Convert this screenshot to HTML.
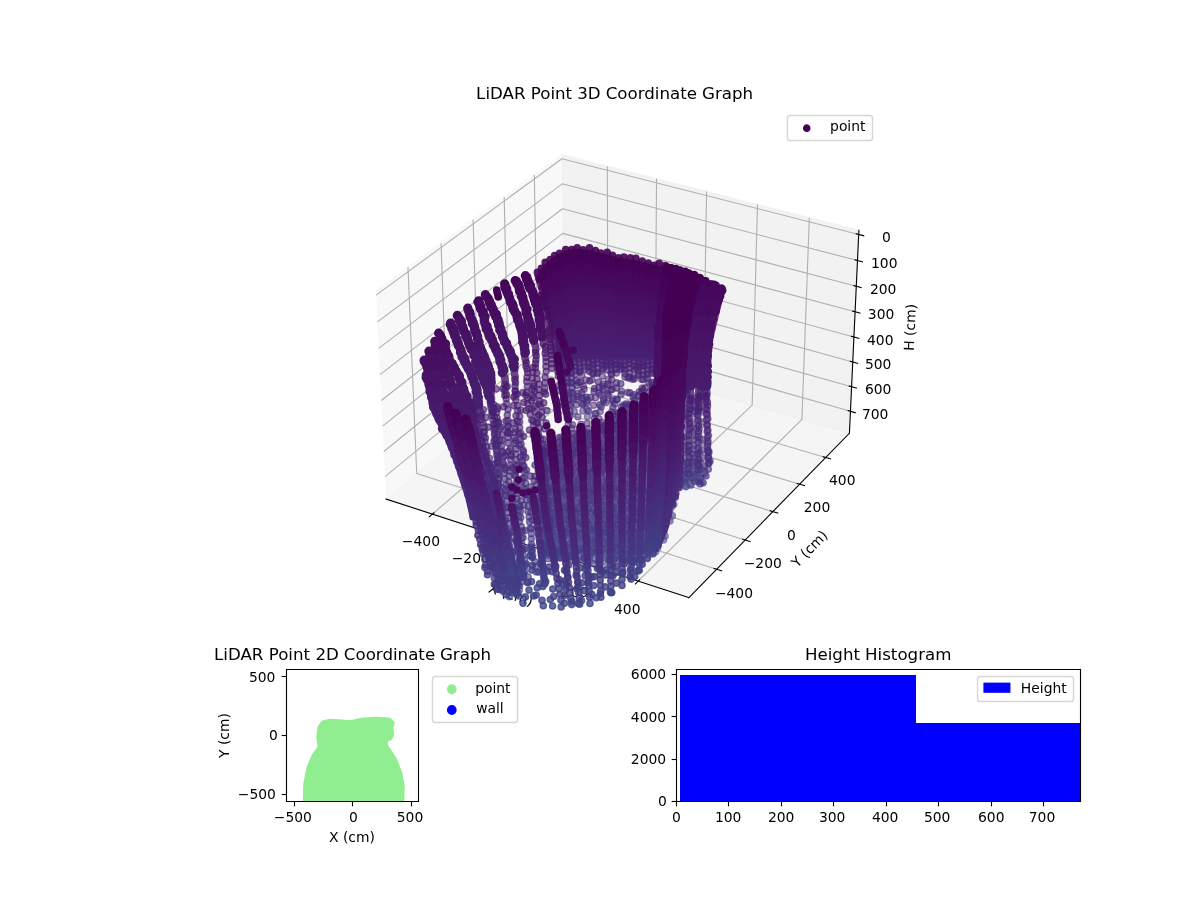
<!DOCTYPE html>
<html lang="en"><head><meta charset="utf-8"><title>LiDAR Point Coordinate Graphs</title>
<style>html,body{margin:0;padding:0;background:#fff;overflow:hidden}svg{display:block;will-change:transform}</style></head>
<body>
<svg width="1200" height="900" viewBox="0 0 864 648">
<defs>
<style type="text/css">*{stroke-linejoin: round; stroke-linecap: butt}</style>
</defs>
<g id="figure_1">
<g id="patch_1">
<path d="M 0 648 L 864 648 L 864 0 L 0 0 z
" style="fill: #ffffff"/>
</g>
<g id="patch_2">
<path d="M 252.72 457.92 L 632.88 457.92 L 632.88 77.76 L 252.72 77.76 z
" style="fill: #ffffff"/>
</g>
<g id="pane3d_1">
<g id="patch_3">
<path d="M 270.649807 209.421571 L 404.544158 111.363139 L 406.194684 252.500276 L 278.005556 359.306246 
" style="fill: #f2f2f2; opacity: 0.5; stroke: #f2f2f2; stroke-linejoin: miter"/>
</g>
</g>
<g id="pane3d_2">
<g id="patch_4">
<path d="M 404.544158 111.363139 L 618.399445 165.797632 L 611.588289 311.885587 L 406.194684 252.500276 
" style="fill: #e6e6e6; opacity: 0.5; stroke: #e6e6e6; stroke-linejoin: miter"/>
</g>
</g>
<g id="pane3d_3">
<g id="patch_5">
<path d="M 278.005556 359.306246 L 495.989588 430.291702 L 611.588289 311.885587 L 406.194684 252.500276 
" style="fill: #ececec; opacity: 0.5; stroke: #ececec; stroke-linejoin: miter"/>
</g>
</g>
<g id="grid3d_1">
<g id="Line3DCollection_1">
<path d="M 311.305483 370.150208 L 437.69361 261.607538 L 437.285307 119.697035 
" style="fill: none; stroke: #b0b0b0; stroke-width: 0.8"/>
<path d="M 347.354485 381.889393 L 471.743036 271.452225 L 472.700105 128.71148 
" style="fill: none; stroke: #b0b0b0; stroke-width: 0.8"/>
<path d="M 384.063623 393.843548 L 506.362798 281.461813 L 508.732165 137.883041 
" style="fill: none; stroke: #b0b0b0; stroke-width: 0.8"/>
<path d="M 421.451198 406.018632 L 541.567347 291.64048 L 545.397769 147.215864 
" style="fill: none; stroke: #b0b0b0; stroke-width: 0.8"/>
<path d="M 459.536194 418.420828 L 577.371627 301.992547 L 582.713773 156.714239 
" style="fill: none; stroke: #b0b0b0; stroke-width: 0.8"/>
</g>
</g>
<g id="grid3d_2">
<g id="Line3DCollection_2">
<path d="M 293.732912 192.516503 L 300.039382 340.94787 L 515.935031 409.861867 
" style="fill: none; stroke: #b0b0b0; stroke-width: 0.8"/>
<path d="M 317.54512 175.077472 L 322.797789 321.98578 L 536.503276 388.794104 
" style="fill: none; stroke: #b0b0b0; stroke-width: 0.8"/>
<path d="M 340.624724 158.174968 L 344.883804 303.583922 L 556.431751 368.381648 
" style="fill: none; stroke: #b0b0b0; stroke-width: 0.8"/>
<path d="M 363.005022 141.784605 L 366.32679 285.717829 L 575.74985 348.594392 
" style="fill: none; stroke: #b0b0b0; stroke-width: 0.8"/>
<path d="M 384.717322 125.883456 L 387.154427 268.364438 L 594.485192 329.404047 
" style="fill: none; stroke: #b0b0b0; stroke-width: 0.8"/>
</g>
</g>
<g id="grid3d_3">
<g id="Line3DCollection_3">
<path d="M 618.258725 168.815845 L 404.578192 114.273366 L 270.802017 212.523078 
" style="fill: none; stroke: #b0b0b0; stroke-width: 0.8"/>
<path d="M 617.38446 187.56736 L 404.789698 132.359366 L 271.747438 231.787481 
" style="fill: none; stroke: #b0b0b0; stroke-width: 0.8"/>
<path d="M 616.519125 206.127355 L 404.999151 150.269774 L 272.68282 250.847337 
" style="fill: none; stroke: #b0b0b0; stroke-width: 0.8"/>
<path d="M 615.662584 224.498747 L 405.20658 168.007136 L 273.608324 269.705887 
" style="fill: none; stroke: #b0b0b0; stroke-width: 0.8"/>
<path d="M 614.814702 242.684398 L 405.412015 185.573947 L 274.524103 288.366302 
" style="fill: none; stroke: #b0b0b0; stroke-width: 0.8"/>
<path d="M 613.975349 260.68711 L 405.615484 202.972656 L 275.430311 306.831689 
" style="fill: none; stroke: #b0b0b0; stroke-width: 0.8"/>
<path d="M 613.144398 278.50963 L 405.817016 220.205665 L 276.327098 325.105089 
" style="fill: none; stroke: #b0b0b0; stroke-width: 0.8"/>
<path d="M 612.321723 296.15465 L 406.016636 237.275328 L 277.214608 343.189482 
" style="fill: none; stroke: #b0b0b0; stroke-width: 0.8"/>
</g>
</g>
<g id="axis3d_1">
<g id="line2d_1">
<path d="M 278.005556 359.306246 L 495.989588 430.291702 
" style="fill: none; stroke: #000000; stroke-width: 0.8; stroke-linecap: square"/>
</g>
<g id="xtick_1">
<g id="line2d_2">
<path d="M 312.40837 369.203044 L 309.094854 372.048706 
" style="fill: none; stroke: #000000; stroke-width: 0.8; stroke-linecap: square"/>
</g>
<g id="text_1">
<g transform="translate(-0.54 0)"><text style="font-size: 10px; font-family: 'DejaVu Sans', 'Liberation Sans', sans-serif; text-anchor: middle" x="303.602334" y="393.062828">−400</text></g>
</g>
</g>
<g id="xtick_2">
<g id="line2d_3">
<path d="M 348.440742 380.92497 L 345.177145 383.822523 
" style="fill: none; stroke: #000000; stroke-width: 0.8; stroke-linecap: square"/>
</g>
<g id="text_2">
<g transform="translate(-0.72 0.72)"><text style="font-size: 10px; font-family: 'DejaVu Sans', 'Liberation Sans', sans-serif; text-anchor: middle" x="339.686619" y="404.975681">−200</text></g>
</g>
</g>
<g id="xtick_3">
<g id="line2d_4">
<path d="M 385.132454 392.86139 L 381.92117 395.812266 
" style="fill: none; stroke: #000000; stroke-width: 0.8; stroke-linecap: square"/>
</g>
<g id="text_3">
<g transform="translate(0.36 0.72)"><text style="font-size: 10px; font-family: 'DejaVu Sans', 'Liberation Sans', sans-serif; text-anchor: middle" x="376.433636" y="417.107327">0</text></g>
</g>
</g>
<g id="xtick_4">
<g id="line2d_5">
<path d="M 422.501771 405.018246 L 419.3453 408.023931 
" style="fill: none; stroke: #000000; stroke-width: 0.8; stroke-linecap: square"/>
</g>
<g id="text_4">
<g transform="translate(0.18 0.72)"><text style="font-size: 10px; font-family: 'DejaVu Sans', 'Liberation Sans', sans-serif; text-anchor: middle" x="413.861812" y="429.463852">200</text></g>
</g>
</g>
<g id="xtick_5">
<g id="line2d_6">
<path d="M 460.567638 417.401701 L 457.468595 420.463737 
" style="fill: none; stroke: #000000; stroke-width: 0.8; stroke-linecap: square"/>
</g>
<g id="text_5">
<g transform="translate(-0.36 0)"><text style="font-size: 10px; font-family: 'DejaVu Sans', 'Liberation Sans', sans-serif; text-anchor: middle" x="451.990263" y="442.051565">400</text></g>
</g>
</g>
<g id="text_6">
<g transform="translate(0.18 0.72)"><text style="font-size: 10px; font-family: 'DejaVu Sans', 'Liberation Sans', sans-serif; text-anchor: middle" x="366.564638" y="430.640746" transform="rotate(-341.962409 366.564638 430.640746)">X (cm)</text></g>
</g>
</g>
<g id="axis3d_2">
<g id="line2d_7">
<path d="M 611.588289 311.885587 L 495.989588 430.291702 
" style="fill: none; stroke: #000000; stroke-width: 0.8; stroke-linecap: square"/>
</g>
<g id="xtick_6">
<g id="line2d_8">
<path d="M 514.114542 409.280766 L 519.580775 411.02559 
" style="fill: none; stroke: #000000; stroke-width: 0.8; stroke-linecap: square"/>
</g>
<g id="text_7">
<g transform="translate(-0.54 0)"><text style="font-size: 10px; font-family: 'DejaVu Sans', 'Liberation Sans', sans-serif; text-anchor: middle" x="528.996032" y="430.235826">−400</text></g>
</g>
</g>
<g id="xtick_7">
<g id="line2d_9">
<path d="M 534.702714 388.231215 L 540.109039 389.921333 
" style="fill: none; stroke: #000000; stroke-width: 0.8; stroke-linecap: square"/>
</g>
<g id="text_8">
<g transform="translate(-0.18 0)"><text style="font-size: 10px; font-family: 'DejaVu Sans', 'Liberation Sans', sans-serif; text-anchor: middle" x="549.371177" y="408.952405">−200</text></g>
</g>
</g>
<g id="xtick_8">
<g id="line2d_10">
<path d="M 554.650767 367.836128 L 559.998239 369.474073 
" style="fill: none; stroke: #000000; stroke-width: 0.8; stroke-linecap: square"/>
</g>
<g id="text_9">
<g transform="translate(0.72 0.72)"><text style="font-size: 10px; font-family: 'DejaVu Sans', 'Liberation Sans', sans-serif; text-anchor: middle" x="569.112155" y="388.331423">0</text></g>
</g>
</g>
<g id="xtick_9">
<g id="line2d_11">
<path d="M 573.988097 348.065449 L 579.277757 349.653601 
" style="fill: none; stroke: #000000; stroke-width: 0.8; stroke-linecap: square"/>
</g>
<g id="text_10">
<text style="font-size: 10px; font-family: 'DejaVu Sans', 'Liberation Sans', sans-serif; text-anchor: middle" x="588.248117" y="368.342426">200</text>
</g>
</g>
<g id="xtick_10">
<g id="line2d_12">
<path d="M 592.742329 328.890936 L 597.975205 330.43153 
" style="fill: none; stroke: #000000; stroke-width: 0.8; stroke-linecap: square"/>
</g>
<g id="text_11">
<g transform="translate(-0.36 0)"><text style="font-size: 10px; font-family: 'DejaVu Sans', 'Liberation Sans', sans-serif; text-anchor: middle" x="606.806458" y="348.956799">400</text></g>
</g>
</g>
<g id="text_12">
<g transform="translate(-0.72 0.36)"><text style="font-size: 10px; font-family: 'DejaVu Sans', 'Liberation Sans', sans-serif; text-anchor: middle" x="585.993013" y="397.180198" transform="rotate(-45.687359 585.993013 397.180198)">Y (cm)</text></g>
</g>
</g>
<g id="axis3d_3">
<g id="line2d_13">
<path d="M 611.588289 311.885587 L 618.399445 165.797632 
" style="fill: none; stroke: #000000; stroke-width: 0.8; stroke-linecap: square"/>
</g>
<g id="xtick_11">
<g id="line2d_14">
<path d="M 616.460211 168.35677 L 621.860293 169.735155 
" style="fill: none; stroke: #000000; stroke-width: 0.8; stroke-linecap: square"/>
</g>
<g id="text_13">
<g transform="translate(0.54 0)"><text style="font-size: 10px; font-family: 'DejaVu Sans', 'Liberation Sans', sans-serif; text-anchor: middle" x="637.61975" y="173.978823">0</text></g>
</g>
</g>
<g id="xtick_12">
<g id="line2d_15">
<path d="M 615.59554 187.102802 L 620.966794 188.497644 
" style="fill: none; stroke: #000000; stroke-width: 0.8; stroke-linecap: square"/>
</g>
<g id="text_14">
<text style="font-size: 10px; font-family: 'DejaVu Sans', 'Liberation Sans', sans-serif; text-anchor: middle" x="636.648264" y="192.701225">100</text>
</g>
</g>
<g id="xtick_13">
<g id="line2d_16">
<path d="M 614.739696 205.657448 L 620.082429 207.068341 
" style="fill: none; stroke: #000000; stroke-width: 0.8; stroke-linecap: square"/>
</g>
<g id="text_15">
<g transform="translate(0.18 0.72)"><text style="font-size: 10px; font-family: 'DejaVu Sans', 'Liberation Sans', sans-serif; text-anchor: middle" x="635.686679" y="211.232825">200</text></g>
</g>
</g>
<g id="xtick_14">
<g id="line2d_17">
<path d="M 613.892546 224.023625 L 619.207058 225.450172 
" style="fill: none; stroke: #000000; stroke-width: 0.8; stroke-linecap: square"/>
</g>
<g id="text_16">
<g transform="translate(-0.36 0)"><text style="font-size: 10px; font-family: 'DejaVu Sans', 'Liberation Sans', sans-serif; text-anchor: middle" x="634.734844" y="229.576525">300</text></g>
</g>
</g>
<g id="xtick_15">
<g id="line2d_18">
<path d="M 613.053958 242.20419 L 618.340544 243.646002 
" style="fill: none; stroke: #000000; stroke-width: 0.8; stroke-linecap: square"/>
</g>
<g id="text_17">
<g transform="translate(0 0.72)"><text style="font-size: 10px; font-family: 'DejaVu Sans', 'Liberation Sans', sans-serif; text-anchor: middle" x="633.792611" y="247.735169">400</text></g>
</g>
</g>
<g id="xtick_16">
<g id="line2d_19">
<path d="M 612.223802 260.201942 L 617.482755 261.658641 
" style="fill: none; stroke: #000000; stroke-width: 0.8; stroke-linecap: square"/>
</g>
<g id="text_18">
<g transform="translate(-0.54 0)"><text style="font-size: 10px; font-family: 'DejaVu Sans', 'Liberation Sans', sans-serif; text-anchor: middle" x="632.859836" y="265.711542">500</text></g>
</g>
</g>
<g id="xtick_17">
<g id="line2d_20">
<path d="M 611.401951 278.019625 L 616.633558 279.490841 
" style="fill: none; stroke: #000000; stroke-width: 0.8; stroke-linecap: square"/>
</g>
<g id="text_19">
<g transform="translate(0.36 0)"><text style="font-size: 10px; font-family: 'DejaVu Sans', 'Liberation Sans', sans-serif; text-anchor: middle" x="631.936377" y="283.508377">600</text></g>
</g>
</g>
<g id="xtick_18">
<g id="line2d_21">
<path d="M 610.588283 295.659927 L 615.792825 297.1453 
" style="fill: none; stroke: #000000; stroke-width: 0.8; stroke-linecap: square"/>
</g>
<g id="text_20">
<g transform="translate(-0.9 0.72)"><text style="font-size: 10px; font-family: 'DejaVu Sans', 'Liberation Sans', sans-serif; text-anchor: middle" x="631.022095" y="301.128348">700</text></g>
</g>
</g>
<g id="text_21">
<g transform="translate(-0.18 0.9)"><text style="font-size: 10px; font-family: 'DejaVu Sans', 'Liberation Sans', sans-serif; text-anchor: middle" x="658.858044" y="234.942478" transform="rotate(-87.330594 658.858044 234.942478)">H (cm)</text></g>
</g>
</g>
<g id="axes_1">
<defs>
<path id="mafe2799c75" d="M 0 2.236068 C 0.593012 2.236068 1.161816 2.000462 1.581139 1.581139 C 2.000462 1.161816 2.236068 0.593012 2.236068 0 C 2.236068 -0.593012 2.000462 -1.161816 1.581139 -1.581139 C 1.161816 -2.000462 0.593012 -2.236068 0 -2.236068 C -0.593012 -2.236068 -1.161816 -2.000462 -1.581139 -1.581139 C -2.000462 -1.161816 -2.236068 -0.593012 -2.236068 0 C -2.236068 0.593012 -2.000462 1.161816 -1.581139 1.581139 C -1.161816 2.000462 -0.593012 2.236068 0 2.236068 z
" style="stroke: #440154"/>
</defs><g id="pts3d" transform="scale(0.72)"><style>#pts3d path.d{fill:none;stroke-linecap:round;stroke-width:7.59px}#pts3d path.w{stroke-width:9.4px}</style><linearGradient id="gA" gradientUnits="userSpaceOnUse" x1="0" y1="258" x2="0" y2="357"><stop offset="0" stop-color="#440154"/><stop offset=".2" stop-color="#460a5d"/><stop offset=".5" stop-color="#471365"/><stop offset=".8" stop-color="#481b6d"/><stop offset="1" stop-color="#482475"/></linearGradient><path d="M540.5 274L545.7 267.3L554.8 259.1L565.8 253L575 251.3L589.7 252.8L604.3 256.5L617.2 260.3L633.7 262.4L648.3 265.9L659.3 268.5L666.7 270.9L675.8 273.5L685 276.1L694.2 279.5L705.2 284.8L714.3 288.4L718.5 292L708 318L703 345L700 357L562 357L557 340L551 318L545 296Z" fill="url(#gA)" stroke="url(#gA)" stroke-width="5" stroke-linejoin="round"/><linearGradient id="gC" gradientUnits="userSpaceOnUse" x1="0" y1="270" x2="0" y2="550"><stop offset="0" stop-color="#440154"/><stop offset=".2" stop-color="#460b5e"/><stop offset=".5" stop-color="#481668"/><stop offset=".8" stop-color="#482071"/><stop offset="1" stop-color="#482979"/></linearGradient><path d="M668 275L697 284L696 318L694 350L690 380L683 400L679 440L677 478L672 500L666 528L659 545L652 543L656 480L663 420L668 360L669 310Z" fill="url(#gC)" stroke="url(#gC)" stroke-width="5" stroke-linejoin="round"/><linearGradient id="gB" gradientUnits="userSpaceOnUse" x1="0" y1="395" x2="0" y2="520"><stop offset="0" stop-color="#471063"/><stop offset=".2" stop-color="#48186a"/><stop offset=".5" stop-color="#482173"/><stop offset=".8" stop-color="#482979"/><stop offset="1" stop-color="#46307e"/></linearGradient><path d="M431 400L436 413L454 455L467.5 497L471 512L472 518L488 518L488 505L486 493L476 463L462 422L452 400Z" fill="url(#gB)" stroke="url(#gB)" stroke-width="5" stroke-linejoin="round"/><linearGradient id="gE" gradientUnits="userSpaceOnUse" x1="0" y1="400" x2="0" y2="555"><stop offset="0" stop-color="#482878"/><stop offset=".2" stop-color="#472e7c"/><stop offset=".5" stop-color="#463480"/><stop offset=".8" stop-color="#443a83"/><stop offset="1" stop-color="#424086"/></linearGradient><path d="M542 450L560 440L600 430L640 410L660 392L672 402L672 490L668 520L658 540L640 552L600 552L548 545L540 500Z" fill="url(#gE)" stroke="url(#gE)" stroke-width="5" stroke-linejoin="round" opacity=".6"/><path class="d" d="M657.9 388.8h0m1.9 4.2h0m-6.9 3.3h0m13.8-.1h0m-11.8 4.9h0m14.5 1.1h0m-25.2 3.8h0m15.8-1.6h0m12 .8h0m-31.9 2.3h0m14 1.8h0m17.1-.4h0" stroke="#482475" stroke-opacity=".6"/><path class="d" d="M662.9 390.3h0m2.4 2.1h0m-6.9 6.2h0m-12.9 3.7h0m14.4-1.1h0m14.1-.6h0m-25.1 3h0m14 1.5h0m-29.4 4.6h0m12.5-.6h0m13.4-.3h0" stroke="#482475" stroke-opacity=".6"/><path class="d" d="M656.3 392.4h0m-7.6 5.8h0m13.4-2.2h0m-10.8 4h0m14.8 .7h0m-26.2 4.5h0m12.4-1.4h0m13.7-.3h0m-28.6 4.9h0m13.3 .2h0m15.7-.5h0" stroke="#482475" stroke-opacity=".6"/><path class="d" d="M671.7 410.2h0m-37.8 2.4h0m15-.9h0m14.9 2.4h0m-44.8 2.3h0m13.4 1.4h0m12.5-1.1h0m14.5-.9h0m16.2 1.6h0m-55.8 4.4h0m14.9-.1h0m13.2-.5h0m14.6 .1h0m-62.2 3.8h0m12.9 0h0m15.2-.4h0m13.8-.3h0m13.6 2.1h0m14.7-1.8h0m-75.5 3.6h0m12.2-1h0m14.2 .5h0m13.5 .7h0m12.5 .9h0m15.3-1.5h0" stroke="#482878" stroke-opacity=".6"/><path class="d" d="M624.6 413.9h0m14.2-.5h0m15.3-1.1h0m14.1 .9h0m-44.9 4.3h0m14.6 .7h0m12.4-1.5h0m13 .3h0m-52.3 4.1h0m14.4-.6h0m14.6 .3h0m13.7-.5h0m13.3 .9h0m-62.5 4.6h0m13.3-.4h0m15 .6h0m13.6-.7h0m13.9-1h0m13.7 .6h0m-75.9 3.8h0m13.7 1.2h0m13.6-1.2h0m14 1.2h0m14.3-.8h0m13.8-.7h0" stroke="#482878" stroke-opacity=".6"/><path class="d" d="M630.1 413h0m14-.1h0m12.4 .8h0m15.7 0h0m-43.3 1.6h0m12.9 1.4h0m15 .5h0m12.3-.1h0m-53.5 3.1h0m13.8 1.6h0m15.3-2.3h0m12.8 .2h0m13.2 2h0m-60.3 2.7h0m13.1-1.1h0m12.3 1.2h0m14.3 .8h0m14.5-1.8h0m-76.1 5.4h0m12.7 .8h0m14.1-.9h0m14.2-.1h0m15 .4h0m13.3-.1h0m13.9-2.3h0" stroke="#482878" stroke-opacity=".6"/><path class="d" d="M568.5 434.1h0m13.4-1.8h0m12.8 1.4h0m15.2-1.1h0m13 2.7h0m14.5-2.9h0m12 1h0m16-.7h0m-106.7 5.1h0m12.3 .3h0m13.8-2h0m12.2 1.5h0m14.2 .6h0m14-1.7h0m15 .6h0m12.6-1.1h0m14.2 .9h0m-108 4.2h0m15.3-.2h0m12.5-.1h0m12 1.6h0m16-2.8h0m14.6 1.3h0m13.1-1h0m13.8 .8h0m12.3-.2h0m-125.2 4.4h0m14.1-.1h0m13.6-.1h0m13.8 .5h0m12.7-.7h0m15.1 0h0m13.5 1.5h0m12.9-1.8h0m15.8 .2h0m11.8-.3h0m-122 5.2h0m14.7-1.4h0m14.1 1.3h0m12.7-1.4h0m15 1h0m12.8-.8h0m14.2 .1h0" stroke="#472a7a" stroke-opacity=".6"/><path class="d" d="M573 433.7h0m13.5-1.5h0m15 1h0m11.8 0h0m14.8-1.1h0m13.4-.1h0m13.3 1h0m13.8-.7h0m-108.1 4.9h0m14.8-2.1h0m12.7 .9h0m15.2 1h0m12.1 .5h0m14.2-.6h0m15.2 0h0m14-1.6h0m13 1.3h0m-107.7 3.5h0m13 1.2h0m12.1-1h0m14.9 1.1h0m14.9-1.5h0m13.6 .6h0m13.1 .3h0m13.9 .6h0m13.5 .5h0m-124.2 2.1h0m13.7 .3h0m12 .6h0m15.6 .5h0m13.9-1.6h0m12.1-.6h0m13.7 .1h0m12.9 2.1h0m16.7-1.2h0m11.2-.3h0m-121.5 5h0m15.3-1.3h0m14.2 1.5h0m12.7-1.4h0m14 .2h0m14 .5h0m15.6 1.4h0" stroke="#472a7a" stroke-opacity=".6"/><path class="d" d="M577.4 433h0m13.4 1h0m14.7-1.7h0m13.8 .8h0m12.8 .5h0m13.2-1.7h0m14.4 .7h0m14.8 .4h0m-108.6 3.9h0m14.7-.3h0m11.7 .2h0m14.5-1.5h0m14 1.9h0m13.5-1.1h0m15.4-.1h0m12.3 1.8h0m-108.3 3.4h0m14.4 .2h0m14.2-1.1h0m13.7-1.4h0m14.1 1.9h0m14.7 1.2h0m12.5-2.8h0m13.9 1.1h0m13 1.6h0m-126.1 4h0m13.8-1.5h0m14.2 0h0m13.5-.2h0m12.7 .5h0m15.5-1.3h0m13.3 .7h0m13.9 2.6h0m13.3-2.7h0m13.2 .6h0m-120.3 4.6h0m14.2-1.2h0m11.8-.1h0m17.2 1h0m11.2-.3h0m14.9 1.1h0m12.1-2.6h0m14.5 .6h0" stroke="#472a7a" stroke-opacity=".6"/><path class="d" d="M642 450.9h0" stroke="#472e7c" stroke-opacity=".6"/><path class="d" d="M646.4 448.4h0m5.5-1h0m5.4 1.6h0" stroke="#472a7a" stroke-opacity=".6"/><path class="d" d="M660.4 450h0m4.8 .1h0" stroke="#472e7c" stroke-opacity=".6"/><path class="d" d="M669 449.5h0m3.7-.3h0" stroke="#472a7a" stroke-opacity=".6"/><path class="d" d="M539.1 451.6h0m11.5-.2h0m14.5 1.6h0m15.6 .9h0m12.4 0h0m15.1-1.3h0" stroke="#472e7c" stroke-opacity=".6"/><path class="d" d="M543.5 452.3h0m13.9 .9h0m14 .2h0m13.8 .4h0m14-.6h0" stroke="#472e7c" stroke-opacity=".6"/><path class="d" d="M548.4 453.5h0m13.3-1.3h0m15-.5h0m10.2 .4h0m14.9 .2h0" stroke="#472e7c" stroke-opacity=".6"/><path class="d" d="M610.5 450h0" stroke="#472a7a" stroke-opacity=".6"/><path class="d" d="M616.9 452.4h0m13.4 .9h0m13.3-.6h0m14.2 .1h0m14.8-.9h0m-122.1 4.9h0m13.4 .9h0m12.3-.2h0m15.1-.1h0m13.9-.2h0m13.9 .7h0m13-.9h0m13.7-1.5h0m13.2 2.4h0m15.2-.1h0m-128.2 1.2h0m15.2 1.7h0m15.1-.3h0m12.4 0h0m14.4 0h0m12.8 .2h0m14.8-.1h0m14.7 1h0m13.4-1.1h0m13.1 .7h0m-127.4 3.6h0m15.3 .6h0m12.8-1.1h0m14.9-.6h0m13.2 1.1h0m13.2 1.4h0m13.9-2.6h0m14.6-.2h0m13.5 1.9h0m14.4 .1h0m-126.2 3.7h0m12.7-.5h0m13.9 .4h0m13 .2h0m12.6-.1h0m15.9 .7h0m12.8-1.2h0m16.5-1h0m11.8 1.3h0m14.7 .4h0" stroke="#472e7c" stroke-opacity=".6"/><path class="d" d="M621.5 454.5h0m14.4-2.6h0m13.5 .2h0m12.9-1.2h0m-120.6 6.4h0m13.7 .6h0m13.6-2.4h0m12.6 2h0m15.2-.5h0m13.5 .8h0m11.5-.9h0m14.6-.2h0m12.8 1.3h0m15.1-1.3h0m-126.5 4.3h0m14.4 .8h0m13.4-1.5h0m15 1.9h0m10.9-1h0m15.1-.6h0m14.2 .1h0m13.6-.4h0m15.2 .7h0m14.9 .1h0m-126.2 3.9h0m12-.4h0m12.3 .5h0m14.2 1.4h0m17.3-1.8h0m11.1-.5h0m14.2 .3h0m13.7-.8h0m13.4 1.3h0m14.6 .7h0m13 .1h0m-127 2.1h0m14.2 1.6h0m14.8-2.2h0m14.1 1.8h0m13.1 0h0m13.2-1.5h0m14.5 2.3h0m13.5-1.5h0m14.2 .4h0m12.9-1.7h0" stroke="#472e7c" stroke-opacity=".6"/><path class="d" d="M625 452h0m15.3 1.2h0m12-.6h0m14.2-.1h0m-120.1 5.3h0m13.4-.9h0m13.1-1.2h0m14.3-.2h0m14.4 1.4h0m13.3 .2h0m14.8-.4h0m13.3-1h0m12.7 3h0m13.8-.6h0m-127.1 2.3h0m14.2 .9h0m14.3-.8h0m14.8 .2h0m11.6 0h0m14.4 .7h0m13.4-.6h0m14.5-.3h0m13.8 2.5h0m14.8-1.7h0m-126.4 3h0m12.4 .3h0m14.2 .1h0m13.4 .8h0m14.2 .1h0m11.5-.1h0m15.9-1.2h0m14.5 2.2h0m13-2.3h0m13.5 .4h0m-126.3 4.9h0m11.7-.5h0m16.7 .5h0m13.8-1.5h0m13.4 1.2h0m14.4-.2h0m12.6-1h0m13.5 1.1h0m14.9-1.1h0m12.8-.7h0" stroke="#472e7c" stroke-opacity=".6"/><path class="d" d="M539.2 472.8h0m14.9-.7h0m14.2 .4h0m13.1 .4h0m14.1-.9h0m14.1 .6h0m15.4 1.1h0m11.5-.8h0m14.7-.9h0m13.7-.1h0m-126.4 7.1h0m13.7-3.6h0m12.3 2h0m15.6-1.4h0m12.6 1.4h0m14.8 1.1h0m13.6-2h0m14.1-.5h0m15.3 .8h0m10.7-.8h0m-120.5 5.2h0m14.4-.4h0m13.1-.1h0m13.2-1.3h0m13.7 1h0m14.7 .5h0m13.2 0h0m13.5-.1h0m15-.3h0m14.4-1.8h0m-129 5.4h0m15 3.3h0m13.9-.9h0m13.2-2h0m14.2 1.1h0m14.1-1.3h0m13.7 .4h0m15.3-.2h0m14.7-.5h0m9.7 .5h0m-118.9 3.9h0m13.2 .8h0m12.8-2.1h0m13.1 .9h0m12.3 1.1h0m17.4-1.2h0m11.2 1.6h0m15.3-.9h0m14.5-.7h0m13.1 1.8h0" stroke="#46307e" stroke-opacity=".6"/><path class="d" d="M544.3 472.4h0m16.2-.6h0m11.4 .3h0m14.8 .8h0m14.3 .1h0m13.7 .6h0m13.4-.8h0m13.5-1.9h0m13.6 2.6h0m13.9-1.8h0m-126.7 4.7h0m15.5 1.2h0m12.7-3.1h0m14.7 2.3h0m12-1.4h0m15.1 1.8h0m12.5-1.3h0m13.1 1.3h0m14.4 0h0m14.4-1.8h0m-120.9 5.4h0m12.4-.5h0m15.5-.2h0m13 1.5h0m11.5-.8h0m14.9-.6h0m14.2-.5h0m14.1-.5h0m14.2 .2h0m15.1-.2h0m-127.6 5.7h0m14.2 .3h0m13.4-2.2h0m13.1 .3h0m12.5 1.7h0m15.1 1.3h0m13.1-2.1h0m15.3 1.6h0m14.1-1.3h0m13.3-1.1h0m-120.4 5.5h0m11.5-.4h0m14.9-.7h0m12.5 .4h0m15.5-.2h0m13.7 .3h0m13-1.1h0m14.3 1h0m12.1 .1h0m12.7 0h0" stroke="#46307e" stroke-opacity=".6"/><path class="d" d="M548.8 471.5h0m13.8 1.5h0m16.6-1.6h0m11.5 1.1h0m15.3-1.9h0m12.7 2.6h0m13.5 .1h0m14.2-.8h0m14.8 1.7h0m13.6-2.3h0m-127.2 4.8h0m13.6-.2h0m15-1.8h0m12.5 1.2h0m12.5-.3h0m14.5 .7h0m15 0h0m13.7 .7h0m14.2 .3h0m13-2.4h0m-121.6 5.6h0m13.8 .2h0m13.3-.2h0m14.5-.2h0m11.2 .9h0m17.9 1h0m12.8-3h0m13.4 1.4h0m13.7-.9h0m12.1 .8h0m-124.6 4.7h0m12.8 1.1h0m14.1-2h0m12.7 .9h0m15.2-1h0m13-.4h0m13 .5h0m14.7-.1h0m15.4 .4h0m13.5-1.4h0m-122.2 6.7h0m13.3-1.1h0m14.1-.2h0m13 .3h0m15.1-2.2h0m12.4 .7h0m15.3 2.2h0m13.2 0h0m14.2-2.2h0m10.9 1.8h0" stroke="#46307e" stroke-opacity=".6"/><path class="d" d="M537.9 492.7h0m14.7-.2h0m11.8 .6h0m14.3-.1h0m15.7 1.6h0m11.9-1.8h0m15.2-.3h0m15.8 .7h0m12.1-.4h0m14-.8h0m-121.6 5.1h0m13.9-.6h0m12.9-1.3h0m14.7 .5h0m10.9-1.7h0m16.7 1.8h0m12.4 .5h0m14.6 0h0m12.3-.1h0m13.1 .9h0m-125.9 3.8h0m15-.3h0m14.5-3.2h0m14.4 3.1h0m11-.1h0m14.5 1.4h0m13.9 .2h0m13.6-1.6h0m14.4-.4h0m14.2-1h0m-123.7 4.8h0m15.4 0h0m14-.2h0m12.8 1.6h0m14.9-.5h0m13.5-1.6h0m11.7 1.6h0m14.4 1.8h0m15.2-1.9h0m14.2 .2h0m-126.8 3.8h0m12.8-.5h0m13.8-1h0m12.6 1.3h0m16.1 .6h0m12.9 .4h0m15.2-.7h0m13 0h0m13.8-.8h0m13.9-.2h0" stroke="#463480" stroke-opacity=".6"/><path class="d" d="M543.1 492h0m13.8 1.9h0m13.8-2.4h0m13.1 .4h0m13 .5h0m15.2 .2h0m13.2-.7h0m14.2 .5h0m14.1-.8h0m14.3 2h0m-123.1 1.8h0m13.4 1.4h0m14.9-1.2h0m13.8 0h0m13.4 1.6h0m13.7-1h0m14.5 0h0m12.8 2.9h0m13.2-3.1h0m14 .7h0m-125.2 3.6h0m13.3-.9h0m14.2 1.3h0m12.1-.3h0m15.5 1.1h0m12.3-2.2h0m16.4 1.4h0m12.8-.1h0m14.1-.3h0m10.8 .9h0m-118.7 4.8h0m12.3-2.8h0m13 1.3h0m15.3 0h0m13.6-.1h0m13.2 2.7h0m13.5-2h0m14.2 .1h0m14.4 .8h0m12.7-1.3h0m-125.4 5.1h0m14.6-2h0m11.4 1.1h0m14.7-.5h0m15.4 .5h0m14.2-1.7h0m11.4 .5h0m15.3 1.6h0m14.3-1.3h0m14 1.2h0" stroke="#463480" stroke-opacity=".6"/><path class="d" d="M548.1 495.7h0m14-3.4h0m12.8 .3h0m16.2 .4h0m11.3-1.6h0m12.5 .7h0m14.3 0h0m14.5 .4h0m13.5 0h0m14.8 1.3h0m-122.3 3.7h0m14-2.3h0m12.6-.4h0m15 2.1h0m13.4-.6h0m13.4-.8h0m14.8 2.3h0m14-.1h0m13.9-1.2h0m12.7-.9h0m-124.2 3.2h0m11.9 .2h0m14.3 2.2h0m14.6 1.4h0m10.2-.9h0m17 .2h0m12.8-1.1h0m13.8-.5h0m13.7 .4h0m15.2-.1h0m-122.7 3.5h0m13.4 .2h0m13.2-1.2h0m14.8 .5h0m12.2 1.9h0m14.2-.2h0m13.8-1.1h0m15.9 0h0m12.3-.2h0m13.8 .6h0m-125.7 3.7h0m13.2-.5h0m13.8 .5h0m13.2 .4h0m13.6 .7h0m14.2-1.2h0m14.2 0h0m13.9 0h0m14.3 1.1h0m13.1-2.3h0" stroke="#463480" stroke-opacity=".6"/><path class="d" d="M542.4 512.8h0m13.3-.9h0m13.1-.1h0m12 1.4h0m15.1 0h0m13.8 1h0m12.6-2.3h0m13.5 .1h0m14.9 1.3h0m14.4-1.4h0m-122.8 4.9h0m13 .4h0m14.7-1.1h0m13.7-.3h0m14.7 .5h0m13.2 .1h0m12.9 .4h0m16.3-.9h0m12.9 2.1h0m11.7-1.8h0m-120 3.5h0m13.7 .4h0m15.1 1.5h0m13.4-.3h0m12.7-.7h0m15.4-.1h0m12.4 .1h0m14.7 .4h0m11.9 .4h0m15.2-.5h0m-116.3 3.9h0m13.6-.4h0m13.8-1.4h0m13.1 3.1h0m13.8-1.6h0m13.8 1h0m15.4-2.7h0m11.4 3.2h0m13.6-1.3h0m-112.6 4.6h0m14.4-.7h0" stroke="#453781" stroke-opacity=".6"/><path class="d" d="M544.2 513.5h0m15.8-1.7h0m13.8 .4h0m12.3 0h0m13.3 1.6h0m13.4-.7h0m16.8-2.4h0m12.7 2.5h0m12.9 .4h0m14.7-1h0m-122.9 4.1h0m14.6-2.3h0m13.2 2.3h0m13.4 .9h0m13.9-1.2h0m15.6 .5h0m12.2-.3h0m15.1-.8h0m13.5-.2h0m13.9 .2h0m-121.7 5.5h0m13.4-1.9h0m12.6 1.9h0m13.1-1.5h0m15.7 .6h0m12.7-.2h0m15.6 0h0m12.1 .2h0m15.3-.8h0m-118.6 5.4h0m15.7-1h0m11.6-.8h0m13.3 2h0m14.4-1.4h0m14.4 1.2h0m14-.7h0m14.7 1.1h0m12.8-.5h0m12.3 0h0m-111.6 2.8h0m13.2 .8h0" stroke="#453781" stroke-opacity=".6"/><path class="d" d="M551 513.1h0m13-.5h0m12.4 .6h0m14.1-.6h0m13.9 1.4h0m13.6-.2h0m14.3-2.8h0m14.4 2.4h0m13-1.6h0m-120.5 7.3h0m12.9-3h0m12.3-.4h0m15.1 1h0m15.3-.8h0m13.2 .5h0m12.5-.3h0m14.6-.7h0m16.1 1h0m12.7 .5h0m-124.3 3.7h0m15-2h0m13.4 .3h0m14.8 3h0m13.4-1.6h0m13 .9h0m14.3-1.3h0m13.6-1.1h0m14.4 1.4h0m13-.4h0m-118 4.8h0m14 .1h0m15.9-2.3h0m12.7 2.8h0m13.5-.7h0m15.4 .3h0m12.6-.6h0m12.4-.6h0m15.1 .3h0m-113.6 5h0m15.8-.3h0" stroke="#453781" stroke-opacity=".6"/><path class="d" d="M574.1 530.1h0" stroke="#443a83" stroke-opacity=".6"/><path class="d" d="M578 529.8h0m3.2-.4h0m5.3 .4h0m3.2-1h0" stroke="#453781" stroke-opacity=".6"/><path class="d" d="M595.2 530.2h0" stroke="#443a83" stroke-opacity=".6"/><path class="d" d="M600.3 528.9h0m3.5-.3h0" stroke="#453781" stroke-opacity=".6"/><path class="d" d="M610.9 530.7h0" stroke="#443a83" stroke-opacity=".6"/><path class="d" d="M613.4 527.7h0m15.7 2h0m13.1-1.7h0m12.3 1.5h0" stroke="#453781" stroke-opacity=".6"/><path class="d" d="M618.3 528.5h0m12.9 .1h0m15.3-1.1h0m14.1 0h0" stroke="#453781" stroke-opacity=".6"/><path class="d" d="M622.3 527.1h0m15.9 1.6h0m11.5-.2h0m14.9-1.2h0" stroke="#453781" stroke-opacity=".6"/><path class="d" d="M543.8 531.9h0m13.9 .4h0m12 .8h0m15.2-1.4h0m12.8 1.1h0m14.8 1h0m13.8 .2h0m12.7-.9h0m14.8-2.6h0m-108.8 7.3h0m13.5-.6h0m14.6 0h0m13.8-1h0m14.2-.5h0m14 1.4h0m15.1 .8h0m12-1.3h0m12.6 .6h0m-108.3 3h0m14.3 1.2h0m13.7-.5h0m16.5 .5h0m12.9 .2h0m13.1-.1h0m11.9-1.4h0m15.9-.4h0m12.3 3.9h0m-107.2 .8h0m14.6 .1h0m13-.7h0m13.5 .5h0m14.5-.8h0m11.6 1.1h0m15.5 0h0m13.2 .5h0m12.3-.8h0m-102.1 4h0m14-.4h0m13.9 1.6h0m14.6 .4h0m13.5-.6h0m14.2-.9h0m12.7 0h0m16.3 .8h0" stroke="#443a83" stroke-opacity=".6"/><path class="d" d="M547.3 534.1h0m14.3-2.3h0m14.3 1.5h0m13.9-.1h0m13.8-1.1h0m11.8 .7h0m13.9-.7h0m13.9-.3h0m14-.5h0m-107.7 5.6h0m14.2-.8h0m14.6 2.3h0m12.6-1.7h0m14 .9h0m12.9-.3h0m13.6-.6h0m16.6-1.4h0m12.8 1.4h0m-109.1 4.1h0m12-1.3h0m16.8-1.8h0m12.7 3.3h0m13.6-.4h0m13.5-1.8h0m14.3 .8h0m13.8 3.1h0m15.1-2.8h0m-110.2 3.7h0m15.1 1.2h0m15.3-.7h0m12.8 .7h0m13.5-2.4h0m12.5 3.3h0m13.7-.6h0m15.2-.2h0m-103.5 5h0m15.4-.7h0m11.8 0h0m13.1-.4h0m13.9-.1h0m14.2-1.1h0m13.8 1.1h0m14.7-.3h0m12.7-.3h0" stroke="#443a83" stroke-opacity=".6"/><path class="d" d="M551.4 532.1h0m14 0h0m15 1h0m13.6-1.6h0m11.7 .7h0m15.8 .6h0m12.8-.6h0m16.4 .5h0m13.5-1.7h0m-110.3 4.3h0m14.4 .1h0m12.5 1.1h0m15.2 .9h0m14.8-2.3h0m13.2 .9h0m13.2 1.7h0m13.9-3.2h0m14 1.5h0m-108.1 3.5h0m14.6 .5h0m14.4 .6h0m10.6 .4h0m15-.7h0m13.9-.2h0m14.5 .1h0m11.5 1h0m-106.2 3.1h0m15 1.5h0m12.5 .4h0m14.4-1.2h0m12.3-1.3h0m14.9 .2h0m13.3-.4h0m15.5-.6h0m12.4-.3h0m-103.3 6.8h0m12.7-.2h0m15.3-.1h0m13.9-.6h0m13.3-.4h0m13.5 .4h0m13.4-.9h0m15.3 .3h0" stroke="#443a83" stroke-opacity=".6"/><path class="d" d="M545.9 552.6h0m13.1-.7h0m12.8 .5h0m14.3 1h0m11.8-1.4h0m15.7-.1h0m14.3 1.9h0m12.8-2.2h0m14.9 .1h0m-89.4 5.4h0m13-2h0m13.2 1.6h0m15.4 .8h0m13.7-.9h0m14.7-.3h0m13-1.7h0m-69 6.1h0m16.3-.7h0m12-.1h0m15.6-.2h0m17.7 .4h0" stroke="#433e85" stroke-opacity=".6"/><path class="d" d="M549.2 554h0m14.2-.9h0m13.5-1.4h0m14.9 .8h0m12.8 1h0m14.8 .7h0m12.6-2.3h0m12.9-.8h0m-96.6 4.4h0m22.6 .6h0m12.7 1.2h0m15-.2h0m13.4-.6h0m13.7-1.8h0m13.3 2.3h0m-70.7 1.9h0m19.6 2.9h0m12.4-2.4h0m13.4 .6h0m14.3 .8h0m-34.5 3h0" stroke="#433e85" stroke-opacity=".6"/><path class="d" d="M554.6 551.7h0m12.4 2.1h0m14.5-3.1h0m14 .7h0m14.2 .5h0m12 1h0m16 .1h0m13.1-.3h0m-90.8 4.7h0m15.2 0h0m15-2.2h0m10.7-.7h0m15.5 .8h0m13.7 .6h0m14.1 .1h0m-67.3 4.3h0m12.8 .1h0m14.6-.7h0m14.9-.7h0m13.3 .5h0m-26.4 2.8h0" stroke="#433e85" stroke-opacity=".6"/><g fill="#481769" stroke="#481769" fill-opacity=".6" stroke-opacity=".6" stroke-width="1.39"><circle cx="507.2" cy="386.6" r="3.1"/><circle cx="533.6" cy="386" r="3.1"/></g><g fill="#481a6c" stroke="#481a6c" fill-opacity=".6" stroke-opacity=".6" stroke-width="1.39"><circle cx="496.3" cy="389.1" r="3.1"/></g><g fill="#481769" stroke="#481769" fill-opacity=".6" stroke-opacity=".6" stroke-width="1.39"><circle cx="503.1" cy="388.7" r="3.1"/></g><g fill="#481a6c" stroke="#481a6c" fill-opacity=".6" stroke-opacity=".6" stroke-width="1.39"><circle cx="515.5" cy="391.4" r="3.1"/><circle cx="522.9" cy="392.5" r="3.1"/><circle cx="534.5" cy="391.1" r="3.1"/><circle cx="544.1" cy="392.3" r="3.1"/><circle cx="490.5" cy="397.9" r="3.1"/><circle cx="504.8" cy="395.4" r="3.1"/><circle cx="513.8" cy="397.1" r="3.1"/><circle cx="517.2" cy="394.4" r="3.1"/><circle cx="525.7" cy="395.3" r="3.1"/><circle cx="533.4" cy="397.9" r="3.1"/><circle cx="475.1" cy="404.3" r="3.1"/><circle cx="513.6" cy="405.6" r="3.1"/><circle cx="523.8" cy="402.5" r="3.1"/><circle cx="538.7" cy="404.2" r="3.1"/><circle cx="543.7" cy="402.9" r="3.1"/></g><g fill="#481d6f" stroke="#481d6f" fill-opacity=".6" stroke-opacity=".6" stroke-width="1.39"><circle cx="475.3" cy="408.9" r="3.1"/><circle cx="483.4" cy="409.7" r="3.1"/><circle cx="497.7" cy="409" r="3.1"/></g><g fill="#481a6c" stroke="#481a6c" fill-opacity=".6" stroke-opacity=".6" stroke-width="1.39"><circle cx="503.7" cy="406.8" r="3.1"/></g><g fill="#481d6f" stroke="#481d6f" fill-opacity=".6" stroke-opacity=".6" stroke-width="1.39"><circle cx="520.8" cy="410" r="3.1"/><circle cx="526.2" cy="410.5" r="3.1"/><circle cx="532.2" cy="408.7" r="3.1"/><circle cx="546.8" cy="410.6" r="3.1"/><circle cx="474.7" cy="415.2" r="3.1"/><circle cx="480.5" cy="415.5" r="3.1"/><circle cx="485.9" cy="417.4" r="3.1"/><circle cx="492.3" cy="412.6" r="3.1"/><circle cx="516" cy="415.8" r="3.1"/><circle cx="538.8" cy="415.1" r="3.1"/><circle cx="498.3" cy="421.8" r="3.1"/><circle cx="505.9" cy="421.1" r="3.1"/><circle cx="513.3" cy="422.9" r="3.1"/><circle cx="517.3" cy="421.4" r="3.1"/><circle cx="533.3" cy="421.2" r="3.1"/><circle cx="537.9" cy="423.3" r="3.1"/><circle cx="546" cy="423.1" r="3.1"/></g><g fill="#482173" stroke="#482173" fill-opacity=".6" stroke-opacity=".6" stroke-width="1.39"><circle cx="488.5" cy="427.1" r="3.1"/><circle cx="494.3" cy="425.1" r="3.1"/><circle cx="501.3" cy="427.2" r="3.1"/><circle cx="508.6" cy="426.7" r="3.1"/><circle cx="515.5" cy="428.8" r="3.1"/><circle cx="529.5" cy="430.1" r="3.1"/><circle cx="544.3" cy="428.9" r="3.1"/><circle cx="484.1" cy="432.5" r="3.1"/><circle cx="497.6" cy="434.3" r="3.1"/><circle cx="507.4" cy="432.8" r="3.1"/><circle cx="509.5" cy="433.2" r="3.1"/><circle cx="518.8" cy="434.1" r="3.1"/><circle cx="533.3" cy="434.7" r="3.1"/><circle cx="538.9" cy="436.6" r="3.1"/><circle cx="485.4" cy="437.8" r="3.1"/><circle cx="494" cy="441.1" r="3.1"/><circle cx="499.8" cy="440.3" r="3.1"/><circle cx="515.5" cy="440.5" r="3.1"/><circle cx="523.5" cy="436.5" r="3.1"/><circle cx="543.3" cy="439.2" r="3.1"/></g><g fill="#482475" stroke="#482475" fill-opacity=".6" stroke-opacity=".6" stroke-width="1.39"><circle cx="483.1" cy="446.9" r="3.1"/><circle cx="491.4" cy="446.3" r="3.1"/><circle cx="497.9" cy="444.4" r="3.1"/><circle cx="519.3" cy="445.3" r="3.1"/><circle cx="503.1" cy="452.7" r="3.1"/><circle cx="508.6" cy="451.3" r="3.1"/><circle cx="523.5" cy="451.7" r="3.1"/><circle cx="538.7" cy="450.7" r="3.1"/><circle cx="544.4" cy="451.8" r="3.1"/><circle cx="498.6" cy="458.9" r="3.1"/><circle cx="505.1" cy="455.6" r="3.1"/><circle cx="511" cy="455.9" r="3.1"/><circle cx="520.3" cy="457.4" r="3.1"/><circle cx="525.8" cy="457.5" r="3.1"/><circle cx="539.4" cy="458.8" r="3.1"/></g><g fill="#482878" stroke="#482878" fill-opacity=".6" stroke-opacity=".6" stroke-width="1.39"><circle cx="488.1" cy="463.7" r="3.1"/><circle cx="494.6" cy="464.2" r="3.1"/><circle cx="503.5" cy="464.9" r="3.1"/><circle cx="516" cy="465" r="3.1"/><circle cx="522.8" cy="464.9" r="3.1"/><circle cx="535" cy="465" r="3.1"/><circle cx="505.3" cy="469.6" r="3.1"/><circle cx="512.1" cy="467.9" r="3.1"/><circle cx="516.9" cy="469.8" r="3.1"/><circle cx="526.5" cy="470.2" r="3.1"/><circle cx="496.2" cy="474.9" r="3.1"/><circle cx="514.6" cy="475" r="3.1"/><circle cx="522.6" cy="478.2" r="3.1"/><circle cx="530.4" cy="476.3" r="3.1"/><circle cx="535" cy="476.2" r="3.1"/></g><g fill="#472a7a" stroke="#472a7a" fill-opacity=".6" stroke-opacity=".6" stroke-width="1.39"><circle cx="499" cy="484.2" r="3.1"/><circle cx="521.5" cy="481.8" r="3.1"/><circle cx="534.2" cy="480.8" r="3.1"/><circle cx="503" cy="488.1" r="3.1"/><circle cx="512.9" cy="486.2" r="3.1"/><circle cx="523.1" cy="488" r="3.1"/><circle cx="530.9" cy="486.8" r="3.1"/><circle cx="496.7" cy="494.5" r="3.1"/><circle cx="505.3" cy="494.6" r="3.1"/><circle cx="512.3" cy="493.7" r="3.1"/><circle cx="525.1" cy="494.3" r="3.1"/></g><g fill="#472e7c" stroke="#472e7c" fill-opacity=".6" stroke-opacity=".6" stroke-width="1.39"><circle cx="494.1" cy="502" r="3.1"/><circle cx="501.1" cy="502.4" r="3.1"/><circle cx="521" cy="500.8" r="3.1"/><circle cx="530.6" cy="499.7" r="3.1"/><circle cx="493" cy="505.1" r="3.1"/><circle cx="507" cy="507.7" r="3.1"/><circle cx="514.3" cy="507.2" r="3.1"/><circle cx="520" cy="506.7" r="3.1"/><circle cx="523.9" cy="505.2" r="3.1"/><circle cx="532.6" cy="505.4" r="3.1"/><circle cx="520.5" cy="511.3" r="3.1"/><circle cx="530.9" cy="512.6" r="3.1"/></g><g fill="#46307e" stroke="#46307e" fill-opacity=".6" stroke-opacity=".6" stroke-width="1.39"><circle cx="499.3" cy="518.7" r="3.1"/><circle cx="505.7" cy="520.1" r="3.1"/><circle cx="520.8" cy="517.6" r="3.1"/><circle cx="532.2" cy="520.2" r="3.1"/><circle cx="502.2" cy="525" r="3.1"/><circle cx="514.3" cy="525" r="3.1"/><circle cx="512.1" cy="531.4" r="3.1"/><circle cx="522.4" cy="530.7" r="3.1"/><circle cx="525.1" cy="530.6" r="3.1"/><circle cx="531.3" cy="528.7" r="3.1"/></g><g fill="#463480" stroke="#463480" fill-opacity=".6" stroke-opacity=".6" stroke-width="1.39"><circle cx="502.2" cy="537.6" r="3.1"/><circle cx="508.2" cy="535.2" r="3.1"/><circle cx="523" cy="537.5" r="3.1"/></g><g fill="#443a83" stroke="#443a83" fill-opacity=".8" stroke-opacity=".8" stroke-width="1.39"><circle cx="496.2" cy="539.9" r="3.1"/><circle cx="486.8" cy="539.6" r="3.1"/><circle cx="495.8" cy="542.2" r="3.1"/><circle cx="502.5" cy="541.8" r="3.1"/><circle cx="516.3" cy="541.4" r="3.1"/><circle cx="482.4" cy="546.9" r="3.1"/><circle cx="488.6" cy="547.9" r="3.1"/><circle cx="497" cy="546.8" r="3.1"/><circle cx="501.8" cy="544.4" r="3.1"/></g><g fill="#433e85" stroke="#433e85" fill-opacity=".8" stroke-opacity=".8" stroke-width="1.39"><circle cx="507.8" cy="549.5" r="3.1"/></g><g fill="#443a83" stroke="#443a83" fill-opacity=".8" stroke-opacity=".8" stroke-width="1.39"><circle cx="517.5" cy="545.2" r="3.1"/></g><g fill="#433e85" stroke="#433e85" fill-opacity=".8" stroke-opacity=".8" stroke-width="1.39"><circle cx="525" cy="549" r="3.1"/></g><g fill="#443a83" stroke="#443a83" fill-opacity=".8" stroke-opacity=".8" stroke-width="1.39"><circle cx="531.4" cy="547" r="3.1"/><circle cx="543.2" cy="546" r="3.1"/></g><g fill="#433e85" stroke="#433e85" fill-opacity=".8" stroke-opacity=".8" stroke-width="1.39"><circle cx="554.7" cy="551.1" r="3.1"/><circle cx="560.7" cy="550.3" r="3.1"/><circle cx="491.9" cy="553.6" r="3.1"/><circle cx="498.6" cy="555.1" r="3.1"/><circle cx="509.2" cy="552.5" r="3.1"/><circle cx="513" cy="551.9" r="3.1"/><circle cx="522" cy="550" r="3.1"/><circle cx="529.9" cy="555.6" r="3.1"/><circle cx="531.6" cy="552.1" r="3.1"/><circle cx="543" cy="552.3" r="3.1"/><circle cx="549.8" cy="550.6" r="3.1"/><circle cx="554.6" cy="553.6" r="3.1"/><circle cx="562.2" cy="553.2" r="3.1"/><circle cx="570" cy="555" r="3.1"/><circle cx="488.8" cy="558.5" r="3.1"/><circle cx="511.4" cy="558.4" r="3.1"/><circle cx="519.4" cy="559.7" r="3.1"/><circle cx="532.2" cy="557.5" r="3.1"/><circle cx="554.7" cy="558.3" r="3.1"/><circle cx="560" cy="558" r="3.1"/><circle cx="566.6" cy="559.3" r="3.1"/><circle cx="575.1" cy="561.1" r="3.1"/><circle cx="584.1" cy="558.3" r="3.1"/><circle cx="598.6" cy="561.7" r="3.1"/><circle cx="609.7" cy="559.4" r="3.1"/><circle cx="614.5" cy="559" r="3.1"/><circle cx="622.4" cy="559.9" r="3.1"/><circle cx="629.6" cy="558.5" r="3.1"/><circle cx="638.6" cy="559.7" r="3.1"/><circle cx="641.6" cy="558.7" r="3.1"/></g><g fill="#424086" stroke="#424086" fill-opacity=".8" stroke-opacity=".8" stroke-width="1.39"><circle cx="484.9" cy="567.6" r="3.1"/><circle cx="492.3" cy="566.4" r="3.1"/><circle cx="501.4" cy="567" r="3.1"/></g><g fill="#433e85" stroke="#433e85" fill-opacity=".8" stroke-opacity=".8" stroke-width="1.39"><circle cx="513.5" cy="565.9" r="3.1"/></g><g fill="#424086" stroke="#424086" fill-opacity=".8" stroke-opacity=".8" stroke-width="1.39"><circle cx="521.7" cy="566.4" r="3.1"/></g><g fill="#433e85" stroke="#433e85" fill-opacity=".8" stroke-opacity=".8" stroke-width="1.39"><circle cx="526.2" cy="564" r="3.1"/><circle cx="532.3" cy="565.5" r="3.1"/><circle cx="540.3" cy="563.5" r="3.1"/></g><g fill="#424086" stroke="#424086" fill-opacity=".8" stroke-opacity=".8" stroke-width="1.39"><circle cx="549" cy="567" r="3.1"/><circle cx="555.8" cy="566.3" r="3.1"/></g><g fill="#433e85" stroke="#433e85" fill-opacity=".8" stroke-opacity=".8" stroke-width="1.39"><circle cx="568.5" cy="564.9" r="3.1"/></g><g fill="#424086" stroke="#424086" fill-opacity=".8" stroke-opacity=".8" stroke-width="1.39"><circle cx="580" cy="567.7" r="3.1"/></g><g fill="#433e85" stroke="#433e85" fill-opacity=".8" stroke-opacity=".8" stroke-width="1.39"><circle cx="586.1" cy="565.7" r="3.1"/></g><g fill="#424086" stroke="#424086" fill-opacity=".8" stroke-opacity=".8" stroke-width="1.39"><circle cx="599.2" cy="567.1" r="3.1"/><circle cx="612.7" cy="566.7" r="3.1"/></g><g fill="#433e85" stroke="#433e85" fill-opacity=".8" stroke-opacity=".8" stroke-width="1.39"><circle cx="616.5" cy="566.2" r="3.1"/><circle cx="624.3" cy="563.7" r="3.1"/><circle cx="633.1" cy="562.4" r="3.1"/><circle cx="642.2" cy="564.3" r="3.1"/></g><g fill="#424086" stroke="#424086" fill-opacity=".8" stroke-opacity=".8" stroke-width="1.39"><circle cx="487.5" cy="574.7" r="3.1"/><circle cx="493.4" cy="568.2" r="3.1"/><circle cx="504.2" cy="570.8" r="3.1"/><circle cx="514.4" cy="572" r="3.1"/><circle cx="517.7" cy="569.1" r="3.1"/><circle cx="531.9" cy="570" r="3.1"/><circle cx="538.6" cy="572" r="3.1"/><circle cx="547.3" cy="571.1" r="3.1"/><circle cx="552" cy="571.6" r="3.1"/><circle cx="564.5" cy="570.2" r="3.1"/><circle cx="566.2" cy="570.5" r="3.1"/><circle cx="585.7" cy="569.5" r="3.1"/><circle cx="597.4" cy="568.5" r="3.1"/><circle cx="602.2" cy="571.9" r="3.1"/><circle cx="605.9" cy="569.7" r="3.1"/><circle cx="615.9" cy="572.6" r="3.1"/><circle cx="622.9" cy="572.4" r="3.1"/><circle cx="630.4" cy="569.8" r="3.1"/><circle cx="637.8" cy="570.9" r="3.1"/><circle cx="498.9" cy="575.2" r="3.1"/><circle cx="515.7" cy="576.6" r="3.1"/><circle cx="520.4" cy="576.8" r="3.1"/><circle cx="543.9" cy="577.5" r="3.1"/><circle cx="559.5" cy="579.8" r="3.1"/><circle cx="565.3" cy="580.8" r="3.1"/><circle cx="567.7" cy="577" r="3.1"/><circle cx="576.1" cy="575.3" r="3.1"/><circle cx="585.1" cy="575.8" r="3.1"/><circle cx="591.9" cy="577.1" r="3.1"/><circle cx="594.4" cy="576.6" r="3.1"/><circle cx="605.9" cy="574.9" r="3.1"/><circle cx="612.9" cy="575.7" r="3.1"/><circle cx="630.2" cy="576.8" r="3.1"/><circle cx="634.7" cy="576.6" r="3.1"/></g><g fill="#414487" stroke="#414487" fill-opacity=".8" stroke-opacity=".8" stroke-width="1.39"><circle cx="494.3" cy="584.3" r="3.1"/></g><g fill="#424086" stroke="#424086" fill-opacity=".8" stroke-opacity=".8" stroke-width="1.39"><circle cx="502.9" cy="580.7" r="3.1"/><circle cx="509.1" cy="583.7" r="3.1"/><circle cx="517.2" cy="583.6" r="3.1"/><circle cx="527.8" cy="582.5" r="3.1"/><circle cx="531.5" cy="581.6" r="3.1"/><circle cx="539.6" cy="583.7" r="3.1"/><circle cx="545.7" cy="581.6" r="3.1"/><circle cx="562.1" cy="583.1" r="3.1"/></g><g fill="#414487" stroke="#414487" fill-opacity=".8" stroke-opacity=".8" stroke-width="1.39"><circle cx="566.4" cy="584.5" r="3.1"/></g><g fill="#424086" stroke="#424086" fill-opacity=".8" stroke-opacity=".8" stroke-width="1.39"><circle cx="578.1" cy="582.8" r="3.1"/><circle cx="581.7" cy="582.9" r="3.1"/><circle cx="587.8" cy="582.7" r="3.1"/></g><g fill="#414487" stroke="#414487" fill-opacity=".8" stroke-opacity=".8" stroke-width="1.39"><circle cx="593.7" cy="585.5" r="3.1"/></g><g fill="#424086" stroke="#424086" fill-opacity=".8" stroke-opacity=".8" stroke-width="1.39"><circle cx="616.4" cy="583.1" r="3.1"/></g><g fill="#414487" stroke="#414487" fill-opacity=".8" stroke-opacity=".8" stroke-width="1.39"><circle cx="497.1" cy="588.9" r="3.1"/><circle cx="507.7" cy="587" r="3.1"/><circle cx="516.8" cy="591.5" r="3.1"/><circle cx="529" cy="590.1" r="3.1"/><circle cx="537.3" cy="587.7" r="3.1"/><circle cx="542.8" cy="586.4" r="3.1"/><circle cx="552.8" cy="589.1" r="3.1"/><circle cx="565.5" cy="588.7" r="3.1"/><circle cx="576.8" cy="588.8" r="3.1"/><circle cx="584.8" cy="590.8" r="3.1"/><circle cx="605.1" cy="586.9" r="3.1"/><circle cx="611.8" cy="592.5" r="3.1"/><circle cx="506.2" cy="594.6" r="3.1"/><circle cx="516.8" cy="594.8" r="3.1"/><circle cx="525.4" cy="596.9" r="3.1"/><circle cx="533.7" cy="595.9" r="3.1"/><circle cx="536.2" cy="595" r="3.1"/><circle cx="553.6" cy="596.5" r="3.1"/><circle cx="564.4" cy="595.6" r="3.1"/><circle cx="591.8" cy="594.4" r="3.1"/><circle cx="596.2" cy="597.7" r="3.1"/><circle cx="600.3" cy="593.8" r="3.1"/><circle cx="610.5" cy="591.9" r="3.1"/></g><g fill="#404688" stroke="#404688" fill-opacity=".8" stroke-opacity=".8" stroke-width="1.39"><circle cx="523" cy="603.2" r="3.1"/></g><g fill="#414487" stroke="#414487" fill-opacity=".8" stroke-opacity=".8" stroke-width="1.39"><circle cx="542" cy="600.4" r="3.1"/><circle cx="550.3" cy="599.6" r="3.1"/></g><g fill="#404688" stroke="#404688" fill-opacity=".8" stroke-opacity=".8" stroke-width="1.39"><circle cx="552.6" cy="606" r="3.1"/><circle cx="564.5" cy="603.2" r="3.1"/><circle cx="571.7" cy="601.5" r="3.1"/><circle cx="578.1" cy="603.6" r="3.1"/></g><g fill="#414487" stroke="#414487" fill-opacity=".8" stroke-opacity=".8" stroke-width="1.39"><circle cx="581.5" cy="600.6" r="3.1"/></g><g fill="#404688" stroke="#404688" fill-opacity=".8" stroke-opacity=".8" stroke-width="1.39"><circle cx="543.3" cy="605.8" r="3.1"/><circle cx="561.2" cy="606.9" r="3.1"/></g><g fill="#481a6c" stroke="#481a6c" fill-opacity=".5" stroke-opacity=".5" stroke-width="1.39"><circle cx="604.7" cy="362.9" r="3.1"/><circle cx="611.1" cy="362.6" r="3.1"/><circle cx="617.9" cy="364.2" r="3.1"/><circle cx="640.1" cy="364.1" r="3.1"/><circle cx="570.7" cy="368" r="3.1"/><circle cx="579.6" cy="371" r="3.1"/><circle cx="585.4" cy="369.3" r="3.1"/><circle cx="591.7" cy="366.7" r="3.1"/><circle cx="602.9" cy="368.3" r="3.1"/><circle cx="609.7" cy="364.7" r="3.1"/><circle cx="615.5" cy="369.5" r="3.1"/><circle cx="622" cy="368.3" r="3.1"/><circle cx="635.7" cy="367.9" r="3.1"/><circle cx="643.8" cy="365.7" r="3.1"/><circle cx="652.3" cy="368.7" r="3.1"/><circle cx="657.1" cy="369.4" r="3.1"/></g><g fill="#481d6f" stroke="#481d6f" fill-opacity=".5" stroke-opacity=".5" stroke-width="1.39"><circle cx="562.1" cy="372" r="3.1"/><circle cx="568.1" cy="374.2" r="3.1"/><circle cx="575.1" cy="374.4" r="3.1"/><circle cx="581.9" cy="375" r="3.1"/><circle cx="592.1" cy="373.3" r="3.1"/><circle cx="596.9" cy="373.7" r="3.1"/><circle cx="602.3" cy="376.2" r="3.1"/><circle cx="611.4" cy="373.3" r="3.1"/><circle cx="616.5" cy="373.1" r="3.1"/><circle cx="624.9" cy="376.9" r="3.1"/><circle cx="632.8" cy="377.1" r="3.1"/><circle cx="638.6" cy="373.4" r="3.1"/><circle cx="646.9" cy="374.8" r="3.1"/><circle cx="654.6" cy="372.7" r="3.1"/><circle cx="658.8" cy="372.3" r="3.1"/><circle cx="564.1" cy="384.9" r="3.1"/><circle cx="570.8" cy="383" r="3.1"/><circle cx="578.6" cy="382.3" r="3.1"/><circle cx="585.9" cy="380.1" r="3.1"/><circle cx="592.1" cy="379.7" r="3.1"/><circle cx="608.4" cy="379.3" r="3.1"/><circle cx="611.7" cy="379.7" r="3.1"/><circle cx="628.2" cy="378.1" r="3.1"/><circle cx="632.3" cy="379.3" r="3.1"/><circle cx="641.5" cy="379.2" r="3.1"/><circle cx="648.6" cy="382.6" r="3.1"/><circle cx="657.6" cy="381.9" r="3.1"/><circle cx="566.4" cy="386.9" r="3.1"/><circle cx="583.3" cy="386.2" r="3.1"/><circle cx="584.1" cy="389.2" r="3.1"/><circle cx="602.8" cy="386.7" r="3.1"/><circle cx="610.1" cy="385.5" r="3.1"/><circle cx="642.2" cy="388.1" r="3.1"/><circle cx="645.2" cy="387.9" r="3.1"/><circle cx="652.2" cy="385" r="3.1"/><circle cx="565.1" cy="393.6" r="3.1"/><circle cx="571.2" cy="392.5" r="3.1"/><circle cx="578.3" cy="393.5" r="3.1"/><circle cx="594.1" cy="391.4" r="3.1"/></g><g fill="#482173" stroke="#482173" fill-opacity=".5" stroke-opacity=".5" stroke-width="1.39"><circle cx="600.6" cy="395.1" r="3.1"/></g><g fill="#481d6f" stroke="#481d6f" fill-opacity=".5" stroke-opacity=".5" stroke-width="1.39"><circle cx="607.3" cy="393.6" r="3.1"/><circle cx="610.5" cy="390" r="3.1"/><circle cx="621.4" cy="391" r="3.1"/><circle cx="627.7" cy="392.6" r="3.1"/><circle cx="639.2" cy="391.9" r="3.1"/><circle cx="641.5" cy="392.1" r="3.1"/><circle cx="649.6" cy="392.3" r="3.1"/></g><g fill="#482173" stroke="#482173" fill-opacity=".5" stroke-opacity=".5" stroke-width="1.39"><circle cx="563.5" cy="398.2" r="3.1"/><circle cx="569.5" cy="400" r="3.1"/><circle cx="576.7" cy="399.6" r="3.1"/><circle cx="583.7" cy="398.2" r="3.1"/><circle cx="587.9" cy="400.3" r="3.1"/><circle cx="595.4" cy="397.9" r="3.1"/><circle cx="603.5" cy="399.1" r="3.1"/><circle cx="612.5" cy="399.2" r="3.1"/><circle cx="617.1" cy="399.5" r="3.1"/><circle cx="633.1" cy="397.1" r="3.1"/><circle cx="639.9" cy="400.2" r="3.1"/><circle cx="646.5" cy="398.3" r="3.1"/><circle cx="563.5" cy="405.5" r="3.1"/><circle cx="570.9" cy="405.5" r="3.1"/><circle cx="576.2" cy="404.7" r="3.1"/><circle cx="583.3" cy="403.7" r="3.1"/><circle cx="593.6" cy="405.3" r="3.1"/><circle cx="601.2" cy="406.9" r="3.1"/><circle cx="606.1" cy="402.6" r="3.1"/><circle cx="614.8" cy="403.9" r="3.1"/><circle cx="623.5" cy="405" r="3.1"/><circle cx="626.1" cy="403.9" r="3.1"/><circle cx="635.6" cy="405.3" r="3.1"/><circle cx="588.7" cy="410.9" r="3.1"/><circle cx="594.9" cy="414" r="3.1"/><circle cx="611.8" cy="411.8" r="3.1"/><circle cx="618.3" cy="413.6" r="3.1"/><circle cx="625.7" cy="408.9" r="3.1"/></g><g fill="#482475" stroke="#482475" fill-opacity=".5" stroke-opacity=".5" stroke-width="1.39"><circle cx="567.2" cy="418.5" r="3.1"/></g><g fill="#482173" stroke="#482173" fill-opacity=".5" stroke-opacity=".5" stroke-width="1.39"><circle cx="570.2" cy="416" r="3.1"/><circle cx="577.9" cy="416.8" r="3.1"/></g><g fill="#482475" stroke="#482475" fill-opacity=".5" stroke-opacity=".5" stroke-width="1.39"><circle cx="594.4" cy="418.7" r="3.1"/><circle cx="599" cy="418.7" r="3.1"/><circle cx="608.7" cy="419.4" r="3.1"/></g><g fill="#482173" stroke="#482173" fill-opacity=".5" stroke-opacity=".5" stroke-width="1.39"><circle cx="612.9" cy="416.2" r="3.1"/></g><g fill="#482475" stroke="#482475" fill-opacity=".5" stroke-opacity=".5" stroke-width="1.39"><circle cx="568.4" cy="424.3" r="3.1"/><circle cx="572.5" cy="424.9" r="3.1"/><circle cx="581" cy="424.2" r="3.1"/><circle cx="587.1" cy="423.5" r="3.1"/><circle cx="601.3" cy="422.2" r="3.1"/><circle cx="571.9" cy="428.4" r="3.1"/></g><path class="d" d="M684.5 398.8h0m4 1h0m5.6-.6h0m3.6-.2h0" stroke="#482173" stroke-opacity=".5"/><path class="d" d="M680 403.3h0m12.8-1.7h0m-12.6 6.2h0m15.1-.9h0" stroke="#482475" stroke-opacity=".5"/><path class="d" d="M681.9 404.5h0m14.4-3.4h0m-12.1 5.9h0m13.4 1h0" stroke="#482475" stroke-opacity=".5"/><path class="d" d="M687.7 403.7h0m12.8-1.1h0m-11 6.9h0" stroke="#482475" stroke-opacity=".5"/><path class="d" d="M682.7 411.6h0m14.7-.4h0m-13.3 5.7h0m13-1.8h0" stroke="#482878" stroke-opacity=".5"/><path class="d" d="M687 412.1h0m13.4-.3h0m-12.3 3.9h0m-6 2.4h0" stroke="#482878" stroke-opacity=".5"/><path class="d" d="M692.2 411h0m-12.4 5h0m15.1-2.2h0m-8.7 5.6h0" stroke="#482878" stroke-opacity=".5"/><path class="d" d="M690.6 421.7h0m-11.4 2.7h0m14-.5h0m-5.2 4.6h0m11.4 0h0" stroke="#472a7a" stroke-opacity=".5"/><path class="d" d="M697.4 420.7h0m-12.3 4.2h0m13.3 .2h0m-7 2.6h0" stroke="#472a7a" stroke-opacity=".5"/><path class="d" d="M701 421.9h0m-11.3 1.2h0m-8.8 4.2h0m15.3 1.6h0" stroke="#472a7a" stroke-opacity=".5"/><path class="d" d="M679.6 433.5h0m13.2-1.9h0m-10.3 5.1h0m13.7 .6h0" stroke="#472e7c" stroke-opacity=".5"/><path class="d" d="M684 432.9h0m14.4 .1h0m-11.5 3h0m12.8 1.4h0" stroke="#472e7c" stroke-opacity=".5"/><path class="d" d="M689.4 434.3h0m-10.9 1.5h0m14.1-.8h0" stroke="#472e7c" stroke-opacity=".5"/><path class="d" d="M680.4 441.6h0m4.4 0h0m5.2-.7h0m3.4-.5h0" stroke="#46307e" stroke-opacity=".5"/><path class="d" d="M699.3 439.6h0m4.1 .1h0" stroke="#472e7c" stroke-opacity=".5"/><path class="d" d="M682.6 445.8h0m5.1 .1h0m5.7-1.1h0m.4 .7h0" stroke="#46307e" stroke-opacity=".6"/><path class="d" d="M701.5 443.2h0" stroke="#46307e" stroke-opacity=".5"/><path class="d" d="M684.6 446.1h0" stroke="#46307e" stroke-opacity=".6"/><path class="d" d="M688.9 450.5h0" stroke="#463480" stroke-opacity=".6"/><path class="d" d="M694 449h0m4.2 1h0" stroke="#46307e" stroke-opacity=".6"/><path class="d" d="M702.1 450.2h0" stroke="#463480" stroke-opacity=".6"/><path class="d" d="M681.9 453.8h0m14.2 .3h0m-11.9 4.2h0m14.4 .4h0" stroke="#463480" stroke-opacity=".6"/><path class="d" d="M687.2 452.7h0m12.5 .8h0m-8.8 4.2h0m12.1 0h0" stroke="#463480" stroke-opacity=".6"/><path class="d" d="M692.1 454h0m-13.4 3.7h0m16.2 2.2h0" stroke="#463480" stroke-opacity=".6"/><path class="d" d="M681.6 461.6h0m15.5 1.3h0m-13.5 2.2h0m15.6 .4h0" stroke="#453781" stroke-opacity=".7"/><path class="d" d="M686.5 462.7h0m14.7 .9h0m-10.9 2.3h0m13.9 .3h0" stroke="#453781" stroke-opacity=".7"/><path class="d" d="M691.3 461.7h0m-12.2 2.7h0m15.2 1.6h0" stroke="#453781" stroke-opacity=".7"/><path class="d" d="M678.7 468.5h0" stroke="#453781" stroke-opacity=".7"/><path class="d" d="M683.4 470.3h0m2.9 .2h0m5.8 1.5h0m4.2-1.8h0" stroke="#443a83" stroke-opacity=".7"/><path class="d" d="M701.2 469.6h0" stroke="#453781" stroke-opacity=".7"/><path class="d" d="M704.6 471.8h0m-26.1 1.9h0m7.4-.2h0m4.1 .2h0m2.9 .4h0m4.5-.3h0m6.8 .1h0" stroke="#443a83" stroke-opacity=".7"/><path class="d" d="M680.5 479h0m4.5-1.6h0m7.2 .9h0m2.5-.9h0m5.6 .5h0" stroke="#443a83" stroke-opacity=".8"/><path class="d" d="M682.2 481.9h0m12.9-.6h0m-14.4 2.8h0" stroke="#433e85" stroke-opacity=".8"/><path class="d" d="M684.8 481.6h0m14-.2h0m-12.9 5.2h0" stroke="#433e85" stroke-opacity=".8"/><path class="d" d="M689.5 481.5h0m13.5 1.2h0m-12.1 2.2h0" stroke="#433e85" stroke-opacity=".8"/><g fill="#481a6c" stroke="#481a6c" fill-opacity=".6" stroke-opacity=".6" stroke-width="1.39"><circle cx="704.5" cy="380" r="3.1"/><circle cx="704.8" cy="385.5" r="3.1"/></g><g fill="#481d6f" stroke="#481d6f" fill-opacity=".6" stroke-opacity=".6" stroke-width="1.39"><circle cx="705.1" cy="391" r="3.1"/><circle cx="705.3" cy="396.7" r="3.1"/></g><g fill="#482173" stroke="#482173" fill-opacity=".6" stroke-opacity=".6" stroke-width="1.39"><circle cx="705.6" cy="402.3" r="3.1"/><circle cx="705.9" cy="408.1" r="3.1"/><circle cx="706.2" cy="413.9" r="3.1"/></g><g fill="#482475" stroke="#482475" fill-opacity=".6" stroke-opacity=".6" stroke-width="1.39"><circle cx="706.5" cy="419.8" r="3.1"/><circle cx="706.8" cy="425.7" r="3.1"/></g><g fill="#482878" stroke="#482878" fill-opacity=".6" stroke-opacity=".6" stroke-width="1.39"><circle cx="707.1" cy="431.7" r="3.1"/><circle cx="707.4" cy="437.8" r="3.1"/><circle cx="707.7" cy="444" r="3.1"/></g><g fill="#472a7a" stroke="#472a7a" fill-opacity=".6" stroke-opacity=".6" stroke-width="1.39"><circle cx="708" cy="450.2" r="3.1"/><circle cx="708.4" cy="456.5" r="3.1"/></g><g fill="#472e7c" stroke="#472e7c" fill-opacity=".6" stroke-opacity=".6" stroke-width="1.39"><circle cx="708.7" cy="462.8" r="3.1"/></g><g fill="#46307e" stroke="#46307e" fill-opacity=".6" stroke-opacity=".6" stroke-width="1.39"><circle cx="709" cy="452" r="3.1"/><circle cx="710" cy="461" r="3.1"/><circle cx="706" cy="476" r="3.1"/><circle cx="700" cy="484" r="3.1"/></g><path class="d" d="M537.4 272.4h0m.4 1.5h0m.5 1.5h0m.4 1.6h0" stroke="#440154" stroke-opacity=".9"/><path class="d" d="M539.1 278.5h0m.5 1.6h0" stroke="#450457" stroke-opacity=".9"/><path class="d" d="M540 281.6h0m.5 1.6h0m.4 1.6h0m.4 1.6h0" stroke="#450457" stroke-opacity=".8"/><path class="d" d="M541.8 288h0m.4 1.6h0m.5 1.6h0m.5 1.6h0m.4 1.7h0m.5 1.7h0" stroke="#46085c" stroke-opacity=".8"/><path class="d" d="M544.6 297.9h0" stroke="#460b5e" stroke-opacity=".8"/><path class="d" d="M545.1 299.6h0m.5 1.7h0m.5 1.8h0m.5 1.8h0" stroke="#460b5e" stroke-opacity=".8"/><path class="d" d="M547.1 306.7h0m.5 1.9h0m.5 1.9h0m.6 2h0m.5 1.9h0" stroke="#471063" stroke-opacity=".8"/><path class="d" d="M549.8 316.5h0" stroke="#471365" stroke-opacity=".8"/><path class="d" d="M550.4 318.6h0m.6 2.1h0m.6 2.2h0" stroke="#471365" stroke-opacity=".8"/><path class="d" d="M552.3 325.1h0m.6 2.4h0m.7 2.3h0m.7 2.5h0" stroke="#481769" stroke-opacity=".8"/><path class="d" d="M554.7 334.9h0m.3 2.7h0m.2 2.8h0m.3 2.9h0" stroke="#481a6c" stroke-opacity=".7"/><path class="d" d="M555.7 346.4h0" stroke="#481d6f" stroke-opacity=".7"/><g fill="#481d6f" stroke="#481d6f" fill-opacity=".7" stroke-opacity=".7" stroke-width="1.39"><circle cx="556" cy="349.5" r="3.1"/><circle cx="556.3" cy="352.8" r="3.1"/></g><g fill="#482173" stroke="#482173" fill-opacity=".7" stroke-opacity=".7" stroke-width="1.39"><circle cx="556.6" cy="356.3" r="3.1"/><circle cx="556.9" cy="359.8" r="3.1"/><circle cx="557.2" cy="363.6" r="3.1"/></g><g fill="#482475" stroke="#482475" fill-opacity=".7" stroke-opacity=".7" stroke-width="1.39"><circle cx="557.6" cy="367.5" r="3.1"/><circle cx="558" cy="371.7" r="3.1"/></g><g fill="#482878" stroke="#482878" fill-opacity=".6" stroke-opacity=".6" stroke-width="1.39"><circle cx="558.3" cy="376" r="3.1"/></g><g fill="#472a7a" stroke="#472a7a" fill-opacity=".6" stroke-opacity=".6" stroke-width="1.39"><circle cx="559.2" cy="385.5" r="3.1"/></g><g fill="#472a7a" stroke="#472a7a" fill-opacity=".6" stroke-opacity=".6" stroke-width="1.39"><circle cx="559.6" cy="390.7" r="3.1"/></g><g fill="#472e7c" stroke="#472e7c" fill-opacity=".6" stroke-opacity=".6" stroke-width="1.39"><circle cx="560.6" cy="402.1" r="3.1"/></g><path class="d" d="M541.4 268.3h0m.4 1.5h0m.5 1.6h0m.4 1.5h0" stroke="#440154" stroke-opacity=".9"/><path class="d" d="M543.1 274.5h0m.5 1.5h0" stroke="#450457" stroke-opacity=".9"/><path class="d" d="M544 277.6h0m.4 1.5h0m.5 1.6h0m.4 1.6h0" stroke="#450457" stroke-opacity=".8"/><path class="d" d="M545.7 283.9h0m.5 1.6h0m.4 1.6h0m.5 1.6h0m.4 1.7h0m.5 1.7h0" stroke="#46085c" stroke-opacity=".8"/><path class="d" d="M548.5 293.8h0m.4 1.7h0" stroke="#460b5e" stroke-opacity=".8"/><path class="d" d="M549.4 297.2h0m.5 1.8h0m.5 1.8h0" stroke="#460b5e" stroke-opacity=".8"/><path class="d" d="M550.9 302.6h0m.5 1.8h0m.5 1.9h0m.6 1.9h0m.5 2h0m.6 2h0" stroke="#471063" stroke-opacity=".8"/><path class="d" d="M554.1 314.3h0m.6 2.1h0m.6 2.1h0m.6 2.2h0" stroke="#471365" stroke-opacity=".8"/><path class="d" d="M556.6 323h0m.6 2.3h0m.7 2.4h0m.6 2.5h0" stroke="#481769" stroke-opacity=".8"/><path class="d" d="M559 332.8h0m.2 2.7h0m.2 2.8h0m.3 3h0" stroke="#481a6c" stroke-opacity=".7"/><path class="d" d="M559.9 344.3h0" stroke="#481d6f" stroke-opacity=".7"/><g fill="#481d6f" stroke="#481d6f" fill-opacity=".7" stroke-opacity=".7" stroke-width="1.39"><circle cx="560.2" cy="347.4" r="3.1"/><circle cx="560.5" cy="350.7" r="3.1"/></g><g fill="#482173" stroke="#482173" fill-opacity=".7" stroke-opacity=".7" stroke-width="1.39"><circle cx="560.8" cy="354.1" r="3.1"/><circle cx="561.1" cy="357.7" r="3.1"/><circle cx="561.4" cy="361.4" r="3.1"/></g><g fill="#482475" stroke="#482475" fill-opacity=".7" stroke-opacity=".7" stroke-width="1.39"><circle cx="561.8" cy="365.3" r="3.1"/><circle cx="562.1" cy="369.5" r="3.1"/></g><g fill="#482878" stroke="#482878" fill-opacity=".6" stroke-opacity=".6" stroke-width="1.39"><circle cx="562.5" cy="373.8" r="3.1"/><circle cx="562.9" cy="378.3" r="3.1"/></g><g fill="#472a7a" stroke="#472a7a" fill-opacity=".6" stroke-opacity=".6" stroke-width="1.39"><circle cx="563.3" cy="383.1" r="3.1"/><circle cx="563.7" cy="388.2" r="3.1"/></g><g fill="#472e7c" stroke="#472e7c" fill-opacity=".6" stroke-opacity=".6" stroke-width="1.39"><circle cx="564.2" cy="393.6" r="3.1"/></g><path class="d" d="M545.2 262.4h0m.4 1.6h0m.4 1.5h0m.4 1.6h0" stroke="#440154" stroke-opacity=".9"/><path class="d" d="M546.9 268.6h0m.4 1.6h0m.4 1.5h0" stroke="#450457" stroke-opacity=".9"/><path class="d" d="M548.1 273.3h0m.5 1.6h0m.4 1.5h0" stroke="#450457" stroke-opacity=".8"/><path class="d" d="M549.4 278h0m.5 1.6h0m.4 1.6h0m.4 1.7h0m.5 1.6h0m.4 1.7h0m.5 1.7h0" stroke="#46085c" stroke-opacity=".8"/><path class="d" d="M552.6 289.6h0" stroke="#460b5e" stroke-opacity=".8"/><path class="d" d="M553 291.3h0m.5 1.7h0m.5 1.8h0m.5 1.8h0" stroke="#460b5e" stroke-opacity=".8"/><path class="d" d="M555 298.4h0m.5 1.9h0m.5 1.9h0m.5 1.9h0m.5 2h0m.6 2h0" stroke="#471063" stroke-opacity=".8"/><path class="d" d="M558.2 310.2h0m.5 2.1h0m.6 2.1h0m.6 2.2h0" stroke="#471365" stroke-opacity=".8"/><path class="d" d="M560.5 318.9h0m.7 2.3h0m.6 2.4h0m.7 2.4h0m.5 2.6h0" stroke="#481769" stroke-opacity=".8"/><path class="d" d="M563.2 331.3h0m.3 2.8h0m.2 2.9h0" stroke="#481a6c" stroke-opacity=".7"/><path class="d" d="M564 340h0" stroke="#481d6f" stroke-opacity=".7"/><g fill="#481d6f" stroke="#481d6f" fill-opacity=".7" stroke-opacity=".7" stroke-width="1.39"><circle cx="564.2" cy="343" r="3.1"/><circle cx="564.5" cy="346.3" r="3.1"/></g><g fill="#481d6f" stroke="#481d6f" fill-opacity=".7" stroke-opacity=".7" stroke-width="1.39"><circle cx="564.8" cy="349.6" r="3.1"/></g><g fill="#482173" stroke="#482173" fill-opacity=".7" stroke-opacity=".7" stroke-width="1.39"><circle cx="565.1" cy="353.1" r="3.1"/><circle cx="565.4" cy="356.7" r="3.1"/></g><g fill="#482475" stroke="#482475" fill-opacity=".7" stroke-opacity=".7" stroke-width="1.39"><circle cx="565.7" cy="360.5" r="3.1"/><circle cx="566" cy="364.5" r="3.1"/><circle cx="566.4" cy="368.6" r="3.1"/></g><g fill="#482878" stroke="#482878" fill-opacity=".6" stroke-opacity=".6" stroke-width="1.39"><circle cx="566.8" cy="373" r="3.1"/><circle cx="567.1" cy="377.6" r="3.1"/></g><g fill="#472a7a" stroke="#472a7a" fill-opacity=".6" stroke-opacity=".6" stroke-width="1.39"><circle cx="567.5" cy="382.4" r="3.1"/></g><g fill="#472e7c" stroke="#472e7c" fill-opacity=".6" stroke-opacity=".6" stroke-width="1.39"><circle cx="568.4" cy="393" r="3.1"/><circle cx="568.9" cy="398.7" r="3.1"/></g><g fill="#46307e" stroke="#46307e" fill-opacity=".6" stroke-opacity=".6" stroke-width="1.39"><circle cx="569.4" cy="404.9" r="3.1"/></g><g fill="#46307e" stroke="#46307e" fill-opacity=".5" stroke-opacity=".5" stroke-width="1.39"><circle cx="570" cy="411.4" r="3.1"/></g><path class="d" d="M550.2 259.5h0m.4 1.6h0m.4 1.5h0m.4 1.6h0" stroke="#440154" stroke-opacity=".9"/><path class="d" d="M551.8 265.7h0m.4 1.6h0m.4 1.5h0" stroke="#450457" stroke-opacity=".9"/><path class="d" d="M553 270.4h0m.4 1.6h0m.4 1.6h0" stroke="#450457" stroke-opacity=".8"/><path class="d" d="M554.3 275.2h0m.4 1.6h0m.4 1.6h0m.4 1.6h0m.4 1.7h0m.5 1.6h0m.4 1.7h0" stroke="#46085c" stroke-opacity=".8"/><path class="d" d="M557.2 286.7h0m.5 1.7h0" stroke="#460b5e" stroke-opacity=".8"/><path class="d" d="M558.1 290.2h0m.5 1.7h0m.5 1.8h0m.4 1.9h0" stroke="#460b5e" stroke-opacity=".8"/><path class="d" d="M560 297.4h0m.5 1.9h0m.5 1.9h0m.5 2h0m.5 2h0" stroke="#471063" stroke-opacity=".8"/><path class="d" d="M562.6 307.2h0" stroke="#471365" stroke-opacity=".8"/><path class="d" d="M563.1 309.3h0m.5 2.1h0m.6 2.2h0m.6 2.3h0" stroke="#471365" stroke-opacity=".8"/><path class="d" d="M565.4 318.2h0m.6 2.3h0m.6 2.4h0m.7 2.5h0" stroke="#481769" stroke-opacity=".8"/><path class="d" d="M567.6 328.1h0m.2 2.7h0m.2 2.8h0m.3 2.9h0" stroke="#481a6c" stroke-opacity=".7"/><path class="d" d="M568.5 339.6h0" stroke="#481d6f" stroke-opacity=".7"/><g fill="#481d6f" stroke="#481d6f" fill-opacity=".7" stroke-opacity=".7" stroke-width="1.39"><circle cx="568.8" cy="342.7" r="3.1"/><circle cx="569" cy="345.9" r="3.1"/></g><g fill="#482173" stroke="#482173" fill-opacity=".7" stroke-opacity=".7" stroke-width="1.39"><circle cx="569.3" cy="349.3" r="3.1"/><circle cx="569.6" cy="352.8" r="3.1"/><circle cx="569.9" cy="356.5" r="3.1"/></g><g fill="#482475" stroke="#482475" fill-opacity=".7" stroke-opacity=".7" stroke-width="1.39"><circle cx="570.2" cy="360.3" r="3.1"/><circle cx="570.5" cy="364.4" r="3.1"/></g><g fill="#482475" stroke="#482475" fill-opacity=".6" stroke-opacity=".6" stroke-width="1.39"><circle cx="570.8" cy="368.6" r="3.1"/></g><g fill="#482878" stroke="#482878" fill-opacity=".6" stroke-opacity=".6" stroke-width="1.39"><circle cx="571.2" cy="373" r="3.1"/><circle cx="571.6" cy="377.6" r="3.1"/></g><g fill="#472a7a" stroke="#472a7a" fill-opacity=".6" stroke-opacity=".6" stroke-width="1.39"><circle cx="572" cy="382.5" r="3.1"/><circle cx="572.4" cy="387.7" r="3.1"/></g><g fill="#472e7c" stroke="#472e7c" fill-opacity=".6" stroke-opacity=".6" stroke-width="1.39"><circle cx="572.8" cy="393.1" r="3.1"/><circle cx="573.3" cy="398.9" r="3.1"/></g><g fill="#46307e" stroke="#46307e" fill-opacity=".5" stroke-opacity=".5" stroke-width="1.39"><circle cx="574.3" cy="411.6" r="3.1"/></g><path class="d" d="M554.6 255.5h0m.4 1.6h0m.4 1.5h0m.4 1.6h0" stroke="#440154" stroke-opacity=".9"/><path class="d" d="M556.2 261.7h0m.4 1.6h0m.3 1.5h0" stroke="#450457" stroke-opacity=".9"/><path class="d" d="M557.3 266.4h0m.4 1.6h0m.4 1.6h0m.4 1.6h0" stroke="#450457" stroke-opacity=".8"/><path class="d" d="M558.9 272.8h0m.4 1.6h0m.5 1.6h0m.4 1.7h0m.4 1.6h0m.4 1.7h0" stroke="#46085c" stroke-opacity=".8"/><path class="d" d="M561.4 282.7h0m.5 1.7h0" stroke="#460b5e" stroke-opacity=".8"/><path class="d" d="M562.3 286.2h0m.4 1.7h0m.5 1.8h0m.5 1.8h0" stroke="#460b5e" stroke-opacity=".8"/><path class="d" d="M564.1 293.4h0m.5 1.9h0m.5 1.9h0m.4 1.9h0m.5 2h0m.6 2h0" stroke="#471063" stroke-opacity=".8"/><path class="d" d="M567.1 305.1h0" stroke="#471365" stroke-opacity=".8"/><path class="d" d="M567.6 307.3h0m.5 2.1h0m.6 2.2h0m.6 2.3h0" stroke="#471365" stroke-opacity=".8"/><path class="d" d="M569.8 316.2h0m.6 2.3h0m.6 2.5h0m.7 2.5h0" stroke="#481769" stroke-opacity=".8"/><path class="d" d="M571.9 326.2h0m.2 2.7h0m.3 2.8h0m.2 2.9h0" stroke="#481a6c" stroke-opacity=".7"/><path class="d" d="M572.8 337.7h0" stroke="#481d6f" stroke-opacity=".7"/><g fill="#481d6f" stroke="#481d6f" fill-opacity=".7" stroke-opacity=".7" stroke-width="1.39"><circle cx="573.1" cy="340.8" r="3.1"/><circle cx="573.3" cy="344.1" r="3.1"/></g><g fill="#482173" stroke="#482173" fill-opacity=".7" stroke-opacity=".7" stroke-width="1.39"><circle cx="573.6" cy="347.4" r="3.1"/><circle cx="573.9" cy="350.9" r="3.1"/><circle cx="574.1" cy="354.6" r="3.1"/></g><g fill="#482475" stroke="#482475" fill-opacity=".7" stroke-opacity=".7" stroke-width="1.39"><circle cx="574.4" cy="358.4" r="3.1"/><circle cx="574.8" cy="362.4" r="3.1"/><circle cx="575.1" cy="366.6" r="3.1"/></g><g fill="#482878" stroke="#482878" fill-opacity=".6" stroke-opacity=".6" stroke-width="1.39"><circle cx="575.4" cy="370.9" r="3.1"/></g><g fill="#472a7a" stroke="#472a7a" fill-opacity=".6" stroke-opacity=".6" stroke-width="1.39"><circle cx="576.2" cy="380.4" r="3.1"/><circle cx="576.6" cy="385.5" r="3.1"/></g><g fill="#472e7c" stroke="#472e7c" fill-opacity=".6" stroke-opacity=".6" stroke-width="1.39"><circle cx="577.4" cy="396.5" r="3.1"/></g><path class="d" d="M559.6 253.4h0m.4 1.5h0m.3 1.6h0m.4 1.6h0" stroke="#440154" stroke-opacity=".9"/><path class="d" d="M561.1 259.6h0m.4 1.6h0m.3 1.5h0" stroke="#450457" stroke-opacity=".9"/><path class="d" d="M562.2 264.3h0m.4 1.6h0m.4 1.6h0m.4 1.6h0" stroke="#450457" stroke-opacity=".8"/><path class="d" d="M563.7 270.7h0m.4 1.6h0m.4 1.7h0m.4 1.6h0m.4 1.7h0m.4 1.6h0" stroke="#46085c" stroke-opacity=".8"/><path class="d" d="M566.1 280.6h0m.5 1.8h0" stroke="#460b5e" stroke-opacity=".8"/><path class="d" d="M567 284.1h0m.4 1.8h0m.4 1.7h0m.5 1.9h0" stroke="#460b5e" stroke-opacity=".8"/><path class="d" d="M568.7 291.3h0m.5 1.9h0m.4 1.9h0m.5 1.9h0m.5 2h0m.4 2h0" stroke="#471063" stroke-opacity=".8"/><path class="d" d="M571.5 303h0" stroke="#471365" stroke-opacity=".8"/><path class="d" d="M572 305.1h0m.6 2.2h0m.5 2.1h0m.5 2.3h0" stroke="#471365" stroke-opacity=".8"/><path class="d" d="M574.2 314h0m.5 2.3h0m.6 2.5h0m.6 2.4h0" stroke="#481769" stroke-opacity=".8"/><path class="d" d="M576.3 323.8h0" stroke="#481a6c" stroke-opacity=".8"/><path class="d" d="M576.5 326.5h0m.2 2.8h0m.3 2.9h0" stroke="#481a6c" stroke-opacity=".7"/><path class="d" d="M577.2 335.2h0" stroke="#481d6f" stroke-opacity=".7"/><g fill="#481d6f" stroke="#481d6f" fill-opacity=".7" stroke-opacity=".7" stroke-width="1.39"><circle cx="577.4" cy="338.3" r="3.1"/><circle cx="577.6" cy="341.5" r="3.1"/><circle cx="577.9" cy="344.8" r="3.1"/></g><g fill="#482173" stroke="#482173" fill-opacity=".7" stroke-opacity=".7" stroke-width="1.39"><circle cx="578.1" cy="348.2" r="3.1"/><circle cx="578.4" cy="351.8" r="3.1"/><circle cx="578.7" cy="355.5" r="3.1"/></g><g fill="#482475" stroke="#482475" fill-opacity=".7" stroke-opacity=".7" stroke-width="1.39"><circle cx="579" cy="359.4" r="3.1"/><circle cx="579.3" cy="363.5" r="3.1"/></g><g fill="#482475" stroke="#482475" fill-opacity=".6" stroke-opacity=".6" stroke-width="1.39"><circle cx="579.6" cy="367.7" r="3.1"/></g><g fill="#482878" stroke="#482878" fill-opacity=".6" stroke-opacity=".6" stroke-width="1.39"><circle cx="579.9" cy="372.2" r="3.1"/></g><g fill="#472a7a" stroke="#472a7a" fill-opacity=".6" stroke-opacity=".6" stroke-width="1.39"><circle cx="580.7" cy="381.8" r="3.1"/></g><g fill="#472e7c" stroke="#472e7c" fill-opacity=".6" stroke-opacity=".6" stroke-width="1.39"><circle cx="581.5" cy="392.5" r="3.1"/><circle cx="581.9" cy="398.3" r="3.1"/></g><g fill="#46307e" stroke="#46307e" fill-opacity=".6" stroke-opacity=".6" stroke-width="1.39"><circle cx="582.4" cy="404.5" r="3.1"/></g><g fill="#46307e" stroke="#46307e" fill-opacity=".5" stroke-opacity=".5" stroke-width="1.39"><circle cx="582.8" cy="411" r="3.1"/></g><path class="d" d="M565.7 249.6h0m.4 1.6h0m.3 1.6h0m.4 1.5h0" stroke="#440154" stroke-opacity=".9"/><path class="d" d="M567.1 255.9h0m.3 1.6h0m.4 1.5h0" stroke="#450457" stroke-opacity=".9"/><path class="d" d="M568.1 260.6h0m.4 1.6h0m.3 1.6h0m.4 1.6h0" stroke="#450457" stroke-opacity=".8"/><path class="d" d="M569.5 267h0m.4 1.6h0m.3 1.7h0m.4 1.6h0m.3 1.7h0m.4 1.7h0m.4 1.7h0" stroke="#46085c" stroke-opacity=".8"/><path class="d" d="M572 278.7h0m.4 1.8h0" stroke="#460b5e" stroke-opacity=".8"/><path class="d" d="M572.8 282.2h0m.4 1.8h0m.4 1.8h0m.4 1.8h0" stroke="#460b5e" stroke-opacity=".8"/><path class="d" d="M574.4 289.5h0m.4 1.9h0m.4 1.9h0m.4 2h0m.5 2h0m.4 2h0" stroke="#471063" stroke-opacity=".8"/><path class="d" d="M577 301.4h0" stroke="#471365" stroke-opacity=".8"/><path class="d" d="M577.4 303.5h0m.5 2.2h0m.5 2.2h0m.5 2.3h0" stroke="#471365" stroke-opacity=".8"/><path class="d" d="M579.4 312.5h0m.5 2.4h0m.5 2.5h0m.6 2.5h0" stroke="#481769" stroke-opacity=".8"/><path class="d" d="M581.2 322.5h0m.2 2.7h0m.2 2.8h0m.2 2.9h0" stroke="#481a6c" stroke-opacity=".7"/><path class="d" d="M582 333.9h0" stroke="#481d6f" stroke-opacity=".7"/><g fill="#481d6f" stroke="#481d6f" fill-opacity=".7" stroke-opacity=".7" stroke-width="1.39"><circle cx="582.2" cy="337" r="3.1"/><circle cx="582.4" cy="340.2" r="3.1"/><circle cx="582.6" cy="343.6" r="3.1"/></g><g fill="#482173" stroke="#482173" fill-opacity=".7" stroke-opacity=".7" stroke-width="1.39"><circle cx="582.9" cy="347" r="3.1"/><circle cx="583.1" cy="350.6" r="3.1"/><circle cx="583.4" cy="354.4" r="3.1"/></g><g fill="#482475" stroke="#482475" fill-opacity=".7" stroke-opacity=".7" stroke-width="1.39"><circle cx="583.6" cy="358.3" r="3.1"/><circle cx="583.9" cy="362.3" r="3.1"/></g><g fill="#482475" stroke="#482475" fill-opacity=".6" stroke-opacity=".6" stroke-width="1.39"><circle cx="584.2" cy="366.6" r="3.1"/></g><g fill="#472e7c" stroke="#472e7c" fill-opacity=".6" stroke-opacity=".6" stroke-width="1.39"><circle cx="586.2" cy="397.1" r="3.1"/></g><g fill="#46307e" stroke="#46307e" fill-opacity=".6" stroke-opacity=".6" stroke-width="1.39"><circle cx="586.6" cy="403.2" r="3.1"/></g><g fill="#46307e" stroke="#46307e" fill-opacity=".5" stroke-opacity=".5" stroke-width="1.39"><circle cx="587.1" cy="409.7" r="3.1"/></g><g fill="#463480" stroke="#463480" fill-opacity=".5" stroke-opacity=".5" stroke-width="1.39"><circle cx="587.5" cy="416.6" r="3.1"/></g><path class="d" d="M571.7 249.5h0m.3 1.6h0m.3 1.5h0m.4 1.6h0" stroke="#440154" stroke-opacity=".9"/><path class="d" d="M573 255.8h0m.3 1.6h0m.3 1.5h0" stroke="#450457" stroke-opacity=".9"/><path class="d" d="M573.9 260.5h0m.3 1.6h0m.4 1.6h0m.3 1.6h0" stroke="#450457" stroke-opacity=".8"/><path class="d" d="M575.2 267h0m.3 1.6h0m.4 1.6h0m.3 1.7h0m.3 1.7h0m.4 1.7h0m.3 1.7h0" stroke="#46085c" stroke-opacity=".8"/><path class="d" d="M577.5 278.7h0m.4 1.7h0" stroke="#460b5e" stroke-opacity=".8"/><path class="d" d="M578.3 282.2h0m.3 1.8h0m.4 1.8h0m.3 1.9h0" stroke="#460b5e" stroke-opacity=".8"/><path class="d" d="M579.7 289.5h0m.4 1.9h0m.4 2h0m.4 1.9h0m.4 2h0m.4 2.1h0" stroke="#471063" stroke-opacity=".8"/><path class="d" d="M582.1 301.5h0" stroke="#471365" stroke-opacity=".8"/><path class="d" d="M582.5 303.6h0m.5 2.2h0m.4 2.2h0m.5 2.3h0" stroke="#471365" stroke-opacity=".8"/><path class="d" d="M584.3 312.6h0m.5 2.4h0m.5 2.5h0m.5 2.5h0" stroke="#481769" stroke-opacity=".8"/><path class="d" d="M586 322.7h0m.2 2.7h0m.1 2.8h0m.2 2.9h0" stroke="#481a6c" stroke-opacity=".7"/><path class="d" d="M586.7 334.1h0" stroke="#481d6f" stroke-opacity=".7"/><g fill="#481d6f" stroke="#481d6f" fill-opacity=".7" stroke-opacity=".7" stroke-width="1.39"><circle cx="586.9" cy="337.2" r="3.1"/><circle cx="587.1" cy="340.4" r="3.1"/></g><g fill="#481d6f" stroke="#481d6f" fill-opacity=".7" stroke-opacity=".7" stroke-width="1.39"><circle cx="587.3" cy="343.8" r="3.1"/></g><g fill="#482173" stroke="#482173" fill-opacity=".7" stroke-opacity=".7" stroke-width="1.39"><circle cx="587.5" cy="347.2" r="3.1"/><circle cx="587.7" cy="350.8" r="3.1"/><circle cx="588" cy="354.6" r="3.1"/></g><g fill="#482475" stroke="#482475" fill-opacity=".7" stroke-opacity=".7" stroke-width="1.39"><circle cx="588.2" cy="358.5" r="3.1"/><circle cx="588.5" cy="362.6" r="3.1"/></g><g fill="#482475" stroke="#482475" fill-opacity=".6" stroke-opacity=".6" stroke-width="1.39"><circle cx="588.7" cy="366.8" r="3.1"/></g><g fill="#482878" stroke="#482878" fill-opacity=".6" stroke-opacity=".6" stroke-width="1.39"><circle cx="589" cy="371.3" r="3.1"/></g><g fill="#472a7a" stroke="#472a7a" fill-opacity=".6" stroke-opacity=".6" stroke-width="1.39"><circle cx="589.6" cy="380.9" r="3.1"/></g><g fill="#472e7c" stroke="#472e7c" fill-opacity=".6" stroke-opacity=".6" stroke-width="1.39"><circle cx="590.6" cy="397.4" r="3.1"/></g><path class="d" d="M577.2 247.8h0m.3 1.6h0m.3 1.6h0m.3 1.5h0" stroke="#440154" stroke-opacity=".9"/><path class="d" d="M578.3 254.1h0m.3 1.6h0m.3 1.6h0" stroke="#450457" stroke-opacity=".9"/><path class="d" d="M579.2 258.9h0m.3 1.6h0m.3 1.6h0m.3 1.6h0" stroke="#450457" stroke-opacity=".8"/><path class="d" d="M580.4 265.3h0m.3 1.6h0m.3 1.7h0m.3 1.7h0m.4 1.6h0m.3 1.7h0m.3 1.7h0" stroke="#46085c" stroke-opacity=".8"/><path class="d" d="M582.6 277.1h0m.3 1.7h0" stroke="#460b5e" stroke-opacity=".8"/><path class="d" d="M583.3 280.6h0m.3 1.8h0m.3 1.8h0m.4 1.8h0" stroke="#460b5e" stroke-opacity=".8"/><path class="d" d="M584.6 287.9h0m.4 1.9h0m.3 1.9h0m.4 2h0m.4 2h0m.4 2h0" stroke="#471063" stroke-opacity=".8"/><path class="d" d="M586.9 299.8h0" stroke="#471365" stroke-opacity=".8"/><path class="d" d="M587.2 301.9h0m.5 2.2h0m.4 2.2h0m.4 2.3h0" stroke="#471365" stroke-opacity=".8"/><path class="d" d="M588.9 310.9h0m.5 2.4h0m.4 2.5h0m.5 2.5h0m.3 2.6h0" stroke="#481769" stroke-opacity=".8"/><path class="d" d="M590.7 323.6h0m.2 2.8h0m.2 2.8h0m.1 3h0" stroke="#481a6c" stroke-opacity=".7"/><path class="d" d="M591.4 335.3h0" stroke="#481d6f" stroke-opacity=".7"/><g fill="#481d6f" stroke="#481d6f" fill-opacity=".7" stroke-opacity=".7" stroke-width="1.39"><circle cx="591.6" cy="338.4" r="3.1"/><circle cx="591.8" cy="341.7" r="3.1"/></g><g fill="#482173" stroke="#482173" fill-opacity=".7" stroke-opacity=".7" stroke-width="1.39"><circle cx="592" cy="345.1" r="3.1"/><circle cx="592.2" cy="348.7" r="3.1"/><circle cx="592.4" cy="352.4" r="3.1"/></g><g fill="#482475" stroke="#482475" fill-opacity=".7" stroke-opacity=".7" stroke-width="1.39"><circle cx="592.6" cy="356.2" r="3.1"/><circle cx="592.8" cy="360.2" r="3.1"/><circle cx="593.1" cy="364.4" r="3.1"/></g><g fill="#482878" stroke="#482878" fill-opacity=".6" stroke-opacity=".6" stroke-width="1.39"><circle cx="593.3" cy="368.8" r="3.1"/><circle cx="593.6" cy="373.4" r="3.1"/></g><g fill="#472a7a" stroke="#472a7a" fill-opacity=".6" stroke-opacity=".6" stroke-width="1.39"><circle cx="594.5" cy="388.6" r="3.1"/></g><g fill="#463480" stroke="#463480" fill-opacity=".5" stroke-opacity=".5" stroke-width="1.39"><circle cx="595.9" cy="413.2" r="3.1"/></g><path class="d" d="M583.1 249.7h0m.3 1.6h0m.3 1.6h0m.3 1.5h0" stroke="#440154" stroke-opacity=".9"/><path class="d" d="M584.2 256h0m.3 1.6h0m.3 1.6h0" stroke="#450457" stroke-opacity=".9"/><path class="d" d="M585 260.8h0m.3 1.6h0m.3 1.6h0m.3 1.6h0" stroke="#450457" stroke-opacity=".8"/><path class="d" d="M586.2 267.2h0m.2 1.7h0m.3 1.6h0m.3 1.7h0m.3 1.7h0m.3 1.7h0m.3 1.7h0" stroke="#46085c" stroke-opacity=".8"/><path class="d" d="M588.2 279h0m.3 1.8h0" stroke="#460b5e" stroke-opacity=".8"/><path class="d" d="M588.8 282.6h0m.3 1.8h0m.3 1.8h0m.3 1.9h0" stroke="#460b5e" stroke-opacity=".8"/><path class="d" d="M590 289.9h0m.4 2h0m.3 1.9h0m.3 2h0m.4 2h0" stroke="#471063" stroke-opacity=".8"/><path class="d" d="M591.7 299.9h0" stroke="#471365" stroke-opacity=".8"/><path class="d" d="M592.1 302h0m.4 2.1h0m.3 2.2h0m.4 2.3h0m.4 2.3h0" stroke="#471365" stroke-opacity=".8"/><path class="d" d="M594 313.2h0m.4 2.4h0m.5 2.5h0m.4 2.6h0" stroke="#481769" stroke-opacity=".8"/><path class="d" d="M595.4 323.3h0m.2 2.8h0m.1 2.8h0m.2 2.9h0" stroke="#481a6c" stroke-opacity=".7"/><path class="d" d="M596 334.8h0" stroke="#481d6f" stroke-opacity=".7"/><g fill="#481d6f" stroke="#481d6f" fill-opacity=".7" stroke-opacity=".7" stroke-width="1.39"><circle cx="596.2" cy="338" r="3.1"/><circle cx="596.4" cy="341.2" r="3.1"/></g><g fill="#481d6f" stroke="#481d6f" fill-opacity=".7" stroke-opacity=".7" stroke-width="1.39"><circle cx="596.5" cy="344.5" r="3.1"/></g><g fill="#482173" stroke="#482173" fill-opacity=".7" stroke-opacity=".7" stroke-width="1.39"><circle cx="596.7" cy="348" r="3.1"/><circle cx="596.9" cy="351.7" r="3.1"/><circle cx="597.1" cy="355.4" r="3.1"/></g><g fill="#482475" stroke="#482475" fill-opacity=".7" stroke-opacity=".7" stroke-width="1.39"><circle cx="597.3" cy="359.4" r="3.1"/><circle cx="597.6" cy="363.5" r="3.1"/></g><g fill="#482878" stroke="#482878" fill-opacity=".6" stroke-opacity=".6" stroke-width="1.39"><circle cx="597.8" cy="367.8" r="3.1"/><circle cx="598" cy="372.3" r="3.1"/></g><g fill="#472a7a" stroke="#472a7a" fill-opacity=".6" stroke-opacity=".6" stroke-width="1.39"><circle cx="598.5" cy="382" r="3.1"/></g><g fill="#472a7a" stroke="#472a7a" fill-opacity=".6" stroke-opacity=".6" stroke-width="1.39"><circle cx="598.8" cy="387.3" r="3.1"/></g><g fill="#472e7c" stroke="#472e7c" fill-opacity=".6" stroke-opacity=".6" stroke-width="1.39"><circle cx="599.1" cy="392.8" r="3.1"/></g><g fill="#46307e" stroke="#46307e" fill-opacity=".6" stroke-opacity=".6" stroke-width="1.39"><circle cx="599.8" cy="404.9" r="3.1"/></g><g fill="#46307e" stroke="#46307e" fill-opacity=".5" stroke-opacity=".5" stroke-width="1.39"><circle cx="600.1" cy="411.5" r="3.1"/></g><path class="d" d="M589.5 247.7h0m.2 1.6h0m.2 1.6h0m.3 1.6h0" stroke="#440154" stroke-opacity=".9"/><path class="d" d="M590.4 254.1h0m.2 1.6h0m.3 1.6h0" stroke="#450457" stroke-opacity=".9"/><path class="d" d="M591.1 258.9h0m.3 1.6h0m.2 1.6h0m.2 1.6h0" stroke="#450457" stroke-opacity=".8"/><path class="d" d="M592.1 265.3h0m.2 1.7h0m.3 1.7h0m.2 1.6h0m.3 1.7h0m.2 1.7h0m.3 1.7h0" stroke="#46085c" stroke-opacity=".8"/><path class="d" d="M593.9 277.2h0m.2 1.7h0" stroke="#460b5e" stroke-opacity=".8"/><path class="d" d="M594.4 280.7h0m.3 1.8h0m.2 1.8h0m.3 1.9h0" stroke="#460b5e" stroke-opacity=".8"/><path class="d" d="M595.5 288.1h0m.3 1.9h0m.3 1.9h0m.3 2h0m.3 2h0m.3 2.1h0" stroke="#471063" stroke-opacity=".8"/><path class="d" d="M597.3 300.1h0" stroke="#471365" stroke-opacity=".8"/><path class="d" d="M597.6 302.2h0m.3 2.2h0m.4 2.3h0m.3 2.2h0" stroke="#471365" stroke-opacity=".8"/><path class="d" d="M599 311.3h0m.3 2.4h0m.4 2.5h0m.4 2.5h0" stroke="#481769" stroke-opacity=".8"/><path class="d" d="M600.2 321.3h0" stroke="#481a6c" stroke-opacity=".8"/><path class="d" d="M600.4 324h0m.1 2.8h0m.1 2.9h0" stroke="#481a6c" stroke-opacity=".7"/><path class="d" d="M600.8 332.7h0m.1 3.1h0" stroke="#481d6f" stroke-opacity=".7"/><g fill="#481d6f" stroke="#481d6f" fill-opacity=".7" stroke-opacity=".7" stroke-width="1.39"><circle cx="601.1" cy="338.9" r="3.1"/><circle cx="601.2" cy="342.3" r="3.1"/></g><g fill="#482173" stroke="#482173" fill-opacity=".7" stroke-opacity=".7" stroke-width="1.39"><circle cx="601.4" cy="345.7" r="3.1"/><circle cx="601.5" cy="349.2" r="3.1"/><circle cx="601.7" cy="352.9" r="3.1"/></g><g fill="#482475" stroke="#482475" fill-opacity=".7" stroke-opacity=".7" stroke-width="1.39"><circle cx="601.9" cy="356.8" r="3.1"/><circle cx="602.1" cy="360.8" r="3.1"/></g><g fill="#482475" stroke="#482475" fill-opacity=".6" stroke-opacity=".6" stroke-width="1.39"><circle cx="602.3" cy="365" r="3.1"/></g><g fill="#482878" stroke="#482878" fill-opacity=".6" stroke-opacity=".6" stroke-width="1.39"><circle cx="602.5" cy="369.4" r="3.1"/></g><g fill="#472a7a" stroke="#472a7a" fill-opacity=".6" stroke-opacity=".6" stroke-width="1.39"><circle cx="603.2" cy="384" r="3.1"/></g><g fill="#472a7a" stroke="#472a7a" fill-opacity=".6" stroke-opacity=".6" stroke-width="1.39"><circle cx="603.4" cy="389.4" r="3.1"/></g><g fill="#46307e" stroke="#46307e" fill-opacity=".6" stroke-opacity=".6" stroke-width="1.39"><circle cx="603.9" cy="401.1" r="3.1"/></g><path class="d" d="M595.4 250.5h0m.2 1.6h0m.2 1.6h0m.2 1.6h0" stroke="#440154" stroke-opacity=".9"/><path class="d" d="M596.2 256.9h0m.3 1.6h0m.2 1.6h0" stroke="#450457" stroke-opacity=".9"/><path class="d" d="M596.9 261.7h0m.2 1.6h0m.2 1.6h0m.2 1.6h0" stroke="#450457" stroke-opacity=".8"/><path class="d" d="M597.8 268.2h0m.2 1.6h0m.2 1.7h0m.2 1.7h0m.3 1.7h0m.2 1.7h0m.2 1.7h0" stroke="#46085c" stroke-opacity=".8"/><path class="d" d="M599.4 280h0" stroke="#460b5e" stroke-opacity=".8"/><path class="d" d="M599.6 281.8h0m.3 1.8h0m.2 1.8h0m.3 1.9h0m.2 1.8h0" stroke="#460b5e" stroke-opacity=".8"/><path class="d" d="M600.9 291h0m.2 2h0m.3 1.9h0m.3 2h0m.2 2.1h0" stroke="#471063" stroke-opacity=".8"/><path class="d" d="M602.2 301h0" stroke="#471365" stroke-opacity=".8"/><path class="d" d="M602.5 303.2h0m.3 2.1h0m.3 2.3h0m.3 2.2h0" stroke="#471365" stroke-opacity=".8"/><path class="d" d="M603.7 312.2h0m.4 2.3h0m.3 2.5h0m.3 2.5h0m.3 2.6h0" stroke="#481769" stroke-opacity=".8"/><path class="d" d="M605.1 324.8h0m.1 2.7h0m.1 2.9h0m.1 3h0" stroke="#481a6c" stroke-opacity=".7"/><path class="d" d="M605.6 336.4h0" stroke="#481d6f" stroke-opacity=".7"/><g fill="#481d6f" stroke="#481d6f" fill-opacity=".7" stroke-opacity=".7" stroke-width="1.39"><circle cx="605.7" cy="339.6" r="3.1"/><circle cx="605.8" cy="342.8" r="3.1"/></g><g fill="#482173" stroke="#482173" fill-opacity=".7" stroke-opacity=".7" stroke-width="1.39"><circle cx="606" cy="346.2" r="3.1"/><circle cx="606.1" cy="349.8" r="3.1"/><circle cx="606.3" cy="353.5" r="3.1"/></g><g fill="#482475" stroke="#482475" fill-opacity=".7" stroke-opacity=".7" stroke-width="1.39"><circle cx="606.4" cy="357.3" r="3.1"/><circle cx="606.6" cy="361.3" r="3.1"/><circle cx="606.8" cy="365.5" r="3.1"/></g><g fill="#482878" stroke="#482878" fill-opacity=".6" stroke-opacity=".6" stroke-width="1.39"><circle cx="607" cy="369.9" r="3.1"/></g><g fill="#472a7a" stroke="#472a7a" fill-opacity=".6" stroke-opacity=".6" stroke-width="1.39"><circle cx="607.6" cy="384.4" r="3.1"/></g><g fill="#472e7c" stroke="#472e7c" fill-opacity=".6" stroke-opacity=".6" stroke-width="1.39"><circle cx="608.1" cy="395.4" r="3.1"/></g><g fill="#463480" stroke="#463480" fill-opacity=".5" stroke-opacity=".5" stroke-width="1.39"><circle cx="608.9" cy="414.6" r="3.1"/></g><path class="d" d="M600.7 253h0m.2 1.6h0m.2 1.6h0m.2 1.6h0" stroke="#440154" stroke-opacity=".9"/><path class="d" d="M601.5 259.4h0m.2 1.6h0m.2 1.6h0" stroke="#450457" stroke-opacity=".9"/><path class="d" d="M602.1 264.2h0m.2 1.6h0m.2 1.6h0m.2 1.7h0" stroke="#450457" stroke-opacity=".8"/><path class="d" d="M602.9 270.7h0m.2 1.7h0m.3 1.6h0m.2 1.7h0m.2 1.7h0m.2 1.7h0" stroke="#46085c" stroke-opacity=".8"/><path class="d" d="M604.2 280.9h0m.2 1.7h0" stroke="#460b5e" stroke-opacity=".8"/><path class="d" d="M604.7 284.4h0m.2 1.8h0m.2 1.8h0m.3 1.9h0" stroke="#460b5e" stroke-opacity=".8"/><path class="d" d="M605.6 291.8h0m.2 1.9h0m.3 1.9h0m.2 2h0m.3 2h0m.3 2.1h0" stroke="#471063" stroke-opacity=".8"/><path class="d" d="M607.1 303.8h0" stroke="#471365" stroke-opacity=".8"/><path class="d" d="M607.4 305.9h0m.3 2.2h0m.3 2.3h0m.3 2.3h0" stroke="#471365" stroke-opacity=".8"/><path class="d" d="M608.6 315h0m.3 2.4h0m.3 2.5h0m.3 2.6h0" stroke="#481769" stroke-opacity=".8"/><path class="d" d="M609.6 325.1h0m.1 2.8h0m.1 2.8h0m.1 2.9h0" stroke="#481a6c" stroke-opacity=".7"/><path class="d" d="M610.1 336.6h0" stroke="#481d6f" stroke-opacity=".7"/><g fill="#481d6f" stroke="#481d6f" fill-opacity=".7" stroke-opacity=".7" stroke-width="1.39"><circle cx="610.2" cy="339.7" r="3.1"/><circle cx="610.3" cy="343" r="3.1"/></g><g fill="#482173" stroke="#482173" fill-opacity=".7" stroke-opacity=".7" stroke-width="1.39"><circle cx="610.4" cy="346.3" r="3.1"/><circle cx="610.6" cy="349.8" r="3.1"/><circle cx="610.7" cy="353.5" r="3.1"/><circle cx="610.9" cy="357.3" r="3.1"/></g><g fill="#482475" stroke="#482475" fill-opacity=".7" stroke-opacity=".7" stroke-width="1.39"><circle cx="611" cy="361.2" r="3.1"/><circle cx="611.2" cy="365.4" r="3.1"/></g><g fill="#482878" stroke="#482878" fill-opacity=".6" stroke-opacity=".6" stroke-width="1.39"><circle cx="611.4" cy="369.7" r="3.1"/><circle cx="611.5" cy="374.3" r="3.1"/></g><g fill="#472a7a" stroke="#472a7a" fill-opacity=".6" stroke-opacity=".6" stroke-width="1.39"><circle cx="612.1" cy="389.4" r="3.1"/></g><g fill="#472e7c" stroke="#472e7c" fill-opacity=".6" stroke-opacity=".6" stroke-width="1.39"><circle cx="612.6" cy="401" r="3.1"/></g><g fill="#46307e" stroke="#46307e" fill-opacity=".6" stroke-opacity=".6" stroke-width="1.39"><circle cx="612.9" cy="407.4" r="3.1"/></g><g fill="#463480" stroke="#463480" fill-opacity=".5" stroke-opacity=".5" stroke-width="1.39"><circle cx="613.1" cy="414.1" r="3.1"/></g><path class="d" d="M607.2 252.2h0m.1 1.6h0m.2 1.6h0m.2 1.6h0" stroke="#440154" stroke-opacity=".9"/><path class="d" d="M607.8 258.6h0m.2 1.6h0m.2 1.6h0" stroke="#450457" stroke-opacity=".9"/><path class="d" d="M608.3 263.4h0m.2 1.6h0m.2 1.6h0m.2 1.6h0" stroke="#450457" stroke-opacity=".8"/><path class="d" d="M609 269.9h0m.2 1.7h0m.2 1.6h0m.1 1.7h0m.2 1.7h0m.2 1.7h0" stroke="#46085c" stroke-opacity=".8"/><path class="d" d="M610.1 280.1h0m.2 1.7h0" stroke="#460b5e" stroke-opacity=".8"/><path class="d" d="M610.5 283.6h0m.1 1.8h0m.2 1.8h0m.2 1.9h0" stroke="#460b5e" stroke-opacity=".8"/><path class="d" d="M611.2 291h0m.2 1.9h0m.2 1.9h0m.2 2h0m.2 2h0m.3 2.1h0" stroke="#471063" stroke-opacity=".8"/><path class="d" d="M612.5 303h0" stroke="#471365" stroke-opacity=".8"/><path class="d" d="M612.7 305.2h0m.2 2.1h0m.3 2.3h0m.2 2.3h0" stroke="#471365" stroke-opacity=".8"/><path class="d" d="M613.6 314.2h0m.3 2.5h0m.3 2.4h0m.2 2.6h0" stroke="#481769" stroke-opacity=".8"/><path class="d" d="M614.5 324.3h0" stroke="#481a6c" stroke-opacity=".8"/><path class="d" d="M614.6 327.1h0m.1 2.8h0m.1 2.9h0" stroke="#481a6c" stroke-opacity=".7"/><path class="d" d="M614.9 335.8h0" stroke="#481d6f" stroke-opacity=".7"/><g fill="#481d6f" stroke="#481d6f" fill-opacity=".7" stroke-opacity=".7" stroke-width="1.39"><circle cx="615" cy="338.9" r="3.1"/><circle cx="615.1" cy="342.1" r="3.1"/></g><g fill="#481d6f" stroke="#481d6f" fill-opacity=".7" stroke-opacity=".7" stroke-width="1.39"><circle cx="615.2" cy="345.4" r="3.1"/></g><g fill="#482173" stroke="#482173" fill-opacity=".7" stroke-opacity=".7" stroke-width="1.39"><circle cx="615.3" cy="348.9" r="3.1"/><circle cx="615.4" cy="352.5" r="3.1"/><circle cx="615.5" cy="356.3" r="3.1"/></g><g fill="#482475" stroke="#482475" fill-opacity=".7" stroke-opacity=".7" stroke-width="1.39"><circle cx="615.7" cy="360.2" r="3.1"/><circle cx="615.8" cy="364.3" r="3.1"/></g><g fill="#482878" stroke="#482878" fill-opacity=".6" stroke-opacity=".6" stroke-width="1.39"><circle cx="615.9" cy="368.6" r="3.1"/></g><g fill="#472a7a" stroke="#472a7a" fill-opacity=".6" stroke-opacity=".6" stroke-width="1.39"><circle cx="616.4" cy="382.9" r="3.1"/></g><g fill="#472a7a" stroke="#472a7a" fill-opacity=".6" stroke-opacity=".6" stroke-width="1.39"><circle cx="616.6" cy="388.1" r="3.1"/></g><g fill="#472e7c" stroke="#472e7c" fill-opacity=".6" stroke-opacity=".6" stroke-width="1.39"><circle cx="616.9" cy="399.6" r="3.1"/></g><g fill="#463480" stroke="#463480" fill-opacity=".5" stroke-opacity=".5" stroke-width="1.39"><circle cx="617.4" cy="412.5" r="3.1"/></g><path class="d" d="M612.5 255.3h0m.2 1.6h0m.1 1.6h0m.2 1.6h0" stroke="#440154" stroke-opacity=".9"/><path class="d" d="M613.1 261.7h0m.2 1.6h0m.1 1.6h0" stroke="#450457" stroke-opacity=".9"/><path class="d" d="M613.6 266.5h0m.1 1.6h0m.2 1.7h0m.2 1.6h0" stroke="#450457" stroke-opacity=".8"/><path class="d" d="M614.2 273.1h0m.2 1.6h0m.1 1.7h0m.2 1.7h0m.2 1.7h0m.1 1.7h0" stroke="#46085c" stroke-opacity=".8"/><path class="d" d="M615.2 283.3h0m.1 1.7h0" stroke="#460b5e" stroke-opacity=".8"/><path class="d" d="M615.5 286.8h0m.2 1.8h0m.2 1.9h0m.1 1.8h0" stroke="#460b5e" stroke-opacity=".8"/><path class="d" d="M616.2 294.2h0m.2 2h0m.2 1.9h0m.2 2h0m.2 2.1h0" stroke="#471063" stroke-opacity=".8"/><path class="d" d="M617.2 304.3h0" stroke="#471365" stroke-opacity=".8"/><path class="d" d="M617.4 306.4h0m.2 2.2h0m.2 2.2h0m.2 2.3h0" stroke="#471365" stroke-opacity=".8"/><path class="d" d="M618.2 315.4h0m.3 2.4h0m.2 2.5h0m.2 2.5h0m.2 2.6h0" stroke="#481769" stroke-opacity=".8"/><path class="d" d="M619.2 328.1h0m0 2.8h0m.1 2.9h0" stroke="#481a6c" stroke-opacity=".7"/><path class="d" d="M619.4 336.8h0m.1 3h0" stroke="#481d6f" stroke-opacity=".7"/><g fill="#481d6f" stroke="#481d6f" fill-opacity=".7" stroke-opacity=".7" stroke-width="1.39"><circle cx="619.6" cy="343" r="3.1"/><circle cx="619.7" cy="346.4" r="3.1"/></g><g fill="#482173" stroke="#482173" fill-opacity=".7" stroke-opacity=".7" stroke-width="1.39"><circle cx="619.8" cy="349.8" r="3.1"/><circle cx="619.9" cy="353.4" r="3.1"/><circle cx="620" cy="357.1" r="3.1"/></g><g fill="#482475" stroke="#482475" fill-opacity=".7" stroke-opacity=".7" stroke-width="1.39"><circle cx="620.1" cy="361.1" r="3.1"/><circle cx="620.3" cy="365.2" r="3.1"/></g><g fill="#482878" stroke="#482878" fill-opacity=".6" stroke-opacity=".6" stroke-width="1.39"><circle cx="620.4" cy="369.4" r="3.1"/></g><g fill="#472a7a" stroke="#472a7a" fill-opacity=".6" stroke-opacity=".6" stroke-width="1.39"><circle cx="620.8" cy="383.7" r="3.1"/></g><g fill="#472e7c" stroke="#472e7c" fill-opacity=".6" stroke-opacity=".6" stroke-width="1.39"><circle cx="621.1" cy="394.5" r="3.1"/></g><g fill="#46307e" stroke="#46307e" fill-opacity=".6" stroke-opacity=".6" stroke-width="1.39"><circle cx="621.5" cy="406.8" r="3.1"/></g><g fill="#463480" stroke="#463480" fill-opacity=".5" stroke-opacity=".5" stroke-width="1.39"><circle cx="621.7" cy="413.5" r="3.1"/></g><path class="d" d="M618.4 257.8h0m.1 1.6h0m.1 1.6h0m.2 1.6h0" stroke="#440154" stroke-opacity=".9"/><path class="d" d="M618.9 264.2h0m.1 1.6h0m.2 1.6h0" stroke="#450457" stroke-opacity=".9"/><path class="d" d="M619.3 269h0m.1 1.7h0m.2 1.6h0" stroke="#450457" stroke-opacity=".8"/><path class="d" d="M619.7 273.9h0m.1 1.7h0m.2 1.7h0m.1 1.7h0m.1 1.6h0m.2 1.8h0m.1 1.7h0" stroke="#46085c" stroke-opacity=".8"/><path class="d" d="M620.6 285.8h0m.2 1.8h0" stroke="#460b5e" stroke-opacity=".8"/><path class="d" d="M620.9 289.4h0m.2 1.8h0m.1 1.9h0m.2 1.9h0" stroke="#460b5e" stroke-opacity=".8"/><path class="d" d="M621.5 296.9h0m.2 1.9h0m.1 2h0m.2 2h0m.2 2.1h0" stroke="#471063" stroke-opacity=".8"/><path class="d" d="M622.3 307h0" stroke="#471365" stroke-opacity=".8"/><path class="d" d="M622.5 309.2h0m.2 2.2h0m.2 2.2h0m.1 2.3h0" stroke="#471365" stroke-opacity=".8"/><path class="d" d="M623.2 318.3h0m.2 2.4h0m.2 2.5h0m.2 2.6h0" stroke="#481769" stroke-opacity=".8"/><path class="d" d="M623.9 328.5h0m0 2.7h0m.1 2.9h0m.1 2.9h0" stroke="#481a6c" stroke-opacity=".7"/><path class="d" d="M624.2 340.1h0" stroke="#481d6f" stroke-opacity=".7"/><g fill="#481d6f" stroke="#481d6f" fill-opacity=".7" stroke-opacity=".7" stroke-width="1.39"><circle cx="624.2" cy="343.2" r="3.1"/><circle cx="624.3" cy="346.5" r="3.1"/></g><g fill="#482173" stroke="#482173" fill-opacity=".7" stroke-opacity=".7" stroke-width="1.39"><circle cx="624.4" cy="349.9" r="3.1"/><circle cx="624.5" cy="353.5" r="3.1"/><circle cx="624.6" cy="357.2" r="3.1"/></g><g fill="#482475" stroke="#482475" fill-opacity=".7" stroke-opacity=".7" stroke-width="1.39"><circle cx="624.7" cy="361" r="3.1"/><circle cx="624.8" cy="365.1" r="3.1"/></g><g fill="#482475" stroke="#482475" fill-opacity=".6" stroke-opacity=".6" stroke-width="1.39"><circle cx="624.9" cy="369.3" r="3.1"/></g><g fill="#482878" stroke="#482878" fill-opacity=".6" stroke-opacity=".6" stroke-width="1.39"><circle cx="625" cy="373.8" r="3.1"/></g><g fill="#46307e" stroke="#46307e" fill-opacity=".6" stroke-opacity=".6" stroke-width="1.39"><circle cx="625.8" cy="406.3" r="3.1"/></g><g fill="#463480" stroke="#463480" fill-opacity=".5" stroke-opacity=".5" stroke-width="1.39"><circle cx="626" cy="413" r="3.1"/></g><path class="d" d="M623.9 257h0m.1 1.6h0m.1 1.6h0m.1 1.6h0" stroke="#440154" stroke-opacity=".9"/><path class="d" d="M624.3 263.4h0m.1 1.6h0m.1 1.6h0" stroke="#450457" stroke-opacity=".9"/><path class="d" d="M624.6 268.2h0m.1 1.6h0m.2 1.7h0" stroke="#450457" stroke-opacity=".8"/><path class="d" d="M625 273.1h0m.1 1.7h0m.1 1.7h0m.1 1.6h0m.1 1.7h0m.1 1.7h0m.1 1.8h0" stroke="#46085c" stroke-opacity=".8"/><path class="d" d="M625.8 285h0m.1 1.8h0" stroke="#460b5e" stroke-opacity=".8"/><path class="d" d="M626 288.6h0m.1 1.8h0m.2 1.9h0m.1 1.9h0" stroke="#460b5e" stroke-opacity=".8"/><path class="d" d="M626.5 296.1h0m.1 1.9h0m.2 2h0m.1 2h0m.1 2.1h0" stroke="#471063" stroke-opacity=".8"/><path class="d" d="M627.2 306.2h0" stroke="#471365" stroke-opacity=".8"/><path class="d" d="M627.3 308.3h0m.2 2.2h0m.1 2.3h0m.2 2.3h0" stroke="#471365" stroke-opacity=".8"/><path class="d" d="M627.9 317.4h0m.2 2.5h0m.2 2.5h0m.1 2.5h0" stroke="#481769" stroke-opacity=".8"/><path class="d" d="M628.5 327.6h0m0 2.7h0m.1 2.8h0m.1 3h0" stroke="#481a6c" stroke-opacity=".7"/><path class="d" d="M628.7 339.1h0" stroke="#481d6f" stroke-opacity=".7"/><g fill="#481d6f" stroke="#481d6f" fill-opacity=".7" stroke-opacity=".7" stroke-width="1.39"><circle cx="628.8" cy="342.2" r="3.1"/><circle cx="628.9" cy="345.5" r="3.1"/></g><g fill="#482173" stroke="#482173" fill-opacity=".7" stroke-opacity=".7" stroke-width="1.39"><circle cx="628.9" cy="348.9" r="3.1"/><circle cx="629" cy="352.4" r="3.1"/><circle cx="629.1" cy="356.1" r="3.1"/></g><g fill="#482475" stroke="#482475" fill-opacity=".7" stroke-opacity=".7" stroke-width="1.39"><circle cx="629.2" cy="359.9" r="3.1"/><circle cx="629.2" cy="363.9" r="3.1"/></g><g fill="#482475" stroke="#482475" fill-opacity=".6" stroke-opacity=".6" stroke-width="1.39"><circle cx="629.3" cy="368.1" r="3.1"/></g><g fill="#482878" stroke="#482878" fill-opacity=".6" stroke-opacity=".6" stroke-width="1.39"><circle cx="629.4" cy="372.5" r="3.1"/><circle cx="629.5" cy="377.2" r="3.1"/></g><g fill="#472e7c" stroke="#472e7c" fill-opacity=".6" stroke-opacity=".6" stroke-width="1.39"><circle cx="629.8" cy="392.7" r="3.1"/></g><g fill="#46307e" stroke="#46307e" fill-opacity=".6" stroke-opacity=".6" stroke-width="1.39"><circle cx="630.1" cy="404.6" r="3.1"/></g><path class="d" d="M630.3 257.9h0m.1 1.6h0m.1 1.6h0m.1 1.6h0" stroke="#440154" stroke-opacity=".9"/><path class="d" d="M630.6 264.3h0m.1 1.6h0m.1 1.6h0" stroke="#450457" stroke-opacity=".9"/><path class="d" d="M630.8 269.2h0m.1 1.6h0m.1 1.6h0" stroke="#450457" stroke-opacity=".8"/><path class="d" d="M631.1 274.1h0m0 1.6h0m.1 1.7h0m.1 1.7h0m.1 1.7h0m0 1.7h0m.1 1.7h0" stroke="#46085c" stroke-opacity=".8"/><path class="d" d="M631.6 286h0m.1 1.8h0" stroke="#460b5e" stroke-opacity=".8"/><path class="d" d="M631.8 289.6h0m0 1.8h0m.1 1.9h0m.1 1.9h0" stroke="#460b5e" stroke-opacity=".8"/><path class="d" d="M632.1 297.1h0m.1 1.9h0m.1 2h0m.1 2h0m0 2.1h0" stroke="#471063" stroke-opacity=".8"/><path class="d" d="M632.5 307.2h0" stroke="#471365" stroke-opacity=".8"/><path class="d" d="M632.6 309.4h0m.1 2.2h0m.1 2.2h0m.1 2.4h0" stroke="#471365" stroke-opacity=".8"/><path class="d" d="M633.1 318.5h0m.1 2.5h0m.1 2.5h0m.1 2.6h0" stroke="#481769" stroke-opacity=".8"/><path class="d" d="M633.4 328.8h0m0 2.7h0m.1 2.9h0m0 2.9h0" stroke="#481a6c" stroke-opacity=".7"/><path class="d" d="M633.6 340.4h0" stroke="#481d6f" stroke-opacity=".7"/><g fill="#481d6f" stroke="#481d6f" fill-opacity=".7" stroke-opacity=".7" stroke-width="1.39"><circle cx="633.6" cy="343.5" r="3.1"/><circle cx="633.6" cy="346.8" r="3.1"/></g><g fill="#482173" stroke="#482173" fill-opacity=".7" stroke-opacity=".7" stroke-width="1.39"><circle cx="633.7" cy="350.2" r="3.1"/><circle cx="633.7" cy="353.8" r="3.1"/><circle cx="633.8" cy="357.5" r="3.1"/></g><g fill="#482475" stroke="#482475" fill-opacity=".7" stroke-opacity=".7" stroke-width="1.39"><circle cx="633.9" cy="361.4" r="3.1"/><circle cx="633.9" cy="365.5" r="3.1"/></g><g fill="#482475" stroke="#482475" fill-opacity=".6" stroke-opacity=".6" stroke-width="1.39"><circle cx="634" cy="369.7" r="3.1"/></g><g fill="#482878" stroke="#482878" fill-opacity=".6" stroke-opacity=".6" stroke-width="1.39"><circle cx="634.1" cy="378.9" r="3.1"/></g><g fill="#472e7c" stroke="#472e7c" fill-opacity=".6" stroke-opacity=".6" stroke-width="1.39"><circle cx="634.3" cy="394.7" r="3.1"/><circle cx="634.4" cy="400.6" r="3.1"/></g><g fill="#46307e" stroke="#46307e" fill-opacity=".6" stroke-opacity=".6" stroke-width="1.39"><circle cx="634.5" cy="406.9" r="3.1"/></g><path class="d" d="M635.9 258.4h0m.1 1.6h0m0 1.6h0m.1 1.6h0" stroke="#440154" stroke-opacity=".9"/><path class="d" d="M636.1 264.8h0m.1 1.7h0m0 1.6h0" stroke="#450457" stroke-opacity=".9"/><path class="d" d="M636.3 269.7h0m0 1.6h0m.1 1.7h0" stroke="#450457" stroke-opacity=".8"/><path class="d" d="M636.4 274.6h0m.1 1.7h0m0 1.6h0m.1 1.7h0m0 1.7h0m.1 1.7h0m0 1.8h0" stroke="#46085c" stroke-opacity=".8"/><path class="d" d="M636.8 286.5h0m0 1.8h0" stroke="#460b5e" stroke-opacity=".8"/><path class="d" d="M636.9 290.1h0m.1 1.9h0m0 1.8h0" stroke="#460b5e" stroke-opacity=".8"/><path class="d" d="M637.1 295.7h0m0 1.9h0m.1 2h0m.1 2h0m0 2h0m.1 2.1h0" stroke="#471063" stroke-opacity=".8"/><path class="d" d="M637.5 307.8h0" stroke="#471365" stroke-opacity=".8"/><path class="d" d="M637.5 310h0m.1 2.2h0m.1 2.3h0m0 2.3h0" stroke="#471365" stroke-opacity=".8"/><path class="d" d="M637.8 319.2h0m.1 2.4h0m.1 2.5h0m0 2.6h0" stroke="#481769" stroke-opacity=".8"/><path class="d" d="M638 329.4h0m.1 2.8h0m0 2.9h0m0 2.9h0" stroke="#481a6c" stroke-opacity=".7"/><path class="d" d="M638.2 341.1h0" stroke="#481d6f" stroke-opacity=".7"/><g fill="#481d6f" stroke="#481d6f" fill-opacity=".7" stroke-opacity=".7" stroke-width="1.39"><circle cx="638.2" cy="344.3" r="3.1"/><circle cx="638.2" cy="347.6" r="3.1"/></g><g fill="#482173" stroke="#482173" fill-opacity=".7" stroke-opacity=".7" stroke-width="1.39"><circle cx="638.3" cy="351" r="3.1"/><circle cx="638.3" cy="354.6" r="3.1"/><circle cx="638.3" cy="358.3" r="3.1"/></g><g fill="#482475" stroke="#482475" fill-opacity=".7" stroke-opacity=".7" stroke-width="1.39"><circle cx="638.4" cy="362.3" r="3.1"/><circle cx="638.4" cy="366.4" r="3.1"/></g><g fill="#482878" stroke="#482878" fill-opacity=".6" stroke-opacity=".6" stroke-width="1.39"><circle cx="638.4" cy="370.7" r="3.1"/><circle cx="638.5" cy="375.2" r="3.1"/></g><g fill="#472e7c" stroke="#472e7c" fill-opacity=".6" stroke-opacity=".6" stroke-width="1.39"><circle cx="638.7" cy="395.9" r="3.1"/></g><g fill="#46307e" stroke="#46307e" fill-opacity=".5" stroke-opacity=".5" stroke-width="1.39"><circle cx="638.8" cy="408.2" r="3.1"/></g><g fill="#463480" stroke="#463480" fill-opacity=".5" stroke-opacity=".5" stroke-width="1.39"><circle cx="638.9" cy="415" r="3.1"/></g><path class="d" d="M642.2 261h0m0 1.6h0m0 1.6h0m0 1.6h0" stroke="#440154" stroke-opacity=".9"/><path class="d" d="M642.2 267.4h0m0 1.6h0m.1 1.6h0" stroke="#450457" stroke-opacity=".9"/><path class="d" d="M642.3 272.2h0m0 1.6h0m0 1.7h0" stroke="#450457" stroke-opacity=".8"/><path class="d" d="M642.3 277.1h0m.1 1.7h0m0 1.7h0m0 1.7h0m0 1.7h0m0 1.7h0" stroke="#46085c" stroke-opacity=".8"/><path class="d" d="M642.4 287.3h0m.1 1.8h0" stroke="#460b5e" stroke-opacity=".8"/><path class="d" d="M642.5 290.9h0m0 1.8h0m0 1.9h0m0 1.8h0" stroke="#460b5e" stroke-opacity=".8"/><path class="d" d="M642.6 298.3h0m0 2h0m0 1.9h0m0 2h0m0 2.1h0" stroke="#471063" stroke-opacity=".8"/><path class="d" d="M642.7 308.4h0" stroke="#471365" stroke-opacity=".8"/><path class="d" d="M642.7 310.5h0m0 2.2h0m0 2.2h0m.1 2.3h0" stroke="#471365" stroke-opacity=".8"/><path class="d" d="M642.8 319.6h0m0 2.4h0m0 2.5h0m.1 2.6h0" stroke="#481769" stroke-opacity=".8"/><path class="d" d="M642.9 329.7h0m0 2.8h0m0 2.8h0m0 2.9h0" stroke="#481a6c" stroke-opacity=".7"/><path class="d" d="M642.9 341.2h0" stroke="#481d6f" stroke-opacity=".7"/><g fill="#481d6f" stroke="#481d6f" fill-opacity=".7" stroke-opacity=".7" stroke-width="1.39"><circle cx="642.9" cy="344.4" r="3.1"/><circle cx="642.9" cy="347.6" r="3.1"/></g><g fill="#482173" stroke="#482173" fill-opacity=".7" stroke-opacity=".7" stroke-width="1.39"><circle cx="643" cy="351" r="3.1"/><circle cx="643" cy="354.6" r="3.1"/><circle cx="643" cy="358.3" r="3.1"/></g><g fill="#482475" stroke="#482475" fill-opacity=".7" stroke-opacity=".7" stroke-width="1.39"><circle cx="643" cy="362.1" r="3.1"/><circle cx="643" cy="366.2" r="3.1"/></g><g fill="#482475" stroke="#482475" fill-opacity=".6" stroke-opacity=".6" stroke-width="1.39"><circle cx="643" cy="370.4" r="3.1"/></g><g fill="#482878" stroke="#482878" fill-opacity=".6" stroke-opacity=".6" stroke-width="1.39"><circle cx="643" cy="374.9" r="3.1"/><circle cx="643.1" cy="379.6" r="3.1"/></g><g fill="#472a7a" stroke="#472a7a" fill-opacity=".6" stroke-opacity=".6" stroke-width="1.39"><circle cx="643.1" cy="389.8" r="3.1"/></g><g fill="#472e7c" stroke="#472e7c" fill-opacity=".6" stroke-opacity=".6" stroke-width="1.39"><circle cx="643.1" cy="401.3" r="3.1"/></g><g fill="#463480" stroke="#463480" fill-opacity=".5" stroke-opacity=".5" stroke-width="1.39"><circle cx="643.2" cy="414.4" r="3.1"/></g><path class="d" d="M648.3 263.1h0m0 1.6h0m0 1.6h0m0 1.6h0" stroke="#440154" stroke-opacity=".9"/><path class="d" d="M648.2 269.5h0m0 1.6h0m0 1.6h0" stroke="#450457" stroke-opacity=".9"/><path class="d" d="M648.2 274.3h0m0 1.6h0m0 1.7h0" stroke="#450457" stroke-opacity=".8"/><path class="d" d="M648.2 279.2h0m-.1 1.7h0m0 1.7h0m0 1.7h0m0 1.7h0m0 1.7h0" stroke="#46085c" stroke-opacity=".8"/><path class="d" d="M648.1 289.5h0m-.1 1.7h0" stroke="#460b5e" stroke-opacity=".8"/><path class="d" d="M648 293h0m0 1.8h0m0 1.9h0m0 1.9h0" stroke="#460b5e" stroke-opacity=".8"/><path class="d" d="M648 300.5h0m-.1 1.9h0m0 2h0m0 2h0m0 2.1h0" stroke="#471063" stroke-opacity=".8"/><path class="d" d="M647.9 310.6h0" stroke="#471365" stroke-opacity=".8"/><path class="d" d="M647.8 312.8h0m0 2.2h0m0 2.2h0m0 2.3h0" stroke="#471365" stroke-opacity=".8"/><path class="d" d="M647.8 321.9h0m-.1 2.5h0m0 2.5h0m0 2.6h0" stroke="#481769" stroke-opacity=".8"/><path class="d" d="M647.7 332.2h0m0 2.8h0m0 2.8h0" stroke="#481a6c" stroke-opacity=".7"/><path class="d" d="M647.7 340.8h0" stroke="#481d6f" stroke-opacity=".7"/><g fill="#481d6f" stroke="#481d6f" fill-opacity=".7" stroke-opacity=".7" stroke-width="1.39"><circle cx="647.7" cy="343.9" r="3.1"/><circle cx="647.7" cy="347.1" r="3.1"/></g><g fill="#481d6f" stroke="#481d6f" fill-opacity=".7" stroke-opacity=".7" stroke-width="1.39"><circle cx="647.6" cy="350.4" r="3.1"/></g><g fill="#482173" stroke="#482173" fill-opacity=".7" stroke-opacity=".7" stroke-width="1.39"><circle cx="647.6" cy="353.9" r="3.1"/><circle cx="647.6" cy="357.5" r="3.1"/></g><g fill="#482475" stroke="#482475" fill-opacity=".7" stroke-opacity=".7" stroke-width="1.39"><circle cx="647.6" cy="361.3" r="3.1"/><circle cx="647.6" cy="365.3" r="3.1"/><circle cx="647.6" cy="369.5" r="3.1"/></g><g fill="#482878" stroke="#482878" fill-opacity=".6" stroke-opacity=".6" stroke-width="1.39"><circle cx="647.6" cy="373.9" r="3.1"/><circle cx="647.6" cy="378.5" r="3.1"/></g><g fill="#472e7c" stroke="#472e7c" fill-opacity=".6" stroke-opacity=".6" stroke-width="1.39"><circle cx="647.5" cy="399.8" r="3.1"/></g><g fill="#46307e" stroke="#46307e" fill-opacity=".5" stroke-opacity=".5" stroke-width="1.39"><circle cx="647.5" cy="412.6" r="3.1"/></g><path class="d" d="M654.3 265.4h0m0 1.6h0m-.1 1.6h0m0 1.6h0" stroke="#440154" stroke-opacity=".9"/><path class="d" d="M654.1 271.8h0m0 1.6h0" stroke="#450457" stroke-opacity=".9"/><path class="d" d="M654 275.1h0m0 1.6h0m-.1 1.6h0m0 1.7h0" stroke="#450457" stroke-opacity=".8"/><path class="d" d="M653.8 281.6h0m0 1.7h0m0 1.7h0m-.1 1.6h0m0 1.8h0m-.1 1.7h0" stroke="#46085c" stroke-opacity=".8"/><path class="d" d="M653.6 291.8h0m-.1 1.8h0" stroke="#460b5e" stroke-opacity=".8"/><path class="d" d="M653.5 295.4h0m-.1 1.9h0m0 1.8h0m-.1 1.9h0" stroke="#460b5e" stroke-opacity=".8"/><path class="d" d="M653.2 302.9h0m0 2h0m-.1 2h0m0 2h0m-.1 2.1h0" stroke="#471063" stroke-opacity=".8"/><path class="d" d="M653 313.1h0m-.1 2.2h0m-.1 2.2h0m0 2.3h0" stroke="#471365" stroke-opacity=".8"/><path class="d" d="M652.7 322.1h0m-.1 2.5h0m0 2.4h0m-.1 2.6h0" stroke="#481769" stroke-opacity=".8"/><path class="d" d="M652.5 332.3h0m0 2.7h0m-.1 2.8h0m0 2.9h0" stroke="#481a6c" stroke-opacity=".7"/><path class="d" d="M652.4 343.8h0" stroke="#481d6f" stroke-opacity=".7"/><g fill="#481d6f" stroke="#481d6f" fill-opacity=".7" stroke-opacity=".7" stroke-width="1.39"><circle cx="652.3" cy="346.9" r="3.1"/><circle cx="652.3" cy="350.2" r="3.1"/></g><g fill="#482173" stroke="#482173" fill-opacity=".7" stroke-opacity=".7" stroke-width="1.39"><circle cx="652.3" cy="353.6" r="3.1"/><circle cx="652.3" cy="357.2" r="3.1"/><circle cx="652.2" cy="360.9" r="3.1"/></g><g fill="#482475" stroke="#482475" fill-opacity=".7" stroke-opacity=".7" stroke-width="1.39"><circle cx="652.2" cy="364.9" r="3.1"/><circle cx="652.2" cy="369" r="3.1"/></g><g fill="#482878" stroke="#482878" fill-opacity=".6" stroke-opacity=".6" stroke-width="1.39"><circle cx="652.1" cy="373.3" r="3.1"/></g><g fill="#472a7a" stroke="#472a7a" fill-opacity=".6" stroke-opacity=".6" stroke-width="1.39"><circle cx="652" cy="382.6" r="3.1"/><circle cx="652" cy="387.7" r="3.1"/></g><g fill="#472e7c" stroke="#472e7c" fill-opacity=".6" stroke-opacity=".6" stroke-width="1.39"><circle cx="651.9" cy="393.1" r="3.1"/><circle cx="651.9" cy="398.8" r="3.1"/></g><path class="d" d="M659.2 263.3h0m-.1 1.6h0m-.1 1.6h0m0 1.6h0" stroke="#440154" stroke-opacity=".9"/><path class="d" d="M658.9 269.7h0m0 1.6h0m-.1 1.6h0" stroke="#450457" stroke-opacity=".9"/><path class="d" d="M658.8 274.5h0m-.1 1.6h0m0 1.7h0" stroke="#450457" stroke-opacity=".8"/><path class="d" d="M658.6 279.4h0m-.1 1.7h0m0 1.7h0m-.1 1.7h0m0 1.7h0m-.1 1.7h0" stroke="#46085c" stroke-opacity=".8"/><path class="d" d="M658.3 289.7h0m-.1 1.7h0" stroke="#460b5e" stroke-opacity=".8"/><path class="d" d="M658.1 293.2h0m0 1.8h0m-.1 1.9h0m-.1 1.9h0" stroke="#460b5e" stroke-opacity=".8"/><path class="d" d="M657.9 300.7h0m-.1 1.9h0m-.1 2h0m0 2h0m-.1 2.1h0" stroke="#471063" stroke-opacity=".8"/><path class="d" d="M657.5 310.8h0" stroke="#471365" stroke-opacity=".8"/><path class="d" d="M657.5 313h0m-.1 2.2h0m-.1 2.2h0m-.1 2.3h0" stroke="#471365" stroke-opacity=".8"/><path class="d" d="M657.2 322.1h0m-.1 2.5h0m-.1 2.5h0m-.1 2.6h0" stroke="#481769" stroke-opacity=".8"/><path class="d" d="M656.9 332.4h0m0 2.8h0m-.1 2.9h0" stroke="#481a6c" stroke-opacity=".7"/><path class="d" d="M656.8 341h0" stroke="#481d6f" stroke-opacity=".7"/><g fill="#481d6f" stroke="#481d6f" fill-opacity=".7" stroke-opacity=".7" stroke-width="1.39"><circle cx="656.8" cy="344.1" r="3.1"/><circle cx="656.7" cy="347.3" r="3.1"/></g><g fill="#481d6f" stroke="#481d6f" fill-opacity=".7" stroke-opacity=".7" stroke-width="1.39"><circle cx="656.7" cy="350.7" r="3.1"/></g><g fill="#482173" stroke="#482173" fill-opacity=".7" stroke-opacity=".7" stroke-width="1.39"><circle cx="656.7" cy="354.2" r="3.1"/><circle cx="656.6" cy="357.8" r="3.1"/></g><g fill="#482475" stroke="#482475" fill-opacity=".7" stroke-opacity=".7" stroke-width="1.39"><circle cx="656.6" cy="361.6" r="3.1"/><circle cx="656.6" cy="365.6" r="3.1"/></g><g fill="#482475" stroke="#482475" fill-opacity=".6" stroke-opacity=".6" stroke-width="1.39"><circle cx="656.5" cy="369.8" r="3.1"/></g><g fill="#482878" stroke="#482878" fill-opacity=".6" stroke-opacity=".6" stroke-width="1.39"><circle cx="656.5" cy="374.2" r="3.1"/></g><g fill="#472a7a" stroke="#472a7a" fill-opacity=".6" stroke-opacity=".6" stroke-width="1.39"><circle cx="656.4" cy="383.7" r="3.1"/></g><g fill="#472e7c" stroke="#472e7c" fill-opacity=".6" stroke-opacity=".6" stroke-width="1.39"><circle cx="656.2" cy="400.2" r="3.1"/></g><path class="d" d="M665.2 265.5h0m-.1 1.6h0m-.1 1.6h0m-.1 1.6h0" stroke="#440154" stroke-opacity=".9"/><path class="d" d="M664.8 271.9h0m-.1 1.7h0" stroke="#450457" stroke-opacity=".9"/><path class="d" d="M664.6 275.2h0m0 1.6h0m-.1 1.6h0m-.1 1.7h0" stroke="#450457" stroke-opacity=".8"/><path class="d" d="M664.3 281.7h0m-.1 1.7h0m-.1 1.7h0m-.1 1.6h0m-.1 1.8h0m-.1 1.7h0" stroke="#46085c" stroke-opacity=".8"/><path class="d" d="M663.7 291.9h0m0 1.8h0" stroke="#460b5e" stroke-opacity=".8"/><path class="d" d="M663.6 295.5h0m-.1 1.8h0m-.1 1.9h0m-.1 1.9h0" stroke="#460b5e" stroke-opacity=".8"/><path class="d" d="M663.2 303h0m-.1 2h0m-.2 1.9h0m-.1 2.1h0m-.1 2.1h0" stroke="#471063" stroke-opacity=".8"/><path class="d" d="M662.6 313.2h0m-.1 2.2h0m-.1 2.2h0m-.1 2.3h0" stroke="#471365" stroke-opacity=".8"/><path class="d" d="M662.1 322.2h0m-.1 2.4h0m-.1 2.5h0m-.2 2.6h0" stroke="#481769" stroke-opacity=".8"/><path class="d" d="M661.7 332.3h0m-.1 2.7h0m0 2.9h0m0 2.9h0" stroke="#481a6c" stroke-opacity=".7"/><path class="d" d="M661.5 343.8h0" stroke="#481d6f" stroke-opacity=".7"/><g fill="#481d6f" stroke="#481d6f" fill-opacity=".7" stroke-opacity=".7" stroke-width="1.39"><circle cx="661.4" cy="347" r="3.1"/><circle cx="661.4" cy="350.3" r="3.1"/></g><g fill="#482173" stroke="#482173" fill-opacity=".7" stroke-opacity=".7" stroke-width="1.39"><circle cx="661.3" cy="353.7" r="3.1"/><circle cx="661.3" cy="357.3" r="3.1"/><circle cx="661.2" cy="361" r="3.1"/></g><g fill="#482475" stroke="#482475" fill-opacity=".7" stroke-opacity=".7" stroke-width="1.39"><circle cx="661.2" cy="364.9" r="3.1"/><circle cx="661.1" cy="369" r="3.1"/></g><g fill="#482878" stroke="#482878" fill-opacity=".6" stroke-opacity=".6" stroke-width="1.39"><circle cx="661" cy="373.4" r="3.1"/></g><g fill="#472e7c" stroke="#472e7c" fill-opacity=".6" stroke-opacity=".6" stroke-width="1.39"><circle cx="660.6" cy="398.9" r="3.1"/></g><path class="d" d="M671.4 268h0m-.1 1.6h0m-.1 1.6h0m-.2 1.6h0" stroke="#440154" stroke-opacity=".9"/><path class="d" d="M670.9 274.4h0m-.1 1.6h0" stroke="#450457" stroke-opacity=".9"/><path class="d" d="M670.7 277.6h0m-.1 1.6h0m-.2 1.7h0m-.1 1.6h0" stroke="#450457" stroke-opacity=".8"/><path class="d" d="M670.2 284.2h0m-.1 1.6h0m-.2 1.7h0m-.1 1.7h0m-.1 1.7h0m-.2 1.7h0" stroke="#46085c" stroke-opacity=".8"/><path class="d" d="M669.4 294.4h0" stroke="#460b5e" stroke-opacity=".8"/><path class="d" d="M669.3 296.2h0m-.2 1.8h0m-.1 1.8h0m-.2 1.9h0" stroke="#460b5e" stroke-opacity=".8"/><path class="d" d="M668.7 303.6h0m-.1 1.9h0m-.2 2h0m-.2 2h0m-.1 2h0" stroke="#471063" stroke-opacity=".8"/><path class="d" d="M667.9 313.6h0" stroke="#471365" stroke-opacity=".8"/><path class="d" d="M667.8 315.7h0m-.2 2.2h0m-.2 2.3h0m-.1 2.3h0" stroke="#471365" stroke-opacity=".8"/><path class="d" d="M667.1 324.9h0m-.2 2.4h0m-.2 2.5h0m-.1 2.6h0" stroke="#481769" stroke-opacity=".8"/><path class="d" d="M666.5 335.1h0m-.1 2.8h0m0 2.9h0" stroke="#481a6c" stroke-opacity=".7"/><path class="d" d="M666.3 343.8h0" stroke="#481d6f" stroke-opacity=".7"/><g fill="#481d6f" stroke="#481d6f" fill-opacity=".7" stroke-opacity=".7" stroke-width="1.39"><circle cx="666.2" cy="346.9" r="3.1"/><circle cx="666.2" cy="350.1" r="3.1"/></g><g fill="#482173" stroke="#482173" fill-opacity=".7" stroke-opacity=".7" stroke-width="1.39"><circle cx="666.1" cy="353.5" r="3.1"/><circle cx="666" cy="357" r="3.1"/><circle cx="665.9" cy="360.7" r="3.1"/></g><g fill="#482475" stroke="#482475" fill-opacity=".7" stroke-opacity=".7" stroke-width="1.39"><circle cx="665.8" cy="364.5" r="3.1"/><circle cx="665.7" cy="368.6" r="3.1"/></g><g fill="#482475" stroke="#482475" fill-opacity=".6" stroke-opacity=".6" stroke-width="1.39"><circle cx="665.6" cy="372.8" r="3.1"/></g><g fill="#482878" stroke="#482878" fill-opacity=".6" stroke-opacity=".6" stroke-width="1.39"><circle cx="665.5" cy="377.3" r="3.1"/></g><g fill="#472a7a" stroke="#472a7a" fill-opacity=".6" stroke-opacity=".6" stroke-width="1.39"><circle cx="665.3" cy="387.1" r="3.1"/></g><g fill="#46307e" stroke="#46307e" fill-opacity=".6" stroke-opacity=".6" stroke-width="1.39"><circle cx="664.9" cy="404.1" r="3.1"/></g><g fill="#46307e" stroke="#46307e" fill-opacity=".5" stroke-opacity=".5" stroke-width="1.39"><circle cx="664.7" cy="410.5" r="3.1"/></g><g fill="#463480" stroke="#463480" fill-opacity=".5" stroke-opacity=".5" stroke-width="1.39"><circle cx="664.6" cy="417.5" r="3.1"/></g><path class="d" d="M677 271h0m-.2 1.6h0m-.1 1.6h0m-.2 1.6h0" stroke="#440154" stroke-opacity=".9"/><path class="d" d="M676.4 277.4h0m-.2 1.6h0" stroke="#450457" stroke-opacity=".9"/><path class="d" d="M676.1 280.6h0m-.2 1.7h0m-.1 1.6h0m-.2 1.6h0" stroke="#450457" stroke-opacity=".8"/><path class="d" d="M675.5 287.2h0m-.2 1.6h0m-.1 1.7h0m-.2 1.7h0m-.2 1.7h0" stroke="#46085c" stroke-opacity=".8"/><path class="d" d="M674.7 295.7h0m-.2 1.7h0" stroke="#460b5e" stroke-opacity=".8"/><path class="d" d="M674.4 299.2h0m-.2 1.8h0m-.2 1.9h0m-.2 1.8h0" stroke="#460b5e" stroke-opacity=".8"/><path class="d" d="M673.7 306.6h0m-.2 2h0m-.2 2h0m-.2 2h0m-.2 2h0" stroke="#471063" stroke-opacity=".8"/><path class="d" d="M672.7 316.8h0" stroke="#471365" stroke-opacity=".8"/><path class="d" d="M672.5 318.9h0m-.2 2.2h0m-.2 2.3h0" stroke="#471365" stroke-opacity=".8"/><path class="d" d="M671.9 325.8h0m-.2 2.4h0m-.2 2.5h0m-.3 2.5h0" stroke="#481769" stroke-opacity=".8"/><path class="d" d="M671.2 335.9h0m-.1 2.7h0m-.1 2.9h0" stroke="#481a6c" stroke-opacity=".7"/><path class="d" d="M670.9 344.4h0" stroke="#481d6f" stroke-opacity=".7"/><g fill="#481d6f" stroke="#481d6f" fill-opacity=".7" stroke-opacity=".7" stroke-width="1.39"><circle cx="670.8" cy="347.5" r="3.1"/><circle cx="670.7" cy="350.7" r="3.1"/></g><g fill="#481d6f" stroke="#481d6f" fill-opacity=".7" stroke-opacity=".7" stroke-width="1.39"><circle cx="670.6" cy="354.1" r="3.1"/></g><g fill="#482173" stroke="#482173" fill-opacity=".7" stroke-opacity=".7" stroke-width="1.39"><circle cx="670.5" cy="357.5" r="3.1"/><circle cx="670.4" cy="361.2" r="3.1"/></g><g fill="#482475" stroke="#482475" fill-opacity=".7" stroke-opacity=".7" stroke-width="1.39"><circle cx="670.3" cy="365" r="3.1"/><circle cx="670.2" cy="369" r="3.1"/></g><g fill="#482475" stroke="#482475" fill-opacity=".6" stroke-opacity=".6" stroke-width="1.39"><circle cx="670.1" cy="373.2" r="3.1"/></g><g fill="#482878" stroke="#482878" fill-opacity=".6" stroke-opacity=".6" stroke-width="1.39"><circle cx="670" cy="377.7" r="3.1"/><circle cx="669.8" cy="382.4" r="3.1"/></g><g fill="#472e7c" stroke="#472e7c" fill-opacity=".6" stroke-opacity=".6" stroke-width="1.39"><circle cx="669.4" cy="398.3" r="3.1"/></g><g fill="#46307e" stroke="#46307e" fill-opacity=".6" stroke-opacity=".6" stroke-width="1.39"><circle cx="669.2" cy="404.4" r="3.1"/></g><g fill="#46307e" stroke="#46307e" fill-opacity=".5" stroke-opacity=".5" stroke-width="1.39"><circle cx="669" cy="410.8" r="3.1"/></g><g fill="#463480" stroke="#463480" fill-opacity=".5" stroke-opacity=".5" stroke-width="1.39"><circle cx="668.8" cy="417.8" r="3.1"/></g><path class="d" d="M681.6 271.5h0m-.1 1.6h0m-.2 1.6h0m-.1 1.6h0" stroke="#440154" stroke-opacity=".9"/><path class="d" d="M681 277.9h0m-.1 1.6h0" stroke="#450457" stroke-opacity=".9"/><path class="d" d="M680.7 281.1h0m-.2 1.7h0m-.1 1.6h0m-.2 1.6h0" stroke="#450457" stroke-opacity=".8"/><path class="d" d="M680.1 287.7h0m-.2 1.6h0m-.2 1.7h0m-.1 1.7h0m-.2 1.7h0" stroke="#46085c" stroke-opacity=".8"/><path class="d" d="M679.2 296.2h0m-.1 1.7h0" stroke="#460b5e" stroke-opacity=".8"/><path class="d" d="M678.9 299.7h0m-.2 1.8h0m-.2 1.9h0m-.1 1.8h0" stroke="#460b5e" stroke-opacity=".8"/><path class="d" d="M678.2 307.1h0m-.2 2h0m-.2 1.9h0m-.2 2.1h0m-.2 2h0" stroke="#471063" stroke-opacity=".8"/><path class="d" d="M677.2 317.3h0m-.2 2.1h0m-.2 2.2h0m-.3 2.3h0" stroke="#471365" stroke-opacity=".8"/><path class="d" d="M676.3 326.3h0m-.2 2.4h0m-.3 2.5h0m-.2 2.6h0" stroke="#481769" stroke-opacity=".8"/><path class="d" d="M675.6 336.4h0m-.1 2.8h0m-.1 2.8h0" stroke="#481a6c" stroke-opacity=".7"/><path class="d" d="M675.3 345h0" stroke="#481d6f" stroke-opacity=".7"/><g fill="#481d6f" stroke="#481d6f" fill-opacity=".7" stroke-opacity=".7" stroke-width="1.39"><circle cx="675.2" cy="348.1" r="3.1"/><circle cx="675.1" cy="351.3" r="3.1"/></g><g fill="#482173" stroke="#482173" fill-opacity=".7" stroke-opacity=".7" stroke-width="1.39"><circle cx="675" cy="354.7" r="3.1"/><circle cx="674.9" cy="358.2" r="3.1"/><circle cx="674.8" cy="361.9" r="3.1"/></g><g fill="#482475" stroke="#482475" fill-opacity=".7" stroke-opacity=".7" stroke-width="1.39"><circle cx="674.7" cy="365.7" r="3.1"/><circle cx="674.5" cy="369.7" r="3.1"/></g><g fill="#482878" stroke="#482878" fill-opacity=".6" stroke-opacity=".6" stroke-width="1.39"><circle cx="674.4" cy="374" r="3.1"/><circle cx="674.3" cy="378.5" r="3.1"/></g><g fill="#472e7c" stroke="#472e7c" fill-opacity=".6" stroke-opacity=".6" stroke-width="1.39"><circle cx="673.8" cy="393.6" r="3.1"/><circle cx="673.7" cy="399.3" r="3.1"/></g><g fill="#46307e" stroke="#46307e" fill-opacity=".5" stroke-opacity=".5" stroke-width="1.39"><circle cx="673.3" cy="411.9" r="3.1"/></g><path class="d" d="M688.6 274h0m-.2 1.6h0m-.2 1.6h0m-.2 1.5h0" stroke="#440154" stroke-opacity=".9"/><path class="d" d="M687.8 280.3h0m-.2 1.6h0" stroke="#450457" stroke-opacity=".9"/><path class="d" d="M687.4 283.5h0m-.2 1.7h0m-.2 1.6h0" stroke="#450457" stroke-opacity=".8"/><path class="d" d="M686.7 288.4h0m-.2 1.7h0m-.2 1.6h0m-.2 1.7h0m-.2 1.7h0m-.2 1.7h0" stroke="#46085c" stroke-opacity=".8"/><path class="d" d="M685.4 298.5h0m-.2 1.8h0" stroke="#460b5e" stroke-opacity=".8"/><path class="d" d="M685 302.1h0m-.3 1.8h0m-.2 1.8h0" stroke="#460b5e" stroke-opacity=".8"/><path class="d" d="M684.2 307.6h0m-.2 1.9h0m-.3 2h0m-.2 1.9h0m-.3 2.1h0" stroke="#471063" stroke-opacity=".8"/><path class="d" d="M682.9 317.5h0" stroke="#471365" stroke-opacity=".8"/><path class="d" d="M682.7 319.7h0m-.3 2.2h0m-.3 2.2h0m-.3 2.3h0" stroke="#471365" stroke-opacity=".8"/><path class="d" d="M681.5 328.8h0m-.3 2.4h0m-.4 2.5h0" stroke="#481769" stroke-opacity=".8"/><path class="d" d="M680.7 336.3h0" stroke="#481a6c" stroke-opacity=".8"/><path class="d" d="M680.6 339.1h0m-.2 2.8h0m-.1 2.9h0" stroke="#481a6c" stroke-opacity=".7"/><path class="d" d="M680.2 347.8h0" stroke="#481d6f" stroke-opacity=".7"/><g fill="#481d6f" stroke="#481d6f" fill-opacity=".7" stroke-opacity=".7" stroke-width="1.39"><circle cx="680.1" cy="351" r="3.1"/><circle cx="679.9" cy="354.3" r="3.1"/></g><g fill="#482173" stroke="#482173" fill-opacity=".7" stroke-opacity=".7" stroke-width="1.39"><circle cx="679.8" cy="357.7" r="3.1"/><circle cx="679.7" cy="361.3" r="3.1"/></g><g fill="#482475" stroke="#482475" fill-opacity=".7" stroke-opacity=".7" stroke-width="1.39"><circle cx="679.5" cy="365.1" r="3.1"/><circle cx="679.3" cy="369" r="3.1"/></g><g fill="#482475" stroke="#482475" fill-opacity=".6" stroke-opacity=".6" stroke-width="1.39"><circle cx="679.2" cy="373.2" r="3.1"/></g><g fill="#482878" stroke="#482878" fill-opacity=".6" stroke-opacity=".6" stroke-width="1.39"><circle cx="679" cy="377.6" r="3.1"/></g><g fill="#472a7a" stroke="#472a7a" fill-opacity=".6" stroke-opacity=".6" stroke-width="1.39"><circle cx="678.6" cy="387.2" r="3.1"/></g><g fill="#472a7a" stroke="#472a7a" fill-opacity=".6" stroke-opacity=".6" stroke-width="1.39"><circle cx="678.4" cy="392.5" r="3.1"/></g><g fill="#46307e" stroke="#46307e" fill-opacity=".5" stroke-opacity=".5" stroke-width="1.39"><circle cx="677.7" cy="410.5" r="3.1"/></g><g fill="#463480" stroke="#463480" fill-opacity=".5" stroke-opacity=".5" stroke-width="1.39"><circle cx="677.4" cy="417.4" r="3.1"/></g><path class="d" d="M694.2 276h0m-.2 1.6h0m-.2 1.6h0" stroke="#440154" stroke-opacity=".9"/><path class="d" d="M693.5 280.8h0m-.2 1.6h0m-.2 1.6h0" stroke="#450457" stroke-opacity=".9"/><path class="d" d="M692.8 285.6h0m-.2 1.6h0m-.2 1.6h0" stroke="#450457" stroke-opacity=".8"/><path class="d" d="M692.1 290.4h0m-.2 1.7h0m-.3 1.6h0m-.2 1.7h0m-.3 1.7h0m-.2 1.7h0" stroke="#46085c" stroke-opacity=".8"/><path class="d" d="M690.6 300.6h0m-.2 1.7h0" stroke="#460b5e" stroke-opacity=".8"/><path class="d" d="M690.1 304.1h0m-.3 1.8h0m-.2 1.9h0" stroke="#460b5e" stroke-opacity=".8"/><path class="d" d="M689.3 309.6h0m-.3 1.9h0m-.3 2h0m-.3 2h0m-.3 2h0" stroke="#471063" stroke-opacity=".8"/><path class="d" d="M687.8 319.6h0" stroke="#471365" stroke-opacity=".8"/><path class="d" d="M687.5 321.8h0m-.3 2.2h0m-.4 2.2h0" stroke="#471365" stroke-opacity=".8"/><path class="d" d="M686.5 328.5h0m-.4 2.4h0m-.3 2.5h0m-.4 2.5h0" stroke="#481769" stroke-opacity=".8"/><path class="d" d="M685.3 338.6h0m-.1 2.7h0m-.2 2.9h0" stroke="#481a6c" stroke-opacity=".7"/><path class="d" d="M684.9 347.2h0" stroke="#481d6f" stroke-opacity=".7"/><g fill="#481d6f" stroke="#481d6f" fill-opacity=".7" stroke-opacity=".7" stroke-width="1.39"><circle cx="684.7" cy="350.3" r="3.1"/><circle cx="684.6" cy="353.5" r="3.1"/></g><g fill="#482173" stroke="#482173" fill-opacity=".7" stroke-opacity=".7" stroke-width="1.39"><circle cx="684.4" cy="356.8" r="3.1"/><circle cx="684.3" cy="360.4" r="3.1"/><circle cx="684.1" cy="364.1" r="3.1"/></g><g fill="#482475" stroke="#482475" fill-opacity=".7" stroke-opacity=".7" stroke-width="1.39"><circle cx="683.9" cy="367.9" r="3.1"/><circle cx="683.7" cy="372" r="3.1"/></g><g fill="#482878" stroke="#482878" fill-opacity=".6" stroke-opacity=".6" stroke-width="1.39"><circle cx="683.6" cy="376.3" r="3.1"/></g><g fill="#472a7a" stroke="#472a7a" fill-opacity=".6" stroke-opacity=".6" stroke-width="1.39"><circle cx="683.1" cy="385.7" r="3.1"/></g><g fill="#463480" stroke="#463480" fill-opacity=".5" stroke-opacity=".5" stroke-width="1.39"><circle cx="681.8" cy="415.1" r="3.1"/></g><path class="d" d="M699.8 278.6h0m-.2 1.6h0m-.3 1.6h0" stroke="#440154" stroke-opacity=".9"/><path class="d" d="M699 283.4h0m-.2 1.5h0m-.3 1.6h0" stroke="#450457" stroke-opacity=".9"/><path class="d" d="M698.3 288.1h0m-.3 1.6h0m-.3 1.6h0" stroke="#450457" stroke-opacity=".8"/><path class="d" d="M697.4 293h0m-.2 1.6h0m-.3 1.7h0m-.3 1.6h0m-.3 1.7h0m-.3 1.7h0" stroke="#46085c" stroke-opacity=".8"/><path class="d" d="M695.8 303.1h0" stroke="#460b5e" stroke-opacity=".8"/><path class="d" d="M695.5 304.8h0m-.3 1.8h0m-.3 1.8h0m-.3 1.9h0" stroke="#460b5e" stroke-opacity=".8"/><path class="d" d="M694.2 312.2h0m-.3 1.9h0m-.3 2h0m-.3 2h0m-.4 2h0" stroke="#471063" stroke-opacity=".8"/><path class="d" d="M692.6 322.2h0m-.4 2.2h0m-.4 2.2h0m-.3 2.3h0" stroke="#471365" stroke-opacity=".8"/><path class="d" d="M691.1 331.2h0m-.4 2.4h0m-.4 2.5h0" stroke="#481769" stroke-opacity=".8"/><path class="d" d="M690 338.7h0" stroke="#481a6c" stroke-opacity=".8"/><path class="d" d="M689.9 341.4h0m-.2 2.8h0m-.1 3h0" stroke="#481a6c" stroke-opacity=".7"/><path class="d" d="M689.4 350.2h0" stroke="#481d6f" stroke-opacity=".7"/><g fill="#481d6f" stroke="#481d6f" fill-opacity=".7" stroke-opacity=".7" stroke-width="1.39"><circle cx="689.2" cy="353.4" r="3.1"/><circle cx="689.1" cy="356.7" r="3.1"/></g><g fill="#482173" stroke="#482173" fill-opacity=".7" stroke-opacity=".7" stroke-width="1.39"><circle cx="688.9" cy="360.1" r="3.1"/><circle cx="688.7" cy="363.8" r="3.1"/></g><g fill="#482475" stroke="#482475" fill-opacity=".7" stroke-opacity=".7" stroke-width="1.39"><circle cx="688.5" cy="367.6" r="3.1"/><circle cx="688.3" cy="371.6" r="3.1"/></g><g fill="#482475" stroke="#482475" fill-opacity=".6" stroke-opacity=".6" stroke-width="1.39"><circle cx="688.1" cy="375.8" r="3.1"/></g><g fill="#482878" stroke="#482878" fill-opacity=".6" stroke-opacity=".6" stroke-width="1.39"><circle cx="687.6" cy="385.1" r="3.1"/></g><g fill="#472a7a" stroke="#472a7a" fill-opacity=".6" stroke-opacity=".6" stroke-width="1.39"><circle cx="687.4" cy="390.1" r="3.1"/></g><g fill="#472e7c" stroke="#472e7c" fill-opacity=".6" stroke-opacity=".6" stroke-width="1.39"><circle cx="687.1" cy="395.5" r="3.1"/></g><g fill="#463480" stroke="#463480" fill-opacity=".5" stroke-opacity=".5" stroke-width="1.39"><circle cx="686.1" cy="414" r="3.1"/></g><path class="d" d="M705.8 280.8h0m-.3 1.6h0m-.3 1.5h0" stroke="#440154" stroke-opacity=".9"/><path class="d" d="M704.9 285.5h0m-.3 1.6h0m-.3 1.6h0" stroke="#450457" stroke-opacity=".9"/><path class="d" d="M704 290.3h0m-.3 1.6h0m-.3 1.6h0" stroke="#450457" stroke-opacity=".8"/><path class="d" d="M703.1 295.1h0m-.3 1.6h0m-.4 1.7h0m-.3 1.7h0m-.3 1.6h0" stroke="#46085c" stroke-opacity=".8"/><path class="d" d="M701.5 303.4h0m-.3 1.8h0" stroke="#460b5e" stroke-opacity=".8"/><path class="d" d="M700.8 306.9h0m-.3 1.8h0m-.4 1.8h0m-.3 1.9h0" stroke="#460b5e" stroke-opacity=".8"/><path class="d" d="M699.4 314.3h0m-.3 1.9h0m-.4 2h0m-.4 2h0" stroke="#471063" stroke-opacity=".8"/><path class="d" d="M697.9 322.2h0" stroke="#471365" stroke-opacity=".8"/><path class="d" d="M697.5 324.3h0m-.4 2.2h0m-.4 2.2h0" stroke="#471365" stroke-opacity=".8"/><path class="d" d="M696.3 331h0m-.5 2.4h0m-.5 2.4h0m-.4 2.6h0" stroke="#481769" stroke-opacity=".8"/><path class="d" d="M694.7 341h0m-.2 2.8h0m-.1 2.8h0" stroke="#481a6c" stroke-opacity=".7"/><path class="d" d="M694.2 349.6h0" stroke="#481d6f" stroke-opacity=".7"/><g fill="#481d6f" stroke="#481d6f" fill-opacity=".7" stroke-opacity=".7" stroke-width="1.39"><circle cx="694" cy="352.7" r="3.1"/><circle cx="693.8" cy="355.9" r="3.1"/></g><g fill="#482173" stroke="#482173" fill-opacity=".7" stroke-opacity=".7" stroke-width="1.39"><circle cx="693.6" cy="359.3" r="3.1"/><circle cx="693.4" cy="362.9" r="3.1"/><circle cx="693.2" cy="366.6" r="3.1"/></g><g fill="#482475" stroke="#482475" fill-opacity=".7" stroke-opacity=".7" stroke-width="1.39"><circle cx="693" cy="370.5" r="3.1"/><circle cx="692.7" cy="374.6" r="3.1"/></g><g fill="#482878" stroke="#482878" fill-opacity=".6" stroke-opacity=".6" stroke-width="1.39"><circle cx="692.5" cy="379" r="3.1"/></g><path class="d" d="M710.8 283.7h0m-.3 1.6h0m-.3 1.5h0" stroke="#440154" stroke-opacity=".9"/><path class="d" d="M709.9 288.4h0m-.4 1.6h0m-.3 1.6h0" stroke="#450457" stroke-opacity=".9"/><path class="d" d="M708.9 293.2h0m-.3 1.5h0m-.4 1.7h0" stroke="#450457" stroke-opacity=".8"/><path class="d" d="M707.9 298h0m-.3 1.6h0m-.3 1.7h0m-.4 1.6h0m-.3 1.7h0" stroke="#46085c" stroke-opacity=".8"/><path class="d" d="M706.2 306.3h0m-.3 1.8h0" stroke="#460b5e" stroke-opacity=".8"/><path class="d" d="M705.5 309.8h0m-.4 1.8h0m-.3 1.8h0" stroke="#460b5e" stroke-opacity=".8"/><path class="d" d="M704.4 315.3h0m-.4 1.9h0m-.4 1.9h0m-.4 2h0m-.4 2h0" stroke="#471063" stroke-opacity=".8"/><path class="d" d="M702.4 325.2h0" stroke="#471365" stroke-opacity=".8"/><path class="d" d="M702 327.3h0m-.5 2.2h0m-.4 2.3h0" stroke="#471365" stroke-opacity=".8"/><path class="d" d="M700.6 334.1h0m-.5 2.4h0m-.5 2.5h0" stroke="#481769" stroke-opacity=".8"/><path class="d" d="M699.3 341.6h0" stroke="#481a6c" stroke-opacity=".8"/><path class="d" d="M699.1 344.3h0m-.2 2.8h0m-.2 3h0" stroke="#481a6c" stroke-opacity=".7"/><path class="d" d="M698.5 353.1h0" stroke="#481d6f" stroke-opacity=".7"/><g fill="#481d6f" stroke="#481d6f" fill-opacity=".7" stroke-opacity=".7" stroke-width="1.39"><circle cx="698.3" cy="356.3" r="3.1"/></g><g fill="#482173" stroke="#482173" fill-opacity=".7" stroke-opacity=".7" stroke-width="1.39"><circle cx="698.1" cy="359.7" r="3.1"/><circle cx="697.9" cy="363.2" r="3.1"/><circle cx="697.7" cy="366.8" r="3.1"/></g><g fill="#482475" stroke="#482475" fill-opacity=".7" stroke-opacity=".7" stroke-width="1.39"><circle cx="697.4" cy="370.7" r="3.1"/><circle cx="697.2" cy="374.8" r="3.1"/></g><g fill="#482878" stroke="#482878" fill-opacity=".6" stroke-opacity=".6" stroke-width="1.39"><circle cx="696.9" cy="379.1" r="3.1"/><circle cx="696.6" cy="383.7" r="3.1"/></g><g fill="#46307e" stroke="#46307e" fill-opacity=".6" stroke-opacity=".6" stroke-width="1.39"><circle cx="695.3" cy="405.3" r="3.1"/></g><g fill="#46307e" stroke="#46307e" fill-opacity=".5" stroke-opacity=".5" stroke-width="1.39"><circle cx="694.8" cy="411.8" r="3.1"/></g><path class="d" d="M716.1 285.3h0m-.4 1.6h0m-.3 1.6h0" stroke="#440154" stroke-opacity=".9"/><path class="d" d="M715.1 290h0m-.4 1.6h0m-.3 1.6h0" stroke="#450457" stroke-opacity=".9"/><path class="d" d="M714 294.8h0m-.3 1.5h0m-.4 1.7h0" stroke="#450457" stroke-opacity=".8"/><path class="d" d="M713 299.6h0m-.4 1.6h0m-.3 1.6h0m-.4 1.7h0m-.4 1.7h0" stroke="#46085c" stroke-opacity=".8"/><path class="d" d="M711.2 307.9h0m-.4 1.7h0" stroke="#460b5e" stroke-opacity=".8"/><path class="d" d="M710.4 311.4h0m-.4 1.8h0m-.4 1.8h0" stroke="#460b5e" stroke-opacity=".8"/><path class="d" d="M709.2 316.9h0m-.4 1.9h0m-.4 1.9h0m-.5 2h0" stroke="#471063" stroke-opacity=".8"/><path class="d" d="M707.5 324.7h0" stroke="#471365" stroke-opacity=".8"/><path class="d" d="M707 326.8h0m-.4 2.2h0m-.5 2.2h0" stroke="#471365" stroke-opacity=".8"/><path class="d" d="M705.6 333.4h0m-.5 2.4h0m-.5 2.4h0m-.6 2.5h0" stroke="#481769" stroke-opacity=".8"/><path class="d" d="M703.8 343.3h0m-.2 2.8h0m-.2 2.8h0" stroke="#481a6c" stroke-opacity=".7"/><path class="d" d="M703.2 351.9h0" stroke="#481d6f" stroke-opacity=".7"/><g fill="#481d6f" stroke="#481d6f" fill-opacity=".7" stroke-opacity=".7" stroke-width="1.39"><circle cx="703" cy="355" r="3.1"/><circle cx="702.8" cy="358.3" r="3.1"/></g><g fill="#482173" stroke="#482173" fill-opacity=".7" stroke-opacity=".7" stroke-width="1.39"><circle cx="702.5" cy="361.7" r="3.1"/><circle cx="702.3" cy="365.2" r="3.1"/></g><g fill="#482475" stroke="#482475" fill-opacity=".7" stroke-opacity=".7" stroke-width="1.39"><circle cx="702" cy="369" r="3.1"/><circle cx="701.8" cy="372.9" r="3.1"/></g><g fill="#482475" stroke="#482475" fill-opacity=".6" stroke-opacity=".6" stroke-width="1.39"><circle cx="701.5" cy="377.1" r="3.1"/></g><g fill="#482878" stroke="#482878" fill-opacity=".6" stroke-opacity=".6" stroke-width="1.39"><circle cx="700.9" cy="386.3" r="3.1"/></g><g fill="#472a7a" stroke="#472a7a" fill-opacity=".6" stroke-opacity=".6" stroke-width="1.39"><circle cx="700.5" cy="391.3" r="3.1"/></g><g fill="#472e7c" stroke="#472e7c" fill-opacity=".6" stroke-opacity=".6" stroke-width="1.39"><circle cx="700.2" cy="396.7" r="3.1"/></g><g fill="#46307e" stroke="#46307e" fill-opacity=".6" stroke-opacity=".6" stroke-width="1.39"><circle cx="699.4" cy="408.6" r="3.1"/></g><path class="d" d="M721.5 288.4h0m-.3 1.6h0m-.4 1.5h0" stroke="#440154" stroke-opacity=".9"/><path class="d" d="M720.4 293.1h0m-.3 1.5h0m-.4 1.6h0" stroke="#450457" stroke-opacity=".9"/><path class="d" d="M719.3 297.8h0m-.4 1.6h0m-.4 1.6h0" stroke="#450457" stroke-opacity=".8"/><path class="d" d="M718.2 302.6h0m-.4 1.6h0m-.4 1.7h0m-.4 1.6h0m-.4 1.7h0" stroke="#46085c" stroke-opacity=".8"/><path class="d" d="M716.2 310.9h0" stroke="#460b5e" stroke-opacity=".8"/><path class="d" d="M715.8 312.6h0m-.5 1.8h0m-.4 1.8h0m-.4 1.8h0" stroke="#460b5e" stroke-opacity=".8"/><path class="d" d="M714 319.9h0m-.4 1.9h0m-.5 1.9h0m-.5 2h0" stroke="#471063" stroke-opacity=".8"/><path class="d" d="M712.1 327.8h0" stroke="#471365" stroke-opacity=".8"/><path class="d" d="M711.6 329.9h0m-.5 2.2h0m-.5 2.2h0" stroke="#471365" stroke-opacity=".8"/><path class="d" d="M710.1 336.6h0m-.6 2.3h0m-.6 2.5h0" stroke="#481769" stroke-opacity=".8"/><path class="d" d="M708.5 344h0" stroke="#481a6c" stroke-opacity=".8"/><path class="d" d="M708.3 346.7h0m-.2 2.8h0m-.2 2.9h0" stroke="#481a6c" stroke-opacity=".7"/><g fill="#481d6f" stroke="#481d6f" fill-opacity=".7" stroke-opacity=".7" stroke-width="1.39"><circle cx="707.6" cy="355.5" r="3.1"/><circle cx="707.4" cy="358.7" r="3.1"/></g><g fill="#482173" stroke="#482173" fill-opacity=".7" stroke-opacity=".7" stroke-width="1.39"><circle cx="707.1" cy="362.1" r="3.1"/><circle cx="706.9" cy="365.6" r="3.1"/><circle cx="706.6" cy="369.3" r="3.1"/></g><g fill="#482475" stroke="#482475" fill-opacity=".7" stroke-opacity=".7" stroke-width="1.39"><circle cx="706.3" cy="373.2" r="3.1"/></g><g fill="#482475" stroke="#482475" fill-opacity=".6" stroke-opacity=".6" stroke-width="1.39"><circle cx="706" cy="377.4" r="3.1"/></g><g fill="#482878" stroke="#482878" fill-opacity=".6" stroke-opacity=".6" stroke-width="1.39"><circle cx="705.7" cy="381.8" r="3.1"/></g><g fill="#472e7c" stroke="#472e7c" fill-opacity=".6" stroke-opacity=".6" stroke-width="1.39"><circle cx="704.6" cy="396.7" r="3.1"/></g><path class="d" d="M666.9 266.9h0m.2 1.2h0m-1 1.5h0m-.3 1.1h0m.1 1.3h0m-.3 1.5h0m-.6 1.1h0m.4 1.5h0m.4 1h0" stroke="#440154"/><path class="d" d="M664.7 278.4h0m-.2 1.1h0m-.6 2.1h0m.3 .8h0m-.8 1.5h0m-.2 1.2h0m.8 1.4h0m-1.1 1.3h0m.6 1.7h0m-.1 .7h0m-.7 1.2h0m-.1 1.5h0m.3 1.3h0m-1.1 1.7h0m-.3 1.4h0m-.5 1h0" stroke="#450457"/><path class="d" d="M661.4 299.6h0m.5 1.6h0m-.3 1.7h0m-.9 .5h0m-.1 2.1h0m0 1.1h0m.2 1.8h0m-.4 1h0m.1 1.6h0m-.1 1.2h0m-.4 1.5h0m0 1.9h0m-.1 1.3h0m-.2 1.2h0m.1 1.4h0m.4 1.2h0" stroke="#46085c"/><path class="d" d="M659.5 322.5h0m-.3 1.6h0m-.9 1.4h0" stroke="#460b5e"/><path class="d" d="M659 327h0m0 4.6h0m-1.1 4.6h0m.8 4.5h0" stroke="#460b5e" stroke-opacity=".9"/><path class="d" d="M658 328.3h0m.9 5.1h0m-.5 4.2h0m.9 4.7h0" stroke="#460b5e" stroke-opacity=".9"/><path class="d" d="M658.1 330h0m.4 5h0m-.3 4.3h0" stroke="#460b5e" stroke-opacity=".9"/><path class="d" d="M658.5 344h0m-.2 4.8h0m-.1 4.8h0m.3 5h0m-.3 5h0" stroke="#471063" stroke-opacity=".9"/><path class="d" d="M658 345.4h0m.2 5.1h0m-.5 4.7h0m.8 5.3h0" stroke="#471063" stroke-opacity=".9"/><path class="d" d="M657.8 347.4h0m0 4.7h0m.8 4.9h0m-.8 5.1h0" stroke="#471063" stroke-opacity=".9"/><path class="d" d="M657.9 365.6h0m-.6 5.1h0m.3 5.4h0m-.7 5.4h0m.7 5.5h0" stroke="#471365" stroke-opacity=".9"/><path class="d" d="M657.7 367h0m-.5 5.1h0m.6 5.8h0m-.6 5.3h0" stroke="#471365" stroke-opacity=".9"/><path class="d" d="M657.7 368.9h0m.4 5.4h0m-.1 5.3h0m-.4 5.6h0" stroke="#471365" stroke-opacity=".9"/><path class="d" d="M657.3 389h0m-.5 5.7h0m.6 5.9h0m-.1 5.9h0" stroke="#481769" stroke-opacity=".9"/><path class="d" d="M657.8 390.6h0m-.9 6h0m-.5 5.6h0m1.2 6.4h0" stroke="#481769" stroke-opacity=".9"/><path class="d" d="M657.4 392.8h0m.2 5.7h0m.1 6.1h0" stroke="#481769" stroke-opacity=".9"/><path class="d" d="M656.8 410.6h0m1.1 6.3h0m-1.3 5.9h0m0 7h0" stroke="#481a6c" stroke-opacity=".9"/><path class="d" d="M656.8 412.5h0m0 6.4h0m.1 6.5h0" stroke="#481a6c" stroke-opacity=".9"/><path class="d" d="M656.5 414.6h0m1 6.4h0m-1.4 6.7h0" stroke="#481a6c" stroke-opacity=".9"/><path class="d" d="M657.1 431.9h0m-.9 1.8h0m.9 2.8h0m-.4 2h0m-.6 1.8h0m.2 2.9h0" stroke="#481d6f" stroke-opacity=".9"/><path class="d" d="M656.3 445.2h0m.1 2.4h0m-.2 2.4h0m-.1 2.8h0" stroke="#481d6f" stroke-opacity=".9"/><path class="d" d="M656.2 454.9h0m0 7.7h0m0 7h0" stroke="#482173" stroke-opacity=".9"/><path class="d" d="M655.9 457.4h0m.7 7.4h0m-.7 7.5h0" stroke="#482173" stroke-opacity=".9"/><path class="d" d="M655.8 460.2h0m-.2 7.1h0m.1 7.8h0" stroke="#482173" stroke-opacity=".9"/><path class="d" d="M656.4 477.7h0m-.6 2.6h0m.8 2.8h0m-1 2.3h0m.5 2.9h0m-.3 2.9h0m-.3 2.7h0m.5 2.9h0" stroke="#482475" stroke-opacity=".9"/><path class="d" d="M655.7 499.5h0m.2 2.7h0m-.3 3h0m-.4 2.6h0m.3 2.9h0m.1 3.4h0m.3 2.8h0" stroke="#482878" stroke-opacity=".9"/><path class="d" d="M655.1 520h0m.3 2.7h0m-.7 3.3h0m.9 3.1h0m-.8 3.1h0m-.3 2.9h0m.7 3.6h0" stroke="#472a7a" stroke-opacity=".9"/><path class="d" d="M655.6 542.2h0m-1.1 3.2h0m.1 3.1h0" stroke="#472e7c" stroke-opacity=".9"/><path class="d" d="M671 267.9h0m.1 1.4h0m-1.7 1h0m.8 1.5h0m.1 1.8h0m-.2 .8h0m.2 1.2h0m-.5 1.5h0m-.6 1.3h0" stroke="#440154"/><path class="d" d="M669 279.3h0m-.1 1.5h0m-.7 1.5h0m-.1 1.2h0m.1 1.3h0m.2 1.6h0m-1.1 .9h0m-.2 1.4h0m-.1 1.2h0m.2 1.8h0m-.8 .6h0m.4 1.6h0m-1.3 1.4h0m.1 1.5h0m-.3 1.4h0" stroke="#450457"/><path class="d" d="M665.6 299.7h0m-.1 .8h0m-1.1 1.8h0m.1 1.2h0m.3 1.3h0m-.5 1.7h0m-.5 1.1h0m.8 1.2h0m-.3 1.7h0m-.2 1.2h0m-.5 1.6h0m.4 1.6h0m-.6 1.5h0m.4 1.7h0m-1 1.1h0" stroke="#46085c"/><path class="d" d="M662.7 320.4h0m.2 1.6h0m-.5 1.4h0" stroke="#460b5e"/><path class="d" d="M662.8 324.9h0m-.7 4.3h0m-.4 5.1h0m1 4.6h0" stroke="#460b5e" stroke-opacity=".9"/><path class="d" d="M662.5 326.7h0m-.7 4.6h0m-.1 4.5h0m.9 4.9h0" stroke="#460b5e" stroke-opacity=".9"/><path class="d" d="M661.8 328h0m.5 4.6h0m0 4.8h0" stroke="#460b5e" stroke-opacity=".9"/><path class="d" d="M661.8 342.1h0m-.2 4.5h0m.2 5.2h0m-.9 5h0m.4 5h0" stroke="#471063" stroke-opacity=".9"/><path class="d" d="M661.8 343.7h0m-.6 4.8h0m0 4.7h0m.5 5h0" stroke="#471063" stroke-opacity=".9"/><path class="d" d="M662.3 345.3h0m-.6 4.8h0m-.9 5.3h0m.3 4.4h0" stroke="#471063" stroke-opacity=".9"/><path class="d" d="M661.4 363.6h0m0 5.1h0m-.7 5.5h0m0 5.2h0" stroke="#471365" stroke-opacity=".9"/><path class="d" d="M661.6 365.2h0m-.8 5.5h0m.7 5.5h0m-.7 5.2h0" stroke="#471365" stroke-opacity=".9"/><path class="d" d="M661.1 367.1h0m-.1 5.1h0m.1 6.1h0m-.2 4.9h0" stroke="#471365" stroke-opacity=".9"/><path class="d" d="M661.2 385.4h0m-.5 5.5h0m-.1 5.8h0m-.1 6h0" stroke="#481769" stroke-opacity=".9"/><path class="d" d="M660.2 386.9h0m1.6 5.8h0m-.9 5.6h0m-.5 6.5h0" stroke="#481769" stroke-opacity=".9"/><path class="d" d="M660.4 388.9h0m.7 5.7h0m.3 5.8h0" stroke="#481769" stroke-opacity=".9"/><path class="d" d="M661 406.8h0m-.8 6.4h0m.3 6h0m-.1 6.5h0" stroke="#481a6c" stroke-opacity=".9"/><path class="d" d="M660.6 408.5h0m.5 6.7h0m-.6 6.5h0" stroke="#481a6c" stroke-opacity=".9"/><path class="d" d="M660.7 410.8h0m.3 6.4h0m-1.6 6.4h0" stroke="#481a6c" stroke-opacity=".9"/><path class="d" d="M660.1 428h0m.2 2.7h0m.1 2h0m-.5 2.4h0m-.6 2h0" stroke="#481d6f" stroke-opacity=".9"/><path class="d" d="M660.1 439.7h0m-.4 2h0m.1 2.5h0m-.2 2.9h0" stroke="#481d6f" stroke-opacity=".9"/><path class="d" d="M659.7 449.2h0m-.8 2.1h0m1.4 2.6h0m-.5 2.5h0m.3 2.7h0m.3 2.2h0m-.8 2.3h0m-.7 2.8h0" stroke="#482173" stroke-opacity=".9"/><path class="d" d="M659.2 469.1h0m-.2 2.6h0m.3 2.9h0m.2 2.4h0m-.9 2.8h0m.9 2.4h0m-.8 3.1h0m.7 3h0" stroke="#482475" stroke-opacity=".9"/><path class="d" d="M659.2 490.9h0m-.2 2.7h0m.1 2.8h0m-.2 3.3h0m-.1 2.3h0m-.5 3.2h0m.6 3.1h0" stroke="#482878" stroke-opacity=".9"/><path class="d" d="M659.6 511.3h0m.1 2.8h0m-.4 3.3h0m-.3 3h0m-.6 3.2h0m.8 3.1h0m-.6 3h0" stroke="#472a7a" stroke-opacity=".9"/><path class="d" d="M658.5 533.2h0m-.1 3.5h0m.1 3h0" stroke="#472e7c" stroke-opacity=".9"/><path class="d w" d="M675.7 269.4h0m.1 1.4h0m-.9 1.4h0m.2 1.5h0m-.8 .9h0m.6 1.3h0m.3 1.1h0m-.4 1.6h0m-1.2 1.1h0m.1 1.5h0m-.5 1.1h0m-.2 1.7h0m.3 .5h0m-1.4 1.7h0m.6 1.5h0m-.7 1.1h0m.3 1.2h0m-.7 1.4h0m-.6 1.1h0m.1 1.6h0m-.1 1.8h0m-.6 1.1h0m-.1 .9h0m-.6 1.4h0m-.9 1.5h0m1.1 1.6h0m-.3 1.1h0m-.3 1.4h0m-.2 1.7h0m.2 1.4h0m-.8 1.1h0m-.3 1.3h0m.1 1.3h0m.3 1.6h0m-1.2 1.2h0m.9 2h0m-.9 1.2h0m-.4 1.7h0m.8 1.7h0m-.7 1.3h0m-.7 1h0" stroke="#440154"/><g fill="#440154" stroke="#440154" fill-opacity=".9" stroke-opacity=".9" stroke-width="1.39"><circle cx="666.4" cy="325.3" r="3.1"/><circle cx="666.8" cy="326.9" r="3.1"/><circle cx="666.7" cy="328" r="3.1"/><circle cx="665.8" cy="329.5" r="3.1"/><circle cx="666" cy="331.2" r="3.1"/><circle cx="666.1" cy="332.4" r="3.1"/><circle cx="665.5" cy="334.6" r="3.1"/></g><path class="d" d="M665.8 335.4h0m-.2 1.8h0m-.2 1.7h0m0 1.6h0m.2 1.7h0m-.1 1.6h0" stroke="#440154" stroke-opacity=".9"/><path class="d" d="M665.2 345.4h0m.2 4.9h0m0 5.1h0m0 5.2h0m.2 5.5h0m-.5 4.9h0m-.4 5.5h0m-.2 5.5h0" stroke="#450457" stroke-opacity=".9"/><path class="d" d="M665.2 347.2h0m.4 4.6h0m.5 5h0m-1.2 5.4h0m-.8 5.7h0m1 5.4h0m-.3 4.9h0m.1 5.6h0" stroke="#450457" stroke-opacity=".9"/><path class="d" d="M665.8 348.2h0m-.1 5.5h0m-.9 4.9h0m.9 5.2h0m-1.2 5.1h0m.5 5.8h0m-.1 5.3h0" stroke="#450457" stroke-opacity=".9"/><path class="d" d="M663.6 385.9h0m1.1 5.4h0m-.4 6.2h0m-.9 6.2h0" stroke="#46085c" stroke-opacity=".9"/><path class="d" d="M664.7 387.6h0m-.5 5.9h0m-.4 6.2h0m.2 6h0" stroke="#46085c" stroke-opacity=".9"/><path class="d" d="M663.9 389.5h0m0 5.8h0m-.2 6.3h0m.4 6.2h0" stroke="#46085c" stroke-opacity=".9"/><path class="d" d="M664.3 409.8h0m-.5 6.2h0m.3 6.7h0" stroke="#460b5e" stroke-opacity=".9"/><path class="d" d="M663.8 411.9h0m-.1 6.8h0m-.2 6.3h0" stroke="#460b5e" stroke-opacity=".9"/><path class="d" d="M664.2 414.2h0m-.3 6.4h0m-.4 6.6h0" stroke="#460b5e" stroke-opacity=".9"/><path class="d" d="M663.5 429.6h0m0 2.1h0m-.4 2.7h0" stroke="#471063" stroke-opacity=".9"/><path class="d" d="M663.8 436.4h0m-.6 2h0m.3 2.7h0m-.5 2.2h0" stroke="#471063" stroke-opacity=".9"/><path class="d" d="M663.4 446.1h0m0 2.6h0m-.4 2.4h0m1 2.1h0m-.7 2.7h0m.5 3h0" stroke="#471365" stroke-opacity=".9"/><path class="d" d="M663.4 461.2h0m-.7 2.6h0m.1 2.8h0m.3 2.9h0" stroke="#481769" stroke-opacity=".9"/><path class="d" d="M662.9 472h0m-.1 2.4h0m-.1 2.8h0m-.7 2.8h0m.6 2.6h0" stroke="#481a6c" stroke-opacity=".9"/><path class="d" d="M661.7 485.3h0m1 3.1h0m-.4 2.7h0" stroke="#481d6f" stroke-opacity=".9"/><path class="d" d="M662.2 494.2h0m.2 3h0m.1 3.4h0m-.7 2.4h0" stroke="#482173" stroke-opacity=".9"/><path class="d" d="M661.6 506.2h0m.2 3h0m-.4 3.3h0" stroke="#482475" stroke-opacity=".9"/><path class="d" d="M661.8 515.7h0m.9 2.9h0" stroke="#482878" stroke-opacity=".9"/><path class="d" d="M661.6 521.8h0m.7 3.1h0m-.9 3.4h0" stroke="#472a7a" stroke-opacity=".9"/><path class="d" d="M662 531.9h0" stroke="#472e7c" stroke-opacity=".9"/><path class="d w" d="M680 271h0m-.7 1.2h0m0 1.4h0m-.1 1.2h0m-.1 1.2h0m-.8 1.3h0m-.1 1.7h0m-.9 .6h0m0 1.6h0m.8 1.1h0m-1.8 1.5h0m.4 1.4h0m0 1.1h0m-.6 1.5h0m-.4 .8h0m0 1.9h0m-.3 1h0m-.3 1.5h0m-1 1.3h0m.3 .7h0m-.5 1.7h0m-.2 1.6h0m0 1.6h0m-.1 1.1h0m-.1 1.3h0m-.8 1.1h0m.4 1.9h0m-.1 1.5h0m-.2 1.1h0m-.1 1.3h0m-.8 1.1h0m-.2 2h0m.2 1.8h0m-1 1h0m.4 1.5h0m-.5 1.4h0m-.1 1.1h0m-.8 1.9h0m.2 1h0" stroke="#440154"/><g fill="#440154" stroke="#440154" fill-opacity=".9" stroke-opacity=".9" stroke-width="1.39"><circle cx="670.2" cy="323.7" r="3.1"/><circle cx="670.4" cy="325.3" r="3.1"/><circle cx="670.2" cy="326.9" r="3.1"/><circle cx="669.6" cy="328.3" r="3.1"/><circle cx="669.4" cy="329.8" r="3.1"/><circle cx="668.9" cy="331.1" r="3.1"/><circle cx="669.2" cy="332.5" r="3.1"/></g><path class="d" d="M668.9 334.4h0m.3 1.4h0m.4 1.4h0m-.7 1.6h0m-.7 1.8h0m.2 1.3h0" stroke="#440154" stroke-opacity=".9"/><path class="d" d="M668.2 343.6h0m.5 5.3h0m.3 4.8h0m-.7 5.2h0m.5 5.1h0m-.1 5.6h0m-.7 5.5h0m.3 5.7h0" stroke="#450457" stroke-opacity=".9"/><path class="d" d="M668.2 345.2h0m-.2 5.7h0m.4 4.8h0m.1 5.3h0m.3 4.7h0m-.4 5.4h0m-.3 5.9h0" stroke="#450457" stroke-opacity=".9"/><path class="d" d="M669.2 347.2h0m-.4 4.6h0m-.6 5.4h0m.4 5.2h0m.1 5.4h0m-1.2 5.2h0m.3 5.6h0" stroke="#450457" stroke-opacity=".9"/><path class="d" d="M667.8 382.7h0m.2 5.7h0m.1 5.8h0m-.9 5.8h0" stroke="#46085c" stroke-opacity=".9"/><path class="d" d="M667.5 384.1h0m.3 6.1h0m-.1 6.3h0m-.4 6.5h0" stroke="#46085c" stroke-opacity=".9"/><path class="d" d="M668.4 386.3h0m-.3 5.6h0m-1.5 6.8h0m.4 5.6h0" stroke="#46085c" stroke-opacity=".9"/><path class="d" d="M667.4 406.9h0m.4 2.1h0m-.7 2.1h0m-.3 2h0m1.2 2h0m-1 2.5h0m-.4 2h0m.6 1.9h0" stroke="#460b5e" stroke-opacity=".9"/><path class="d" d="M667.2 424.8h0m-.5 1.9h0m.6 2.5h0" stroke="#471063" stroke-opacity=".9"/><path class="d" d="M666.7 431h0m-.2 2.8h0m.4 2.4h0m.2 2.4h0" stroke="#471063" stroke-opacity=".9"/><path class="d" d="M666.5 440.7h0m.3 2.3h0m-.2 2.6h0m1.1 2.1h0m-1.4 2.7h0" stroke="#471365" stroke-opacity=".9"/><path class="d" d="M667.1 453.3h0m-.6 2.3h0m-.1 2.8h0m.3 2.7h0m0 3h0" stroke="#481769" stroke-opacity=".9"/><path class="d" d="M666.8 466.7h0m-.4 2.5h0m-.4 3h0m-.1 2.3h0" stroke="#481a6c" stroke-opacity=".9"/><path class="d" d="M666.3 477.5h0m0 3h0m.3 2.5h0m-.5 3.1h0" stroke="#481d6f" stroke-opacity=".9"/><path class="d" d="M666.3 488.8h0m.2 3.3h0m-.6 3.3h0" stroke="#482173" stroke-opacity=".9"/><path class="d" d="M665.2 498h0m0 3.3h0m-.1 2.8h0" stroke="#482475" stroke-opacity=".9"/><path class="d" d="M666.2 507.2h0m-1 3.2h0" stroke="#482878" stroke-opacity=".9"/><path class="d" d="M666 514.2h0m-.4 3.4h0m.4 3h0" stroke="#472a7a" stroke-opacity=".9"/><path class="d" d="M665.7 523.7h0" stroke="#472e7c" stroke-opacity=".9"/><path class="d w" d="M685.3 272.2h0m-.7 1.7h0m.1 .7h0m-.5 1.3h0m-.3 1.8h0m-.2 1h0m-.8 1.5h0m-.2 1h0m-.9 1.1h0m.2 1.4h0m-.7 1.6h0m.2 1.2h0m-.6 1.1h0m.1 1.3h0m-.2 1.3h0m-1 1.2h0m-.1 1.8h0m-.4 .9h0m.4 1.1h0m0 1.5h0m-.6 1.6h0m-.8 1.3h0m.4 1.2h0m-1.6 1.2h0m1 1.5h0m-1 1.1h0m-1.1 1.4h0m2 1.8h0m-.7 1.2h0m-1.2 1.6h0m.3 1.6h0m-.4 1.3h0m-.1 1.3h0m-.8 1.9h0m.1 1.1h0m.2 1.3h0m-.3 1.6h0m.2 1.5h0" stroke="#440154"/><g fill="#440154" stroke="#440154" fill-opacity=".9" stroke-opacity=".9" stroke-width="1.39"><circle cx="674.6" cy="323.4" r="3.1"/><circle cx="675.3" cy="325.1" r="3.1"/><circle cx="673.9" cy="326.5" r="3.1"/><circle cx="674" cy="327.7" r="3.1"/><circle cx="672.9" cy="329.5" r="3.1"/><circle cx="673" cy="331.1" r="3.1"/></g><path class="d" d="M673.8 332.6h0m-1.2 1.3h0m.6 1.8h0m-.3 1.6h0m-.5 1.7h0m.3 1.3h0" stroke="#440154" stroke-opacity=".9"/><path class="d" d="M672.6 342.3h0m.3 5.1h0m-.3 4.9h0m.8 5h0m-1.3 5h0m-.5 5.4h0m.5 5.5h0" stroke="#450457" stroke-opacity=".9"/><path class="d" d="M672.5 343.6h0m-.2 5h0m.1 5.1h0m.2 5.5h0m-.8 4.9h0m0 5.5h0m-.2 5.7h0" stroke="#450457" stroke-opacity=".9"/><path class="d" d="M673 345.4h0m-.9 4.9h0m.7 5.2h0m-.6 4.8h0m-.5 5.6h0m0 5.7h0m-.1 5.6h0" stroke="#450457" stroke-opacity=".9"/><path class="d" d="M671.2 378.9h0m1 6h0m-1 5.7h0m-.6 6.2h0" stroke="#46085c" stroke-opacity=".9"/><path class="d" d="M672.2 381h0m-.5 5.7h0m-.2 6.2h0m0 6.1h0" stroke="#46085c" stroke-opacity=".9"/><path class="d" d="M671.7 383.3h0m.2 5.5h0m.4 6.2h0" stroke="#46085c" stroke-opacity=".9"/><path class="d" d="M671.7 401.3h0m-.6 1.8h0m.1 2.3h0m.1 1.9h0m-.8 2.2h0m.3 2.3h0m-.5 2.7h0m0 1.7h0" stroke="#460b5e" stroke-opacity=".9"/><path class="d" d="M670.3 418.5h0m.1 2.3h0m.1 2.4h0" stroke="#471063" stroke-opacity=".9"/><path class="d" d="M670.6 425.6h0m-.8 2.3h0m1.3 2.8h0m-.3 2h0" stroke="#471063" stroke-opacity=".9"/><path class="d" d="M670.5 435.4h0m-.5 2.2h0m.1 2.5h0m.2 2.1h0m-.1 2.8h0" stroke="#471365" stroke-opacity=".9"/><path class="d" d="M669.3 447.6h0m1 2.6h0m.8 2.2h0m-2 3.2h0m1.1 2.5h0" stroke="#481769" stroke-opacity=".9"/><path class="d" d="M669.9 460.8h0m-.2 2.7h0m.5 2.8h0" stroke="#481a6c" stroke-opacity=".9"/><path class="d" d="M669.1 469.2h0m.5 2.5h0m.5 3h0m-.8 3.1h0" stroke="#481d6f" stroke-opacity=".9"/><path class="d" d="M669.2 480.7h0m.2 2.9h0m-.3 2.9h0" stroke="#482173" stroke-opacity=".9"/><path class="d" d="M669.8 489.5h0m-1 3.3h0m.6 3.3h0" stroke="#482475" stroke-opacity=".9"/><path class="d" d="M668.5 498.8h0m.7 3.7h0" stroke="#482878" stroke-opacity=".9"/><path class="d" d="M668.9 505.6h0m-1.1 3h0" stroke="#472a7a" stroke-opacity=".9"/><path class="d" d="M668.8 512.2h0m-.5 2.9h0" stroke="#472e7c" stroke-opacity=".9"/><path class="d w" d="M688.8 274h0m-.1 1h0m0 1.9h0m-.3 .7h0m-.4 1.5h0m-.1 1.2h0m-1.2 1.6h0m.7 .8h0m-1.1 1.6h0m0 .9h0m-.3 1.7h0m-.6 .9h0m-.4 1.4h0m-.2 1.7h0m0 1h0m-.1 1.3h0m-.3 1.7h0m-1 .9h0m-.3 1.1h0m-.4 1.6h0m.2 1h0m-1.3 1.8h0m1 1.3h0m-1.1 1h0m-.4 1.4h0m.3 1.6h0m0 1.3h0m-.5 1.2h0m.1 1.7h0m-.6 .9h0m.2 1.8h0m-.2 1.4h0m-.8 1.5h0m.4 1.6h0m-.8 1.1h0m-.2 1.8h0" stroke="#440154"/><g fill="#440154" stroke="#440154" fill-opacity=".9" stroke-opacity=".9" stroke-width="1.39"><circle cx="678.3" cy="322.3" r="3.1"/><circle cx="678.3" cy="323.7" r="3.1"/><circle cx="678.5" cy="325" r="3.1"/><circle cx="677.5" cy="326.6" r="3.1"/><circle cx="678" cy="328.4" r="3.1"/><circle cx="677.6" cy="329.6" r="3.1"/></g><path class="d" d="M677.4 331.4h0m-1.3 1.7h0m.6 1.6h0m.1 1.6h0m-.7 1.3h0m.3 1.4h0" stroke="#440154" stroke-opacity=".9"/><path class="d" d="M675.4 341.1h0m1.1 4.7h0m-.6 5.2h0m-.3 5h0m-.2 5.2h0m.6 5.7h0m-1.3 5.7h0" stroke="#450457" stroke-opacity=".9"/><path class="d" d="M676.6 342.5h0m-1.2 5.2h0m.9 4.9h0m.4 5.2h0m-1.2 5.6h0m.7 5.1h0m-.4 5.6h0" stroke="#450457" stroke-opacity=".9"/><path class="d" d="M676 344.4h0m.4 4.9h0m-.9 5h0m-.1 5.4h0m-.2 5.1h0m-.1 5.5h0" stroke="#450457" stroke-opacity=".9"/><path class="d" d="M675.7 375.8h0m-1 6.5h0m-.4 5.3h0m1.3 6.7h0" stroke="#46085c" stroke-opacity=".9"/><path class="d" d="M675.5 377.8h0m-.6 6h0m.3 6.1h0m-.6 6h0" stroke="#46085c" stroke-opacity=".9"/><path class="d" d="M675.6 379.8h0m-1.2 6.2h0m.1 6h0" stroke="#46085c" stroke-opacity=".9"/><path class="d" d="M674.3 398.2h0m.5 2.1h0m.3 1.9h0m-.6 2.3h0m-.7 2.2h0m.5 1.8h0m.4 2.8h0m-.8 2.3h0" stroke="#460b5e" stroke-opacity=".9"/><path class="d" d="M673.7 415.6h0m.7 2.2h0" stroke="#471063" stroke-opacity=".9"/><path class="d" d="M674 420.7h0m-.6 2.1h0m.3 2.5h0m-.2 2.5h0" stroke="#471063" stroke-opacity=".9"/><path class="d" d="M673.8 429.8h0m-.1 2.8h0m.4 2.2h0m-.2 2.6h0m-1 2.5h0" stroke="#471365" stroke-opacity=".9"/><path class="d" d="M673.6 442.5h0m.2 2.8h0m-.3 2.5h0m.2 2.6h0" stroke="#481769" stroke-opacity=".9"/><path class="d" d="M673 453.1h0m-.2 2.8h0m.7 2.5h0m-.9 2.9h0" stroke="#481a6c" stroke-opacity=".9"/><path class="d" d="M672.2 464.2h0m1.2 2.8h0m-.8 2.9h0" stroke="#481d6f" stroke-opacity=".9"/><path class="d" d="M672.7 472.8h0m-.5 3.5h0m0 2.8h0" stroke="#482173" stroke-opacity=".9"/><path class="d" d="M672.2 482h0m.2 3h0" stroke="#482475" stroke-opacity=".9"/><path class="d" d="M672.7 488.5h0m-1.2 2.8h0m1.2 3.1h0" stroke="#482878" stroke-opacity=".9"/><path class="d" d="M671.8 497.8h0m0 3.2h0" stroke="#472a7a" stroke-opacity=".9"/><path class="d" d="M672.5 504.6h0" stroke="#472e7c" stroke-opacity=".9"/><path class="d w" d="M694.2 275.5h0m.5 1.9h0m-1.6 1.1h0m.3 1.2h0m-1 1.7h0m.8 .9h0m-1.2 1.1h0m-.3 1.4h0m0 1.1h0m-.2 1.3h0m-1.3 1.5h0m0 1.1h0m-.8 1.3h0m.2 1.7h0m-.4 1.1h0m-.5 1.3h0m-.5 1.3h0m-.2 1.3h0m-.6 1.5h0m.2 1h0m0 1.7h0m-1.8 .8h0m.4 1.5h0m-.5 1.1h0m.1 1.6h0m-.8 1.6h0m0 1.5h0m-.6 1h0m.5 1.6h0m-.5 1.3h0m-.4 1.4h0m0 1.3h0m-.5 1.7h0m-.8 1.1h0" stroke="#440154"/><g fill="#440154" stroke="#440154" fill-opacity=".9" stroke-opacity=".9" stroke-width="1.39"><circle cx="683.3" cy="321.4" r="3.1"/><circle cx="683" cy="322.8" r="3.1"/><circle cx="682.5" cy="324.2" r="3.1"/><circle cx="682.7" cy="325.6" r="3.1"/><circle cx="682.5" cy="327.1" r="3.1"/><circle cx="681.4" cy="329.2" r="3.1"/></g><path class="d" d="M681.2 330.1h0m.7 2.1h0m-.3 1.4h0m-1.2 1.4h0m-.4 1.4h0" stroke="#440154" stroke-opacity=".9"/><path class="d" d="M679.9 338.4h0m.1 4.7h0m.2 5.4h0m-.3 4.5h0m-.4 5.1h0m0 6.2h0m-.2 5.3h0" stroke="#450457" stroke-opacity=".9"/><path class="d" d="M679.9 340.2h0m-.5 4.8h0m.1 4.7h0m.4 5.7h0m-.8 4.9h0m-.4 5.4h0m.5 6h0" stroke="#450457" stroke-opacity=".9"/><path class="d" d="M679.4 341.3h0m0 5.2h0m.3 5.1h0m-.3 5h0m.6 5.5h0m-.9 5.5h0" stroke="#450457" stroke-opacity=".9"/><path class="d" d="M679.6 373.3h0m-.9 5.7h0m-.2 5.9h0m-1.1 6.6h0" stroke="#46085c" stroke-opacity=".9"/><path class="d" d="M679.4 375.4h0m-1.3 5.7h0m1.4 6.3h0" stroke="#46085c" stroke-opacity=".9"/><path class="d" d="M678.6 377.2h0m.1 5.9h0m-.3 5.8h0" stroke="#46085c" stroke-opacity=".9"/><path class="d" d="M677.9 393.5h0m.2 1.9h0m-.6 2h0m.1 2.3h0m.1 2.3h0m.2 2.3h0m-.3 2.1h0m-.3 2.4h0" stroke="#460b5e" stroke-opacity=".9"/><path class="d" d="M677.9 410.8h0m-.6 2.5h0" stroke="#471063" stroke-opacity=".9"/><path class="d" d="M677.2 415.3h0m-.4 2.8h0m.2 2.2h0" stroke="#471063" stroke-opacity=".9"/><path class="d" d="M677.5 422.6h0m-.9 2.8h0m.5 2.4h0m.3 1.8h0m-.5 3.1h0" stroke="#471365" stroke-opacity=".9"/><path class="d" d="M677.1 434.9h0m-.6 3.1h0m.9 2.9h0m-.1 2.1h0" stroke="#481769" stroke-opacity=".9"/><path class="d" d="M676.8 445.8h0m-.8 2.6h0m.2 2.9h0m.8 2.8h0" stroke="#481a6c" stroke-opacity=".9"/><path class="d" d="M677.2 457.1h0m-.7 2.4h0m.4 3.4h0" stroke="#481d6f" stroke-opacity=".9"/><path class="d" d="M676.1 465.3h0m.1 3.2h0m0 3.2h0" stroke="#482173" stroke-opacity=".9"/><path class="d" d="M676.3 474.7h0m-.9 2.7h0" stroke="#482475" stroke-opacity=".9"/><path class="d" d="M676.3 480.6h0m.1 3.2h0" stroke="#482878" stroke-opacity=".9"/><path class="d" d="M675.3 487.1h0m-.1 3.5h0m.6 2.8h0" stroke="#472a7a" stroke-opacity=".9"/><path class="d" d="M675.3 497.1h0" stroke="#472e7c" stroke-opacity=".9"/><path class="d w" d="M699.7 278.5h0m-.4 1h0m-.4 1.2h0m.1 1.4h0m-.8 1.7h0m-.2 1.3h0m-.5 1h0m.1 1.4h0m-1.9 .9h0m.9 1.4h0m-1 1.3h0m-.4 1h0m-.6 1.3h0m-.8 1.5h0m.2 1.2h0m-.5 1.2h0m.1 1.6h0m-1.2 1.2h0m.8 1.5h0m-.9 1.1h0m-.6 1.3h0m-.6 1.4h0m-.4 1.3h0m-.5 1.3h0m-.1 1.4h0m0 1.6h0m-.4 1.4h0m-.7 1.6h0m.1 .8h0m-.5 1.7h0m.2 1.4h0m.4 1.6h0m-.8 1.3h0" stroke="#440154"/><g fill="#440154" stroke="#440154" fill-opacity=".9" stroke-opacity=".9" stroke-width="1.39"><circle cx="687.8" cy="322.3" r="3.1"/><circle cx="687" cy="324" r="3.1"/><circle cx="686.8" cy="325.4" r="3.1"/><circle cx="686.4" cy="326.7" r="3.1"/><circle cx="687.1" cy="328.7" r="3.1"/></g><path class="d" d="M686.2 330.1h0m0 1.3h0m-.5 1.8h0m-.1 1.2h0m.3 2h0" stroke="#440154" stroke-opacity=".9"/><path class="d" d="M684.7 337.7h0m0 4.7h0m-1.1 5.2h0m1.3 5.2h0m-1.2 5.5h0m-.5 5.2h0" stroke="#450457" stroke-opacity=".9"/><path class="d" d="M684.6 339.2h0m-.7 5.1h0m-.4 4.9h0m-.1 5h0m-.3 5.8h0m-.1 5.4h0" stroke="#450457" stroke-opacity=".9"/><path class="d" d="M684.2 340.9h0m-.4 5.1h0m.4 4.3h0m-.1 6.1h0m-.8 5.2h0m.6 5.6h0" stroke="#450457" stroke-opacity=".9"/><path class="d" d="M682.3 369h0m.2 5.9h0m0 6h0m-1.2 6.3h0" stroke="#46085c" stroke-opacity=".9"/><path class="d" d="M683.1 370.9h0m-.4 6.2h0m-.2 5.8h0" stroke="#46085c" stroke-opacity=".9"/><path class="d" d="M683 373.2h0m-.1 5.6h0m-.4 6.2h0" stroke="#46085c" stroke-opacity=".9"/><path class="d" d="M682.6 389.2h0m.3 1.9h0m-.7 2.1h0m-.1 2.7h0m-1 1.7h0m.4 2.3h0m-.4 2.5h0" stroke="#460b5e" stroke-opacity=".9"/><path class="d" d="M681 404.6h0m.6 2.2h0" stroke="#471063" stroke-opacity=".9"/><path class="d" d="M680.7 408.9h0m.2 2.9h0m-.8 2h0m.7 2.4h0" stroke="#471063" stroke-opacity=".9"/><path class="d" d="M680.8 418.5h0m-.4 2.2h0m0 2.5h0m.9 2.9h0" stroke="#471365" stroke-opacity=".9"/><path class="d" d="M680 428.6h0m0 2.5h0m.1 2.4h0m.7 2.6h0" stroke="#481769" stroke-opacity=".9"/><path class="d" d="M681.1 439h0m-.8 2.5h0m-.5 3.2h0m.1 2.8h0" stroke="#481a6c" stroke-opacity=".9"/><path class="d" d="M680.4 450.7h0m-.9 2.4h0m.9 2.7h0" stroke="#481d6f" stroke-opacity=".9"/><path class="d" d="M680.3 458.6h0m-.6 2.5h0" stroke="#482173" stroke-opacity=".9"/><path class="d" d="M679.9 464.7h0m-.1 3.1h0m.3 3.4h0" stroke="#482475" stroke-opacity=".9"/><path class="d" d="M678.9 474.3h0m.8 3.1h0" stroke="#482878" stroke-opacity=".9"/><path class="d" d="M679 480.6h0m-.2 3.4h0" stroke="#472a7a" stroke-opacity=".9"/><path class="d" d="M679.1 487.5h0" stroke="#472e7c" stroke-opacity=".9"/><path class="d w" d="M704.6 281.8h0m.8 1.1h0m-1.3 1.2h0m.1 1.2h0m-.3 1.3h0" stroke="#450457"/><path class="d w" d="M703.5 287.9h0m-.1 1.1h0m-.5 1.3h0m.1 1.2h0m-.5 1.3h0m-1 1.5h0m-.2 1.2h0m.3 .9h0m-.9 1.4h0m-.2 1.2h0m.3 1.4h0m-.5 1.2h0m-.3 1.2h0" stroke="#46085c"/><path class="d w" d="M699.5 304.3h0m-.3 1.1h0m-.7 1.4h0m.2 1.1h0m-.7 1.4h0m.9 1.2h0m-1.1 1.3h0m-1.5 1.2h0m.5 1.5h0m.1 1h0m-.2 1.4h0m-.3 1.3h0m-.4 1.2h0" stroke="#460b5e"/><path class="d w" d="M696.7 321.1h0m-.2 1h0m0 1.4h0m.1 1.3h0m-.9 1.2h0m0 1.3h0m-.2 1.1h0m-1.1 1.3h0m-.1 1.4h0m.7 1h0m.1 1.7h0m-.4 1.4h0m.6 .9h0" stroke="#471063"/><path class="d w" d="M694.8 337.6h0m-.4 1.4h0m-.6 1h0m-.2 1.3h0m.1 1.2h0m-.5 1.6h0m.2 1.3h0m-.8 1.1h0m.4 1.4h0m-.1 1.4h0m.1 1.2h0m0 1.4h0" stroke="#471365"/><path class="d w" d="M692.7 353.3h0m.3 1.1h0m-.2 1.4h0m.3 1.3h0m-.3 1.3h0m-.2 1.4h0m-.2 .7h0m.5 1.7h0m-1.1 1.2h0m.1 1.7h0m.5 .7h0m-.1 1.5h0m.5 1.2h0" stroke="#481769"/><path class="d w" d="M691.1 370h0m.6 1.2h0m-.8 1.4h0m1.5 1h0m-.3 1.7h0m.4 1.6h0m-1.1 1.7h0m.2 1.4h0m0 1.7h0m-1.1 2.3h0m.4 1.6h0" stroke="#481a6c"/><path class="d" d="M691.1 387.6h0m-.8 2.4h0m.2 2.6h0m.5 2.7h0" stroke="#481d6f" stroke-opacity=".8"/><g fill="#481d6f" stroke="#481d6f" fill-opacity=".6" stroke-opacity=".6" stroke-width="1.39"><circle cx="690.6" cy="398.4" r="3.1"/><circle cx="689.8" cy="401.6" r="3.1"/></g><g fill="#482173" stroke="#482173" fill-opacity=".6" stroke-opacity=".6" stroke-width="1.39"><circle cx="689.6" cy="405.2" r="3.1"/><circle cx="690.1" cy="409" r="3.1"/><circle cx="689.2" cy="413.3" r="3.1"/><circle cx="689.3" cy="418.2" r="3.1"/></g><g fill="#482475" stroke="#482475" fill-opacity=".6" stroke-opacity=".6" stroke-width="1.39"><circle cx="689.4" cy="423.4" r="3.1"/><circle cx="689.7" cy="429.2" r="3.1"/><circle cx="688.9" cy="434.9" r="3.1"/></g><g fill="#482878" stroke="#482878" fill-opacity=".6" stroke-opacity=".6" stroke-width="1.39"><circle cx="688.9" cy="440.3" r="3.1"/><circle cx="688.9" cy="445.8" r="3.1"/><circle cx="688.5" cy="451.5" r="3.1"/></g><g fill="#472a7a" stroke="#472a7a" fill-opacity=".6" stroke-opacity=".6" stroke-width="1.39"><circle cx="689.2" cy="457.3" r="3.1"/><circle cx="688.3" cy="463" r="3.1"/></g><g fill="#472e7c" stroke="#472e7c" fill-opacity=".6" stroke-opacity=".6" stroke-width="1.39"><circle cx="688.2" cy="468.4" r="3.1"/><circle cx="688.5" cy="473.9" r="3.1"/></g><path class="d w" d="M713.8 285.2h0m0 1h0" stroke="#450457"/><path class="d w" d="M712.4 287.7h0m1.1 1.2h0m-.3 1.4h0m-.8 1.1h0m-.6 1h0m.3 1.4h0m-1.3 1.2h0m.1 1.1h0m-.1 1.3h0m-1.2 1.1h0m1 1.2h0m-1 1.6h0m-.2 1h0" stroke="#46085c"/><path class="d w" d="M708.6 303.7h0m.1 1.1h0m-1.2 1.5h0m.6 1.2h0m-1.1 1.2h0m-.1 1.4h0m-.9 1.1h0m.1 1h0m-.2 1.5h0m-.6 1.3h0m-.8 1.1h0m.4 1.4h0m.1 1h0" stroke="#460b5e"/><path class="d w" d="M703.8 320h0m.7 1.6h0m-.1 .8h0m-.1 1.3h0m-1.1 1.9h0m.6 1h0m0 1.4h0m-.3 1.2h0m-.7 .9h0m.9 1.8h0m-.6 1h0m-.3 1.2h0m.4 1.5h0" stroke="#471063"/><path class="d w" d="M702.7 336.8h0m0 1.4h0m-.2 1h0m-.3 1.8h0m-.5 .9h0m.4 1.5h0m-.3 .9h0m-.2 1.3h0m-.7 1.6h0m.1 1.3h0m1.2 1.3h0m-1.1 1h0m-.6 1.3h0" stroke="#471365"/><path class="d w" d="M700.5 353.4h0m-.1 1.4h0m-.2 1.2h0m-.2 1.6h0m.5 1.3h0m.3 1.1h0m-.2 1.1h0m.6 1.8h0m-1 .9h0m.1 1.2h0m-.5 1.7h0m.3 1.1h0m.3 1.2h0" stroke="#481769"/><path class="d w" d="M700.1 370.4h0m-.5 1.4h0m-.1 1.6h0m.1 1.4h0m-.3 1.2h0m-.1 1.2h0m.5 2h0m-.7 1.7h0m.1 1.7h0m.4 2h0" stroke="#481a6c"/><path class="d" d="M698.6 386.8h0m.8 1.9h0m-.7 2.2h0m-.3 2.9h0" stroke="#481d6f" stroke-opacity=".8"/><g fill="#481d6f" stroke="#481d6f" fill-opacity=".6" stroke-opacity=".6" stroke-width="1.39"><circle cx="698.7" cy="396.3" r="3.1"/><circle cx="698.5" cy="399.8" r="3.1"/></g><g fill="#482173" stroke="#482173" fill-opacity=".6" stroke-opacity=".6" stroke-width="1.39"><circle cx="698.5" cy="402.8" r="3.1"/><circle cx="699" cy="406.7" r="3.1"/><circle cx="698.5" cy="410.6" r="3.1"/><circle cx="697.9" cy="415.1" r="3.1"/></g><g fill="#482475" stroke="#482475" fill-opacity=".6" stroke-opacity=".6" stroke-width="1.39"><circle cx="698.3" cy="420.2" r="3.1"/><circle cx="698.6" cy="426" r="3.1"/><circle cx="698.6" cy="431.5" r="3.1"/></g><g fill="#482878" stroke="#482878" fill-opacity=".6" stroke-opacity=".6" stroke-width="1.39"><circle cx="698.1" cy="436.7" r="3.1"/><circle cx="698.3" cy="442.5" r="3.1"/><circle cx="698.2" cy="448.2" r="3.1"/></g><g fill="#472a7a" stroke="#472a7a" fill-opacity=".6" stroke-opacity=".6" stroke-width="1.39"><circle cx="698" cy="453.7" r="3.1"/><circle cx="698.5" cy="459.5" r="3.1"/><circle cx="698.2" cy="465.2" r="3.1"/></g><g fill="#472e7c" stroke="#472e7c" fill-opacity=".6" stroke-opacity=".6" stroke-width="1.39"><circle cx="698.4" cy="470.5" r="3.1"/></g><path class="d w" d="M721.4 289.2h0m.4 1.3h0m-1.3 1.3h0m0 .8h0m-.6 1.4h0m-.3 1.1h0m.1 1.2h0m-1.4 1.4h0m.3 1.3h0m-1.1 1.2h0m.2 1.4h0m-1.1 1h0" stroke="#46085c"/><path class="d w" d="M716.5 303.5h0m-.6 1.7h0m-.3 .9h0m.1 1.5h0m-.4 .9h0m-.8 1.6h0m-.7 .9h0m.2 1.6h0m-1.2 .6h0m-.6 1.5h0m.1 1.4h0m-.4 1.1h0m-.3 1.2h0m-.5 1.2h0" stroke="#460b5e"/><path class="d w" d="M711.8 321.1h0m-1.6 1h0m0 1.2h0m-.2 1.4h0m.5 1.4h0m-.9 1.1h0m-.3 1.5h0m.3 1.5h0m-.4 1.3h0m.2 1.1h0m-1 1.1h0m.9 1.7h0" stroke="#471063"/><path class="d w" d="M709 336.6h0m-.4 1.1h0m-.3 1.5h0m.3 1.1h0m-.5 1.4h0m.2 1.1h0m.4 1.4h0m-.9 1.5h0m.3 1.1h0m-.4 1.1h0m-.6 1.1h0m.6 1.4h0m-.4 1.4h0" stroke="#471365"/><path class="d w" d="M706.5 353.2h0m.4 1.4h0m.5 1.3h0m-.3 1.1h0m-.1 1.5h0m-.5 1.2h0m.2 1.4h0m.2 1.1h0m-.4 1.5h0m-.4 1.1h0m1.3 1h0m-.9 1.8h0m-.4 1.6h0" stroke="#481769"/><path class="d w" d="M705.8 370.4h0m1.6 1.2h0m-.7 1.2h0m-.2 1.5h0m-.1 1.2h0m.8 1.4h0m-.5 1.8h0m-.4 1.8h0m.7 1.3h0m-.1 2h0" stroke="#481a6c"/><path class="d w" d="M706.6 386h0" stroke="#481d6f"/><path class="d" d="M706.6 388.3h0m0 2.4h0m.3 2.5h0" stroke="#481d6f" stroke-opacity=".8"/><g fill="#481d6f" stroke="#481d6f" fill-opacity=".6" stroke-opacity=".6" stroke-width="1.39"><circle cx="706.7" cy="395.7" r="3.1"/><circle cx="706.5" cy="398.9" r="3.1"/></g><g fill="#482173" stroke="#482173" fill-opacity=".6" stroke-opacity=".6" stroke-width="1.39"><circle cx="707.4" cy="402.4" r="3.1"/><circle cx="707.5" cy="405.7" r="3.1"/><circle cx="707.1" cy="409.7" r="3.1"/><circle cx="707.3" cy="414.3" r="3.1"/></g><g fill="#482475" stroke="#482475" fill-opacity=".6" stroke-opacity=".6" stroke-width="1.39"><circle cx="707.8" cy="418.8" r="3.1"/><circle cx="707.3" cy="424.7" r="3.1"/><circle cx="707.9" cy="430" r="3.1"/></g><g fill="#482878" stroke="#482878" fill-opacity=".6" stroke-opacity=".6" stroke-width="1.39"><circle cx="708.4" cy="435.6" r="3.1"/><circle cx="708" cy="441.2" r="3.1"/><circle cx="707.5" cy="447" r="3.1"/></g><g fill="#472a7a" stroke="#472a7a" fill-opacity=".6" stroke-opacity=".6" stroke-width="1.39"><circle cx="708" cy="452.3" r="3.1"/><circle cx="708.3" cy="458.1" r="3.1"/><circle cx="708.8" cy="463.6" r="3.1"/></g><g fill="#472e7c" stroke="#472e7c" fill-opacity=".6" stroke-opacity=".6" stroke-width="1.39"><circle cx="708.3" cy="469.2" r="3.1"/></g><path class="d w" d="M525.4 275.8h0m1.3 1.3h0m-.2 1.1h0m.1 1.4h0m1.2 .7h0m.5 1.6h0m.5 1.2h0m-.5 .9h0m2.1 1.5h0m-1.1 1.2h0" stroke="#450457"/><path class="d w" d="M530.5 287.4h0m-.4 1.3h0m1.8 1.5h0m.2 1.3h0m.9 .8h0m0 1.5h0m0 1.3h0m1 1.3h0m-.2 1.2h0m2.1 1.1h0m-1.4 1.5h0m1.5 1.3h0m-.5 1.4h0" stroke="#46085c"/><path class="d w" d="M536.1 303.7h0m.4 1.4h0m1 1.4h0m-.1 1.3h0m.4 1.3h0m-.5 .8h0m1.3 1.3h0m-.3 1.5h0m.1 1.2h0m1.2 .8h0m0 2.3h0m-.3 .8h0m.6 1.6h0" stroke="#460b5e"/><path class="d w" d="M539.2 320.3h0m.7 1.4h0m.4 1.2h0m-.1 1.2h0m.1 1.2h0m.4 1.5h0m-.3 1.7h0m.7 1h0m.9 1.7h0m0 1.9h0m.2 1.9h0" stroke="#471063"/><path class="d w" d="M542.1 336.9h0" stroke="#471365"/><path class="d" d="M543.9 338.6h0m-.6 2.9h0m-.1 2.2h0" stroke="#471365" stroke-opacity=".8"/><g fill="#471365" stroke="#471365" fill-opacity=".6" stroke-opacity=".6" stroke-width="1.39"><circle cx="545.3" cy="346.7" r="3.1"/><circle cx="545.7" cy="350" r="3.1"/></g><g fill="#481769" stroke="#481769" fill-opacity=".6" stroke-opacity=".6" stroke-width="1.39"><circle cx="545.2" cy="353.4" r="3.1"/><circle cx="545.9" cy="357.4" r="3.1"/><circle cx="546" cy="361.5" r="3.1"/><circle cx="545.9" cy="366.5" r="3.1"/></g><g fill="#481a6c" stroke="#481a6c" fill-opacity=".6" stroke-opacity=".6" stroke-width="1.39"><circle cx="546.1" cy="371.5" r="3.1"/><circle cx="545.1" cy="377.3" r="3.1"/><circle cx="544.9" cy="382.8" r="3.1"/></g><g fill="#481d6f" stroke="#481d6f" fill-opacity=".6" stroke-opacity=".6" stroke-width="1.39"><circle cx="544.8" cy="388.4" r="3.1"/><circle cx="545.7" cy="394.3" r="3.1"/></g><path class="d w" d="M515.3 280.6h0m1.1 .7h0m-.2 .6h0m.7 1.8h0m1.6 .9h0m.5 1.5h0" stroke="#450457"/><path class="d w" d="M518.9 286.8h0m.3 1.7h0m.8 1.3h0m-.4 1.4h0m1.4 1.2h0m.6 1.3h0m0 .7h0m-.3 1.8h0m1.5 1h0m-.2 1.2h0m.6 1.2h0m0 1.7h0m.8 .7h0m-.4 1.2h0" stroke="#46085c"/><path class="d w" d="M525 304.7h0m-.2 1.1h0m.3 1h0m1.1 1.6h0m.8 1h0m-1 1.6h0m.2 .7h0m0 1.6h0m.9 1.2h0m.6 1.5h0m0 1h0m.1 1.4h0m.9 1.1h0" stroke="#460b5e"/><path class="d w" d="M528.9 320.7h0m-.6 1.1h0m1.5 1.5h0m.7 1.2h0m0 1.5h0m.4 .9h0m-.3 1.4h0m0 1.4h0m1.3 1.2h0m.9 1.4h0m-.7 1.5h0m.2 1.6h0" stroke="#471063"/><path class="d w" d="M533.1 337.3h0m.7 1.5h0m0 1.5h0" stroke="#471365"/><path class="d" d="M534.2 342.5h0m.9 2.4h0m.7 2.5h0m-.2 2.6h0" stroke="#471365" stroke-opacity=".8"/><g fill="#481769" stroke="#481769" fill-opacity=".6" stroke-opacity=".6" stroke-width="1.39"><circle cx="535.6" cy="352.9" r="3.1"/><circle cx="536.2" cy="355.9" r="3.1"/><circle cx="535.9" cy="360.1" r="3.1"/><circle cx="535.6" cy="363.5" r="3.1"/><circle cx="535.5" cy="367.7" r="3.1"/></g><g fill="#481a6c" stroke="#481a6c" fill-opacity=".6" stroke-opacity=".6" stroke-width="1.39"><circle cx="536.8" cy="373" r="3.1"/><circle cx="537.1" cy="378.9" r="3.1"/><circle cx="539" cy="384" r="3.1"/></g><g fill="#481d6f" stroke="#481d6f" fill-opacity=".6" stroke-opacity=".6" stroke-width="1.39"><circle cx="538.9" cy="389.8" r="3.1"/><circle cx="539.3" cy="395.4" r="3.1"/><circle cx="539.8" cy="401.1" r="3.1"/></g><g fill="#482173" stroke="#482173" fill-opacity=".6" stroke-opacity=".6" stroke-width="1.39"><circle cx="540.7" cy="406.4" r="3.1"/><circle cx="541.7" cy="412" r="3.1"/><circle cx="542.2" cy="417.4" r="3.1"/></g><path class="d w" d="M504.7 284h0m.3 1.2h0m.6 1.5h0" stroke="#450457"/><path class="d w" d="M504.9 287.8h0m1.8 1.2h0m-.4 1.5h0m.5 .7h0m.2 1.4h0m1.5 1.5h0m0 .7h0m0 1.2h0m.6 1.1h0m.6 1.7h0m.3 1.1h0m.1 .9h0m.6 1.7h0" stroke="#46085c"/><path class="d w" d="M512 303.4h0m.6 1.2h0m.6 1.4h0m-.4 1.2h0m.3 .9h0m.3 1.4h0m1.2 1.2h0m.4 1.5h0m.6 .8h0m1.4 1.6h0m.1 .6h0m0 1.7h0m.7 1.4h0m-.2 1.1h0" stroke="#460b5e"/><path class="d w" d="M518.4 320.8h0m.7 1.2h0m.2 .7h0m.2 1.4h0m.4 1.6h0m1.6 1.1h0m-.8 1.2h0m.5 1.5h0m.8 1.1h0m0 .7h0m0 1.5h0m.8 1.5h0m-.4 1.2h0" stroke="#471063"/><path class="d w" d="M523.7 336.6h0m-1.1 1.5h0m.3 1.2h0m.8 1.7h0m-1 .9h0m1.1 1.4h0m0 1.3h0m.9 1.5h0m-.4 1.7h0m.3 1.6h0m.6 1.8h0" stroke="#471365"/><path class="d w" d="M525 353.2h0" stroke="#481769"/><path class="d" d="M524.6 355.1h0m.3 2.5h0m.6 2.3h0" stroke="#481769" stroke-opacity=".8"/><g fill="#481769" stroke="#481769" fill-opacity=".6" stroke-opacity=".6" stroke-width="1.39"><circle cx="526.4" cy="362.9" r="3.1"/><circle cx="525.9" cy="366.1" r="3.1"/><circle cx="527" cy="369.1" r="3.1"/></g><g fill="#481a6c" stroke="#481a6c" fill-opacity=".6" stroke-opacity=".6" stroke-width="1.39"><circle cx="527.7" cy="372.8" r="3.1"/><circle cx="527" cy="377.4" r="3.1"/><circle cx="526.7" cy="381.5" r="3.1"/></g><g fill="#481d6f" stroke="#481d6f" fill-opacity=".6" stroke-opacity=".6" stroke-width="1.39"><circle cx="527.4" cy="386.5" r="3.1"/><circle cx="526.5" cy="392.4" r="3.1"/><circle cx="527.7" cy="397.8" r="3.1"/></g><g fill="#482173" stroke="#482173" fill-opacity=".6" stroke-opacity=".6" stroke-width="1.39"><circle cx="527.4" cy="403.6" r="3.1"/><circle cx="528.7" cy="408.7" r="3.1"/><circle cx="530.3" cy="414.4" r="3.1"/></g><g fill="#482475" stroke="#482475" fill-opacity=".6" stroke-opacity=".6" stroke-width="1.39"><circle cx="531.8" cy="420.1" r="3.1"/><circle cx="533.5" cy="425.5" r="3.1"/><circle cx="534.2" cy="430.7" r="3.1"/></g><g fill="#482878" stroke="#482878" fill-opacity=".6" stroke-opacity=".6" stroke-width="1.39"><circle cx="534.9" cy="436.4" r="3.1"/><circle cx="535.4" cy="441.9" r="3.1"/><circle cx="535.9" cy="447.7" r="3.1"/></g><g fill="#472a7a" stroke="#472a7a" fill-opacity=".6" stroke-opacity=".6" stroke-width="1.39"><circle cx="537.7" cy="452.9" r="3.1"/><circle cx="537.4" cy="458.5" r="3.1"/><circle cx="538.6" cy="464.2" r="3.1"/></g><g fill="#472e7c" stroke="#472e7c" fill-opacity=".6" stroke-opacity=".6" stroke-width="1.39"><circle cx="538.8" cy="469.6" r="3.1"/><circle cx="539.6" cy="475.1" r="3.1"/><circle cx="540.4" cy="480.7" r="3.1"/></g><g fill="#46307e" stroke="#46307e" fill-opacity=".6" stroke-opacity=".6" stroke-width="1.39"><circle cx="540.5" cy="486.5" r="3.1"/><circle cx="540.9" cy="492" r="3.1"/><circle cx="540.9" cy="497.4" r="3.1"/></g><g fill="#463480" stroke="#463480" fill-opacity=".6" stroke-opacity=".6" stroke-width="1.39"><circle cx="541.1" cy="503.1" r="3.1"/><circle cx="541.6" cy="508.7" r="3.1"/><circle cx="542.9" cy="513.9" r="3.1"/></g><g fill="#453781" stroke="#453781" fill-opacity=".6" stroke-opacity=".6" stroke-width="1.39"><circle cx="543.7" cy="519.6" r="3.1"/><circle cx="545.1" cy="525" r="3.1"/><circle cx="544.7" cy="530.6" r="3.1"/></g><g fill="#443a83" stroke="#443a83" fill-opacity=".6" stroke-opacity=".6" stroke-width="1.39"><circle cx="546.5" cy="536.3" r="3.1"/><circle cx="546" cy="542" r="3.1"/><circle cx="545.3" cy="547.6" r="3.1"/></g><g fill="#433e85" stroke="#433e85" fill-opacity=".6" stroke-opacity=".6" stroke-width="1.39"><circle cx="547" cy="553.2" r="3.1"/><circle cx="547.8" cy="558.7" r="3.1"/></g><g fill="#481769" stroke="#481769" fill-opacity=".6" stroke-opacity=".6" stroke-width="1.39"><circle cx="532.9" cy="367.5" r="3.1"/></g><g fill="#481a6c" stroke="#481a6c" fill-opacity=".6" stroke-opacity=".6" stroke-width="1.39"><circle cx="532.9" cy="372.6" r="3.1"/><circle cx="532.3" cy="378" r="3.1"/><circle cx="533.6" cy="383.5" r="3.1"/></g><g fill="#481d6f" stroke="#481d6f" fill-opacity=".6" stroke-opacity=".6" stroke-width="1.39"><circle cx="532.2" cy="389.4" r="3.1"/><circle cx="532.4" cy="395.5" r="3.1"/><circle cx="531.6" cy="400.7" r="3.1"/></g><g fill="#482173" stroke="#482173" fill-opacity=".6" stroke-opacity=".6" stroke-width="1.39"><circle cx="534.6" cy="405.8" r="3.1"/><circle cx="534.9" cy="411.7" r="3.1"/><circle cx="537.3" cy="416.8" r="3.1"/></g><g fill="#482475" stroke="#482475" fill-opacity=".6" stroke-opacity=".6" stroke-width="1.39"><circle cx="536.5" cy="422.8" r="3.1"/><circle cx="539.4" cy="427.9" r="3.1"/><circle cx="538.3" cy="433.9" r="3.1"/></g><g fill="#482878" stroke="#482878" fill-opacity=".6" stroke-opacity=".6" stroke-width="1.39"><circle cx="540.6" cy="439.3" r="3.1"/><circle cx="541.8" cy="444.4" r="3.1"/><circle cx="542.5" cy="450.4" r="3.1"/></g><g fill="#472a7a" stroke="#472a7a" fill-opacity=".6" stroke-opacity=".6" stroke-width="1.39"><circle cx="544.1" cy="455.1" r="3.1"/><circle cx="543.1" cy="461.6" r="3.1"/><circle cx="543.9" cy="466.4" r="3.1"/></g><g fill="#472e7c" stroke="#472e7c" fill-opacity=".6" stroke-opacity=".6" stroke-width="1.39"><circle cx="544.6" cy="472.3" r="3.1"/><circle cx="545" cy="477.8" r="3.1"/><circle cx="545.3" cy="483.4" r="3.1"/></g><g fill="#46307e" stroke="#46307e" fill-opacity=".6" stroke-opacity=".6" stroke-width="1.39"><circle cx="546.2" cy="488.9" r="3.1"/><circle cx="546.2" cy="494.6" r="3.1"/><circle cx="547.6" cy="500.3" r="3.1"/></g><g fill="#463480" stroke="#463480" fill-opacity=".6" stroke-opacity=".6" stroke-width="1.39"><circle cx="547.4" cy="505.9" r="3.1"/><circle cx="548.3" cy="511.6" r="3.1"/><circle cx="549" cy="517.4" r="3.1"/></g><g fill="#453781" stroke="#453781" fill-opacity=".6" stroke-opacity=".6" stroke-width="1.39"><circle cx="550.2" cy="522.5" r="3.1"/><circle cx="549.8" cy="528.3" r="3.1"/><circle cx="551" cy="533.6" r="3.1"/></g><g fill="#443a83" stroke="#443a83" fill-opacity=".6" stroke-opacity=".6" stroke-width="1.39"><circle cx="550.5" cy="538.7" r="3.1"/><circle cx="552.2" cy="544.9" r="3.1"/><circle cx="553.1" cy="550" r="3.1"/></g><g fill="#433e85" stroke="#433e85" fill-opacity=".6" stroke-opacity=".6" stroke-width="1.39"><circle cx="553.9" cy="555.7" r="3.1"/><circle cx="554.2" cy="561.5" r="3.1"/></g><path class="d w" d="M485.4 294.8h0m.6 1.5h0m1.5 1.3h0m.7 .9h0m.5 1.2h0m.7 1.4h0m-.2 1.1h0" stroke="#46085c"/><path class="d w" d="M490.3 303.4h0m1 1.6h0m0 .8h0m-.4 1.2h0m1.5 .8h0m.9 1.8h0m0 1h0m.5 1.4h0m.2 1h0m2.3 1.3h0m-.3 1.2h0m-.3 1.2h0m1.3 1h0m.4 1.7h0" stroke="#460b5e"/><path class="d w" d="M498.2 320h0m-.6 1.2h0m1.4 1.7h0m.2 .9h0m-.5 1.4h0m1 1h0m.4 1.5h0m.5 .9h0m-.8 1.4h0m1.5 1.2h0m.1 1.1h0m1 1.3h0m.1 1h0m.1 1.5h0" stroke="#471063"/><path class="d w" d="M502.8 337h0m.8 1.7h0m.8 1.3h0m.3 .8h0m-.1 1.2h0m1.9 1.3h0m.2 1.3h0m.2 1.1h0m.6 1.3h0m.7 1.2h0m.4 1h0m.4 1.1h0m1.2 1h0" stroke="#471365"/><path class="d w" d="M510.2 353.4h0m.5 .5h0m.7 1.7h0m.5 1.1h0m.5 1.1h0m1.9 1.5h0m-1.5 1.3h0m.8 1.8h0m.5 1.5h0m-.8 1.9h0m.9 1.7h0" stroke="#481769"/><path class="d" d="M513.9 369.4h0m.7 2.3h0m-.1 2.4h0m.7 2.4h0" stroke="#481a6c" stroke-opacity=".8"/><g fill="#481a6c" stroke="#481a6c" fill-opacity=".6" stroke-opacity=".6" stroke-width="1.39"><circle cx="514.8" cy="379.5" r="3.1"/><circle cx="515.5" cy="382.4" r="3.1"/></g><g fill="#481d6f" stroke="#481d6f" fill-opacity=".6" stroke-opacity=".6" stroke-width="1.39"><circle cx="515" cy="386.1" r="3.1"/><circle cx="515.1" cy="390.5" r="3.1"/><circle cx="515.4" cy="394.8" r="3.1"/><circle cx="515.9" cy="400.2" r="3.1"/></g><g fill="#482173" stroke="#482173" fill-opacity=".6" stroke-opacity=".6" stroke-width="1.39"><circle cx="517.5" cy="405.6" r="3.1"/><circle cx="517.6" cy="410.7" r="3.1"/><circle cx="519.7" cy="416.4" r="3.1"/></g><g fill="#482475" stroke="#482475" fill-opacity=".6" stroke-opacity=".6" stroke-width="1.39"><circle cx="519.6" cy="422" r="3.1"/><circle cx="519.6" cy="427.6" r="3.1"/><circle cx="520.6" cy="433.1" r="3.1"/></g><g fill="#482878" stroke="#482878" fill-opacity=".6" stroke-opacity=".6" stroke-width="1.39"><circle cx="520.5" cy="438.7" r="3.1"/><circle cx="521.1" cy="444.4" r="3.1"/><circle cx="522.8" cy="450" r="3.1"/></g><g fill="#472a7a" stroke="#472a7a" fill-opacity=".6" stroke-opacity=".6" stroke-width="1.39"><circle cx="523.3" cy="455.5" r="3.1"/><circle cx="522.4" cy="461.1" r="3.1"/><circle cx="524.1" cy="466.5" r="3.1"/></g><g fill="#472e7c" stroke="#472e7c" fill-opacity=".6" stroke-opacity=".6" stroke-width="1.39"><circle cx="524.3" cy="471.8" r="3.1"/><circle cx="524.4" cy="477.8" r="3.1"/><circle cx="525.6" cy="483.1" r="3.1"/></g><g fill="#46307e" stroke="#46307e" fill-opacity=".6" stroke-opacity=".6" stroke-width="1.39"><circle cx="524.8" cy="489.1" r="3.1"/><circle cx="525.6" cy="494.8" r="3.1"/><circle cx="526.9" cy="499.8" r="3.1"/></g><g fill="#463480" stroke="#463480" fill-opacity=".6" stroke-opacity=".6" stroke-width="1.39"><circle cx="528.4" cy="505.9" r="3.1"/><circle cx="528" cy="511.4" r="3.1"/><circle cx="529.2" cy="517" r="3.1"/></g><g fill="#453781" stroke="#453781" fill-opacity=".6" stroke-opacity=".6" stroke-width="1.39"><circle cx="529.6" cy="521.9" r="3.1"/><circle cx="530.3" cy="528" r="3.1"/><circle cx="531.4" cy="533.7" r="3.1"/></g><g fill="#443a83" stroke="#443a83" fill-opacity=".6" stroke-opacity=".6" stroke-width="1.39"><circle cx="531.3" cy="538.8" r="3.1"/><circle cx="531.5" cy="544.4" r="3.1"/><circle cx="532.4" cy="550" r="3.1"/></g><g fill="#433e85" stroke="#433e85" fill-opacity=".6" stroke-opacity=".6" stroke-width="1.39"><circle cx="532.7" cy="555.6" r="3.1"/><circle cx="534.9" cy="561.6" r="3.1"/><circle cx="535.9" cy="566.6" r="3.1"/></g><g fill="#424086" stroke="#424086" fill-opacity=".6" stroke-opacity=".6" stroke-width="1.39"><circle cx="536.2" cy="572" r="3.1"/></g><path class="d w" d="M478.7 300.9h0m-.7 1.1h0" stroke="#46085c"/><path class="d w" d="M479.5 303.3h0m.3 .9h0m-.1 1.4h0m1.3 1.1h0m-.6 1.5h0m.6 1.2h0m1 1.2h0m1.2 1.2h0m-.1 .9h0m-.3 1.5h0m1.5 1.3h0m.7 1h0m-.7 1.4h0m.2 1h0" stroke="#460b5e"/><path class="d w" d="M484.3 320.4h0m.3 1.1h0m.2 1.4h0m.5 1.1h0m.1 1h0m1.7 1.2h0m-.2 1.3h0m-.7 1.4h0m1.7 .9h0m.6 1.3h0m-.3 1.4h0m.6 1.7h0m.1 .9h0m1.8 .6h0" stroke="#471063"/><path class="d w" d="M489.9 337.5h0m1.1 1.1h0m1.4 1.1h0m-.6 .8h0m1.2 1.5h0m.6 1.5h0m-.3 1.5h0m1.9 1h0m-.6 1h0m.9 1.2h0m.2 1.4h0m1.2 1.1h0m.2 1.4h0m.8 .4h0" stroke="#471365"/><path class="d w" d="M498 354.3h0m1.3 1.1h0m-.2 1.2h0m.9 1.2h0m-.2 1.2h0m1 1.2h0m-.8 1.5h0m.8 1.3h0m.8 1.5h0m.7 1.1h0m-.3 1.3h0m1.3 2h0" stroke="#481769"/><path class="d w" d="M503.6 370.4h0m-1.3 2.2h0" stroke="#481a6c"/><path class="d" d="M503.8 374.3h0m.6 2.2h0m.4 1.9h0m.4 2.8h0" stroke="#481a6c" stroke-opacity=".8"/><g fill="#481a6c" stroke="#481a6c" fill-opacity=".6" stroke-opacity=".6" stroke-width="1.39"><circle cx="504.7" cy="384.5" r="3.1"/></g><g fill="#481d6f" stroke="#481d6f" fill-opacity=".6" stroke-opacity=".6" stroke-width="1.39"><circle cx="505.8" cy="387.2" r="3.1"/><circle cx="504.8" cy="390.8" r="3.1"/><circle cx="506.5" cy="394.7" r="3.1"/><circle cx="506.2" cy="398.8" r="3.1"/></g><g fill="#482173" stroke="#482173" fill-opacity=".6" stroke-opacity=".6" stroke-width="1.39"><circle cx="506.6" cy="403.9" r="3.1"/><circle cx="508" cy="409.6" r="3.1"/><circle cx="507.3" cy="415" r="3.1"/></g><g fill="#482475" stroke="#482475" fill-opacity=".6" stroke-opacity=".6" stroke-width="1.39"><circle cx="507.9" cy="420.5" r="3.1"/><circle cx="507.5" cy="426.6" r="3.1"/><circle cx="507.9" cy="431.9" r="3.1"/></g><g fill="#482878" stroke="#482878" fill-opacity=".6" stroke-opacity=".6" stroke-width="1.39"><circle cx="508.1" cy="437.3" r="3.1"/><circle cx="508.2" cy="442.9" r="3.1"/><circle cx="510.4" cy="448.9" r="3.1"/></g><g fill="#472a7a" stroke="#472a7a" fill-opacity=".6" stroke-opacity=".6" stroke-width="1.39"><circle cx="511.1" cy="454.2" r="3.1"/><circle cx="510.6" cy="459.6" r="3.1"/><circle cx="510.3" cy="465.4" r="3.1"/></g><g fill="#472e7c" stroke="#472e7c" fill-opacity=".6" stroke-opacity=".6" stroke-width="1.39"><circle cx="509.7" cy="471.1" r="3.1"/><circle cx="509.2" cy="476.1" r="3.1"/><circle cx="508.9" cy="481.8" r="3.1"/></g><g fill="#46307e" stroke="#46307e" fill-opacity=".6" stroke-opacity=".6" stroke-width="1.39"><circle cx="509.3" cy="487.9" r="3.1"/><circle cx="510.8" cy="493.3" r="3.1"/><circle cx="512.4" cy="499" r="3.1"/></g><g fill="#463480" stroke="#463480" fill-opacity=".6" stroke-opacity=".6" stroke-width="1.39"><circle cx="512.5" cy="504.6" r="3.1"/><circle cx="513.7" cy="509.9" r="3.1"/><circle cx="514.3" cy="515.2" r="3.1"/></g><g fill="#453781" stroke="#453781" fill-opacity=".6" stroke-opacity=".6" stroke-width="1.39"><circle cx="514" cy="521" r="3.1"/><circle cx="514.9" cy="526.6" r="3.1"/><circle cx="514.9" cy="532.4" r="3.1"/></g><g fill="#443a83" stroke="#443a83" fill-opacity=".6" stroke-opacity=".6" stroke-width="1.39"><circle cx="516.3" cy="537.9" r="3.1"/><circle cx="517.1" cy="543.2" r="3.1"/><circle cx="517.3" cy="548.9" r="3.1"/></g><g fill="#433e85" stroke="#433e85" fill-opacity=".6" stroke-opacity=".6" stroke-width="1.39"><circle cx="518.4" cy="554.3" r="3.1"/><circle cx="520.3" cy="559.9" r="3.1"/><circle cx="519.7" cy="565.6" r="3.1"/></g><g fill="#424086" stroke="#424086" fill-opacity=".6" stroke-opacity=".6" stroke-width="1.39"><circle cx="521.6" cy="571.1" r="3.1"/><circle cx="521.6" cy="576.6" r="3.1"/><circle cx="521" cy="582.1" r="3.1"/></g><g fill="#482475" stroke="#482475" fill-opacity=".6" stroke-opacity=".6" stroke-width="1.39"><circle cx="514.8" cy="432.4" r="3.1"/></g><g fill="#482878" stroke="#482878" fill-opacity=".6" stroke-opacity=".6" stroke-width="1.39"><circle cx="514" cy="438" r="3.1"/><circle cx="514.5" cy="443.1" r="3.1"/><circle cx="515.9" cy="448.9" r="3.1"/></g><g fill="#472a7a" stroke="#472a7a" fill-opacity=".6" stroke-opacity=".6" stroke-width="1.39"><circle cx="516" cy="454" r="3.1"/><circle cx="516.2" cy="459.7" r="3.1"/><circle cx="517.5" cy="465.5" r="3.1"/></g><g fill="#472e7c" stroke="#472e7c" fill-opacity=".6" stroke-opacity=".6" stroke-width="1.39"><circle cx="516.1" cy="470.9" r="3.1"/><circle cx="515.7" cy="476.4" r="3.1"/><circle cx="516.6" cy="482.3" r="3.1"/></g><g fill="#46307e" stroke="#46307e" fill-opacity=".6" stroke-opacity=".6" stroke-width="1.39"><circle cx="516.8" cy="487.8" r="3.1"/><circle cx="516.7" cy="493.8" r="3.1"/><circle cx="517" cy="498.6" r="3.1"/></g><g fill="#463480" stroke="#463480" fill-opacity=".6" stroke-opacity=".6" stroke-width="1.39"><circle cx="518.4" cy="504.4" r="3.1"/><circle cx="518.5" cy="510.4" r="3.1"/><circle cx="518.9" cy="516" r="3.1"/></g><g fill="#453781" stroke="#453781" fill-opacity=".6" stroke-opacity=".6" stroke-width="1.39"><circle cx="519.5" cy="521.7" r="3.1"/><circle cx="521.4" cy="526.8" r="3.1"/><circle cx="521.2" cy="532.3" r="3.1"/></g><g fill="#443a83" stroke="#443a83" fill-opacity=".6" stroke-opacity=".6" stroke-width="1.39"><circle cx="522.1" cy="538.3" r="3.1"/><circle cx="521.8" cy="543.8" r="3.1"/><circle cx="522.5" cy="548.9" r="3.1"/></g><g fill="#433e85" stroke="#433e85" fill-opacity=".6" stroke-opacity=".6" stroke-width="1.39"><circle cx="523" cy="555.2" r="3.1"/><circle cx="524.7" cy="560.3" r="3.1"/><circle cx="525" cy="566.1" r="3.1"/></g><g fill="#424086" stroke="#424086" fill-opacity=".6" stroke-opacity=".6" stroke-width="1.39"><circle cx="524.8" cy="571.4" r="3.1"/><circle cx="528.1" cy="576.8" r="3.1"/><circle cx="527.5" cy="582.6" r="3.1"/></g><path class="d w" d="M467.8 308.3h0m.2 1.1h0m.5 1.3h0m1.1 1.3h0m-.4 .6h0m1 1.8h0m-.4 .7h0m.4 1.8h0m.5 .9h0m1 1.5h0" stroke="#460b5e"/><path class="d w" d="M472 320.2h0m.2 1.6h0m1.1 .9h0m-.8 1.1h0m1.3 1.2h0m.6 1.4h0m0 1.3h0m.5 .9h0m0 1.9h0m0 .6h0m1.5 1.3h0m-.6 1h0m1 1.7h0m.7 1.1h0" stroke="#471063"/><path class="d w" d="M477.6 337.2h0m-.1 1.4h0m.4 1.5h0m.7 .9h0m.5 1.4h0m-.8 1.3h0m.2 1.3h0m1.2 1.2h0m.6 1.2h0m.3 1h0m.6 1.4h0m.3 1.3h0m.8 .9h0" stroke="#471365"/><path class="d w" d="M482 353.5h0m1.5 1.4h0m.8 1.4h0m.3 .9h0m-.2 1.1h0m.8 1.4h0m.8 1.2h0m.3 1.3h0m.7 1.2h0m.5 1h0m-.3 1.5h0m1.2 1h0m0 1.8h0" stroke="#481769"/><path class="d w" d="M488.7 369.4h0m.9 1h0m.3 1.8h0m.8 1h0m-.1 1.2h0m.2 1.2h0m-.6 1.4h0m.7 1.4h0m-.1 1h0m.3 2.3h0m.1 1.1h0m-1 1.8h0" stroke="#481a6c"/><path class="d w" d="M490.2 386.5h0m.3 2h0" stroke="#481d6f"/><path class="d" d="M491.6 390.1h0m-.3 2.5h0m-.6 2.5h0" stroke="#481d6f" stroke-opacity=".8"/><g fill="#481d6f" stroke="#481d6f" fill-opacity=".6" stroke-opacity=".6" stroke-width="1.39"><circle cx="491.6" cy="398.2" r="3.1"/><circle cx="491.4" cy="401.2" r="3.1"/></g><g fill="#482173" stroke="#482173" fill-opacity=".6" stroke-opacity=".6" stroke-width="1.39"><circle cx="493.6" cy="404.5" r="3.1"/><circle cx="493.5" cy="408.1" r="3.1"/><circle cx="493.2" cy="412.3" r="3.1"/><circle cx="494.6" cy="417" r="3.1"/></g><g fill="#482475" stroke="#482475" fill-opacity=".6" stroke-opacity=".6" stroke-width="1.39"><circle cx="496.2" cy="422.2" r="3.1"/><circle cx="495.4" cy="428" r="3.1"/><circle cx="494.6" cy="433" r="3.1"/></g><g fill="#482878" stroke="#482878" fill-opacity=".6" stroke-opacity=".6" stroke-width="1.39"><circle cx="495.1" cy="438.7" r="3.1"/><circle cx="495.8" cy="444.4" r="3.1"/><circle cx="496.6" cy="450.3" r="3.1"/></g><g fill="#472a7a" stroke="#472a7a" fill-opacity=".6" stroke-opacity=".6" stroke-width="1.39"><circle cx="496.7" cy="455.5" r="3.1"/><circle cx="497.1" cy="461.4" r="3.1"/><circle cx="496.7" cy="466.9" r="3.1"/></g><g fill="#472e7c" stroke="#472e7c" fill-opacity=".6" stroke-opacity=".6" stroke-width="1.39"><circle cx="498" cy="472.4" r="3.1"/><circle cx="498.7" cy="478.2" r="3.1"/><circle cx="497.5" cy="483.6" r="3.1"/></g><g fill="#46307e" stroke="#46307e" fill-opacity=".6" stroke-opacity=".6" stroke-width="1.39"><circle cx="497.6" cy="489.3" r="3.1"/><circle cx="497.8" cy="494.9" r="3.1"/><circle cx="498.7" cy="500.5" r="3.1"/></g><g fill="#463480" stroke="#463480" fill-opacity=".6" stroke-opacity=".6" stroke-width="1.39"><circle cx="498.9" cy="505.6" r="3.1"/><circle cx="500.6" cy="511.4" r="3.1"/><circle cx="501.2" cy="517.1" r="3.1"/></g><g fill="#453781" stroke="#453781" fill-opacity=".6" stroke-opacity=".6" stroke-width="1.39"><circle cx="501.8" cy="523" r="3.1"/><circle cx="502.5" cy="528.5" r="3.1"/><circle cx="502.5" cy="533.9" r="3.1"/></g><g fill="#443a83" stroke="#443a83" fill-opacity=".6" stroke-opacity=".6" stroke-width="1.39"><circle cx="503.9" cy="539.2" r="3.1"/><circle cx="504.7" cy="544.8" r="3.1"/><circle cx="506" cy="549.9" r="3.1"/></g><g fill="#433e85" stroke="#433e85" fill-opacity=".6" stroke-opacity=".6" stroke-width="1.39"><circle cx="505.9" cy="555.7" r="3.1"/><circle cx="507.2" cy="561.3" r="3.1"/><circle cx="507.9" cy="566.8" r="3.1"/></g><g fill="#424086" stroke="#424086" fill-opacity=".6" stroke-opacity=".6" stroke-width="1.39"><circle cx="509.2" cy="572.6" r="3.1"/><circle cx="509.9" cy="577.9" r="3.1"/><circle cx="510.7" cy="583.5" r="3.1"/></g><g fill="#414487" stroke="#414487" fill-opacity=".6" stroke-opacity=".6" stroke-width="1.39"><circle cx="512.9" cy="588.8" r="3.1"/></g><path class="d w" d="M457.4 315.5h0m1.1 1.5h0m.6 1.2h0m.8 1.1h0" stroke="#460b5e"/><path class="d w" d="M459.3 320.4h0m2.1 1h0m-.7 1.9h0m.7 .8h0m.2 1.5h0m1.1 .9h0m.2 1.4h0m.6 1.5h0m-.2 .6h0m.8 1.9h0m.7 .9h0m1.3 .9h0m-.2 1.4h0" stroke="#471063"/><path class="d w" d="M466 336.4h0m1.3 1h0m-.5 1.1h0m1 1.5h0m.5 1h0m.2 1.7h0m.8 1.1h0m.9 1h0m-.4 1.4h0m1.5 1.2h0m-.5 .7h0m.5 1.3h0m2.1 1.5h0m0 1.1h0" stroke="#471365"/><path class="d w" d="M474.4 353.1h0m.3 1.3h0m-.7 1h0m2.2 1.2h0m-.3 1.2h0m.3 1.5h0m.5 .8h0m-1 1.3h0m1 1h0m1.8 1.7h0m-1 1.2h0m1.6 .9h0m.5 1h0m-.5 1.3h0" stroke="#481769"/><path class="d w" d="M479.5 370.1h0m.3 .8h0m.6 1.5h0m.8 1.4h0m.2 .7h0m.5 1.5h0m.3 1.3h0m1.8 1h0m-.4 1.6h0m.2 .8h0m.3 1.4h0m1.3 1.1h0m.3 1.6h0m1 .7h0" stroke="#481a6c"/><path class="d w" d="M486.9 387.2h0m1 1.4h0m0 1.4h0m-.2 1.8h0m.9 2h0m.1 1.8h0" stroke="#481d6f"/><path class="d" d="M489.1 397.6h0m1.2 2.4h0" stroke="#481d6f" stroke-opacity=".8"/><path class="d" d="M490.5 402.4h0" stroke="#482173" stroke-opacity=".8"/><g fill="#482173" stroke="#482173" fill-opacity=".6" stroke-opacity=".6" stroke-width="1.39"><circle cx="490.7" cy="405.1" r="3.1"/><circle cx="491" cy="408.3" r="3.1"/><circle cx="492" cy="411.8" r="3.1"/><circle cx="492.1" cy="415.6" r="3.1"/></g><g fill="#482475" stroke="#482475" fill-opacity=".6" stroke-opacity=".6" stroke-width="1.39"><circle cx="492.9" cy="419.7" r="3.1"/><circle cx="493.8" cy="424.2" r="3.1"/><circle cx="494.1" cy="429.4" r="3.1"/><circle cx="494.6" cy="435" r="3.1"/></g><g fill="#482878" stroke="#482878" fill-opacity=".6" stroke-opacity=".6" stroke-width="1.39"><circle cx="496" cy="440.7" r="3.1"/><circle cx="496" cy="445.9" r="3.1"/><circle cx="496.9" cy="451.7" r="3.1"/></g><g fill="#472a7a" stroke="#472a7a" fill-opacity=".6" stroke-opacity=".6" stroke-width="1.39"><circle cx="497.9" cy="457.2" r="3.1"/><circle cx="497.7" cy="463" r="3.1"/></g><g fill="#472e7c" stroke="#472e7c" fill-opacity=".6" stroke-opacity=".6" stroke-width="1.39"><circle cx="497.8" cy="468.4" r="3.1"/><circle cx="499" cy="474.3" r="3.1"/><circle cx="498.7" cy="479.6" r="3.1"/></g><g fill="#46307e" stroke="#46307e" fill-opacity=".6" stroke-opacity=".6" stroke-width="1.39"><circle cx="498.4" cy="485.3" r="3.1"/><circle cx="499.6" cy="490.8" r="3.1"/><circle cx="500" cy="496.3" r="3.1"/></g><g fill="#463480" stroke="#463480" fill-opacity=".6" stroke-opacity=".6" stroke-width="1.39"><circle cx="500.9" cy="502" r="3.1"/><circle cx="502.4" cy="507.6" r="3.1"/><circle cx="501.3" cy="512.9" r="3.1"/></g><g fill="#453781" stroke="#453781" fill-opacity=".6" stroke-opacity=".6" stroke-width="1.39"><circle cx="501.5" cy="518.5" r="3.1"/><circle cx="502.6" cy="524.3" r="3.1"/><circle cx="502" cy="529.9" r="3.1"/></g><g fill="#443a83" stroke="#443a83" fill-opacity=".6" stroke-opacity=".6" stroke-width="1.39"><circle cx="502.1" cy="535.1" r="3.1"/><circle cx="502.8" cy="540.8" r="3.1"/><circle cx="505.4" cy="546.2" r="3.1"/></g><g fill="#433e85" stroke="#433e85" fill-opacity=".6" stroke-opacity=".6" stroke-width="1.39"><circle cx="506.7" cy="552.2" r="3.1"/><circle cx="507.3" cy="557.5" r="3.1"/><circle cx="508.3" cy="563" r="3.1"/></g><g fill="#424086" stroke="#424086" fill-opacity=".6" stroke-opacity=".6" stroke-width="1.39"><circle cx="509.9" cy="568.5" r="3.1"/><circle cx="510.8" cy="574.2" r="3.1"/><circle cx="511.1" cy="579.6" r="3.1"/></g><g fill="#414487" stroke="#414487" fill-opacity=".6" stroke-opacity=".6" stroke-width="1.39"><circle cx="511.5" cy="585.1" r="3.1"/><circle cx="511.8" cy="590.6" r="3.1"/></g><g fill="#482173" stroke="#482173" fill-opacity=".6" stroke-opacity=".6" stroke-width="1.39"><circle cx="497.3" cy="406.8" r="3.1"/><circle cx="496.5" cy="412.5" r="3.1"/><circle cx="497" cy="417.8" r="3.1"/></g><g fill="#482475" stroke="#482475" fill-opacity=".6" stroke-opacity=".6" stroke-width="1.39"><circle cx="498.4" cy="423.2" r="3.1"/><circle cx="500.3" cy="429" r="3.1"/><circle cx="501.8" cy="434.7" r="3.1"/></g><g fill="#482878" stroke="#482878" fill-opacity=".6" stroke-opacity=".6" stroke-width="1.39"><circle cx="502.2" cy="440.2" r="3.1"/><circle cx="501.6" cy="445.9" r="3.1"/><circle cx="502" cy="451.1" r="3.1"/></g><g fill="#472a7a" stroke="#472a7a" fill-opacity=".6" stroke-opacity=".6" stroke-width="1.39"><circle cx="503.5" cy="457" r="3.1"/><circle cx="503.1" cy="462.6" r="3.1"/><circle cx="504.1" cy="467.7" r="3.1"/></g><g fill="#472e7c" stroke="#472e7c" fill-opacity=".6" stroke-opacity=".6" stroke-width="1.39"><circle cx="504.1" cy="473.3" r="3.1"/><circle cx="504.8" cy="479" r="3.1"/></g><g fill="#46307e" stroke="#46307e" fill-opacity=".6" stroke-opacity=".6" stroke-width="1.39"><circle cx="506.1" cy="484.8" r="3.1"/><circle cx="505.3" cy="490.3" r="3.1"/><circle cx="505.5" cy="495.9" r="3.1"/></g><g fill="#463480" stroke="#463480" fill-opacity=".6" stroke-opacity=".6" stroke-width="1.39"><circle cx="506.9" cy="501.5" r="3.1"/><circle cx="505.8" cy="507" r="3.1"/><circle cx="507.6" cy="512.7" r="3.1"/></g><g fill="#453781" stroke="#453781" fill-opacity=".6" stroke-opacity=".6" stroke-width="1.39"><circle cx="508.4" cy="517.9" r="3.1"/><circle cx="508.4" cy="523.6" r="3.1"/><circle cx="508.6" cy="529.5" r="3.1"/></g><g fill="#443a83" stroke="#443a83" fill-opacity=".6" stroke-opacity=".6" stroke-width="1.39"><circle cx="509.2" cy="534.8" r="3.1"/><circle cx="509.7" cy="540.2" r="3.1"/><circle cx="509.8" cy="546.2" r="3.1"/></g><g fill="#433e85" stroke="#433e85" fill-opacity=".6" stroke-opacity=".6" stroke-width="1.39"><circle cx="511.6" cy="551.2" r="3.1"/><circle cx="512.1" cy="557.1" r="3.1"/><circle cx="514.5" cy="562.8" r="3.1"/></g><g fill="#424086" stroke="#424086" fill-opacity=".6" stroke-opacity=".6" stroke-width="1.39"><circle cx="515" cy="567.6" r="3.1"/><circle cx="515.5" cy="573.7" r="3.1"/><circle cx="516.8" cy="579.2" r="3.1"/></g><g fill="#414487" stroke="#414487" fill-opacity=".6" stroke-opacity=".6" stroke-width="1.39"><circle cx="517.4" cy="585" r="3.1"/><circle cx="519.4" cy="590.1" r="3.1"/><circle cx="519" cy="596.1" r="3.1"/></g><path class="d w" d="M450.7 323.1h0m-.3 1.3h0m.7 1.4h0m1.3 1.3h0m-.5 1.3h0m.5 .9h0m1.8 1.1h0m-.9 1.4h0m.3 .8h0m1.5 1.5h0m-.3 1.3h0" stroke="#471063"/><path class="d w" d="M455.1 336.5h0m1.1 1.9h0m.8 .8h0m-.7 1h0m.7 1.4h0m.9 1h0m.5 1.1h0m-.3 1.4h0m.5 .8h0m1 1.3h0m.7 1.6h0m.4 1h0m.4 1.3h0m-.6 1.1h0" stroke="#471365"/><path class="d w" d="M461.4 353.1h0m.9 1.4h0m.7 1.5h0m-1 .9h0m2.6 1.4h0m.3 1.1h0m-1 1h0m1.6 1.6h0m-.2 .9h0m1.1 1h0m.3 1.8h0m1.8 .9h0m.4 1.1h0m-.7 .9h0" stroke="#481769"/><path class="d w" d="M469.6 370.2h0m1.3 1.3h0m-.5 .8h0m1.2 1.5h0m-.3 .9h0m1.1 1.8h0m-.3 1h0m1 1.4h0m.3 1.4h0m.3 .7h0m.3 .9h0m.3 1.9h0m.9 .8h0m.5 1h0" stroke="#481a6c"/><path class="d w" d="M475.7 387.3h0m.9 1h0m.5 1.7h0m-.5 1.1h0m-.5 .7h0m1.2 1.7h0m-.1 1.2h0m-.1 1.7h0m1.2 1.2h0m-1.5 1.9h0m1.4 1.5h0" stroke="#481d6f"/><path class="d w" d="M478.3 403.1h0m.3 1.5h0" stroke="#482173"/><path class="d" d="M478 406.4h0m1.1 2.3h0m1.1 2.3h0m1.3 2.5h0" stroke="#482173" stroke-opacity=".8"/><g fill="#482173" stroke="#482173" fill-opacity=".6" stroke-opacity=".6" stroke-width="1.39"><circle cx="481.1" cy="416.7" r="3.1"/></g><g fill="#482475" stroke="#482475" fill-opacity=".6" stroke-opacity=".6" stroke-width="1.39"><circle cx="481.4" cy="419.9" r="3.1"/><circle cx="483.1" cy="423.2" r="3.1"/><circle cx="484.3" cy="427.2" r="3.1"/><circle cx="484.1" cy="431.3" r="3.1"/></g><g fill="#482878" stroke="#482878" fill-opacity=".6" stroke-opacity=".6" stroke-width="1.39"><circle cx="483.7" cy="436.2" r="3.1"/><circle cx="485" cy="441.7" r="3.1"/><circle cx="486.5" cy="446.8" r="3.1"/></g><g fill="#472a7a" stroke="#472a7a" fill-opacity=".6" stroke-opacity=".6" stroke-width="1.39"><circle cx="486.9" cy="452.4" r="3.1"/><circle cx="489.4" cy="458.2" r="3.1"/><circle cx="489.6" cy="463.7" r="3.1"/></g><g fill="#472e7c" stroke="#472e7c" fill-opacity=".6" stroke-opacity=".6" stroke-width="1.39"><circle cx="491.3" cy="469.3" r="3.1"/><circle cx="491.6" cy="474.6" r="3.1"/><circle cx="492.5" cy="480.6" r="3.1"/></g><g fill="#46307e" stroke="#46307e" fill-opacity=".6" stroke-opacity=".6" stroke-width="1.39"><circle cx="493.2" cy="486.2" r="3.1"/><circle cx="494" cy="491.3" r="3.1"/><circle cx="496" cy="496.8" r="3.1"/></g><g fill="#463480" stroke="#463480" fill-opacity=".6" stroke-opacity=".6" stroke-width="1.39"><circle cx="496.9" cy="502.2" r="3.1"/><circle cx="497.6" cy="508" r="3.1"/><circle cx="499" cy="513.4" r="3.1"/></g><g fill="#453781" stroke="#453781" fill-opacity=".6" stroke-opacity=".6" stroke-width="1.39"><circle cx="499.9" cy="518.7" r="3.1"/><circle cx="498.9" cy="524.9" r="3.1"/><circle cx="498.7" cy="529.8" r="3.1"/></g><g fill="#443a83" stroke="#443a83" fill-opacity=".6" stroke-opacity=".6" stroke-width="1.39"><circle cx="499.8" cy="535.9" r="3.1"/><circle cx="499.1" cy="541.5" r="3.1"/><circle cx="500.4" cy="546.6" r="3.1"/></g><g fill="#433e85" stroke="#433e85" fill-opacity=".6" stroke-opacity=".6" stroke-width="1.39"><circle cx="502.3" cy="552.3" r="3.1"/><circle cx="503.1" cy="557.8" r="3.1"/><circle cx="504.1" cy="563.4" r="3.1"/></g><g fill="#424086" stroke="#424086" fill-opacity=".6" stroke-opacity=".6" stroke-width="1.39"><circle cx="505.2" cy="569.1" r="3.1"/><circle cx="505.5" cy="574.2" r="3.1"/><circle cx="505.7" cy="579.9" r="3.1"/></g><g fill="#414487" stroke="#414487" fill-opacity=".6" stroke-opacity=".6" stroke-width="1.39"><circle cx="508" cy="585.6" r="3.1"/><circle cx="508.2" cy="591.2" r="3.1"/><circle cx="509.3" cy="596.7" r="3.1"/></g><path class="d" d="M496.7 290h0m.3 1.2h0m.2 1.1h0m.3 1.2h0m.3 1.2h0m.2 1.2h0m.3 1.1h0" stroke="#440154"/><path class="d" d="M541 295h0m.5 1.5h0m.4 1.6h0" stroke="#46085c" stroke-opacity=".9"/><path class="d" d="M542.4 299.8h0m.5 1.8h0" stroke="#46085c" stroke-opacity=".9"/><path class="d" d="M543.5 303.4h0m.5 1.9h0m.6 2h0" stroke="#460b5e" stroke-opacity=".9"/><path class="d" d="M545.2 309.3h0m.6 2.2h0m.6 2.3h0m.5 2.4h0" stroke="#460b5e" stroke-opacity=".8"/><path class="d" d="M547.4 318.7h0m.5 2.6h0m.6 2.7h0m.6 2.9h0" stroke="#471063" stroke-opacity=".8"/><path class="d" d="M549.5 329.9h0" stroke="#471063" stroke-opacity=".8"/><g fill="#471365" stroke="#471365" fill-opacity=".8" stroke-opacity=".8" stroke-width="1.39"><circle cx="549.7" cy="333" r="3.1"/><circle cx="550" cy="336.3" r="3.1"/></g><g fill="#471365" stroke="#471365" fill-opacity=".7" stroke-opacity=".7" stroke-width="1.39"><circle cx="550.3" cy="339.7" r="3.1"/><circle cx="550.6" cy="343.3" r="3.1"/><circle cx="550.9" cy="347" r="3.1"/></g><g fill="#481769" stroke="#481769" fill-opacity=".7" stroke-opacity=".7" stroke-width="1.39"><circle cx="551.2" cy="350.9" r="3.1"/><circle cx="551.4" cy="355" r="3.1"/></g><g fill="#481769" stroke="#481769" fill-opacity=".6" stroke-opacity=".6" stroke-width="1.39"><circle cx="551.5" cy="359.3" r="3.1"/><circle cx="551.7" cy="363.7" r="3.1"/></g><g fill="#481a6c" stroke="#481a6c" fill-opacity=".6" stroke-opacity=".6" stroke-width="1.39"><circle cx="551.9" cy="368.4" r="3.1"/></g><path class="d w" d="M438.7 333.3h0m1.3 1.4h0m.6 1.3h0m.1 1.5h0m.9 .9h0m-.1 1.3h0" stroke="#46085c"/><path class="d w" d="M442.5 341h0m1 1.8h0m2 1.1h0m-1.3 .8h0m.1 1.5h0m-.2 1.2h0m1.5 1.5h0m-.9 1.4h0m.9 1.8h0m1.1 .3h0m-.3 2.1h0m2 1.2h0" stroke="#460b5e"/><path class="d w" d="M448.8 356.8h0m-.2 1.5h0m.7 1.2h0m.4 1.5h0m.7 1.7h0m1.7 .7h0m1 2.1h0m.7 1h0m.7 1.8h0m.4 1.2h0m1.2 1.6h0m-.1 1.3h0" stroke="#471063"/><path class="d w" d="M457.4 373.9h0m1.4 1.2h0m.6 1.3h0m-.3 1.8h0m.7 1.5h0m1.4 1.9h0m.7 .6h0m-1.2 2h0m1.1 1.9h0m.8 1.1h0" stroke="#471365"/><path class="d w" d="M463.7 389.1h0m-.4 2.2h0m1.4 1.5h0m.2 1.1h0m2.1 2.3h0m-.2 1.7h0m.5 1.6h0m.8 1.7h0m1.6 1.8h0" stroke="#481769"/><path class="d w" d="M470.3 404.5h0m-.1 2h0m1.5 2.2h0" stroke="#481a6c"/><g fill="#481a6c" stroke="#481a6c" fill-opacity=".9" stroke-opacity=".9" stroke-width="1.39"><circle cx="471.6" cy="410.5" r="3.1"/><circle cx="472.6" cy="412.8" r="3.1"/><circle cx="473" cy="414.3" r="3.1"/></g><path class="d" d="M473.7 415.8h0m1 2.5h0m.4 2.2h0" stroke="#481a6c" stroke-opacity=".9"/><path class="d" d="M476.5 422.7h0m.7 2h0m0 1.9h0m.2 2.8h0m1.5 1.7h0m-.8 2.6h0m.7 2h0" stroke="#481d6f" stroke-opacity=".9"/><path class="d" d="M480.7 437.9h0m.6 3h0m.9 1.5h0m.1 2.9h0m.3 2.8h0m1.2 2.4h0m1.4 2.9h0" stroke="#482173" stroke-opacity=".9"/><path class="d" d="M485.4 455.8h0m.9 2.6h0" stroke="#482475" stroke-opacity=".9"/><path class="d" d="M486.9 461.8h0m1.1 2.3h0m2 2.8h0m.8 2.7h0" stroke="#482475" stroke-opacity=".9"/><path class="d" d="M490.9 472.6h0" stroke="#482878" stroke-opacity=".9"/><g fill="#482878" stroke="#482878" fill-opacity=".9" stroke-opacity=".9" stroke-width="1.39"><circle cx="491.9" cy="476" r="3.1"/><circle cx="493.1" cy="479.1" r="3.1"/><circle cx="494.5" cy="482.1" r="3.1"/><circle cx="494.5" cy="485.1" r="3.1"/></g><g fill="#472a7a" stroke="#472a7a" fill-opacity=".9" stroke-opacity=".9" stroke-width="1.39"><circle cx="495.9" cy="488.7" r="3.1"/><circle cx="495.8" cy="491.5" r="3.1"/></g><g fill="#472a7a" stroke="#472a7a" fill-opacity=".8" stroke-opacity=".8" stroke-width="1.39"><circle cx="497" cy="495.3" r="3.1"/><circle cx="498.6" cy="498.8" r="3.1"/><circle cx="499.5" cy="502.3" r="3.1"/></g><g fill="#472e7c" stroke="#472e7c" fill-opacity=".8" stroke-opacity=".8" stroke-width="1.39"><circle cx="499.3" cy="506.2" r="3.1"/><circle cx="500.3" cy="509.8" r="3.1"/><circle cx="501.9" cy="513.7" r="3.1"/><circle cx="502.2" cy="518.3" r="3.1"/></g><g fill="#46307e" stroke="#46307e" fill-opacity=".8" stroke-opacity=".8" stroke-width="1.39"><circle cx="503.1" cy="522.1" r="3.1"/><circle cx="504.7" cy="526.4" r="3.1"/><circle cx="505.6" cy="530.3" r="3.1"/><circle cx="507.1" cy="535" r="3.1"/></g><g fill="#463480" stroke="#463480" fill-opacity=".8" stroke-opacity=".8" stroke-width="1.39"><circle cx="507.9" cy="539.5" r="3.1"/><circle cx="508.3" cy="544.2" r="3.1"/></g><g fill="#463480" stroke="#463480" fill-opacity=".8" stroke-opacity=".8" stroke-width="1.39"><circle cx="509.6" cy="549.3" r="3.1"/><circle cx="510.8" cy="553.5" r="3.1"/></g><g fill="#453781" stroke="#453781" fill-opacity=".8" stroke-opacity=".8" stroke-width="1.39"><circle cx="511.3" cy="558.6" r="3.1"/><circle cx="512.9" cy="563.7" r="3.1"/></g><g fill="#453781" stroke="#453781" fill-opacity=".7" stroke-opacity=".7" stroke-width="1.39"><circle cx="515.3" cy="568" r="3.1"/></g><g fill="#443a83" stroke="#443a83" fill-opacity=".7" stroke-opacity=".7" stroke-width="1.39"><circle cx="515.6" cy="573.9" r="3.1"/><circle cx="518.4" cy="579.8" r="3.1"/></g><g fill="#443a83" stroke="#443a83" fill-opacity=".7" stroke-opacity=".7" stroke-width="1.39"><circle cx="519.5" cy="585.7" r="3.1"/></g><path class="d w" d="M460.1 391.4h0m-.5 1.8h0m1.4 1.2h0m.6 1.6h0m-.3 1.4h0m-.3 .9h0m1.7 1.9h0m-.4 .7h0m.4 1h0m.7 1.2h0m.2 2.3h0m1.4 1h0" stroke="#481769"/><path class="d w" d="M465.4 407.6h0m.9 1.3h0m.3 1.3h0m0 2h0m.9 1h0m1.1 1.9h0m0 1h0m2.3 .9h0m-1 2.3h0m.4 1.2h0m1.5 1.5h0" stroke="#481a6c"/><path class="d w" d="M472.1 424h0m.2 1h0m.4 1.9h0m.8 1.3h0m.7 1.4h0m.4 1.9h0m-.1 1.4h0m.8 2.1h0m.6 1.6h0m.4 1.5h0" stroke="#481d6f"/><path class="d w" d="M474.8 439.9h0m1.6 1.7h0m.5 1.6h0m.7 2.1h0m.7 1.6h0m.9 2h0m.4 1.5h0" stroke="#482173"/><g fill="#482173" stroke="#482173" fill-opacity=".9" stroke-opacity=".9" stroke-width="1.39"><circle cx="479.8" cy="452.6" r="3.1"/><circle cx="480.6" cy="454.6" r="3.1"/></g><g fill="#482475" stroke="#482475" fill-opacity=".9" stroke-opacity=".9" stroke-width="1.39"><circle cx="482.1" cy="456.3" r="3.1"/></g><path class="d" d="M481.6 458.4h0m1.2 2.1h0m1.4 2.4h0m.2 1.8h0m-.4 2.4h0m2 2.5h0m.4 2h0" stroke="#482475" stroke-opacity=".9"/><path class="d" d="M487.3 473.4h0m1.4 2.8h0m.4 2.6h0m.4 2.2h0m1.3 2.8h0m.5 2.5h0" stroke="#482878" stroke-opacity=".9"/><path class="d" d="M491.9 488.8h0m.8 2.5h0" stroke="#472a7a" stroke-opacity=".9"/><path class="d" d="M493.4 494h0m.4 2.9h0m.6 3h0m.9 3.1h0" stroke="#472a7a" stroke-opacity=".9"/><g fill="#472e7c" stroke="#472e7c" fill-opacity=".9" stroke-opacity=".9" stroke-width="1.39"><circle cx="495.5" cy="506" r="3.1"/><circle cx="496" cy="509" r="3.1"/><circle cx="498.1" cy="512.3" r="3.1"/><circle cx="498.1" cy="515.7" r="3.1"/></g><g fill="#472e7c" stroke="#472e7c" fill-opacity=".8" stroke-opacity=".8" stroke-width="1.39"><circle cx="499" cy="518.6" r="3.1"/></g><g fill="#46307e" stroke="#46307e" fill-opacity=".8" stroke-opacity=".8" stroke-width="1.39"><circle cx="499.9" cy="522.3" r="3.1"/><circle cx="500.9" cy="525.9" r="3.1"/><circle cx="501.9" cy="529.8" r="3.1"/><circle cx="502.9" cy="533.6" r="3.1"/><circle cx="503.4" cy="537.6" r="3.1"/></g><g fill="#463480" stroke="#463480" fill-opacity=".8" stroke-opacity=".8" stroke-width="1.39"><circle cx="505.2" cy="541.5" r="3.1"/><circle cx="505.4" cy="546.2" r="3.1"/><circle cx="507.2" cy="550.4" r="3.1"/><circle cx="506.8" cy="554.5" r="3.1"/></g><g fill="#453781" stroke="#453781" fill-opacity=".8" stroke-opacity=".8" stroke-width="1.39"><circle cx="508.3" cy="559.5" r="3.1"/><circle cx="510.4" cy="564.1" r="3.1"/><circle cx="511" cy="569.7" r="3.1"/></g><g fill="#443a83" stroke="#443a83" fill-opacity=".8" stroke-opacity=".8" stroke-width="1.39"><circle cx="511.9" cy="574.3" r="3.1"/></g><g fill="#443a83" stroke="#443a83" fill-opacity=".7" stroke-opacity=".7" stroke-width="1.39"><circle cx="513.7" cy="579.7" r="3.1"/><circle cx="514.2" cy="585.3" r="3.1"/></g><g fill="#433e85" stroke="#433e85" fill-opacity=".7" stroke-opacity=".7" stroke-width="1.39"><circle cx="516" cy="591" r="3.1"/></g><path class="d w" d="M434.8 341.5h0m.7 1.7h0m.5 1.3h0m-.7 .7h0m1.7 1.4h0m-.1 1.4h0m.5 1.2h0m-.5 1.5h0m1.3 1.3h0m.2 1.2h0m0 1.7h0m2 1.4h0" stroke="#460b5e"/><path class="d w" d="M440.1 357.2h0m.2 1.5h0m.8 1.5h0m1 1.3h0m.8 1.2h0m.4 1.8h0m1 1.4h0m.8 1.3h0m-.7 1.2h0m1.1 1.9h0m.4 1.4h0m1.2 .9h0" stroke="#471063"/><path class="d w" d="M448.3 374.1h0m.2 1.7h0m-.3 1h0m.9 1.7h0m1.2 1.4h0m-.3 1.3h0m.6 1.6h0m.7 1.2h0m-.6 1.8h0m1.8 1.2h0m.3 2.6h0" stroke="#471365"/><path class="d w" d="M453.4 391h0m-.3 1.5h0m.7 1.4h0m.7 1.8h0m1 1.7h0m.6 1.6h0m.8 1.6h0m1.5 1.3h0m.5 2h0m-.2 1.5h0" stroke="#481769"/><path class="d w" d="M459.6 407h0m1.9 1.8h0m-.2 2.1h0m1.7 2h0m.9 1.3h0m-.3 2.6h0" stroke="#481a6c"/><g fill="#481a6c" stroke="#481a6c" fill-opacity=".9" stroke-opacity=".9" stroke-width="1.39"><circle cx="464.5" cy="418.6" r="3.1"/><circle cx="465.4" cy="420.1" r="3.1"/></g><g fill="#481d6f" stroke="#481d6f" fill-opacity=".9" stroke-opacity=".9" stroke-width="1.39"><circle cx="465.6" cy="422" r="3.1"/><circle cx="466.1" cy="424.1" r="3.1"/></g><path class="d" d="M467 426.4h0m1.2 1.7h0m0 1.9h0m.7 2.5h0m.4 1.5h0m.1 2.8h0" stroke="#481d6f" stroke-opacity=".9"/><path class="d" d="M471.5 439.2h0m-1.3 2h0m1.5 2.4h0m1.3 2.3h0m-.2 2.4h0m1.7 2.3h0m1.1 2.2h0" stroke="#482173" stroke-opacity=".9"/><path class="d" d="M475.4 455.4h0m1.4 2.6h0m.2 2.9h0m1.7 2.7h0m.8 2.4h0" stroke="#482475" stroke-opacity=".9"/><path class="d" d="M480.5 468.4h0" stroke="#482475" stroke-opacity=".9"/><path class="d" d="M482.1 471.2h0m.6 2.9h0m1.4 3.3h0m.7 2.7h0m.1 2.8h0" stroke="#482878" stroke-opacity=".9"/><g fill="#482878" stroke="#482878" fill-opacity=".9" stroke-opacity=".9" stroke-width="1.39"><circle cx="486.6" cy="485.8" r="3.1"/></g><g fill="#472a7a" stroke="#472a7a" fill-opacity=".9" stroke-opacity=".9" stroke-width="1.39"><circle cx="487.8" cy="489.3" r="3.1"/><circle cx="487.8" cy="492.4" r="3.1"/><circle cx="490.2" cy="495.5" r="3.1"/><circle cx="490.5" cy="498.9" r="3.1"/></g><g fill="#472a7a" stroke="#472a7a" fill-opacity=".8" stroke-opacity=".8" stroke-width="1.39"><circle cx="491.7" cy="502.6" r="3.1"/></g><g fill="#472e7c" stroke="#472e7c" fill-opacity=".8" stroke-opacity=".8" stroke-width="1.39"><circle cx="492" cy="505.6" r="3.1"/><circle cx="493.3" cy="509.7" r="3.1"/><circle cx="494.3" cy="513.2" r="3.1"/><circle cx="494.8" cy="516.7" r="3.1"/><circle cx="495.9" cy="520.8" r="3.1"/></g><g fill="#46307e" stroke="#46307e" fill-opacity=".8" stroke-opacity=".8" stroke-width="1.39"><circle cx="495.7" cy="524.4" r="3.1"/><circle cx="498.5" cy="528.3" r="3.1"/></g><g fill="#46307e" stroke="#46307e" fill-opacity=".8" stroke-opacity=".8" stroke-width="1.39"><circle cx="498.3" cy="532.5" r="3.1"/><circle cx="498.7" cy="536.6" r="3.1"/></g><g fill="#463480" stroke="#463480" fill-opacity=".8" stroke-opacity=".8" stroke-width="1.39"><circle cx="500.2" cy="541.4" r="3.1"/><circle cx="501.2" cy="545.8" r="3.1"/><circle cx="502.8" cy="550.5" r="3.1"/></g><g fill="#453781" stroke="#453781" fill-opacity=".8" stroke-opacity=".8" stroke-width="1.39"><circle cx="503.1" cy="555.4" r="3.1"/><circle cx="504.8" cy="559.3" r="3.1"/><circle cx="505.3" cy="565.1" r="3.1"/><circle cx="508" cy="569.8" r="3.1"/></g><g fill="#443a83" stroke="#443a83" fill-opacity=".7" stroke-opacity=".7" stroke-width="1.39"><circle cx="508.3" cy="575.5" r="3.1"/><circle cx="510.2" cy="580.7" r="3.1"/><circle cx="509.8" cy="586.6" r="3.1"/></g><g fill="#433e85" stroke="#433e85" fill-opacity=".7" stroke-opacity=".7" stroke-width="1.39"><circle cx="511.9" cy="592.7" r="3.1"/></g><path class="d w" d="M452.9 403.7h0m-.5 1.3h0m1.8 1.6h0" stroke="#481769"/><path class="d w" d="M454.4 407.9h0m.3 1h0m.5 1.6h0m2.6 1.5h0m-1.2 1h0m-.1 1.4h0m1.1 1.9h0m.9 1.3h0m.6 .7h0m.7 1.4h0m.2 1.9h0m1.3 1h0" stroke="#481a6c"/><path class="d w" d="M461.4 424.2h0m.1 1.4h0m.7 1.7h0m.7 .7h0m1.1 1.5h0m.3 1.8h0m0 2.1h0m.6 1.2h0m.4 1.2h0m1.4 2.2h0m-.9 1.6h0" stroke="#481d6f"/><path class="d w" d="M466.7 441h0m.6 1.7h0m-.3 1.9h0m1.1 1.9h0m.5 1.4h0m.3 1.9h0m1.1 1.7h0m.9 1.7h0m.8 1.7h0" stroke="#482173"/><g fill="#482475" stroke="#482475" fill-opacity=".9" stroke-opacity=".9" stroke-width="1.39"><circle cx="471.8" cy="457.1" r="3.1"/><circle cx="472.7" cy="458.9" r="3.1"/><circle cx="474.6" cy="460.9" r="3.1"/></g><path class="d" d="M473.6 463.3h0m1.4 1.9h0m1.2 2.2h0m.4 1.6h0m1 2.7h0" stroke="#482475" stroke-opacity=".9"/><path class="d" d="M478.1 473.7h0m1.1 2.3h0m1 2.3h0m0 3h0m.9 2.3h0m.6 2.2h0m.6 2.5h0" stroke="#482878" stroke-opacity=".9"/><path class="d" d="M483.2 491.3h0" stroke="#472a7a" stroke-opacity=".9"/><path class="d" d="M483.3 494h0m1.7 3.3h0m1.2 2.2h0" stroke="#472a7a" stroke-opacity=".9"/><g fill="#472a7a" stroke="#472a7a" fill-opacity=".9" stroke-opacity=".9" stroke-width="1.39"><circle cx="487" cy="502.4" r="3.1"/></g><g fill="#472e7c" stroke="#472e7c" fill-opacity=".9" stroke-opacity=".9" stroke-width="1.39"><circle cx="487.6" cy="505.9" r="3.1"/><circle cx="487.3" cy="509.1" r="3.1"/><circle cx="489.4" cy="512.5" r="3.1"/></g><g fill="#472e7c" stroke="#472e7c" fill-opacity=".8" stroke-opacity=".8" stroke-width="1.39"><circle cx="489.2" cy="516" r="3.1"/><circle cx="490.4" cy="519.9" r="3.1"/></g><g fill="#46307e" stroke="#46307e" fill-opacity=".8" stroke-opacity=".8" stroke-width="1.39"><circle cx="492.2" cy="523" r="3.1"/><circle cx="491.7" cy="526.7" r="3.1"/><circle cx="493.6" cy="530.4" r="3.1"/></g><g fill="#46307e" stroke="#46307e" fill-opacity=".8" stroke-opacity=".8" stroke-width="1.39"><circle cx="494.3" cy="534.9" r="3.1"/></g><g fill="#463480" stroke="#463480" fill-opacity=".8" stroke-opacity=".8" stroke-width="1.39"><circle cx="495.2" cy="539.3" r="3.1"/><circle cx="496" cy="543.4" r="3.1"/><circle cx="497.8" cy="548.3" r="3.1"/></g><g fill="#463480" stroke="#463480" fill-opacity=".8" stroke-opacity=".8" stroke-width="1.39"><circle cx="498.4" cy="552.7" r="3.1"/></g><g fill="#453781" stroke="#453781" fill-opacity=".8" stroke-opacity=".8" stroke-width="1.39"><circle cx="500.4" cy="558" r="3.1"/><circle cx="501.7" cy="562.9" r="3.1"/></g><g fill="#453781" stroke="#453781" fill-opacity=".7" stroke-opacity=".7" stroke-width="1.39"><circle cx="501.6" cy="567.8" r="3.1"/></g><g fill="#443a83" stroke="#443a83" fill-opacity=".7" stroke-opacity=".7" stroke-width="1.39"><circle cx="503.3" cy="573.5" r="3.1"/></g><g fill="#443a83" stroke="#443a83" fill-opacity=".7" stroke-opacity=".7" stroke-width="1.39"><circle cx="504.7" cy="579" r="3.1"/></g><path class="d w" d="M429 351.2h0m1.1 .5h0m-.5 1.6h0m.4 1.5h0m.1 1.4h0m1.6 1.6h0" stroke="#460b5e"/><path class="d w" d="M432 358.3h0m.1 1.8h0m1.2 1.5h0m.6 .8h0m-.6 1.6h0m1.9 1.9h0m.3 1.2h0m.3 1.2h0m.5 .5h0m1.6 2h0m.4 1.5h0m.7 1.3h0" stroke="#471063"/><path class="d w" d="M438 375h0m.7 2.2h0m1.2 .6h0m-.6 1.3h0m.7 1.7h0m-.2 1.3h0m2.3 1.5h0m0 1.5h0m.1 1.7h0m.3 1.4h0m.1 1.1h0" stroke="#471365"/><path class="d w" d="M443.1 391.1h0m1.1 1.6h0m-.1 1.3h0m1.6 1.9h0m-.2 1.5h0m.5 1.1h0m1.8 1.9h0m0 2h0m1.1 1.5h0m.3 1.2h0" stroke="#481769"/><path class="d w" d="M449.1 407h0m2.2 1.2h0m-.1 1.5h0m2.1 2.2h0m-.5 1.6h0m.7 1.9h0m1.8 1.6h0m.8 1.9h0m.6 1.7h0" stroke="#481a6c"/><path class="d w" d="M456.7 422.7h0" stroke="#481d6f"/><g fill="#481d6f" stroke="#481d6f" fill-opacity=".9" stroke-opacity=".9" stroke-width="1.39"><circle cx="458.5" cy="424.7" r="3.1"/><circle cx="458" cy="426.4" r="3.1"/><circle cx="459.2" cy="428.5" r="3.1"/><circle cx="459.7" cy="429.8" r="3.1"/></g><path class="d" d="M460.6 432.1h0m1.3 2.6h0m-.1 2.1h0" stroke="#481d6f" stroke-opacity=".9"/><path class="d" d="M463 438.5h0m.8 2.1h0m-.6 1.9h0m1 2.6h0m1 2.3h0m.6 1.7h0m1.2 2.9h0m-.4 2.3h0" stroke="#482173" stroke-opacity=".9"/><path class="d" d="M468.7 456.7h0m.8 2.1h0m.3 2.9h0m.3 2h0m1.6 3.4h0m.7 2.3h0" stroke="#482475" stroke-opacity=".9"/><path class="d" d="M473.9 471.7h0" stroke="#482878" stroke-opacity=".9"/><path class="d" d="M474.6 475.1h0m1.4 2.8h0m.5 2.4h0m2 3.6h0m-.9 2.2h0" stroke="#482878" stroke-opacity=".9"/><g fill="#472a7a" stroke="#472a7a" fill-opacity=".9" stroke-opacity=".9" stroke-width="1.39"><circle cx="479.4" cy="489.5" r="3.1"/><circle cx="481.2" cy="492.8" r="3.1"/><circle cx="481.3" cy="495.1" r="3.1"/><circle cx="483.5" cy="499.2" r="3.1"/><circle cx="483.6" cy="502.3" r="3.1"/></g><g fill="#472e7c" stroke="#472e7c" fill-opacity=".8" stroke-opacity=".8" stroke-width="1.39"><circle cx="485.2" cy="505.7" r="3.1"/><circle cx="485.6" cy="509" r="3.1"/><circle cx="486.8" cy="513" r="3.1"/><circle cx="488" cy="516.3" r="3.1"/><circle cx="488.9" cy="520.1" r="3.1"/></g><g fill="#46307e" stroke="#46307e" fill-opacity=".8" stroke-opacity=".8" stroke-width="1.39"><circle cx="489.7" cy="524.1" r="3.1"/><circle cx="491.9" cy="527.9" r="3.1"/></g><g fill="#46307e" stroke="#46307e" fill-opacity=".8" stroke-opacity=".8" stroke-width="1.39"><circle cx="491.7" cy="532.7" r="3.1"/><circle cx="491.9" cy="536.2" r="3.1"/></g><g fill="#463480" stroke="#463480" fill-opacity=".8" stroke-opacity=".8" stroke-width="1.39"><circle cx="493.6" cy="540.7" r="3.1"/><circle cx="494.3" cy="545.3" r="3.1"/><circle cx="495.4" cy="549.9" r="3.1"/></g><g fill="#463480" stroke="#463480" fill-opacity=".8" stroke-opacity=".8" stroke-width="1.39"><circle cx="496.5" cy="554.8" r="3.1"/></g><g fill="#453781" stroke="#453781" fill-opacity=".8" stroke-opacity=".8" stroke-width="1.39"><circle cx="496" cy="559.7" r="3.1"/><circle cx="498" cy="564.4" r="3.1"/><circle cx="499.1" cy="569.4" r="3.1"/></g><g fill="#443a83" stroke="#443a83" fill-opacity=".7" stroke-opacity=".7" stroke-width="1.39"><circle cx="499.7" cy="574.8" r="3.1"/><circle cx="501" cy="580.4" r="3.1"/><circle cx="500.6" cy="585.9" r="3.1"/></g><g fill="#433e85" stroke="#433e85" fill-opacity=".7" stroke-opacity=".7" stroke-width="1.39"><circle cx="503.2" cy="591.3" r="3.1"/></g><path class="d w" d="M448.6 413.8h0m.3 1.7h0m.6 1.2h0m.1 1h0m.3 1.8h0m.9 1.1h0m.5 1.4h0m.3 1.4h0" stroke="#481a6c"/><path class="d w" d="M451.7 424.6h0m1 1.3h0m.9 1.6h0m-.1 1.1h0m.6 1.5h0m-.6 1.3h0m1.3 1.2h0m.5 1.6h0m-.2 1.5h0m.2 1.5h0m1.5 1.8h0" stroke="#481d6f"/><path class="d w" d="M456.6 439.7h0m1.1 2h0m0 .9h0m1 1.8h0m.1 1.7h0m-.1 1.1h0m1.3 1.7h0m.5 2.1h0m1.2 1.7h0m.1 1.6h0" stroke="#482173"/><path class="d w" d="M462.5 455.8h0m1.3 2.4h0m.9 1.2h0m.6 1.6h0m.9 2.4h0m.4 1.6h0m1 1.6h0" stroke="#482475"/><g fill="#482475" stroke="#482475" fill-opacity=".9" stroke-opacity=".9" stroke-width="1.39"><circle cx="468.4" cy="468.9" r="3.1"/><circle cx="468.9" cy="470.5" r="3.1"/></g><g fill="#482878" stroke="#482878" fill-opacity=".9" stroke-opacity=".9" stroke-width="1.39"><circle cx="469.5" cy="472.6" r="3.1"/></g><path class="d" d="M470.3 474.5h0m1.8 1.8h0m-.4 2.6h0m.5 1.9h0m.7 2h0m.9 2.3h0m.8 2.7h0" stroke="#482878" stroke-opacity=".9"/><path class="d" d="M474.6 489.8h0m.3 2.5h0m1.9 2.6h0m-.3 2.4h0m1.6 2.2h0m.5 3.3h0" stroke="#472a7a" stroke-opacity=".9"/><path class="d" d="M479.7 505.7h0m.9 2.8h0m.1 3.1h0" stroke="#472e7c" stroke-opacity=".9"/><g fill="#472e7c" stroke="#472e7c" fill-opacity=".9" stroke-opacity=".9" stroke-width="1.39"><circle cx="480.9" cy="514.3" r="3.1"/><circle cx="481.4" cy="517.6" r="3.1"/><circle cx="482.4" cy="521" r="3.1"/></g><g fill="#46307e" stroke="#46307e" fill-opacity=".9" stroke-opacity=".9" stroke-width="1.39"><circle cx="483.6" cy="523.8" r="3.1"/></g><g fill="#46307e" stroke="#46307e" fill-opacity=".8" stroke-opacity=".8" stroke-width="1.39"><circle cx="483.4" cy="527.7" r="3.1"/><circle cx="485.3" cy="531.2" r="3.1"/><circle cx="486.1" cy="534.6" r="3.1"/><circle cx="487.3" cy="538.7" r="3.1"/></g><g fill="#463480" stroke="#463480" fill-opacity=".8" stroke-opacity=".8" stroke-width="1.39"><circle cx="487.7" cy="542.3" r="3.1"/><circle cx="488.9" cy="545.9" r="3.1"/></g><g fill="#463480" stroke="#463480" fill-opacity=".8" stroke-opacity=".8" stroke-width="1.39"><circle cx="489.5" cy="550.6" r="3.1"/><circle cx="490.7" cy="554.7" r="3.1"/></g><g fill="#453781" stroke="#453781" fill-opacity=".8" stroke-opacity=".8" stroke-width="1.39"><circle cx="491.2" cy="559.2" r="3.1"/></g><g fill="#453781" stroke="#453781" fill-opacity=".8" stroke-opacity=".8" stroke-width="1.39"><circle cx="493.3" cy="563.7" r="3.1"/><circle cx="495.3" cy="568.8" r="3.1"/></g><g fill="#443a83" stroke="#443a83" fill-opacity=".8" stroke-opacity=".8" stroke-width="1.39"><circle cx="495.9" cy="573.6" r="3.1"/></g><g fill="#443a83" stroke="#443a83" fill-opacity=".7" stroke-opacity=".7" stroke-width="1.39"><circle cx="497.4" cy="578.4" r="3.1"/><circle cx="498.1" cy="584.1" r="3.1"/></g><g fill="#433e85" stroke="#433e85" fill-opacity=".7" stroke-opacity=".7" stroke-width="1.39"><circle cx="500.7" cy="589.8" r="3.1"/></g><path class="d w" d="M424.2 360.3h0m.2 1.2h0m.9 1.3h0m.7 1.2h0m.9 1.5h0m.1 1.6h0m.4 .6h0m.5 1.8h0m.6 1.4h0m-.4 1.4h0m1 .9h0" stroke="#471063"/><path class="d w" d="M429.6 375.2h0m.4 1h0m.4 1.5h0m.5 1.2h0m.7 1.1h0m0 1.7h0m1.4 1h0m.2 1.6h0m.5 1.6h0m.6 1.4h0m.7 1.5h0m-.2 1.3h0" stroke="#471365"/><path class="d w" d="M435.4 392.2h0m-.4 1h0m.1 1.1h0m.6 1.7h0m2.2 1.5h0m-1.1 1.6h0m1.7 1.5h0m1 1.5h0m-.3 2.2h0m1.7 1.2h0" stroke="#481769"/><path class="d w" d="M441.6 407h0m.3 1.6h0m1.4 1.7h0m-.1 2h0m0 1.5h0m1.4 1.8h0m.2 .7h0m.3 2.6h0m.7 1.9h0m2.5 2h0" stroke="#481a6c"/><path class="d w" d="M447.5 424.2h0m.9 1.4h0m.3 2.4h0m1 1.6h0" stroke="#481d6f"/><g fill="#481d6f" stroke="#481d6f" fill-opacity=".9" stroke-opacity=".9" stroke-width="1.39"><circle cx="450.1" cy="431.2" r="3.1"/><circle cx="450.6" cy="433.4" r="3.1"/><circle cx="450.8" cy="435.8" r="3.1"/></g><path class="d" d="M451.3 437.8h0" stroke="#481d6f" stroke-opacity=".9"/><path class="d" d="M452.2 439.7h0m1.2 1.6h0m1.6 3h0m.3 1.2h0m1.1 2.4h0m.2 1.8h0m.6 2.9h0m.3 2.1h0" stroke="#482173" stroke-opacity=".9"/><path class="d" d="M459.1 457.1h0m0 2.1h0m1.9 2.4h0m2.1 2.4h0m.4 2h0m1.5 3.2h0m.3 2.6h0" stroke="#482475" stroke-opacity=".9"/><path class="d" d="M465.8 474.2h0" stroke="#482878" stroke-opacity=".9"/><path class="d" d="M467.3 477h0m1.1 2.8h0m1.8 3.2h0m1.4 2.6h0" stroke="#482878" stroke-opacity=".9"/><path class="d" d="M471.3 488.4h0" stroke="#472a7a" stroke-opacity=".9"/><g fill="#472a7a" stroke="#472a7a" fill-opacity=".9" stroke-opacity=".9" stroke-width="1.39"><circle cx="472.5" cy="491.3" r="3.1"/><circle cx="473.6" cy="494.2" r="3.1"/><circle cx="474.4" cy="497.6" r="3.1"/><circle cx="474.7" cy="501" r="3.1"/><circle cx="476.1" cy="504.4" r="3.1"/></g><g fill="#472e7c" stroke="#472e7c" fill-opacity=".8" stroke-opacity=".8" stroke-width="1.39"><circle cx="477" cy="507.9" r="3.1"/><circle cx="477.8" cy="511.6" r="3.1"/><circle cx="477.7" cy="515.2" r="3.1"/><circle cx="479.1" cy="518.9" r="3.1"/></g><g fill="#46307e" stroke="#46307e" fill-opacity=".8" stroke-opacity=".8" stroke-width="1.39"><circle cx="479.2" cy="522.9" r="3.1"/><circle cx="481.4" cy="526.7" r="3.1"/></g><g fill="#46307e" stroke="#46307e" fill-opacity=".8" stroke-opacity=".8" stroke-width="1.39"><circle cx="481.3" cy="530.7" r="3.1"/><circle cx="482.6" cy="535" r="3.1"/></g><g fill="#463480" stroke="#463480" fill-opacity=".8" stroke-opacity=".8" stroke-width="1.39"><circle cx="483.5" cy="538.7" r="3.1"/><circle cx="484.5" cy="543.8" r="3.1"/><circle cx="485.3" cy="547.7" r="3.1"/></g><g fill="#463480" stroke="#463480" fill-opacity=".8" stroke-opacity=".8" stroke-width="1.39"><circle cx="486.1" cy="552.9" r="3.1"/></g><g fill="#453781" stroke="#453781" fill-opacity=".8" stroke-opacity=".8" stroke-width="1.39"><circle cx="489.2" cy="557.5" r="3.1"/><circle cx="489.9" cy="562.6" r="3.1"/><circle cx="491.4" cy="567.4" r="3.1"/></g><g fill="#443a83" stroke="#443a83" fill-opacity=".7" stroke-opacity=".7" stroke-width="1.39"><circle cx="493.8" cy="572.4" r="3.1"/><circle cx="494.3" cy="578.2" r="3.1"/><circle cx="496.3" cy="583.5" r="3.1"/></g><g fill="#433e85" stroke="#433e85" fill-opacity=".7" stroke-opacity=".7" stroke-width="1.39"><circle cx="497.7" cy="589.2" r="3.1"/></g><path class="d w" d="M426.4 375.1h0m.2 1.8h0m-.4 .6h0m1 1.9h0m.7 1.1h0m1.3 1.3h0m-.3 1.2h0m.1 1.6h0m1.1 .9h0m-.3 1.4h0m.4 1.9h0m.4 .8h0" stroke="#471365"/><path class="d w" d="M430.1 391.8h0m1.5 .9h0m.1 1.6h0m0 1.4h0m-.1 1.5h0m1 1.3h0m1 1.4h0m-.6 1.5h0m.1 1.8h0m1.2 1.5h0m-.6 1.6h0" stroke="#481769"/><path class="d w" d="M433.9 407.6h0m1.4 1.4h0m.3 1.2h0m.8 2.1h0m.5 1.6h0m1.2 1.3h0m.4 1.9h0m.6 1.7h0m.8 1.4h0m1.3 1.9h0m1 1.5h0" stroke="#481a6c"/><path class="d w" d="M443 424.8h0m.7 2h0m-1.2 1.8h0m1.9 2.1h0m1.1 1.4h0m1.1 2h0" stroke="#481d6f"/><g fill="#481d6f" stroke="#481d6f" fill-opacity=".9" stroke-opacity=".9" stroke-width="1.39"><circle cx="446.4" cy="435.8" r="3.1"/><circle cx="448.8" cy="438" r="3.1"/></g><path class="d" d="M449 439.9h0m.4 2.2h0m1.2 2h0m.6 1.8h0m.6 2.1h0m1.5 2.1h0m.3 2.1h0m.4 2.6h0" stroke="#482173" stroke-opacity=".9"/><path class="d" d="M455.3 456h0m1.1 2.9h0m.5 2.5h0m2 2.6h0m-.4 2h0m2.3 2.9h0m.5 2.8h0" stroke="#482475" stroke-opacity=".9"/><path class="d" d="M461.3 474h0m1.5 2.4h0m1.6 3.3h0m.4 2.7h0" stroke="#482878" stroke-opacity=".9"/><g fill="#482878" stroke="#482878" fill-opacity=".9" stroke-opacity=".9" stroke-width="1.39"><circle cx="465.4" cy="485.8" r="3.1"/></g><g fill="#472a7a" stroke="#472a7a" fill-opacity=".9" stroke-opacity=".9" stroke-width="1.39"><circle cx="467.2" cy="488.5" r="3.1"/><circle cx="469.1" cy="492.4" r="3.1"/><circle cx="468.2" cy="495.3" r="3.1"/></g><g fill="#472a7a" stroke="#472a7a" fill-opacity=".8" stroke-opacity=".8" stroke-width="1.39"><circle cx="470.2" cy="498.5" r="3.1"/><circle cx="470.8" cy="502.1" r="3.1"/></g><g fill="#472e7c" stroke="#472e7c" fill-opacity=".8" stroke-opacity=".8" stroke-width="1.39"><circle cx="471.7" cy="505.6" r="3.1"/><circle cx="472.6" cy="509.7" r="3.1"/><circle cx="473.6" cy="513.8" r="3.1"/><circle cx="475.3" cy="517.3" r="3.1"/></g><g fill="#472e7c" stroke="#472e7c" fill-opacity=".8" stroke-opacity=".8" stroke-width="1.39"><circle cx="476.1" cy="521.7" r="3.1"/></g><g fill="#46307e" stroke="#46307e" fill-opacity=".8" stroke-opacity=".8" stroke-width="1.39"><circle cx="476.2" cy="525.5" r="3.1"/><circle cx="478.4" cy="530.2" r="3.1"/><circle cx="477.9" cy="535.3" r="3.1"/></g><g fill="#463480" stroke="#463480" fill-opacity=".8" stroke-opacity=".8" stroke-width="1.39"><circle cx="479.8" cy="539" r="3.1"/><circle cx="480.6" cy="544.5" r="3.1"/><circle cx="482.3" cy="549.5" r="3.1"/></g><g fill="#463480" stroke="#463480" fill-opacity=".7" stroke-opacity=".7" stroke-width="1.39"><circle cx="483.1" cy="553.9" r="3.1"/></g><g fill="#453781" stroke="#453781" fill-opacity=".7" stroke-opacity=".7" stroke-width="1.39"><circle cx="484.8" cy="559.3" r="3.1"/><circle cx="485.6" cy="564.9" r="3.1"/></g><g fill="#453781" stroke="#453781" fill-opacity=".7" stroke-opacity=".7" stroke-width="1.39"><circle cx="487.5" cy="571.2" r="3.1"/></g><path class="d w" d="M447.8 406.5h0m.1 1h0m.4 .9h0m.1 1.9h0" stroke="#440154"/><path class="d w" d="M449.3 411.2h0m-.4 1.4h0m1.3 1.2h0m-.4 1.7h0m.1 .9h0m1 1.6h0m.2 1.1h0" stroke="#450457"/><path class="d w" d="M450.5 420.3h0m1.3 1.2h0m-.3 1.8h0m.6 1.3h0m1 1.4h0m-.3 1.6h0m.8 1h0" stroke="#46085c"/><path class="d w" d="M453.7 430h0m1.3 1.3h0m-.4 1.5h0m-.1 1.3h0m.5 1.4h0m.4 2h0m.8 .7h0" stroke="#460b5e"/><path class="d w" d="M456.6 440.2h0m.8 1.5h0m.1 1.5h0m.4 1.4h0m.5 1.7h0m.3 1.5h0" stroke="#471063"/><path class="d w" d="M459.3 449.4h0m.6 1.8h0m.5 1.6h0m-.1 1.7h0m0 2h0" stroke="#471365"/><path class="d w" d="M461.2 458h0m.9 2.1h0m-.6 1.6h0m1.3 2.1h0m.9 1.8h0" stroke="#481769"/><g fill="#481a6c" stroke="#481a6c" fill-opacity=".9" stroke-opacity=".9" stroke-width="1.39"><circle cx="463.8" cy="467.6" r="3.1"/><circle cx="464.1" cy="469.4" r="3.1"/><circle cx="465.8" cy="471.5" r="3.1"/></g><path class="d" d="M466.2 473.5h0m-.1 2.3h0" stroke="#481a6c" stroke-opacity=".9"/><path class="d" d="M467.4 478.1h0m.5 2.3h0m-.3 2h0m2.1 2.4h0" stroke="#481d6f" stroke-opacity=".9"/><path class="d" d="M468.9 486.9h0m1 2.3h0m.3 2.7h0m1.2 2.6h0" stroke="#482173" stroke-opacity=".9"/><path class="d" d="M471.5 497h0m1.4 2.6h0m1.5 3.2h0" stroke="#482475" stroke-opacity=".9"/><path class="d" d="M475.1 505.3h0" stroke="#482878" stroke-opacity=".9"/><path class="d" d="M476 507.9h0" stroke="#482878" stroke-opacity=".9"/><g fill="#482878" stroke="#482878" fill-opacity=".9" stroke-opacity=".9" stroke-width="1.39"><circle cx="477.8" cy="511.7" r="3.1"/></g><g fill="#472a7a" stroke="#472a7a" fill-opacity=".9" stroke-opacity=".9" stroke-width="1.39"><circle cx="478" cy="514.2" r="3.1"/><circle cx="479.9" cy="517.3" r="3.1"/><circle cx="480.6" cy="520.7" r="3.1"/></g><g fill="#472e7c" stroke="#472e7c" fill-opacity=".9" stroke-opacity=".9" stroke-width="1.39"><circle cx="482.1" cy="523.7" r="3.1"/><circle cx="483.3" cy="527.6" r="3.1"/></g><g fill="#472e7c" stroke="#472e7c" fill-opacity=".8" stroke-opacity=".8" stroke-width="1.39"><circle cx="484.7" cy="530.5" r="3.1"/></g><g fill="#46307e" stroke="#46307e" fill-opacity=".8" stroke-opacity=".8" stroke-width="1.39"><circle cx="486" cy="534.1" r="3.1"/><circle cx="487.1" cy="538.2" r="3.1"/></g><g fill="#463480" stroke="#463480" fill-opacity=".8" stroke-opacity=".8" stroke-width="1.39"><circle cx="488.7" cy="541.9" r="3.1"/><circle cx="490.6" cy="546.4" r="3.1"/></g><g fill="#453781" stroke="#453781" fill-opacity=".8" stroke-opacity=".8" stroke-width="1.39"><circle cx="492" cy="550" r="3.1"/></g><g fill="#453781" stroke="#453781" fill-opacity=".8" stroke-opacity=".8" stroke-width="1.39"><circle cx="493.2" cy="554.5" r="3.1"/></g><g fill="#443a83" stroke="#443a83" fill-opacity=".8" stroke-opacity=".8" stroke-width="1.39"><circle cx="495.1" cy="559.2" r="3.1"/><circle cx="496.8" cy="564" r="3.1"/></g><g fill="#433e85" stroke="#433e85" fill-opacity=".8" stroke-opacity=".8" stroke-width="1.39"><circle cx="498.9" cy="568.9" r="3.1"/><circle cx="501" cy="573.9" r="3.1"/></g><g fill="#424086" stroke="#424086" fill-opacity=".8" stroke-opacity=".8" stroke-width="1.39"><circle cx="502.9" cy="579.5" r="3.1"/></g><g fill="#424086" stroke="#424086" fill-opacity=".7" stroke-opacity=".7" stroke-width="1.39"><circle cx="504.7" cy="584.5" r="3.1"/></g><path class="d w" d="M455.8 413.5h0m.6 1.5h0m-.2 1.5h0m.4 .7h0" stroke="#440154"/><path class="d w" d="M456.8 418.7h0m.3 1.3h0m.1 1h0m.6 1.2h0m-.1 1.8h0m1.2 .9h0m-.5 1.3h0" stroke="#450457"/><path class="d w" d="M460.2 427.5h0m.2 1.3h0m.1 1.3h0m-.1 1.6h0m.2 1.4h0m1 1.1h0m0 1.2h0" stroke="#46085c"/><path class="d w" d="M462.1 437h0m-.1 1.1h0m1.1 1.6h0m-.4 1.8h0m.7 1.7h0m-.3 1.1h0" stroke="#460b5e"/><path class="d w" d="M463.9 445.5h0m.9 1.9h0m0 .9h0m.4 1.9h0m.9 2h0m.1 1.4h0" stroke="#471063"/><path class="d w" d="M467.1 454.9h0m-1 1.6h0m1.7 2.1h0m.4 1.6h0m-.4 1.6h0m.6 2h0" stroke="#471365"/><path class="d w" d="M469.7 465.4h0m-.3 1.5h0m.7 2.5h0m1 1.6h0" stroke="#481769"/><g fill="#481769" stroke="#481769" fill-opacity=".9" stroke-opacity=".9" stroke-width="1.39"><circle cx="471.2" cy="472.8" r="3.1"/></g><g fill="#481a6c" stroke="#481a6c" fill-opacity=".9" stroke-opacity=".9" stroke-width="1.39"><circle cx="472.1" cy="474.8" r="3.1"/><circle cx="472.1" cy="477.1" r="3.1"/></g><path class="d" d="M473.1 479h0m.9 2.4h0" stroke="#481a6c" stroke-opacity=".9"/><path class="d" d="M474.2 483.4h0m-.4 2.4h0m1.7 2h0m.4 2.3h0" stroke="#481d6f" stroke-opacity=".9"/><path class="d" d="M476.2 492.2h0m1.5 2.6h0m-.6 2.9h0m2.2 3h0" stroke="#482173" stroke-opacity=".9"/><path class="d" d="M478.9 502.5h0m1.8 2.7h0m.4 3h0" stroke="#482475" stroke-opacity=".9"/><path class="d" d="M481.6 511h0" stroke="#482878" stroke-opacity=".9"/><path class="d" d="M483.2 513.6h0" stroke="#482878" stroke-opacity=".9"/><g fill="#482878" stroke="#482878" fill-opacity=".9" stroke-opacity=".9" stroke-width="1.39"><circle cx="484.4" cy="516.7" r="3.1"/></g><g fill="#472a7a" stroke="#472a7a" fill-opacity=".9" stroke-opacity=".9" stroke-width="1.39"><circle cx="485.6" cy="519.4" r="3.1"/><circle cx="487" cy="522.8" r="3.1"/><circle cx="487.4" cy="526.2" r="3.1"/></g><g fill="#472e7c" stroke="#472e7c" fill-opacity=".9" stroke-opacity=".9" stroke-width="1.39"><circle cx="489.2" cy="529.7" r="3.1"/><circle cx="490.5" cy="532.8" r="3.1"/></g><g fill="#46307e" stroke="#46307e" fill-opacity=".8" stroke-opacity=".8" stroke-width="1.39"><circle cx="491.5" cy="536.3" r="3.1"/><circle cx="492.6" cy="540.1" r="3.1"/><circle cx="494" cy="544.1" r="3.1"/></g><g fill="#463480" stroke="#463480" fill-opacity=".8" stroke-opacity=".8" stroke-width="1.39"><circle cx="496.1" cy="547.9" r="3.1"/><circle cx="497.6" cy="551.7" r="3.1"/></g><g fill="#453781" stroke="#453781" fill-opacity=".8" stroke-opacity=".8" stroke-width="1.39"><circle cx="498.6" cy="556.2" r="3.1"/><circle cx="500" cy="560.7" r="3.1"/></g><g fill="#443a83" stroke="#443a83" fill-opacity=".8" stroke-opacity=".8" stroke-width="1.39"><circle cx="502.7" cy="564.9" r="3.1"/><circle cx="503.4" cy="569.5" r="3.1"/></g><g fill="#433e85" stroke="#433e85" fill-opacity=".8" stroke-opacity=".8" stroke-width="1.39"><circle cx="505.9" cy="574.9" r="3.1"/><circle cx="507.4" cy="580" r="3.1"/></g><g fill="#424086" stroke="#424086" fill-opacity=".8" stroke-opacity=".8" stroke-width="1.39"><circle cx="509" cy="585.5" r="3.1"/></g><g fill="#414487" stroke="#414487" fill-opacity=".7" stroke-opacity=".7" stroke-width="1.39"><circle cx="511.9" cy="590.9" r="3.1"/></g><path class="d w" d="M465.9 419.2h0m.4 1.4h0m.1 .9h0m.3 1.8h0" stroke="#440154"/><path class="d w" d="M467.2 424.3h0m.3 1.4h0m1 1.3h0m-.6 1.6h0m.8 .9h0m.1 1.2h0m1.1 1.7h0" stroke="#450457"/><path class="d w" d="M469.8 433.3h0m0 1.3h0m.8 1.2h0m.1 1.8h0m.1 1.2h0m1.1 1.5h0m0 1.3h0" stroke="#46085c"/><path class="d w" d="M472.7 442.9h0m.1 1.3h0m.2 1.5h0m.1 1.7h0m-.1 1.4h0m1.1 1.8h0" stroke="#460b5e"/><path class="d w" d="M474.2 451.6h0m.6 1.6h0m.1 1.4h0m.2 2.1h0m.2 1.1h0" stroke="#471063"/><path class="d w" d="M476.4 459.8h0m.6 1.8h0m-.2 1.4h0m.7 1.8h0m.8 1.2h0m-.4 2.1h0" stroke="#471365"/><path class="d w" d="M478.5 469.7h0m.2 2.2h0m1.4 1.8h0m.1 1.8h0" stroke="#481769"/><g fill="#481a6c" stroke="#481a6c" fill-opacity=".9" stroke-opacity=".9" stroke-width="1.39"><circle cx="480.4" cy="477.8" r="3.1"/><circle cx="480.4" cy="479.7" r="3.1"/><circle cx="481.5" cy="481.5" r="3.1"/></g><path class="d" d="M482.5 483.6h0m0 2h0" stroke="#481a6c" stroke-opacity=".9"/><path class="d" d="M482.9 488h0m1 2.7h0m-.2 1.7h0m1.1 2.6h0" stroke="#481d6f" stroke-opacity=".9"/><path class="d" d="M485.6 497.2h0m.1 2.7h0m.6 2.5h0" stroke="#482173" stroke-opacity=".9"/><path class="d" d="M487.4 504.9h0m.5 2.3h0m.9 3h0m1.1 3h0" stroke="#482475" stroke-opacity=".9"/><path class="d" d="M490.9 515.8h0m.6 3.1h0" stroke="#482878" stroke-opacity=".9"/><g fill="#482878" stroke="#482878" fill-opacity=".9" stroke-opacity=".9" stroke-width="1.39"><circle cx="492.6" cy="521.7" r="3.1"/></g><g fill="#472a7a" stroke="#472a7a" fill-opacity=".9" stroke-opacity=".9" stroke-width="1.39"><circle cx="494.2" cy="524.5" r="3.1"/><circle cx="495.6" cy="528.1" r="3.1"/></g><g fill="#472e7c" stroke="#472e7c" fill-opacity=".9" stroke-opacity=".9" stroke-width="1.39"><circle cx="496.8" cy="531.4" r="3.1"/><circle cx="497.1" cy="534.6" r="3.1"/><circle cx="499.1" cy="538.2" r="3.1"/></g><g fill="#46307e" stroke="#46307e" fill-opacity=".8" stroke-opacity=".8" stroke-width="1.39"><circle cx="500.3" cy="542" r="3.1"/><circle cx="501.3" cy="545.6" r="3.1"/></g><g fill="#463480" stroke="#463480" fill-opacity=".8" stroke-opacity=".8" stroke-width="1.39"><circle cx="502.9" cy="549.7" r="3.1"/><circle cx="504.5" cy="553.7" r="3.1"/></g><g fill="#453781" stroke="#453781" fill-opacity=".8" stroke-opacity=".8" stroke-width="1.39"><circle cx="506.3" cy="557.5" r="3.1"/></g><g fill="#453781" stroke="#453781" fill-opacity=".8" stroke-opacity=".8" stroke-width="1.39"><circle cx="506.7" cy="562.3" r="3.1"/></g><g fill="#443a83" stroke="#443a83" fill-opacity=".8" stroke-opacity=".8" stroke-width="1.39"><circle cx="509" cy="566.8" r="3.1"/><circle cx="510.4" cy="571.5" r="3.1"/></g><g fill="#433e85" stroke="#433e85" fill-opacity=".8" stroke-opacity=".8" stroke-width="1.39"><circle cx="512.1" cy="576.7" r="3.1"/><circle cx="514.4" cy="581.7" r="3.1"/></g><g fill="#424086" stroke="#424086" fill-opacity=".8" stroke-opacity=".8" stroke-width="1.39"><circle cx="516.2" cy="587.3" r="3.1"/></g><g fill="#414487" stroke="#414487" fill-opacity=".7" stroke-opacity=".7" stroke-width="1.39"><circle cx="517.5" cy="593" r="3.1"/></g><path class="d" d="M559.4 331.7h0m.4 1.2h0m.5 1.3h0m.4 1.2h0m.4 1.2h0" stroke="#440154"/><path class="d" d="M561.5 337.8h0m.5 1.3h0m.4 1.2h0m.4 1.2h0m.5 1.2h0m.4 1.3h0m.4 1.2h0m.4 1.2h0m.5 1.3h0m.4 1.2h0" stroke="#450457"/><path class="d" d="M565.8 350.1h0m.4 1.3h0m.3 1.2h0m.4 1.3h0m.3 1.2h0m.4 1.3h0m.3 1.2h0m.4 1.3h0m.3 1.2h0" stroke="#46085c"/><path class="d" d="M569 361.4h0m.3 1.2h0m.4 1.3h0m.3 1.2h0m.4 1.3h0" stroke="#460b5e"/><path class="d" d="M557.6 355.5h0m.2 1.3h0m.2 1.3h0m.1 1.3h0m.2 1.2h0m.2 1.3h0m.2 1.3h0m.2 1.3h0m.1 1.3h0" stroke="#440154"/><path class="d" d="M559.2 367.1h0m.2 1.3h0m.2 1.3h0m.2 1.2h0m.2 1.3h0m.2 1.3h0m.2 1.3h0m.2 1.3h0m.2 1.3h0m.2 1.3h0m.2 1.2h0m.2 1.3h0m.2 1.3h0m.2 1.3h0m.2 1.3h0m.2 1.3h0m.2 1.2h0" stroke="#450457"/><path class="d" d="M562.6 388.9h0m.2 1.3h0m.2 1.3h0m.2 1.3h0m.2 1.3h0m.2 1.2h0m.2 1.3h0m.2 1.3h0m.2 1.3h0m.2 1.3h0m.3 1.3h0m.2 1.2h0m.2 1.3h0m.2 1.3h0m.2 1.3h0m.2 1.3h0" stroke="#46085c"/><path class="d" d="M565.9 409.5h0m.3 1.2h0m.3 1.3h0m.3 1.3h0m.3 1.2h0m.3 1.3h0m.4 1.2h0m.3 1.3h0m.3 1.3h0" stroke="#460b5e"/><path class="d" d="M551.2 381.2h0m.3 1.3h0m.3 1.2h0m.3 1.3h0m.3 1.3h0m.3 1.2h0" stroke="#440154"/><path class="d" d="M553 388.8h0m.2 1.3h0m.3 1.2h0m.3 1.3h0m.3 1.3h0m.3 1.2h0m.3 1.3h0m.3 1.3h0m.3 1.2h0m.3 1.3h0" stroke="#450457"/><path class="d" d="M555.9 401.5h0m.3 1.2h0m.3 1.3h0m.2 1.3h0m.2 1.3h0m.1 1.3h0m.1 1.2h0m.2 1.3h0m.1 1.3h0m.2 1.3h0" stroke="#46085c"/><path class="d" d="M557.7 414.3h0m.1 1.3h0m.2 1.3h0m.1 1.3h0m.1 1.3h0" stroke="#460b5e"/><path class="d" d="M573.2 350h0m-6.4 22h0m-20.1 53.8h0m-27.5 43.4h0m-.9 10.8h0m-6.6 7h0m5.3 3h0m6 3h0m6-1h0m6-2h0m-23.3 8.3h0" stroke="#46085c"/><path class="d w" d="M535 431.7h0m.2 1.2h0m.1 1.2h0m.2 1.2h0m.1 1.2h0m.2 1.2h0m.1 1.2h0" stroke="#440154"/><path class="d w" d="M536.1 440.1h0m.2 1.2h0m.1 1.2h0m.2 1.3h0m.1 1.2h0m.2 1.3h0m.2 1.2h0m.1 1.3h0m.2 1.3h0m.2 1.3h0" stroke="#450457"/><path class="d w" d="M537.7 452.7h0m.2 1.4h0m.2 1.3h0m.2 1.4h0m.1 1.4h0m.2 1.4h0m.2 1.4h0m.2 1.4h0" stroke="#46085c"/><path class="d w" d="M539.2 463.9h0m.2 1.5h0m.2 1.5h0m.2 1.5h0m.2 1.6h0m.2 1.6h0" stroke="#460b5e"/><path class="d w" d="M540.4 473.2h0m.2 1.6h0m.2 1.7h0" stroke="#471063"/><g fill="#471063" stroke="#471063" fill-opacity=".9" stroke-opacity=".9" stroke-width="1.39"><circle cx="541.1" cy="478.2" r="3.1"/><circle cx="541.3" cy="480" r="3.1"/><circle cx="541.5" cy="481.7" r="3.1"/></g><path class="d" d="M541.7 483.6h0m.3 1.8h0m.2 1.9h0m.3 1.9h0m.2 2h0" stroke="#471365" stroke-opacity=".9"/><path class="d" d="M543 493.3h0m.3 2h0m.3 2.2h0m.2 2.2h0" stroke="#481769" stroke-opacity=".9"/><path class="d" d="M544.1 501.9h0m.3 2.3h0m.3 2.4h0" stroke="#481a6c" stroke-opacity=".9"/><path class="d" d="M545.1 509h0m.3 2.5h0m.3 2.6h0m.4 2.6h0" stroke="#481d6f" stroke-opacity=".9"/><path class="d" d="M546.4 519.5h0" stroke="#482173" stroke-opacity=".9"/><path class="d" d="M547 522.3h0m.5 2.8h0" stroke="#482173" stroke-opacity=".9"/><path class="d" d="M548 528.1h0" stroke="#482475" stroke-opacity=".9"/><g fill="#482475" stroke="#482475" fill-opacity=".9" stroke-opacity=".9" stroke-width="1.39"><circle cx="548.6" cy="531.2" r="3.1"/></g><g fill="#482878" stroke="#482878" fill-opacity=".9" stroke-opacity=".9" stroke-width="1.39"><circle cx="549.1" cy="534.4" r="3.1"/><circle cx="549.7" cy="537.7" r="3.1"/><circle cx="550.3" cy="541.1" r="3.1"/></g><g fill="#472a7a" stroke="#472a7a" fill-opacity=".9" stroke-opacity=".9" stroke-width="1.39"><circle cx="551" cy="544.6" r="3.1"/><circle cx="551.6" cy="548.3" r="3.1"/></g><g fill="#472e7c" stroke="#472e7c" fill-opacity=".9" stroke-opacity=".9" stroke-width="1.39"><circle cx="552.3" cy="552.1" r="3.1"/></g><g fill="#472e7c" stroke="#472e7c" fill-opacity=".8" stroke-opacity=".8" stroke-width="1.39"><circle cx="553" cy="556" r="3.1"/></g><g fill="#46307e" stroke="#46307e" fill-opacity=".8" stroke-opacity=".8" stroke-width="1.39"><circle cx="553.8" cy="560.1" r="3.1"/><circle cx="554.5" cy="564.4" r="3.1"/></g><g fill="#463480" stroke="#463480" fill-opacity=".8" stroke-opacity=".8" stroke-width="1.39"><circle cx="555.3" cy="568.9" r="3.1"/></g><g fill="#453781" stroke="#453781" fill-opacity=".8" stroke-opacity=".8" stroke-width="1.39"><circle cx="556.2" cy="573.5" r="3.1"/><circle cx="557" cy="578.4" r="3.1"/></g><g fill="#443a83" stroke="#443a83" fill-opacity=".8" stroke-opacity=".8" stroke-width="1.39"><circle cx="557.9" cy="583.4" r="3.1"/></g><g fill="#433e85" stroke="#433e85" fill-opacity=".8" stroke-opacity=".8" stroke-width="1.39"><circle cx="558.9" cy="588.7" r="3.1"/><circle cx="559.9" cy="594.3" r="3.1"/></g><g fill="#424086" stroke="#424086" fill-opacity=".8" stroke-opacity=".8" stroke-width="1.39"><circle cx="560.9" cy="600.1" r="3.1"/></g><path class="d w" d="M550.8 433.3h0m.1 1.2h0m.1 1.2h0m.2 1.2h0m.1 1.2h0m.1 1.2h0m.1 1.2h0" stroke="#440154"/><path class="d w" d="M551.7 441.7h0m.1 1.2h0m.1 1.3h0m.1 1.2h0m.2 1.3h0m.1 1.2h0m.1 1.3h0m.2 1.3h0m.1 1.3h0m.1 1.3h0" stroke="#450457"/><path class="d w" d="M553 454.4h0m.1 1.4h0m.1 1.3h0m.2 1.4h0m.1 1.4h0m.2 1.4h0m.1 1.4h0" stroke="#46085c"/><path class="d w" d="M554 464.2h0m.1 1.4h0m.2 1.5h0m.1 1.6h0m.2 1.5h0m.1 1.6h0m.2 1.6h0" stroke="#460b5e"/><path class="d w" d="M555.1 475h0m.1 1.7h0" stroke="#471063"/><g fill="#471063" stroke="#471063" fill-opacity=".9" stroke-opacity=".9" stroke-width="1.39"><circle cx="555.4" cy="478.3" r="3.1"/><circle cx="555.6" cy="480.1" r="3.1"/><circle cx="555.8" cy="481.8" r="3.1"/></g><path class="d" d="M556 483.6h0m.1 1.8h0m.2 1.9h0m.2 1.9h0m.2 2h0" stroke="#471365" stroke-opacity=".9"/><path class="d" d="M556.9 493.2h0m.3 2.1h0m.2 2.1h0m.2 2.1h0" stroke="#481769" stroke-opacity=".9"/><path class="d" d="M557.8 501.7h0m.2 2.3h0m.3 2.3h0m.2 2.4h0" stroke="#481a6c" stroke-opacity=".9"/><path class="d" d="M558.8 511.2h0m.2 2.5h0m.3 2.6h0" stroke="#481d6f" stroke-opacity=".9"/><path class="d" d="M559.6 519h0m.3 2.8h0" stroke="#482173" stroke-opacity=".9"/><path class="d" d="M560.3 524.7h0" stroke="#482173" stroke-opacity=".9"/><path class="d" d="M560.8 527.6h0m.4 3h0" stroke="#482475" stroke-opacity=".9"/><g fill="#482475" stroke="#482475" fill-opacity=".9" stroke-opacity=".9" stroke-width="1.39"><circle cx="561.6" cy="533.8" r="3.1"/></g><g fill="#482878" stroke="#482878" fill-opacity=".9" stroke-opacity=".9" stroke-width="1.39"><circle cx="562.1" cy="537" r="3.1"/><circle cx="562.6" cy="540.4" r="3.1"/></g><g fill="#472a7a" stroke="#472a7a" fill-opacity=".9" stroke-opacity=".9" stroke-width="1.39"><circle cx="563.1" cy="543.9" r="3.1"/><circle cx="563.6" cy="547.5" r="3.1"/></g><g fill="#472e7c" stroke="#472e7c" fill-opacity=".9" stroke-opacity=".9" stroke-width="1.39"><circle cx="564.1" cy="551.3" r="3.1"/><circle cx="564.7" cy="555.2" r="3.1"/></g><g fill="#46307e" stroke="#46307e" fill-opacity=".8" stroke-opacity=".8" stroke-width="1.39"><circle cx="565.2" cy="559.2" r="3.1"/><circle cx="565.8" cy="563.4" r="3.1"/></g><g fill="#463480" stroke="#463480" fill-opacity=".8" stroke-opacity=".8" stroke-width="1.39"><circle cx="566.5" cy="567.8" r="3.1"/><circle cx="567.1" cy="572.4" r="3.1"/></g><g fill="#453781" stroke="#453781" fill-opacity=".8" stroke-opacity=".8" stroke-width="1.39"><circle cx="567.8" cy="577.2" r="3.1"/></g><g fill="#443a83" stroke="#443a83" fill-opacity=".8" stroke-opacity=".8" stroke-width="1.39"><circle cx="568.5" cy="582.2" r="3.1"/></g><g fill="#443a83" stroke="#443a83" fill-opacity=".8" stroke-opacity=".8" stroke-width="1.39"><circle cx="569.2" cy="587.4" r="3.1"/></g><g fill="#433e85" stroke="#433e85" fill-opacity=".8" stroke-opacity=".8" stroke-width="1.39"><circle cx="570" cy="592.9" r="3.1"/></g><g fill="#424086" stroke="#424086" fill-opacity=".8" stroke-opacity=".8" stroke-width="1.39"><circle cx="570.8" cy="598.6" r="3.1"/></g><g fill="#414487" stroke="#414487" fill-opacity=".8" stroke-opacity=".8" stroke-width="1.39"><circle cx="571.7" cy="604.6" r="3.1"/></g><path class="d w" d="M565.8 430h0m.1 1.2h0m.1 1.2h0m0 1.2h0m.1 1.2h0m.1 1.2h0m.1 1.2h0" stroke="#440154"/><path class="d w" d="M566.4 438.4h0m.1 1.3h0m0 1.2h0m.1 1.2h0m.1 1.3h0m.1 1.3h0m.1 1.2h0m.1 1.3h0m0 1.3h0m.1 1.3h0" stroke="#450457"/><path class="d w" d="M567.2 451.2h0m.1 1.3h0m.1 1.4h0m.1 1.3h0m.1 1.4h0m.1 1.4h0m.1 1.5h0m.1 1.4h0" stroke="#46085c"/><path class="d w" d="M568 462.4h0m.1 1.5h0m.1 1.5h0m.1 1.5h0m.1 1.6h0m.1 1.6h0" stroke="#460b5e"/><path class="d w" d="M568.6 471.7h0m.1 1.6h0m.1 1.7h0" stroke="#471063"/><g fill="#471063" stroke="#471063" fill-opacity=".9" stroke-opacity=".9" stroke-width="1.39"><circle cx="568.9" cy="476.7" r="3.1"/><circle cx="569.1" cy="478.5" r="3.1"/><circle cx="569.2" cy="480.3" r="3.1"/></g><path class="d" d="M569.3 482.1h0m.1 1.8h0m.2 1.9h0m.1 2h0m.1 2h0" stroke="#471365" stroke-opacity=".9"/><path class="d" d="M570 491.8h0m.1 2.1h0m.1 2.1h0m.2 2.2h0" stroke="#481769" stroke-opacity=".9"/><path class="d" d="M570.5 500.4h0m.2 2.3h0m.2 2.4h0m.1 2.4h0" stroke="#481a6c" stroke-opacity=".9"/><path class="d" d="M571.2 510h0m.2 2.6h0m.1 2.6h0" stroke="#481d6f" stroke-opacity=".9"/><path class="d" d="M571.7 517.9h0" stroke="#482173" stroke-opacity=".9"/><path class="d" d="M572 520.7h0m.2 2.9h0" stroke="#482173" stroke-opacity=".9"/><path class="d" d="M572.5 526.6h0m.3 3.1h0" stroke="#482475" stroke-opacity=".9"/><g fill="#482475" stroke="#482475" fill-opacity=".9" stroke-opacity=".9" stroke-width="1.39"><circle cx="573.1" cy="532.8" r="3.1"/></g><g fill="#482878" stroke="#482878" fill-opacity=".9" stroke-opacity=".9" stroke-width="1.39"><circle cx="573.4" cy="536.1" r="3.1"/><circle cx="573.7" cy="539.5" r="3.1"/></g><g fill="#472a7a" stroke="#472a7a" fill-opacity=".9" stroke-opacity=".9" stroke-width="1.39"><circle cx="574.1" cy="543.1" r="3.1"/><circle cx="574.4" cy="546.7" r="3.1"/></g><g fill="#472e7c" stroke="#472e7c" fill-opacity=".9" stroke-opacity=".9" stroke-width="1.39"><circle cx="574.7" cy="550.5" r="3.1"/></g><g fill="#472e7c" stroke="#472e7c" fill-opacity=".8" stroke-opacity=".8" stroke-width="1.39"><circle cx="575.1" cy="554.5" r="3.1"/></g><g fill="#46307e" stroke="#46307e" fill-opacity=".8" stroke-opacity=".8" stroke-width="1.39"><circle cx="575.5" cy="558.5" r="3.1"/><circle cx="575.9" cy="562.8" r="3.1"/></g><g fill="#463480" stroke="#463480" fill-opacity=".8" stroke-opacity=".8" stroke-width="1.39"><circle cx="576.3" cy="567.2" r="3.1"/><circle cx="576.7" cy="571.8" r="3.1"/></g><g fill="#453781" stroke="#453781" fill-opacity=".8" stroke-opacity=".8" stroke-width="1.39"><circle cx="577.2" cy="576.7" r="3.1"/></g><g fill="#443a83" stroke="#443a83" fill-opacity=".8" stroke-opacity=".8" stroke-width="1.39"><circle cx="577.6" cy="581.7" r="3.1"/></g><g fill="#443a83" stroke="#443a83" fill-opacity=".8" stroke-opacity=".8" stroke-width="1.39"><circle cx="578.1" cy="586.9" r="3.1"/></g><g fill="#433e85" stroke="#433e85" fill-opacity=".8" stroke-opacity=".8" stroke-width="1.39"><circle cx="578.6" cy="592.4" r="3.1"/></g><g fill="#424086" stroke="#424086" fill-opacity=".8" stroke-opacity=".8" stroke-width="1.39"><circle cx="579.2" cy="598.2" r="3.1"/></g><g fill="#414487" stroke="#414487" fill-opacity=".8" stroke-opacity=".8" stroke-width="1.39"><circle cx="579.7" cy="604.2" r="3.1"/></g><path class="d w" d="M580.8 427.5h0m.1 1.2h0m0 1.2h0m.1 1.2h0m0 1.2h0m.1 1.2h0m0 1.2h0" stroke="#440154"/><path class="d w" d="M581.2 436h0m0 1.2h0m.1 1.2h0m0 1.3h0m.1 1.2h0m0 1.3h0m.1 1.3h0m.1 1.3h0m0 1.3h0m.1 1.3h0" stroke="#450457"/><path class="d w" d="M581.7 448.7h0m.1 1.3h0m0 1.4h0m.1 1.4h0m.1 1.4h0m0 1.4h0m.1 1.4h0m.1 1.5h0" stroke="#46085c"/><path class="d w" d="M582.2 459.9h0m.1 1.5h0m.1 1.5h0m0 1.6h0m.1 1.6h0m.1 1.6h0" stroke="#460b5e"/><path class="d w" d="M582.6 469.3h0m.1 1.6h0m.1 1.7h0" stroke="#471063"/><g fill="#471063" stroke="#471063" fill-opacity=".9" stroke-opacity=".9" stroke-width="1.39"><circle cx="582.9" cy="474.3" r="3.1"/><circle cx="582.9" cy="476.1" r="3.1"/><circle cx="583" cy="477.9" r="3.1"/></g><path class="d" d="M583.1 479.7h0m.1 1.9h0m.1 1.9h0m0 1.9h0m.1 2h0" stroke="#471365" stroke-opacity=".9"/><path class="d" d="M583.5 489.5h0m.1 2.1h0m.1 2.1h0m.1 2.2h0" stroke="#481769" stroke-opacity=".9"/><path class="d" d="M583.9 498.2h0m.1 2.3h0m.1 2.4h0m.1 2.4h0" stroke="#481a6c" stroke-opacity=".9"/><path class="d" d="M584.3 507.8h0m.1 2.6h0m.1 2.7h0" stroke="#481d6f" stroke-opacity=".9"/><path class="d" d="M584.7 515.8h0" stroke="#482173" stroke-opacity=".9"/><path class="d" d="M584.8 518.6h0m.2 3h0" stroke="#482173" stroke-opacity=".9"/><path class="d" d="M585.2 524.6h0" stroke="#482475" stroke-opacity=".9"/><g fill="#482475" stroke="#482475" fill-opacity=".9" stroke-opacity=".9" stroke-width="1.39"><circle cx="585.4" cy="527.7" r="3.1"/></g><g fill="#482878" stroke="#482878" fill-opacity=".9" stroke-opacity=".9" stroke-width="1.39"><circle cx="585.6" cy="530.9" r="3.1"/><circle cx="585.8" cy="534.2" r="3.1"/><circle cx="586" cy="537.7" r="3.1"/></g><g fill="#472a7a" stroke="#472a7a" fill-opacity=".9" stroke-opacity=".9" stroke-width="1.39"><circle cx="586.2" cy="541.2" r="3.1"/><circle cx="586.4" cy="544.9" r="3.1"/></g><g fill="#472e7c" stroke="#472e7c" fill-opacity=".9" stroke-opacity=".9" stroke-width="1.39"><circle cx="586.7" cy="548.8" r="3.1"/></g><g fill="#472e7c" stroke="#472e7c" fill-opacity=".8" stroke-opacity=".8" stroke-width="1.39"><circle cx="586.9" cy="552.8" r="3.1"/></g><g fill="#46307e" stroke="#46307e" fill-opacity=".8" stroke-opacity=".8" stroke-width="1.39"><circle cx="587.2" cy="556.9" r="3.1"/><circle cx="587.4" cy="561.2" r="3.1"/></g><g fill="#463480" stroke="#463480" fill-opacity=".8" stroke-opacity=".8" stroke-width="1.39"><circle cx="587.7" cy="565.7" r="3.1"/></g><g fill="#453781" stroke="#453781" fill-opacity=".8" stroke-opacity=".8" stroke-width="1.39"><circle cx="588" cy="570.4" r="3.1"/><circle cx="588.3" cy="575.3" r="3.1"/></g><g fill="#443a83" stroke="#443a83" fill-opacity=".8" stroke-opacity=".8" stroke-width="1.39"><circle cx="588.6" cy="580.4" r="3.1"/></g><g fill="#433e85" stroke="#433e85" fill-opacity=".8" stroke-opacity=".8" stroke-width="1.39"><circle cx="588.9" cy="585.8" r="3.1"/><circle cx="589.2" cy="591.4" r="3.1"/></g><g fill="#424086" stroke="#424086" fill-opacity=".8" stroke-opacity=".8" stroke-width="1.39"><circle cx="589.6" cy="597.2" r="3.1"/></g><g fill="#414487" stroke="#414487" fill-opacity=".8" stroke-opacity=".8" stroke-width="1.39"><circle cx="590" cy="603.4" r="3.1"/></g><path class="d w" d="M595.8 422.5h0m0 1.2h0m.1 1.2h0m0 1.2h0m0 1.2h0m0 1.2h0m.1 1.2h0" stroke="#440154"/><path class="d w" d="M596 431h0m0 1.2h0m.1 1.2h0m0 1.3h0m0 1.2h0m.1 1.3h0m0 1.3h0m0 1.3h0m.1 1.3h0m0 1.3h0" stroke="#450457"/><path class="d w" d="M596.3 443.7h0m.1 1.3h0m0 1.4h0m0 1.4h0m.1 1.4h0m0 1.4h0m0 1.4h0m.1 1.5h0" stroke="#46085c"/><path class="d w" d="M596.6 454.9h0m0 1.5h0m.1 1.5h0m0 1.6h0m0 1.6h0m.1 1.5h0" stroke="#460b5e"/><path class="d w" d="M596.8 464.3h0m.1 1.6h0m0 1.7h0" stroke="#471063"/><g fill="#471063" stroke="#471063" fill-opacity=".9" stroke-opacity=".9" stroke-width="1.39"><circle cx="597" cy="469.3" r="3.1"/><circle cx="597" cy="471.1" r="3.1"/><circle cx="597" cy="472.9" r="3.1"/></g><path class="d" d="M597.1 474.7h0m0 1.8h0m.1 1.9h0m0 2h0m.1 2h0" stroke="#471365" stroke-opacity=".9"/><path class="d" d="M597.3 484.4h0m.1 2.1h0m0 2.1h0m.1 2.2h0" stroke="#481769" stroke-opacity=".9"/><path class="d" d="M597.5 493.1h0m.1 2.3h0m.1 2.3h0m0 2.5h0" stroke="#481a6c" stroke-opacity=".9"/><path class="d" d="M597.8 502.7h0m0 2.5h0m.1 2.7h0" stroke="#481d6f" stroke-opacity=".9"/><path class="d" d="M598 510.6h0" stroke="#482173" stroke-opacity=".9"/><path class="d" d="M598.1 513.4h0m.1 2.9h0" stroke="#482173" stroke-opacity=".9"/><path class="d" d="M598.3 519.3h0m.1 3.1h0" stroke="#482475" stroke-opacity=".9"/><g fill="#482475" stroke="#482475" fill-opacity=".9" stroke-opacity=".9" stroke-width="1.39"><circle cx="598.5" cy="525.6" r="3.1"/></g><g fill="#482878" stroke="#482878" fill-opacity=".9" stroke-opacity=".9" stroke-width="1.39"><circle cx="598.6" cy="528.9" r="3.1"/><circle cx="598.7" cy="532.3" r="3.1"/></g><g fill="#472a7a" stroke="#472a7a" fill-opacity=".9" stroke-opacity=".9" stroke-width="1.39"><circle cx="598.8" cy="535.8" r="3.1"/><circle cx="598.9" cy="539.5" r="3.1"/></g><g fill="#472e7c" stroke="#472e7c" fill-opacity=".9" stroke-opacity=".9" stroke-width="1.39"><circle cx="599.1" cy="543.3" r="3.1"/></g><g fill="#472e7c" stroke="#472e7c" fill-opacity=".8" stroke-opacity=".8" stroke-width="1.39"><circle cx="599.2" cy="547.3" r="3.1"/></g><g fill="#46307e" stroke="#46307e" fill-opacity=".8" stroke-opacity=".8" stroke-width="1.39"><circle cx="599.3" cy="551.4" r="3.1"/><circle cx="599.5" cy="555.6" r="3.1"/></g><g fill="#463480" stroke="#463480" fill-opacity=".8" stroke-opacity=".8" stroke-width="1.39"><circle cx="599.6" cy="560.1" r="3.1"/><circle cx="599.8" cy="564.7" r="3.1"/></g><g fill="#453781" stroke="#453781" fill-opacity=".8" stroke-opacity=".8" stroke-width="1.39"><circle cx="600" cy="569.6" r="3.1"/></g><g fill="#443a83" stroke="#443a83" fill-opacity=".8" stroke-opacity=".8" stroke-width="1.39"><circle cx="600.1" cy="574.6" r="3.1"/></g><g fill="#443a83" stroke="#443a83" fill-opacity=".8" stroke-opacity=".8" stroke-width="1.39"><circle cx="600.3" cy="579.9" r="3.1"/></g><g fill="#433e85" stroke="#433e85" fill-opacity=".8" stroke-opacity=".8" stroke-width="1.39"><circle cx="600.5" cy="585.4" r="3.1"/></g><g fill="#424086" stroke="#424086" fill-opacity=".8" stroke-opacity=".8" stroke-width="1.39"><circle cx="600.7" cy="591.2" r="3.1"/></g><g fill="#414487" stroke="#414487" fill-opacity=".8" stroke-opacity=".8" stroke-width="1.39"><circle cx="600.9" cy="597.2" r="3.1"/></g><path class="d w" d="M609.2 415.8h0m0 1.2h0m0 1.2h0m0 1.2h0m0 1.2h0m.1 1.2h0m0 1.2h0" stroke="#440154"/><path class="d w" d="M609.3 424.3h0m0 1.2h0m0 1.2h0m0 1.3h0m0 1.2h0m0 1.3h0m0 1.3h0m0 1.3h0m.1 1.2h0m0 1.4h0" stroke="#450457"/><path class="d w" d="M609.4 437h0m0 1.3h0m0 1.4h0m0 1.3h0m0 1.4h0m0 1.4h0m0 1.5h0m.1 1.4h0" stroke="#46085c"/><path class="d w" d="M609.5 448.2h0m0 1.5h0m0 1.5h0m0 1.5h0m0 1.6h0m0 1.5h0m0 1.7h0" stroke="#460b5e"/><path class="d w" d="M609.6 459.1h0m0 1.7h0" stroke="#471063"/><g fill="#471063" stroke="#471063" fill-opacity=".9" stroke-opacity=".9" stroke-width="1.39"><circle cx="609.6" cy="462.5" r="3.1"/><circle cx="609.6" cy="464.2" r="3.1"/><circle cx="609.6" cy="466" r="3.1"/></g><path class="d" d="M609.6 467.8h0" stroke="#471063" stroke-opacity=".9"/><path class="d" d="M609.7 469.6h0m0 1.9h0m0 1.9h0m0 2h0" stroke="#471365" stroke-opacity=".9"/><path class="d" d="M609.7 477.4h0m0 2h0m.1 2.1h0m0 2.2h0m0 2.2h0" stroke="#481769" stroke-opacity=".9"/><path class="d" d="M609.8 488.2h0m0 2.3h0m0 2.4h0m.1 2.4h0" stroke="#481a6c" stroke-opacity=".9"/><path class="d" d="M609.9 497.8h0m0 2.6h0m0 2.7h0" stroke="#481d6f" stroke-opacity=".9"/><path class="d" d="M610 505.8h0" stroke="#482173" stroke-opacity=".9"/><path class="d" d="M610 508.7h0m0 2.9h0" stroke="#482173" stroke-opacity=".9"/><path class="d" d="M610.1 514.6h0" stroke="#482475" stroke-opacity=".9"/><g fill="#482475" stroke="#482475" fill-opacity=".9" stroke-opacity=".9" stroke-width="1.39"><circle cx="610.1" cy="517.7" r="3.1"/><circle cx="610.1" cy="520.9" r="3.1"/></g><g fill="#482878" stroke="#482878" fill-opacity=".9" stroke-opacity=".9" stroke-width="1.39"><circle cx="610.2" cy="524.2" r="3.1"/><circle cx="610.2" cy="527.7" r="3.1"/></g><g fill="#472a7a" stroke="#472a7a" fill-opacity=".9" stroke-opacity=".9" stroke-width="1.39"><circle cx="610.2" cy="531.2" r="3.1"/><circle cx="610.3" cy="534.9" r="3.1"/></g><g fill="#472e7c" stroke="#472e7c" fill-opacity=".9" stroke-opacity=".9" stroke-width="1.39"><circle cx="610.3" cy="538.7" r="3.1"/></g><g fill="#472e7c" stroke="#472e7c" fill-opacity=".8" stroke-opacity=".8" stroke-width="1.39"><circle cx="610.4" cy="542.7" r="3.1"/></g><g fill="#46307e" stroke="#46307e" fill-opacity=".8" stroke-opacity=".8" stroke-width="1.39"><circle cx="610.4" cy="546.8" r="3.1"/><circle cx="610.5" cy="551.1" r="3.1"/></g><g fill="#463480" stroke="#463480" fill-opacity=".8" stroke-opacity=".8" stroke-width="1.39"><circle cx="610.5" cy="555.6" r="3.1"/><circle cx="610.6" cy="560.2" r="3.1"/></g><g fill="#453781" stroke="#453781" fill-opacity=".8" stroke-opacity=".8" stroke-width="1.39"><circle cx="610.6" cy="565" r="3.1"/></g><g fill="#443a83" stroke="#443a83" fill-opacity=".8" stroke-opacity=".8" stroke-width="1.39"><circle cx="610.7" cy="570.1" r="3.1"/></g><g fill="#443a83" stroke="#443a83" fill-opacity=".8" stroke-opacity=".8" stroke-width="1.39"><circle cx="610.8" cy="575.4" r="3.1"/></g><g fill="#433e85" stroke="#433e85" fill-opacity=".8" stroke-opacity=".8" stroke-width="1.39"><circle cx="610.8" cy="580.9" r="3.1"/></g><g fill="#424086" stroke="#424086" fill-opacity=".8" stroke-opacity=".8" stroke-width="1.39"><circle cx="610.9" cy="586.6" r="3.1"/></g><g fill="#414487" stroke="#414487" fill-opacity=".8" stroke-opacity=".8" stroke-width="1.39"><circle cx="611" cy="592.7" r="3.1"/></g><path class="d w" d="M622 411.7h0m0 1.2h0m0 1.2h0m0 1.2h0m0 1.2h0m0 1.2h0m0 1.2h0" stroke="#440154"/><path class="d w" d="M622 420.2h0m0 1.2h0m0 1.2h0m0 1.3h0m0 1.2h0m0 1.3h0m0 1.3h0m0 1.3h0m0 1.3h0m0 1.3h0" stroke="#450457"/><path class="d w" d="M622 432.9h0m0 1.3h0m0 1.4h0m0 1.4h0m0 1.4h0m0 1.4h0m0 1.4h0m0 1.5h0" stroke="#46085c"/><path class="d w" d="M622 444.1h0m0 1.5h0m0 1.5h0m0 1.6h0m0 1.5h0m0 1.6h0" stroke="#460b5e"/><path class="d w" d="M622 453.4h0m0 1.7h0m0 1.7h0" stroke="#471063"/><g fill="#471063" stroke="#471063" fill-opacity=".9" stroke-opacity=".9" stroke-width="1.39"><circle cx="622" cy="458.5" r="3.1"/><circle cx="622" cy="460.2" r="3.1"/><circle cx="622" cy="462" r="3.1"/></g><path class="d" d="M622 463.8h0m0 1.9h0m0 1.9h0m0 1.9h0m0 2h0" stroke="#471365" stroke-opacity=".9"/><path class="d" d="M622 473.5h0m0 2.1h0m0 2.1h0m0 2.2h0" stroke="#481769" stroke-opacity=".9"/><path class="d" d="M622 482.1h0m0 2.3h0m0 2.4h0m0 2.4h0" stroke="#481a6c" stroke-opacity=".9"/><path class="d" d="M622 491.7h0m0 2.6h0m0 2.6h0" stroke="#481d6f" stroke-opacity=".9"/><path class="d" d="M622 499.6h0m0 2.8h0" stroke="#482173" stroke-opacity=".9"/><path class="d" d="M622 505.3h0" stroke="#482173" stroke-opacity=".9"/><path class="d" d="M622 508.2h0m0 3.1h0" stroke="#482475" stroke-opacity=".9"/><g fill="#482475" stroke="#482475" fill-opacity=".9" stroke-opacity=".9" stroke-width="1.39"><circle cx="622" cy="514.5" r="3.1"/></g><g fill="#482878" stroke="#482878" fill-opacity=".9" stroke-opacity=".9" stroke-width="1.39"><circle cx="622" cy="517.8" r="3.1"/><circle cx="622" cy="521.1" r="3.1"/></g><g fill="#472a7a" stroke="#472a7a" fill-opacity=".9" stroke-opacity=".9" stroke-width="1.39"><circle cx="622" cy="524.7" r="3.1"/><circle cx="622" cy="528.3" r="3.1"/><circle cx="622" cy="532.1" r="3.1"/></g><g fill="#472e7c" stroke="#472e7c" fill-opacity=".9" stroke-opacity=".9" stroke-width="1.39"><circle cx="622" cy="536" r="3.1"/></g><g fill="#472e7c" stroke="#472e7c" fill-opacity=".8" stroke-opacity=".8" stroke-width="1.39"><circle cx="622" cy="540.1" r="3.1"/></g><g fill="#46307e" stroke="#46307e" fill-opacity=".8" stroke-opacity=".8" stroke-width="1.39"><circle cx="622" cy="544.3" r="3.1"/></g><g fill="#463480" stroke="#463480" fill-opacity=".8" stroke-opacity=".8" stroke-width="1.39"><circle cx="622" cy="548.7" r="3.1"/><circle cx="622" cy="553.3" r="3.1"/></g><g fill="#453781" stroke="#453781" fill-opacity=".8" stroke-opacity=".8" stroke-width="1.39"><circle cx="622" cy="558.1" r="3.1"/><circle cx="622" cy="563" r="3.1"/></g><g fill="#443a83" stroke="#443a83" fill-opacity=".8" stroke-opacity=".8" stroke-width="1.39"><circle cx="622" cy="568.3" r="3.1"/></g><g fill="#433e85" stroke="#433e85" fill-opacity=".8" stroke-opacity=".8" stroke-width="1.39"><circle cx="622" cy="573.7" r="3.1"/></g><g fill="#424086" stroke="#424086" fill-opacity=".8" stroke-opacity=".8" stroke-width="1.39"><circle cx="622" cy="579.4" r="3.1"/><circle cx="622" cy="585.4" r="3.1"/></g><path class="d w" d="M633.8 405h0m0 1.2h0m0 1.2h0m0 1.2h0m-.1 1.2h0m0 1.2h0m0 1.2h0" stroke="#440154"/><path class="d w" d="M633.7 413.5h0m0 1.2h0m0 1.2h0m-.1 1.3h0m0 1.2h0m0 1.3h0m0 1.3h0m0 1.3h0m0 1.3h0m-.1 1.3h0" stroke="#450457"/><path class="d w" d="M633.5 426.2h0m0 1.3h0m0 1.4h0m0 1.4h0m-.1 1.4h0m0 1.4h0m0 1.4h0m0 1.5h0" stroke="#46085c"/><path class="d w" d="M633.4 437.4h0m0 1.5h0m-.1 1.5h0m0 1.6h0m0 1.5h0m0 1.6h0" stroke="#460b5e"/><path class="d w" d="M633.2 446.8h0m0 1.6h0m0 1.7h0" stroke="#471063"/><g fill="#471063" stroke="#471063" fill-opacity=".9" stroke-opacity=".9" stroke-width="1.39"><circle cx="633.2" cy="451.8" r="3.1"/><circle cx="633.2" cy="453.5" r="3.1"/><circle cx="633.1" cy="455.3" r="3.1"/></g><path class="d" d="M633.1 457.2h0m0 1.8h0m0 1.9h0m-.1 1.9h0m0 2h0" stroke="#471365" stroke-opacity=".9"/><path class="d" d="M633 466.9h0m0 2h0m-.1 2.2h0m0 2.2h0" stroke="#481769" stroke-opacity=".9"/><path class="d" d="M632.9 475.5h0m-.1 2.3h0m0 2.3h0m0 2.5h0" stroke="#481a6c" stroke-opacity=".9"/><path class="d" d="M632.7 485.1h0m0 2.5h0m0 2.7h0" stroke="#481d6f" stroke-opacity=".9"/><path class="d" d="M632.6 493h0m0 2.8h0" stroke="#482173" stroke-opacity=".9"/><path class="d" d="M632.5 498.7h0" stroke="#482173" stroke-opacity=".9"/><path class="d" d="M632.5 501.6h0m-.1 3.1h0" stroke="#482475" stroke-opacity=".9"/><g fill="#482475" stroke="#482475" fill-opacity=".9" stroke-opacity=".9" stroke-width="1.39"><circle cx="632.4" cy="507.9" r="3.1"/></g><g fill="#482878" stroke="#482878" fill-opacity=".9" stroke-opacity=".9" stroke-width="1.39"><circle cx="632.3" cy="511.2" r="3.1"/><circle cx="632.2" cy="514.6" r="3.1"/></g><g fill="#472a7a" stroke="#472a7a" fill-opacity=".9" stroke-opacity=".9" stroke-width="1.39"><circle cx="632.2" cy="518.1" r="3.1"/><circle cx="632.1" cy="521.8" r="3.1"/></g><g fill="#472e7c" stroke="#472e7c" fill-opacity=".9" stroke-opacity=".9" stroke-width="1.39"><circle cx="632" cy="525.5" r="3.1"/><circle cx="632" cy="529.5" r="3.1"/></g><g fill="#46307e" stroke="#46307e" fill-opacity=".8" stroke-opacity=".8" stroke-width="1.39"><circle cx="631.9" cy="533.6" r="3.1"/><circle cx="631.8" cy="537.8" r="3.1"/></g><g fill="#463480" stroke="#463480" fill-opacity=".8" stroke-opacity=".8" stroke-width="1.39"><circle cx="631.7" cy="542.2" r="3.1"/><circle cx="631.7" cy="546.8" r="3.1"/></g><g fill="#453781" stroke="#453781" fill-opacity=".8" stroke-opacity=".8" stroke-width="1.39"><circle cx="631.6" cy="551.6" r="3.1"/></g><g fill="#443a83" stroke="#443a83" fill-opacity=".8" stroke-opacity=".8" stroke-width="1.39"><circle cx="631.5" cy="556.6" r="3.1"/></g><g fill="#443a83" stroke="#443a83" fill-opacity=".8" stroke-opacity=".8" stroke-width="1.39"><circle cx="631.4" cy="561.9" r="3.1"/></g><g fill="#433e85" stroke="#433e85" fill-opacity=".8" stroke-opacity=".8" stroke-width="1.39"><circle cx="631.3" cy="567.4" r="3.1"/></g><g fill="#424086" stroke="#424086" fill-opacity=".8" stroke-opacity=".8" stroke-width="1.39"><circle cx="631.2" cy="573.1" r="3.1"/><circle cx="631.1" cy="579.1" r="3.1"/></g><path class="d w" d="M644.2 396.7h0m0 1.2h0m-.1 1.2h0m0 1.2h0m0 1.2h0m0 1.2h0m-.1 1.2h0" stroke="#440154"/><path class="d w" d="M644 405.2h0m0 1.2h0m-.1 1.2h0m0 1.3h0m0 1.2h0m-.1 1.3h0m0 1.3h0m0 1.3h0m-.1 1.3h0m0 1.3h0" stroke="#450457"/><path class="d w" d="M643.7 417.9h0m-.1 1.3h0m0 1.4h0m0 1.4h0m-.1 1.4h0m0 1.4h0m0 1.4h0m-.1 1.4h0" stroke="#46085c"/><path class="d w" d="M643.4 429.1h0m0 1.5h0m-.1 1.5h0m0 1.6h0m0 1.5h0m-.1 1.6h0" stroke="#460b5e"/><path class="d w" d="M643.2 438.4h0m-.1 1.7h0m0 1.7h0" stroke="#471063"/><g fill="#471063" stroke="#471063" fill-opacity=".9" stroke-opacity=".9" stroke-width="1.39"><circle cx="643.1" cy="443.5" r="3.1"/><circle cx="643" cy="445.2" r="3.1"/><circle cx="643" cy="447" r="3.1"/></g><path class="d" d="M642.9 448.8h0m0 1.9h0m-.1 1.9h0m0 1.9h0m-.1 2h0" stroke="#471365" stroke-opacity=".9"/><path class="d" d="M642.7 458.5h0m-.1 2.1h0m0 2.1h0m-.1 2.2h0" stroke="#481769" stroke-opacity=".9"/><path class="d" d="M642.5 467.1h0m-.1 2.3h0m0 2.4h0m-.1 2.4h0" stroke="#481a6c" stroke-opacity=".9"/><path class="d" d="M642.2 476.7h0m0 2.5h0m-.1 2.6h0" stroke="#481d6f" stroke-opacity=".9"/><path class="d" d="M642 484.5h0m0 2.8h0" stroke="#482173" stroke-opacity=".9"/><path class="d" d="M641.9 490.2h0" stroke="#482173" stroke-opacity=".9"/><path class="d" d="M641.8 493.2h0m-.1 3h0" stroke="#482475" stroke-opacity=".9"/><g fill="#482475" stroke="#482475" fill-opacity=".9" stroke-opacity=".9" stroke-width="1.39"><circle cx="641.6" cy="499.4" r="3.1"/></g><g fill="#482878" stroke="#482878" fill-opacity=".9" stroke-opacity=".9" stroke-width="1.39"><circle cx="641.4" cy="502.7" r="3.1"/><circle cx="641.3" cy="506.1" r="3.1"/></g><g fill="#472a7a" stroke="#472a7a" fill-opacity=".9" stroke-opacity=".9" stroke-width="1.39"><circle cx="641.2" cy="509.6" r="3.1"/><circle cx="641.1" cy="513.2" r="3.1"/><circle cx="641" cy="517" r="3.1"/></g><g fill="#472e7c" stroke="#472e7c" fill-opacity=".9" stroke-opacity=".9" stroke-width="1.39"><circle cx="640.8" cy="520.9" r="3.1"/></g><g fill="#472e7c" stroke="#472e7c" fill-opacity=".8" stroke-opacity=".8" stroke-width="1.39"><circle cx="640.7" cy="524.9" r="3.1"/></g><g fill="#46307e" stroke="#46307e" fill-opacity=".8" stroke-opacity=".8" stroke-width="1.39"><circle cx="640.6" cy="529.2" r="3.1"/></g><g fill="#463480" stroke="#463480" fill-opacity=".8" stroke-opacity=".8" stroke-width="1.39"><circle cx="640.4" cy="533.6" r="3.1"/><circle cx="640.2" cy="538.1" r="3.1"/></g><g fill="#453781" stroke="#453781" fill-opacity=".8" stroke-opacity=".8" stroke-width="1.39"><circle cx="640.1" cy="542.9" r="3.1"/><circle cx="639.9" cy="547.9" r="3.1"/></g><g fill="#443a83" stroke="#443a83" fill-opacity=".8" stroke-opacity=".8" stroke-width="1.39"><circle cx="639.7" cy="553.1" r="3.1"/></g><g fill="#433e85" stroke="#433e85" fill-opacity=".8" stroke-opacity=".8" stroke-width="1.39"><circle cx="639.6" cy="558.5" r="3.1"/></g><g fill="#424086" stroke="#424086" fill-opacity=".8" stroke-opacity=".8" stroke-width="1.39"><circle cx="639.4" cy="564.2" r="3.1"/><circle cx="639.2" cy="570.2" r="3.1"/></g><path class="d w" d="M653.8 390.3h0m0 1.2h0m-.1 1.2h0m0 1.2h0m-.1 1.2h0m0 1.2h0m0 1.2h0" stroke="#440154"/><path class="d w" d="M653.5 398.8h0m0 1.2h0m-.1 1.2h0m0 1.3h0m0 1.2h0m-.1 1.3h0m0 1.3h0m-.1 1.3h0m0 1.3h0m-.1 1.3h0" stroke="#450457"/><path class="d w" d="M653.1 411.5h0m0 1.4h0m-.1 1.3h0m0 1.4h0m-.1 1.4h0m0 1.4h0m-.1 1.5h0" stroke="#46085c"/><path class="d w" d="M652.8 421.3h0m-.1 1.5h0m0 1.5h0m-.1 1.6h0m0 1.5h0m-.1 1.6h0m0 1.6h0" stroke="#460b5e"/><path class="d w" d="M652.4 432.3h0m0 1.6h0" stroke="#471063"/><g fill="#471063" stroke="#471063" fill-opacity=".9" stroke-opacity=".9" stroke-width="1.39"><circle cx="652.3" cy="435.6" r="3.1"/><circle cx="652.3" cy="437.4" r="3.1"/><circle cx="652.2" cy="439.1" r="3.1"/></g><path class="d" d="M652.1 441h0m0 1.8h0m-.1 1.9h0m-.1 1.9h0m0 2h0" stroke="#471365" stroke-opacity=".9"/><path class="d" d="M651.8 450.6h0m-.1 2.1h0m0 2.1h0m-.1 2.2h0" stroke="#481769" stroke-opacity=".9"/><path class="d" d="M651.5 459.3h0m0 2.3h0m-.1 2.3h0m-.1 2.5h0" stroke="#481a6c" stroke-opacity=".9"/><path class="d" d="M651.2 468.9h0m-.1 2.5h0m-.1 2.7h0" stroke="#481d6f" stroke-opacity=".9"/><path class="d" d="M651 476.8h0" stroke="#482173" stroke-opacity=".9"/><path class="d" d="M650.8 479.6h0m-.1 2.9h0" stroke="#482173" stroke-opacity=".9"/><path class="d" d="M650.6 485.5h0" stroke="#482475" stroke-opacity=".9"/><g fill="#482475" stroke="#482475" fill-opacity=".9" stroke-opacity=".9" stroke-width="1.39"><circle cx="650.4" cy="488.7" r="3.1"/></g><g fill="#482878" stroke="#482878" fill-opacity=".9" stroke-opacity=".9" stroke-width="1.39"><circle cx="650.3" cy="491.9" r="3.1"/><circle cx="650.1" cy="495.2" r="3.1"/><circle cx="650" cy="498.6" r="3.1"/></g><g fill="#472a7a" stroke="#472a7a" fill-opacity=".9" stroke-opacity=".9" stroke-width="1.39"><circle cx="649.8" cy="502.2" r="3.1"/><circle cx="649.6" cy="505.9" r="3.1"/></g><g fill="#472e7c" stroke="#472e7c" fill-opacity=".9" stroke-opacity=".9" stroke-width="1.39"><circle cx="649.5" cy="509.8" r="3.1"/></g><g fill="#472e7c" stroke="#472e7c" fill-opacity=".8" stroke-opacity=".8" stroke-width="1.39"><circle cx="649.3" cy="513.8" r="3.1"/></g><g fill="#46307e" stroke="#46307e" fill-opacity=".8" stroke-opacity=".8" stroke-width="1.39"><circle cx="649.1" cy="517.9" r="3.1"/><circle cx="648.9" cy="522.3" r="3.1"/></g><g fill="#463480" stroke="#463480" fill-opacity=".8" stroke-opacity=".8" stroke-width="1.39"><circle cx="648.7" cy="526.8" r="3.1"/></g><g fill="#453781" stroke="#453781" fill-opacity=".8" stroke-opacity=".8" stroke-width="1.39"><circle cx="648.5" cy="531.5" r="3.1"/><circle cx="648.3" cy="536.4" r="3.1"/></g><g fill="#443a83" stroke="#443a83" fill-opacity=".8" stroke-opacity=".8" stroke-width="1.39"><circle cx="648" cy="541.5" r="3.1"/></g><g fill="#433e85" stroke="#433e85" fill-opacity=".8" stroke-opacity=".8" stroke-width="1.39"><circle cx="647.8" cy="546.9" r="3.1"/><circle cx="647.5" cy="552.6" r="3.1"/></g><g fill="#424086" stroke="#424086" fill-opacity=".8" stroke-opacity=".8" stroke-width="1.39"><circle cx="647.3" cy="558.5" r="3.1"/></g><path class="d w" d="M661.2 381.2h0m0 1.2h0m-.1 1.2h0m0 1.2h0m-.1 1.2h0m0 1.2h0m-.1 1.2h0" stroke="#440154"/><path class="d w" d="M660.9 389.7h0m-.1 1.2h0m0 1.2h0m-.1 1.3h0m0 1.2h0m-.1 1.3h0m0 1.3h0m-.1 1.3h0m0 1.3h0m-.1 1.3h0" stroke="#450457"/><path class="d w" d="M660.4 402.4h0m-.1 1.4h0m0 1.3h0m-.1 1.4h0m-.1 1.4h0m0 1.4h0m-.1 1.4h0" stroke="#46085c"/><path class="d w" d="M660 412.2h0m-.1 1.5h0m0 1.5h0m-.1 1.5h0m-.1 1.6h0m0 1.5h0m-.1 1.6h0" stroke="#460b5e"/><path class="d w" d="M659.5 423.1h0m0 1.6h0" stroke="#471063"/><g fill="#471063" stroke="#471063" fill-opacity=".9" stroke-opacity=".9" stroke-width="1.39"><circle cx="659.4" cy="426.4" r="3.1"/><circle cx="659.3" cy="428.2" r="3.1"/><circle cx="659.3" cy="429.9" r="3.1"/></g><path class="d" d="M659.2 431.7h0m-.1 1.9h0m0 1.9h0m-.1 1.9h0m-.1 2h0" stroke="#471365" stroke-opacity=".9"/><path class="d" d="M658.8 441.4h0m-.1 2h0m0 2.1h0m-.1 2.2h0" stroke="#481769" stroke-opacity=".9"/><path class="d" d="M658.5 449.9h0m-.1 2.3h0m-.1 2.4h0m-.1 2.4h0" stroke="#481a6c" stroke-opacity=".9"/><path class="d" d="M658.1 459.4h0m-.1 2.6h0m-.1 2.6h0" stroke="#481d6f" stroke-opacity=".9"/><path class="d" d="M657.8 467.3h0m-.1 2.8h0" stroke="#482173" stroke-opacity=".9"/><path class="d" d="M657.5 473h0" stroke="#482173" stroke-opacity=".9"/><path class="d" d="M657.4 476h0m-.2 3h0" stroke="#482475" stroke-opacity=".9"/><g fill="#482475" stroke="#482475" fill-opacity=".9" stroke-opacity=".9" stroke-width="1.39"><circle cx="657" cy="482.2" r="3.1"/></g><g fill="#482878" stroke="#482878" fill-opacity=".9" stroke-opacity=".9" stroke-width="1.39"><circle cx="656.8" cy="485.5" r="3.1"/><circle cx="656.7" cy="488.9" r="3.1"/></g><g fill="#472a7a" stroke="#472a7a" fill-opacity=".9" stroke-opacity=".9" stroke-width="1.39"><circle cx="656.5" cy="492.4" r="3.1"/><circle cx="656.3" cy="496" r="3.1"/></g><g fill="#472e7c" stroke="#472e7c" fill-opacity=".9" stroke-opacity=".9" stroke-width="1.39"><circle cx="656.1" cy="499.8" r="3.1"/><circle cx="655.8" cy="503.8" r="3.1"/></g><g fill="#46307e" stroke="#46307e" fill-opacity=".8" stroke-opacity=".8" stroke-width="1.39"><circle cx="655.6" cy="507.9" r="3.1"/><circle cx="655.4" cy="512.1" r="3.1"/></g><g fill="#463480" stroke="#463480" fill-opacity=".8" stroke-opacity=".8" stroke-width="1.39"><circle cx="655.1" cy="516.5" r="3.1"/><circle cx="654.9" cy="521.2" r="3.1"/></g><g fill="#453781" stroke="#453781" fill-opacity=".8" stroke-opacity=".8" stroke-width="1.39"><circle cx="654.6" cy="526" r="3.1"/></g><g fill="#443a83" stroke="#443a83" fill-opacity=".8" stroke-opacity=".8" stroke-width="1.39"><circle cx="654.4" cy="531" r="3.1"/></g><g fill="#443a83" stroke="#443a83" fill-opacity=".8" stroke-opacity=".8" stroke-width="1.39"><circle cx="654.1" cy="536.3" r="3.1"/></g><g fill="#433e85" stroke="#433e85" fill-opacity=".8" stroke-opacity=".8" stroke-width="1.39"><circle cx="653.8" cy="541.8" r="3.1"/></g><g fill="#424086" stroke="#424086" fill-opacity=".8" stroke-opacity=".8" stroke-width="1.39"><circle cx="653.5" cy="547.6" r="3.1"/></g><g fill="#414487" stroke="#414487" fill-opacity=".8" stroke-opacity=".8" stroke-width="1.39"><circle cx="653.1" cy="553.7" r="3.1"/></g><path class="d w" d="M666.7 372h0m0 1.2h0m-.1 1.2h0m0 1.2h0m-.1 1.2h0m0 1.2h0m-.1 1.2h0" stroke="#440154"/><path class="d w" d="M666.4 380.5h0m-.1 1.2h0m0 1.2h0m-.1 1.3h0m-.1 1.2h0m0 1.3h0m-.1 1.3h0m0 1.2h0m-.1 1.3h0m0 1.4h0" stroke="#450457"/><path class="d w" d="M665.8 393.2h0m0 1.3h0m-.1 1.4h0m0 1.4h0m-.1 1.3h0m-.1 1.5h0m0 1.4h0m-.1 1.4h0" stroke="#46085c"/><path class="d w" d="M665.4 404.4h0m-.1 1.5h0m-.1 1.5h0m0 1.5h0m-.1 1.6h0m0 1.6h0" stroke="#460b5e"/><path class="d w" d="M665 413.7h0m-.1 1.7h0m0 1.6h0" stroke="#471063"/><g fill="#471063" stroke="#471063" fill-opacity=".9" stroke-opacity=".9" stroke-width="1.39"><circle cx="664.8" cy="418.8" r="3.1"/><circle cx="664.7" cy="420.5" r="3.1"/><circle cx="664.6" cy="422.3" r="3.1"/></g><path class="d" d="M664.6 424.1h0m-.1 1.8h0m-.1 1.9h0m-.1 2h0m-.1 2h0" stroke="#471365" stroke-opacity=".9"/><path class="d" d="M664.2 433.8h0m-.1 2.1h0m-.1 2.1h0m-.1 2.2h0" stroke="#481769" stroke-opacity=".9"/><path class="d" d="M663.8 442.4h0m-.1 2.3h0m-.1 2.3h0m-.1 2.5h0" stroke="#481a6c" stroke-opacity=".9"/><path class="d" d="M663.4 451.9h0m-.1 2.6h0m-.1 2.6h0" stroke="#481d6f" stroke-opacity=".9"/><path class="d" d="M663.1 459.8h0m-.1 2.8h0" stroke="#482173" stroke-opacity=".9"/><path class="d" d="M662.8 465.5h0" stroke="#482173" stroke-opacity=".9"/><path class="d" d="M662.6 468.5h0m-.2 3h0" stroke="#482475" stroke-opacity=".9"/><g fill="#482475" stroke="#482475" fill-opacity=".9" stroke-opacity=".9" stroke-width="1.39"><circle cx="662.3" cy="474.7" r="3.1"/></g><g fill="#482878" stroke="#482878" fill-opacity=".9" stroke-opacity=".9" stroke-width="1.39"><circle cx="662.1" cy="478" r="3.1"/><circle cx="661.9" cy="481.4" r="3.1"/></g><g fill="#472a7a" stroke="#472a7a" fill-opacity=".9" stroke-opacity=".9" stroke-width="1.39"><circle cx="661.7" cy="484.9" r="3.1"/><circle cx="661.5" cy="488.5" r="3.1"/><circle cx="661.3" cy="492.3" r="3.1"/></g><g fill="#472e7c" stroke="#472e7c" fill-opacity=".9" stroke-opacity=".9" stroke-width="1.39"><circle cx="661" cy="496.2" r="3.1"/></g><g fill="#472e7c" stroke="#472e7c" fill-opacity=".8" stroke-opacity=".8" stroke-width="1.39"><circle cx="660.8" cy="500.3" r="3.1"/></g><g fill="#46307e" stroke="#46307e" fill-opacity=".8" stroke-opacity=".8" stroke-width="1.39"><circle cx="660.6" cy="504.5" r="3.1"/></g><g fill="#463480" stroke="#463480" fill-opacity=".8" stroke-opacity=".8" stroke-width="1.39"><circle cx="660.3" cy="508.9" r="3.1"/><circle cx="660.1" cy="513.5" r="3.1"/></g><g fill="#453781" stroke="#453781" fill-opacity=".8" stroke-opacity=".8" stroke-width="1.39"><circle cx="659.8" cy="518.3" r="3.1"/><circle cx="659.5" cy="523.3" r="3.1"/></g><g fill="#443a83" stroke="#443a83" fill-opacity=".8" stroke-opacity=".8" stroke-width="1.39"><circle cx="659.2" cy="528.5" r="3.1"/></g><g fill="#433e85" stroke="#433e85" fill-opacity=".8" stroke-opacity=".8" stroke-width="1.39"><circle cx="658.9" cy="533.9" r="3.1"/></g><g fill="#424086" stroke="#424086" fill-opacity=".8" stroke-opacity=".8" stroke-width="1.39"><circle cx="658.6" cy="539.6" r="3.1"/><circle cx="658.2" cy="545.6" r="3.1"/></g><path class="d" d="M496.7 493.3h0m.2 1.3h0m.3 1.3h0" stroke="#471365"/><path class="d" d="M497.4 497.1h0m.2 1.3h0m.3 1.3h0m.2 1.3h0" stroke="#481769"/><path class="d" d="M498.3 502.3h0m.3 1.4h0m.2 1.3h0m.3 1.4h0" stroke="#481a6c"/><path class="d" d="M499.3 507.8h0m.3 1.4h0m.2 1.4h0m.3 1.5h0" stroke="#481d6f" stroke-opacity=".9"/><path class="d" d="M500.3 513.6h0m.3 1.5h0m.3 1.6h0" stroke="#482173" stroke-opacity=".9"/><path class="d" d="M501.2 518.3h0m.3 1.7h0m.3 1.7h0" stroke="#482475" stroke-opacity=".9"/><path class="d" d="M502.1 523.5h0m.4 1.8h0m.3 1.9h0" stroke="#482878" stroke-opacity=".9"/><path class="d" d="M503.2 529.2h0m.3 2.1h0m.5 2.1h0" stroke="#472a7a" stroke-opacity=".9"/><path class="d" d="M504.4 535.7h0m.5 2.4h0" stroke="#472e7c" stroke-opacity=".9"/><path class="d" d="M505.4 540.6h0m.5 2.7h0" stroke="#46307e" stroke-opacity=".9"/><path class="d" d="M506.4 546.1h0" stroke="#463480" stroke-opacity=".9"/><g fill="#463480" stroke="#463480" fill-opacity=".9" stroke-opacity=".9" stroke-width="1.39"><circle cx="507" cy="549.1" r="3.1"/></g><g fill="#453781" stroke="#453781" fill-opacity=".9" stroke-opacity=".9" stroke-width="1.39"><circle cx="507.6" cy="552.3" r="3.1"/><circle cx="508.3" cy="555.7" r="3.1"/></g><g fill="#443a83" stroke="#443a83" fill-opacity=".9" stroke-opacity=".9" stroke-width="1.39"><circle cx="509" cy="559.4" r="3.1"/></g><g fill="#433e85" stroke="#433e85" fill-opacity=".8" stroke-opacity=".8" stroke-width="1.39"><circle cx="509.8" cy="563.4" r="3.1"/></g><g fill="#424086" stroke="#424086" fill-opacity=".8" stroke-opacity=".8" stroke-width="1.39"><circle cx="510.6" cy="567.7" r="3.1"/></g><g fill="#414487" stroke="#414487" fill-opacity=".8" stroke-opacity=".8" stroke-width="1.39"><circle cx="511.5" cy="572.4" r="3.1"/></g><path class="d" d="M511.7 506.7h0m.3 1.3h0" stroke="#471365"/><path class="d" d="M512.2 509.2h0m.3 1.3h0m.3 1.3h0m.3 1.3h0" stroke="#481769"/><path class="d" d="M513.4 514.4h0m.2 1.3h0m.3 1.3h0m.3 1.4h0" stroke="#481a6c"/><path class="d" d="M514.5 519.8h0m.3 1.4h0m.3 1.4h0" stroke="#481d6f" stroke-opacity=".9"/><path class="d" d="M515.4 524.1h0m.4 1.5h0m.3 1.5h0" stroke="#482173" stroke-opacity=".9"/><path class="d" d="M516.4 528.7h0m.4 1.7h0m.2 1.7h0" stroke="#482475" stroke-opacity=".9"/><path class="d" d="M517.3 533.9h0m.2 1.9h0m.3 1.9h0" stroke="#482878" stroke-opacity=".9"/><path class="d" d="M518.1 539.8h0m.3 2.1h0" stroke="#472a7a" stroke-opacity=".9"/><path class="d" d="M518.8 544.2h0m.3 2.3h0" stroke="#472e7c" stroke-opacity=".9"/><path class="d" d="M519.5 549.1h0m.4 2.6h0" stroke="#46307e" stroke-opacity=".9"/><path class="d" d="M520.3 554.6h0" stroke="#463480" stroke-opacity=".9"/><g fill="#463480" stroke="#463480" fill-opacity=".9" stroke-opacity=".9" stroke-width="1.39"><circle cx="520.7" cy="557.7" r="3.1"/></g><g fill="#453781" stroke="#453781" fill-opacity=".9" stroke-opacity=".9" stroke-width="1.39"><circle cx="521.2" cy="561" r="3.1"/></g><g fill="#443a83" stroke="#443a83" fill-opacity=".9" stroke-opacity=".9" stroke-width="1.39"><circle cx="521.7" cy="564.5" r="3.1"/></g><g fill="#433e85" stroke="#433e85" fill-opacity=".8" stroke-opacity=".8" stroke-width="1.39"><circle cx="522.3" cy="568.4" r="3.1"/></g><g fill="#424086" stroke="#424086" fill-opacity=".8" stroke-opacity=".8" stroke-width="1.39"><circle cx="522.9" cy="572.7" r="3.1"/><circle cx="523.6" cy="577.3" r="3.1"/></g><path class="d" d="M533.3 496.7h0m.2 1.3h0m.2 1.3h0" stroke="#471365"/><path class="d" d="M533.9 500.6h0m.2 1.3h0m.2 1.3h0m.2 1.3h0" stroke="#481769"/><path class="d" d="M534.7 505.8h0m.2 1.3h0m.2 1.4h0m.2 1.3h0m.2 1.4h0" stroke="#481a6c"/><path class="d" d="M535.7 512.6h0m.2 1.4h0m.2 1.5h0m.2 1.4h0" stroke="#481d6f" stroke-opacity=".9"/><path class="d" d="M536.6 518.4h0m.2 1.6h0m.2 1.5h0" stroke="#482173" stroke-opacity=".9"/><path class="d" d="M537.3 523.2h0m.2 1.6h0m.3 1.7h0m.2 1.8h0" stroke="#482475" stroke-opacity=".9"/><path class="d" d="M538.3 530.1h0m.2 1.9h0m.3 2h0" stroke="#482878" stroke-opacity=".9"/><path class="d" d="M539 536h0m.3 2.1h0m.3 2.2h0" stroke="#472a7a" stroke-opacity=".9"/><path class="d" d="M539.8 542.6h0m.3 2.5h0" stroke="#472e7c" stroke-opacity=".9"/><path class="d" d="M540.4 547.6h0m.4 2.7h0" stroke="#46307e" stroke-opacity=".9"/><path class="d" d="M541.1 553.1h0" stroke="#463480" stroke-opacity=".9"/><g fill="#463480" stroke="#463480" fill-opacity=".9" stroke-opacity=".9" stroke-width="1.39"><circle cx="541.5" cy="556.1" r="3.1"/></g><g fill="#453781" stroke="#453781" fill-opacity=".9" stroke-opacity=".9" stroke-width="1.39"><circle cx="541.9" cy="559.3" r="3.1"/><circle cx="542.3" cy="562.7" r="3.1"/></g><g fill="#443a83" stroke="#443a83" fill-opacity=".9" stroke-opacity=".9" stroke-width="1.39"><circle cx="542.7" cy="566.3" r="3.1"/><circle cx="543.2" cy="570.2" r="3.1"/></g><g fill="#433e85" stroke="#433e85" fill-opacity=".8" stroke-opacity=".8" stroke-width="1.39"><circle cx="543.7" cy="574.4" r="3.1"/></g><g fill="#424086" stroke="#424086" fill-opacity=".8" stroke-opacity=".8" stroke-width="1.39"><circle cx="544.3" cy="578.9" r="3.1"/></g><g fill="#414487" stroke="#414487" fill-opacity=".8" stroke-opacity=".8" stroke-width="1.39"><circle cx="544.9" cy="583.8" r="3.1"/></g></g>
<g id="text_22">
<g transform="translate(0 -0.72)"><text style="font-size: 12px; font-family: 'DejaVu Sans', 'Liberation Sans', sans-serif; text-anchor: start" x="342.804" y="71.76">LiDAR</text></g><g transform="translate(0 -0.72)"><text style="font-size: 12px; font-family: 'DejaVu Sans', 'Liberation Sans', sans-serif; text-anchor: start" x="382.179" y="71.76">Point</text></g><g transform="translate(-0.18 -0.72)"><text style="font-size: 12px; font-family: 'DejaVu Sans', 'Liberation Sans', sans-serif; text-anchor: start" x="415.772" y="71.76">3D</text></g><g transform="translate(-0.36 -0.72)"><text style="font-size: 12px; font-family: 'DejaVu Sans', 'Liberation Sans', sans-serif; text-anchor: start" x="436.449" y="71.76">Coordinate</text></g><g transform="translate(-0.54 -0.72)"><text style="font-size: 12px; font-family: 'DejaVu Sans', 'Liberation Sans', sans-serif; text-anchor: start" x="506.008" y="71.76">Graph</text></g>
</g>
<g id="legend_1"><g transform="matrix(0.996625 0 0 1.020408 2.4484 -1.3298)"><g id="patch_6">
<path d="M 568.376875 100.438125 L 625.88 100.438125 
Q 627.88 100.438125 627.88 98.438125 L 627.88 84.76 
Q 627.88 82.76 625.88 82.76 L 568.376875 82.76 
Q 566.376875 82.76 566.376875 84.76 L 566.376875 98.438125 
Q 566.376875 100.438125 568.376875 100.438125 z
" style="fill: #ffffff; opacity: 0.8; stroke: #cccccc; stroke-linejoin: miter"/>
</g></g><g transform="matrix(0.996625 0 0 1.020408 2.4484 -1.3298)"><g id="Path3DCollection_1">
<g>
<use href="#mafe2799c75" x="580.376875" y="91.733438" style="fill: #440154; stroke: #440154"/>
</g>
</g></g><g id="text_23">
<g transform="translate(-0.72 0)"><text style="font-size: 10px; font-family: 'DejaVu Sans', 'Liberation Sans', sans-serif; text-anchor: start" x="598.376875" y="94.358438">point</text></g>
</g></g>
</g>
<g id="axes_2">
<g id="patch_7">
<path d="M 205.92 576.72 L 300.96 576.72 L 300.96 481.68 L 205.92 481.68 z" style="fill: #ffffff"/>
</g>
<defs>
<path id="m895b0182d1" d="M 0 3 C 0.795609 3 1.55874 2.683901 2.12132 2.12132 C 2.683901 1.55874 3 0.795609 3 0 C 3 -0.795609 2.683901 -1.55874 2.12132 -2.12132 C 1.55874 -2.683901 0.795609 -3 0 -3 C -0.795609 -3 -1.55874 -2.683901 -2.12132 -2.12132 C -2.683901 -1.55874 -3 -0.795609 -3 0 C -3 0.795609 -2.683901 1.55874 -2.12132 2.12132 C -1.55874 2.683901 -0.795609 3 0 3 z
" style="stroke: #90ee90"/>
</defs><g id="pts2d" transform="scale(0.72)" clip-path="url(#c2d)"><clipPath id="c2d"><rect x="287" y="670" width="131" height="131"/></clipPath><path d="M304.8 803.8L402.1 803.8L402.5 786.9L400.4 773.9L394.7 759.3L385.8 745.7L385.8 740.3L390.1 738.3L391.9 734.6L391.1 727.3L392.5 723.1L389 719.6L376.7 718.9L363.6 719.7L350.1 722.5L338.1 721.4L330.2 720.9L323 722.7L319.6 727.5L318.5 736.7L319.8 747.3L313.6 756.1L308.8 767.4L305.5 783.6Z" fill="#90ee90" stroke="#90ee90" stroke-width="4.4" stroke-linejoin="round"/></g>
<g id="PathCollection_1"/>
<g id="matplotlib.axis_1">
<g id="xtick_19">
<g id="line2d_22">
<defs>
<path id="m6fb6e00fe4" d="M 0 0 L 0 3.5 
" style="stroke: #000000; stroke-width: 0.8"/>
</defs>
<g>
<use href="#m6fb6e00fe4" x="212.04" y="577.08" style="stroke: #000000; stroke-width: 0.8"/>
</g>
</g>
<g id="text_24">
<g transform="translate(-0.54 0.72)"><text style="font-size: 10px; font-family: 'DejaVu Sans', 'Liberation Sans', sans-serif; text-anchor: middle" x="211.400177" y="591.318438">−500</text></g>
</g>
</g>
<g id="xtick_20">
<g id="line2d_23">
<g>
<use href="#m6fb6e00fe4" x="253.8" y="577.08" style="stroke: #000000; stroke-width: 0.8"/>
</g>
</g>
<g id="text_25">
<g transform="translate(0.9 0.72)"><text style="font-size: 10px; font-family: 'DejaVu Sans', 'Liberation Sans', sans-serif; text-anchor: middle" x="253.565217" y="591.318438">0</text></g>
</g>
</g>
<g id="xtick_21">
<g id="line2d_24">
<g>
<use href="#m6fb6e00fe4" x="296.28" y="577.08" style="stroke: #000000; stroke-width: 0.8"/>
</g>
</g>
<g id="text_26">
<g transform="translate(-0.54 0.72)"><text style="font-size: 10px; font-family: 'DejaVu Sans', 'Liberation Sans', sans-serif; text-anchor: middle" x="295.730257" y="591.318438">500</text></g>
</g>
</g>
<g id="text_27">
<g transform="translate(-0.18 1.44)"><text style="font-size: 10px; font-family: 'DejaVu Sans', 'Liberation Sans', sans-serif; text-anchor: middle" x="253.565217" y="604.996562">X (cm)</text></g>
</g>
</g>
<g id="matplotlib.axis_2">
<g id="ytick_1">
<g id="line2d_25">
<defs>
<path id="m45dd678124" d="M 0 0 L -3.5 0 
" style="stroke: #000000; stroke-width: 0.8"/>
</defs>
<g>
<use href="#m45dd678124" x="206.28" y="572.04" style="stroke: #000000; stroke-width: 0.8"/>
</g>
</g>
<g id="text_28">
<g transform="translate(-0.36 0)"><text style="font-size: 10px; font-family: 'DejaVu Sans', 'Liberation Sans', sans-serif; text-anchor: end" x="199.045217" y="575.164259">−500</text></g>
</g>
</g>
<g id="ytick_2">
<g id="line2d_26">
<g>
<use href="#m45dd678124" x="206.28" y="529.56" style="stroke: #000000; stroke-width: 0.8"/>
</g>
</g>
<g id="text_29">
<g transform="translate(1.08 0)"><text style="font-size: 10px; font-family: 'DejaVu Sans', 'Liberation Sans', sans-serif; text-anchor: end" x="199.045217" y="532.999219">0</text></g>
</g>
</g>
<g id="ytick_3">
<g id="line2d_27">
<g>
<use href="#m45dd678124" x="206.28" y="487.08" style="stroke: #000000; stroke-width: 0.8"/>
</g>
</g>
<g id="text_30">
<g transform="translate(-0.72 0)"><text style="font-size: 10px; font-family: 'DejaVu Sans', 'Liberation Sans', sans-serif; text-anchor: end" x="199.045217" y="490.834179">500</text></g>
</g>
</g>
<g id="text_31">
<g transform="translate(-0.72 0.36)"><text style="font-size: 10px; font-family: 'DejaVu Sans', 'Liberation Sans', sans-serif; text-anchor: middle" x="165.498342" y="529.2" transform="rotate(-90 165.498342 529.2)">Y (cm)</text></g>
</g>
</g>
<g id="patch_8">
<path d="M 206.28 577.08 L 206.28 482.04" style="fill: none; stroke: #000000; stroke-width: 0.8; stroke-linejoin: miter; stroke-linecap: square"/>
</g>
<g id="patch_9">
<path d="M 301.32 577.08 L 301.32 482.04" style="fill: none; stroke: #000000; stroke-width: 0.8; stroke-linejoin: miter; stroke-linecap: square"/>
</g>
<g id="patch_10">
<path d="M 206.28 577.08 L 301.32 577.08" style="fill: none; stroke: #000000; stroke-width: 0.8; stroke-linejoin: miter; stroke-linecap: square"/>
</g>
<g id="patch_11">
<path d="M 206.28 482.04 L 301.32 482.04" style="fill: none; stroke: #000000; stroke-width: 0.8; stroke-linejoin: miter; stroke-linecap: square"/>
</g>
<g id="text_32">
<g transform="translate(0.54 -0.72)"><text style="font-size: 12px; font-family: 'DejaVu Sans', 'Liberation Sans', sans-serif; text-anchor: start" x="153.57" y="475.68">LiDAR</text></g><g transform="translate(0.54 -0.36)"><text style="font-size: 12px; font-family: 'DejaVu Sans', 'Liberation Sans', sans-serif; text-anchor: start" x="192.945" y="475.68">Point</text></g><g transform="translate(0.54 -0.54)"><text style="font-size: 12px; font-family: 'DejaVu Sans', 'Liberation Sans', sans-serif; text-anchor: start" x="226.537" y="475.68">2D</text></g><g transform="translate(0.36 -0.36)"><text style="font-size: 12px; font-family: 'DejaVu Sans', 'Liberation Sans', sans-serif; text-anchor: start" x="247.215" y="475.68">Coordinate</text></g><g transform="translate(0 -0.72)"><text style="font-size: 12px; font-family: 'DejaVu Sans', 'Liberation Sans', sans-serif; text-anchor: start" x="316.773" y="475.68">Graph</text></g>
</g>
<g id="legend_2"><g transform="matrix(0.996482 0 0 1.024585 1.6028 -11.6060)"><g id="patch_12">
<path d="M 312.837217 519.03625 L 370.340342 519.03625 
Q 372.340342 519.03625 372.340342 517.03625 L 372.340342 488.68 
Q 372.340342 486.68 370.340342 486.68 L 312.837217 486.68 
Q 310.837217 486.68 310.837217 488.68 L 310.837217 517.03625 
Q 310.837217 519.03625 312.837217 519.03625 z
" style="fill: #ffffff; opacity: 0.8; stroke: #cccccc; stroke-linejoin: miter"/>
</g></g><g transform="matrix(0.996482 0 0 1.024585 1.6028 -11.6060)"><g id="PathCollection_2">
<g>
<use href="#m895b0182d1" x="324.837217" y="495.653437" style="fill: #90ee90; stroke: #90ee90"/>
</g>
</g></g><g id="text_33">
<g transform="translate(-0.72 0.72)"><text style="font-size: 10px; font-family: 'DejaVu Sans', 'Liberation Sans', sans-serif; text-anchor: start" x="342.837217" y="498.278437">point</text></g>
</g><g transform="matrix(0.996482 0 0 1.024585 1.6028 -11.6060)"><g id="PathCollection_3">
<defs>
<path id="mede7740ad2" d="M 0 3 C 0.795609 3 1.55874 2.683901 2.12132 2.12132 C 2.683901 1.55874 3 0.795609 3 0 C 3 -0.795609 2.683901 -1.55874 2.12132 -2.12132 C 1.55874 -2.683901 0.795609 -3 0 -3 C -0.795609 -3 -1.55874 -2.683901 -2.12132 -2.12132 C -2.683901 -1.55874 -3 -0.795609 -3 0 C -3 0.795609 -2.683901 1.55874 -2.12132 2.12132 C -1.55874 2.683901 -0.795609 3 0 3 z
" style="stroke: #0000ff"/>
</defs>
<g>
<use href="#mede7740ad2" x="324.837217" y="510.331563" style="fill: #0000ff; stroke: #0000ff"/>
</g>
</g></g><g id="text_34">
<g transform="translate(0 0.36)"><text style="font-size: 10px; font-family: 'DejaVu Sans', 'Liberation Sans', sans-serif; text-anchor: start" x="342.837217" y="512.956563">wall</text></g>
</g></g>
</g>
<g id="axes_3">
<g id="patch_13">
<path d="M 486.72 576.72 L 777.6 576.72 L 777.6 481.68 L 486.72 481.68 z" style="fill: #ffffff"/>
</g>
<g id="patch_14">
<path d="M 489.6 486 L 659.52 486 L 659.52 520.56 L 778.32 520.56 L 778.32 576.72 L 489.6 576.72 z" clip-path="url(#p2df808883c)" style="fill: #0000ff"/>
</g>
<g id="matplotlib.axis_3">
<g id="xtick_22">
<g id="line2d_28">
<g>
<use href="#m6fb6e00fe4" x="487.08" y="577.08" style="stroke: #000000; stroke-width: 0.8"/>
</g>
</g>
<g id="text_35">
<g transform="translate(0.54 0.72)"><text style="font-size: 10px; font-family: 'DejaVu Sans', 'Liberation Sans', sans-serif; text-anchor: middle" x="486.469565" y="591.318438">0</text></g>
</g>
</g>
<g id="xtick_23">
<g id="line2d_29">
<g>
<use href="#m6fb6e00fe4" x="524.52" y="577.08" style="stroke: #000000; stroke-width: 0.8"/>
</g>
</g>
<g id="text_36">
<g transform="translate(0 0.72)"><text style="font-size: 10px; font-family: 'DejaVu Sans', 'Liberation Sans', sans-serif; text-anchor: middle" x="524.278713" y="591.318438">100</text></g>
</g>
</g>
<g id="xtick_24">
<g id="line2d_30">
<g>
<use href="#m6fb6e00fe4" x="562.68" y="577.08" style="stroke: #000000; stroke-width: 0.8"/>
</g>
</g>
<g id="text_37">
<g transform="translate(0.36 0.72)"><text style="font-size: 10px; font-family: 'DejaVu Sans', 'Liberation Sans', sans-serif; text-anchor: middle" x="562.08786" y="591.318438">200</text></g>
</g>
</g>
<g id="xtick_25">
<g id="line2d_31">
<g>
<use href="#m6fb6e00fe4" x="600.12" y="577.08" style="stroke: #000000; stroke-width: 0.8"/>
</g>
</g>
<g id="text_38">
<g transform="translate(-0.72 0.72)"><text style="font-size: 10px; font-family: 'DejaVu Sans', 'Liberation Sans', sans-serif; text-anchor: middle" x="599.897007" y="591.318438">300</text></g>
</g>
</g>
<g id="xtick_26">
<g id="line2d_32">
<g>
<use href="#m6fb6e00fe4" x="638.28" y="577.08" style="stroke: #000000; stroke-width: 0.8"/>
</g>
</g>
<g id="text_39">
<g transform="translate(-0.36 0.72)"><text style="font-size: 10px; font-family: 'DejaVu Sans', 'Liberation Sans', sans-serif; text-anchor: middle" x="637.706155" y="591.318438">400</text></g>
</g>
</g>
<g id="xtick_27">
<g id="line2d_33">
<g>
<use href="#m6fb6e00fe4" x="675.72" y="577.08" style="stroke: #000000; stroke-width: 0.8"/>
</g>
</g>
<g id="text_40">
<g transform="translate(-0.72 0.72)"><text style="font-size: 10px; font-family: 'DejaVu Sans', 'Liberation Sans', sans-serif; text-anchor: middle" x="675.515302" y="591.318438">500</text></g>
</g>
</g>
<g id="xtick_28">
<g id="line2d_34">
<g>
<use href="#m6fb6e00fe4" x="713.88" y="577.08" style="stroke: #000000; stroke-width: 0.8"/>
</g>
</g>
<g id="text_41">
<g transform="translate(0.36 0.72)"><text style="font-size: 10px; font-family: 'DejaVu Sans', 'Liberation Sans', sans-serif; text-anchor: middle" x="713.324449" y="591.318438">600</text></g>
</g>
</g>
<g id="xtick_29">
<g id="line2d_35">
<g>
<use href="#m6fb6e00fe4" x="751.32" y="577.08" style="stroke: #000000; stroke-width: 0.8"/>
</g>
</g>
<g id="text_42">
<g transform="translate(-0.9 0.72)"><text style="font-size: 10px; font-family: 'DejaVu Sans', 'Liberation Sans', sans-serif; text-anchor: middle" x="751.133597" y="591.318438">700</text></g>
</g>
</g>
</g>
<g id="matplotlib.axis_4">
<g id="ytick_4">
<g id="line2d_36">
<g>
<use href="#m45dd678124" x="487.08" y="577.08" style="stroke: #000000; stroke-width: 0.8"/>
</g>
</g>
<g id="text_43">
<g transform="translate(0.72 0)"><text style="font-size: 10px; font-family: 'DejaVu Sans', 'Liberation Sans', sans-serif; text-anchor: end" x="479.469565" y="580.519219">0</text></g>
</g>
</g>
<g id="ytick_5">
<g id="line2d_37">
<g>
<use href="#m45dd678124" x="487.08" y="546.84" style="stroke: #000000; stroke-width: 0.8"/>
</g>
</g>
<g id="text_44">
<g transform="translate(0.18 0)"><text style="font-size: 10px; font-family: 'DejaVu Sans', 'Liberation Sans', sans-serif; text-anchor: end" x="479.469565" y="550.008785">2000</text></g>
</g>
</g>
<g id="ytick_6">
<g id="line2d_38">
<g>
<use href="#m45dd678124" x="487.08" y="515.88" style="stroke: #000000; stroke-width: 0.8"/>
</g>
</g>
<g id="text_45">
<g transform="translate(0.18 0)"><text style="font-size: 10px; font-family: 'DejaVu Sans', 'Liberation Sans', sans-serif; text-anchor: end" x="479.469565" y="519.498352">4000</text></g>
</g>
</g>
<g id="ytick_7">
<g id="line2d_39">
<g>
<use href="#m45dd678124" x="487.08" y="485.64" style="stroke: #000000; stroke-width: 0.8"/>
</g>
</g>
<g id="text_46">
<g transform="translate(0.18 0)"><text style="font-size: 10px; font-family: 'DejaVu Sans', 'Liberation Sans', sans-serif; text-anchor: end" x="479.469565" y="488.987919">6000</text></g>
</g>
</g>
</g>
<g id="patch_15">
<path d="M 487.08 577.08 L 487.08 482.04" style="fill: none; stroke: #000000; stroke-width: 0.8; stroke-linejoin: miter; stroke-linecap: square"/>
</g>
<g id="patch_16">
<path d="M 777.96 577.08 L 777.96 482.04" style="fill: none; stroke: #000000; stroke-width: 0.8; stroke-linejoin: miter; stroke-linecap: square"/>
</g>
<g id="patch_17">
<path d="M 487.08 577.08 L 777.96 577.08" style="fill: none; stroke: #000000; stroke-width: 0.8; stroke-linejoin: miter; stroke-linecap: square"/>
</g>
<g id="patch_18">
<path d="M 487.08 482.04 L 777.96 482.04" style="fill: none; stroke: #000000; stroke-width: 0.8; stroke-linejoin: miter; stroke-linecap: square"/>
</g>
<g id="text_47">
<g transform="translate(0.36 -0.72)"><text style="font-size: 12px; font-family: 'DejaVu Sans', 'Liberation Sans', sans-serif; text-anchor: start" x="579.199" y="475.68">Height</text></g><g transform="translate(0.18 -0.72)"><text style="font-size: 12px; font-family: 'DejaVu Sans', 'Liberation Sans', sans-serif; text-anchor: start" x="622.647" y="475.68">Histogram</text></g>
</g>
<g id="legend_3"><g transform="matrix(1.000612 0 0 1.020408 -0.1378 -9.5731)"><g id="patch_19">
<path d="M 705.542188 504.358125 L 770.6 504.358125 
Q 772.6 504.358125 772.6 502.358125 L 772.6 488.68 
Q 772.6 486.68 770.6 486.68 L 705.542188 486.68 
Q 703.542188 486.68 703.542188 488.68 L 703.542188 502.358125 
Q 703.542188 504.358125 705.542188 504.358125 z
" style="fill: #ffffff; opacity: 0.8; stroke: #cccccc; stroke-linejoin: miter"/>
</g></g><g transform="matrix(1.000612 0 0 1.020408 -0.1378 -9.5731)"><g id="patch_20">
<path d="M 707.76 498.24 L 727.2 498.24 L 727.2 491.04 L 707.76 491.04 z" style="fill: #0000ff"/>
</g></g><g id="text_48">
<g transform="translate(-0.54 0.72)"><text style="font-size: 10px; font-family: 'DejaVu Sans', 'Liberation Sans', sans-serif; text-anchor: start" x="735.542188" y="498.278437">Height</text></g>
</g></g>
</g>
</g>
<defs>
<clipPath id="p7084a4b5de">
<rect x="252.72" y="77.76" width="380.16" height="380.16"/>
</clipPath>
<clipPath id="p7705e270d0">
<rect x="206.045217" y="481.68" width="95.04" height="95.04"/>
</clipPath>
<clipPath id="p2df808883c">
<rect x="486.469565" y="481.68" width="291.130435" height="95.04"/>
</clipPath>
</defs>
</svg>

</body></html>
